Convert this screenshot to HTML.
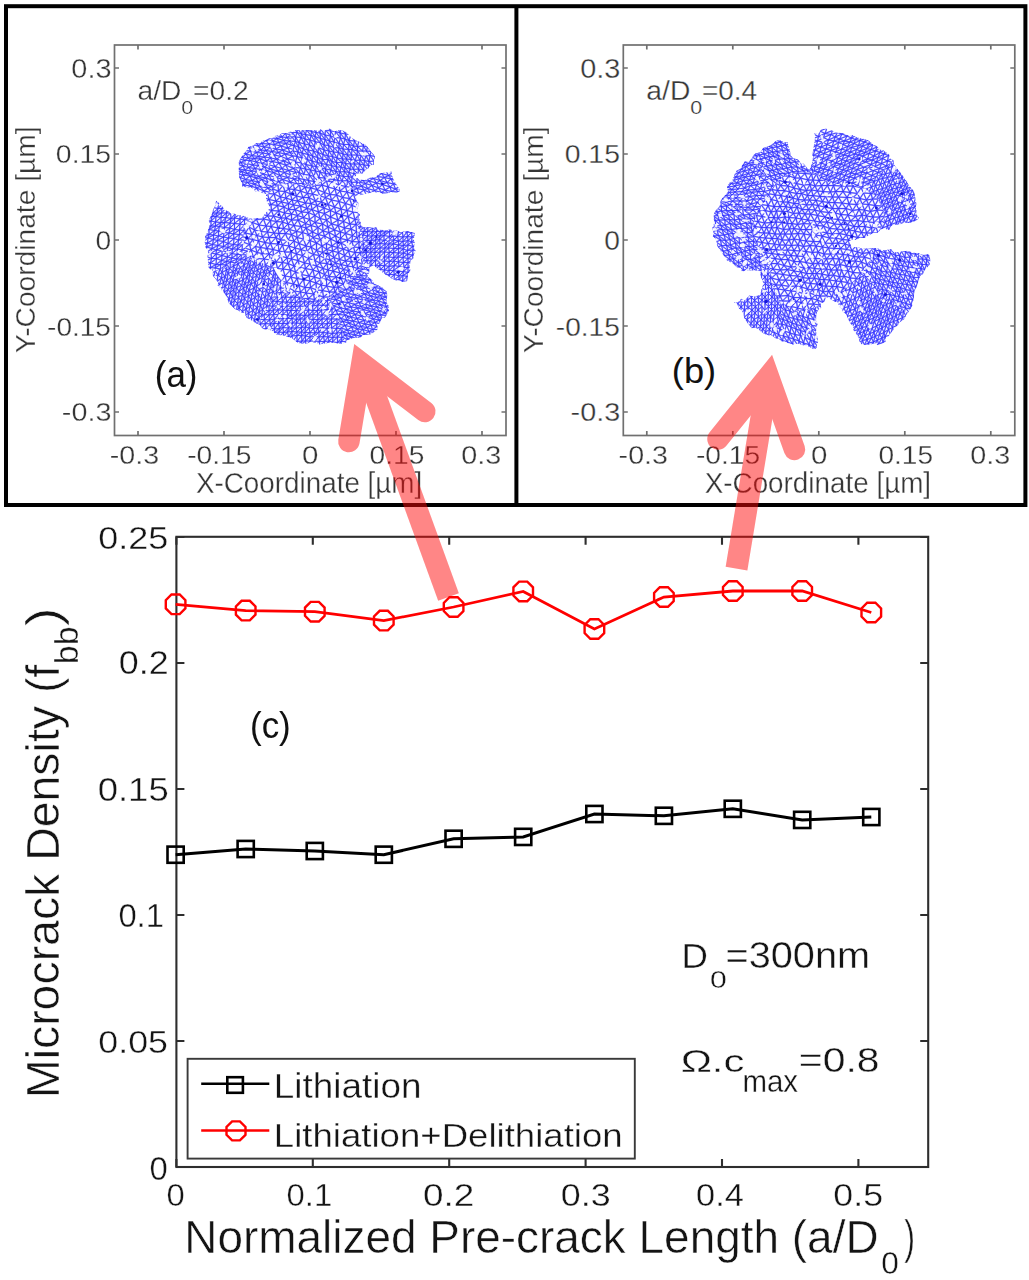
<!DOCTYPE html>
<html><head><meta charset="utf-8"><style>html,body{margin:0;padding:0;background:#fff;width:1029px;height:1280px;overflow:hidden}svg{display:block}</style></head>
<body><svg width="1029" height="1280" viewBox="0 0 1029 1280" font-family='"Liberation Sans", sans-serif'><rect x="0" y="0" width="1029" height="1280" fill="#fff"/>
<clipPath id="clip11"><polygon points="300.0,130.0 303.5,130.2 308.6,129.9 310.9,130.3 313.5,130.0 318.6,130.9 320.5,129.4 324.1,131.0 329.7,128.5 334.3,131.5 336.9,130.4 340.0,130.0 342.0,130.3 346.3,132.2 348.4,134.6 351.0,137.2 355.4,140.2 358.8,141.4 361.9,143.3 365.0,144.6 367.4,147.0 371.6,152.4 373.6,154.6 375.0,157.0 373.9,160.0 374.0,164.7 370.1,165.2 368.4,168.2 365.5,170.0 362.6,173.4 356.3,173.3 356.0,176.0 351.5,178.0 357.5,178.3 359.1,179.7 365.0,180.0 369.2,178.2 370.4,177.3 376.5,177.6 377.1,174.9 380.4,173.2 386.0,172.5 388.6,172.3 391.7,171.4 392.0,175.5 393.1,178.6 394.4,181.2 396.0,184.1 399.7,189.1 399.5,191.5 395.0,193.0 390.9,191.7 389.1,192.7 382.9,194.1 379.4,192.0 377.4,192.5 372.0,191.9 367.5,193.8 365.0,193.8 359.7,195.2 356.0,196.0 356.1,199.5 358.6,203.2 357.9,208.0 357.2,209.4 360.1,215.1 358.5,216.8 360.6,222.8 360.4,225.0 363.7,227.6 369.0,227.3 373.8,228.1 375.8,226.9 378.1,230.1 382.3,229.7 385.9,230.5 390.5,229.3 392.7,231.1 395.9,229.9 401.0,232.4 404.8,231.0 409.3,231.2 409.9,231.8 415.0,233.0 414.7,235.1 413.6,239.6 414.7,242.3 413.9,248.3 415.7,251.0 414.0,254.0 413.6,258.1 410.8,260.2 409.5,266.9 410.6,270.9 407.5,273.7 407.9,277.9 407.0,281.0 402.7,282.0 398.1,280.0 396.5,280.6 392.0,278.7 389.8,277.1 386.9,275.5 382.5,272.4 381.3,270.8 376.7,268.2 374.0,265.0 369.3,267.5 369.3,272.2 367.0,276.5 370.3,278.3 373.0,281.3 374.2,283.6 380.0,286.6 382.0,287.2 384.9,290.0 387.0,292.0 387.2,296.7 386.5,300.0 386.7,303.1 388.5,305.5 389.0,310.0 387.5,313.1 385.1,317.6 381.8,317.9 379.8,323.1 377.3,324.7 377.4,329.4 374.0,332.0 370.2,334.4 366.2,334.8 362.2,335.2 360.6,337.9 357.2,337.4 352.7,338.3 347.6,340.0 346.3,342.3 342.3,343.8 338.0,343.5 333.7,342.4 330.6,342.8 326.3,343.2 324.0,343.5 319.4,344.6 317.9,343.3 311.4,342.0 310.4,342.0 306.3,343.7 302.0,343.5 298.1,343.1 293.8,339.8 291.9,338.1 289.7,337.5 284.2,335.6 282.4,335.6 279.1,335.0 276.3,334.6 272.6,330.9 268.6,329.6 263.8,329.2 262.0,328.0 259.6,324.7 255.2,323.0 253.5,321.2 250.2,319.7 246.4,317.6 245.0,313.0 242.1,312.8 236.5,309.7 235.0,308.9 231.2,305.5 228.5,303.0 228.0,300.8 226.6,296.6 224.0,292.6 222.5,291.4 220.6,287.9 217.5,285.3 218.3,282.4 215.2,278.6 212.9,275.8 212.9,270.8 208.7,268.0 208.4,265.0 208.1,262.2 207.5,256.2 208.1,252.7 207.7,249.5 205.7,247.8 204.7,242.1 205.5,240.3 205.0,236.0 207.2,232.8 208.7,228.4 209.9,223.3 208.7,220.9 210.0,217.7 212.3,213.3 213.0,209.4 215.6,205.1 216.0,200.5 218.4,202.8 223.0,207.2 223.9,209.7 229.3,211.4 230.8,214.0 234.6,213.8 238.0,215.6 241.8,214.9 246.5,217.3 248.6,218.0 252.7,219.0 257.7,218.0 262.0,218.0 264.9,213.7 266.7,212.0 268.8,209.4 269.7,206.9 266.9,201.5 265.9,197.5 266.5,193.8 264.0,194.1 259.4,191.3 255.0,191.3 253.9,188.7 249.9,187.4 244.5,187.1 242.0,187.0 242.1,182.9 240.6,180.4 239.3,177.2 238.9,173.0 238.8,168.5 239.2,165.8 238.6,162.5 240.2,159.1 242.7,155.1 243.7,153.5 247.0,150.0 248.6,146.8 253.1,145.7 256.5,143.0 259.5,143.4 263.4,140.3 264.8,140.8 268.8,138.0 271.4,138.7 277.0,135.1 278.4,136.1 281.9,133.2 287.2,133.3 290.5,131.5 292.8,132.4 295.0,129.9"/></clipPath>
<clipPath id="clip11i"><polygon points="357.8,237.0 361.1,244.0 362.2,251.5 363.4,259.9 360.0,267.0 355.9,273.8 350.8,279.8 344.6,284.7 339.3,291.1 332.2,295.5 324.7,299.5 316.3,300.2 308.0,300.2 300.1,297.3 292.7,294.2 287.0,287.7 282.9,280.4 281.2,272.0 277.0,268.0 268.4,267.4 262.6,263.2 253.8,259.5 248.8,252.9 244.2,245.4 243.0,237.0 245.0,228.7 247.9,220.9 254.3,214.7 256.0,207.0 259.9,200.1 266.7,195.7 271.6,189.6 277.8,184.7 286.0,184.0 293.9,184.5 301.2,185.2 308.0,184.2 314.7,185.7 323.0,181.2 331.3,180.7 340.0,181.7 348.4,184.3 354.0,191.0 356.8,199.5 358.4,207.9 357.3,216.6 358.2,223.5 357.6,230.5"/></clipPath>
<clipPath id="clip11o"><path clip-rule="evenodd" d="M58.0 -13.0h500v500h-500zM357.8 237.0L361.1 244.0L362.2 251.5L363.4 259.9L360.0 267.0L355.9 273.8L350.8 279.8L344.6 284.7L339.3 291.1L332.2 295.5L324.7 299.5L316.3 300.2L308.0 300.2L300.1 297.3L292.7 294.2L287.0 287.7L282.9 280.4L281.2 272.0L277.0 268.0L268.4 267.4L262.6 263.2L253.8 259.5L248.8 252.9L244.2 245.4L243.0 237.0L245.0 228.7L247.9 220.9L254.3 214.7L256.0 207.0L259.9 200.1L266.7 195.7L271.6 189.6L277.8 184.7L286.0 184.0L293.9 184.5L301.2 185.2L308.0 184.2L314.7 185.7L323.0 181.2L331.3 180.7L340.0 181.7L348.4 184.3L354.0 191.0L356.8 199.5L358.4 207.9L357.3 216.6L358.2 223.5L357.6 230.5z"/></clipPath>
<clipPath id="clip11w0"><polygon points="308.0,237.0 403.5,134.6 418.3,150.8 430.4,169.1 439.6,189.1"/></clipPath>
<clipPath id="clip11w1"><polygon points="308.0,237.0 439.6,189.1 445.5,210.8 447.9,233.1 446.8,255.5 442.0,277.5 433.8,298.4"/></clipPath>
<clipPath id="clip11w2"><polygon points="308.0,237.0 433.8,298.4 419.8,321.3 401.7,341.0 380.1,357.0 355.9,368.6"/></clipPath>
<clipPath id="clip11w3"><polygon points="308.0,237.0 355.9,368.6 332.3,374.9 308.0,377.0 283.7,374.9 260.1,368.6 238.0,358.2"/></clipPath>
<clipPath id="clip11w4"><polygon points="308.0,237.0 238.0,358.2 218.0,344.2 200.8,327.0 186.8,307.0 176.4,284.9"/></clipPath>
<clipPath id="clip11w5"><polygon points="308.0,237.0 176.4,284.9 169.9,260.1 168.0,234.6 170.8,209.1 178.2,184.6"/></clipPath>
<clipPath id="clip11w6"><polygon points="308.0,237.0 178.2,184.6 188.8,163.5 202.9,144.5 219.9,128.2 239.4,115.0 260.9,105.2 283.7,99.1"/></clipPath>
<clipPath id="clip11w7"><polygon points="308.0,237.0 283.7,99.1 309.5,97.0 335.2,99.7 360.0,107.0 383.0,118.8 403.5,134.6"/></clipPath>
<filter id="clip11f" x="-5%" y="-5%" width="110%" height="110%"><feGaussianBlur stdDeviation="0.4"/></filter>
<g filter="url(#clip11f)"><g clip-path="url(#clip11)">
<defs><path id="clip11pa" d="M348.5 158l5.5 2.5l7.5 1l5.5 2l6.5 2.5l6.5 3l5.5 1.5M320 157.5l5 2l6.5 0.5l6 1.5l6.5 1l6 1.5l6 1.5l7 3l6 1.5l7 2l6 1.5l5.5 3M297.5 157.5l5 2l6 2l6.5 1l5.5 0.5l7 1.5l6 1.5l5 1l6.5 2l7 0l5.5 3l6.5 1.5l7 2.5l7 2l5.5 1.5M282 157.5l5 2.5l5.5 3l6.5 1l5 1l7.5 2l5.5 1.5l4.5 0.5l7 1l6.5 1.5l5.5 1.5l7.5 2l5.5 1.5l7.5 1l5 3l6.5 2l6.5 1.5l5.5 2M272.5 159.5l5.5 1.5l5.5 3l4.5 2.5l6.5 2l6 1.5l6 2l5 1.5l7.5 1.5l5 1l7.5 0l5.5 2l6.5 1.5l6 2l6 0.5l7 2.5l6.5 2l6.5 1l5.5 3l6.5 0.5M249.5 157l5.5 1.5l7.5 2l5.5 2.5l5.5 2l6 4l5 1l5.5 2l5.5 2.5l7 1l5.5 2.5l5.5 1l6.5 0l6.5 2l5.5 1l7 3l6.5 1.5l6 1l7 1.5l6.5 2l6.5 1l5.5 1.5l5 2M233.5 157.5l6 3l5 0.5l6 1.5l6.5 2l6 2.5l5.5 2l6 2.5l5.5 2.5l5.5 3l6 1l6.5 3l5 0.5l6.5 2.5l5.5 1.5l7-0.5l6 2l7 2l5 2l7 1l6.5 2l7.5 2l5 0.5l6.5 2.5l5.5 1l6 1.5M234.5 164l5 1l7.5 2l5.5 3l6 2l5.5 1.5l5.5 3l6 1.5l6.5 3l5.5 1.5l6 1.5l6 1l5.5 2.5l5.5 0.5l6.5 1.5l7.5 3l5.5 2l6.5 0.5l6 2.5l7 1l6 2l6 2l7 0l6.5 1.5l5 2l6 0M229.5 167.5l6 2l5 2l7 1l5.5 2.5l6.5 2.5l6.5 2.5l4.5 2l7.5 2.5l5 1l6 3.5l5.5 0.5l6 1.5l7 2.5l5 0.5l7.5 2l5.5 1.5l6 2.5l7.5 1.5l6.5 2l6.5 2l5.5 2l6 1.5l7 0l6.5 2l5 1l5.5 0.5M230.5 173l5.5 3.5l6.5 1l5.5 3.5l6 2l7 2l6 2l5.5 2l6 2l6.5 0.5l5.5 2.5l6 2l6.5 1.5l6 0l6.5 3.5l6 1l6.5 2.5l6.5 2.5l6.5 2l6 1.5l6 1.5l7 1l5.5 2l5.5 0.5l7 0.5l6 0.5M231.5 180l6 1.5l5.5 3.5l5.5 1.5l6.5 2.5l7 2l5.5 2.5l6.5 0.5l6.5 3l5.5 1l6 2l5.5 1l8 2l5.5 0.5l6 2l7 2.5l6.5 2.5l5.5 2.5l6 2l6 1.5l7 3l4.5 0l6.5 0.5l7 2l5.5 1l5-1M232.5 186l5.5 2l7.5 2.5l6 3l5 2l7 2l5.5 2l7 1.5l5.5 1l7 1.5l5 1.5l7 1l6.5 2.5l5 1l6.5 2.5l6 1.5l6 3.5l7.5 3l5.5 1.5l6.5 2.5l6 0.5l5 2l7-0.5l6 2l6 0l5 1M233.5 192l6 3l6.5 2.5l6.5 2l5.5 2.5l6 1l7 1.5l6.5 1l6.5 1.5l4.5 2.5l6.5 0l6.5 2.5l7 0.5l6.5 3l5 3l6.5 1.5l5 4l6.5 1.5l6.5 2.5l6.5 1l5.5 2.5l6.5 0l5 0l6.5 0.5l6 2.5l5.5 0M228.5 197.5l6.5 2.5l5.5 1l7.5 4l6 1.5l6.5 2l5 0l6 2l7 0.5l6 2l7 1l6 1.5l6 2l6 2l5.5 3l7.5 1.5l5.5 3l6.5 3l6 2l5 1.5l7 2l4.5 2l6 0.5l5.5 0l7 0l5.5 1.5l6 0.5M230 204l7 1.5l5 2l7 3.5l7 2l6 1l5.5 2l6 0l7.5 2l5 0l5.5 2l6.5 0l7.5 3.5l5.5 2l7 2l5 3.5l6 1.5l6.5 3.5l5 2.5l7 1.5l4.5 1.5l7 0.5l5.5 1.5l6 0l4 0l7.5 1l4 1.5M232.5 209.5l6.5 2.5l6 2l6 3.5l5.5 2l7-0.5l7 1.5l6 1l6 0.5l5.5 2l6 1.5l7 1l5 1.5l6.5 4l5.5 2.5l6.5 1.5l6 3l6.5 3l4 1l6.5 3.5l6 0.5l5.5 0.5l6 1.5l5 1l5 0.5l6.5 0.5l5 0.5M228.5 215l5.5 1.5l6.5 3l6.5 2l5.5 1l6.5 2.5l7 1l5 0.5l7 1.5l5.5 0.5l6 1l7 2l6 1l6 2l4.5 3l7.5 2l6 4l5.5 2.5l5.5 1.5l5.5 1.5l5.5 2l6.5 1.5l5.5 0l5 1.5l5 1l6 0l5.5 2.5l5.5 0M230.5 221.5l6.5 1.5l6.5 2.5l5.5 1.5l5.5 3l6.5 1.5l6.5 0.5l6.5 1l5 0.5l6.5 0l6 1l5.5 3l6.5 1.5l6.5 1.5l6.5 2.5l5.5 3l4.5 3.5l6 1.5l6 1.5l6 3l6 2l5.5 0l5 0l5.5 2.5l5.5 1l5 1l5.5 1M232.5 227.5l6 3l7 2.5l6.5 1.5l5 1l5.5 1.5l6.5 0.5l7 0l4.5 2.5l7.5 0l6 1l5 2.5l7 2.5l5 1l5.5 3.5l6 2l6 1.5l5.5 3.5l5.5 2l6 1.5l6 0.5l5.5 0.5l5.5 2l6 1.5l4 0.5l6.5 2l5.5 1M229.5 231.5l6 2.5l5.5 2l7 2.5l4.5 1l6 1.5l6.5 1.5l5.5 1l7.5 0.5l4.5 1l6.5 1l6 2l6 1.5l6 2l6.5 3l6 1l5.5 3l5 1.5l5.5 3l5.5 1.5l6.5 1.5l5.5 1l4.5 1.5l6 0l6 1l5 3l5 0.5l7.5 2M231.5 238.5l6.5 1.5l5 2l6.5 2.5l6 2l5 1l6.5 1l6 1l6 1.5l5.5 1l6.5 0l5.5 2l6 1.5l6 3l6.5 2l5 2.5l7 0.5l5.5 2l5.5 2l5.5 2l5 1l5 2l6.5 1.5l4.5 0.5l6 2.5l5.5 1.5l6 1M233 244l6 2l5.5 2l6.5 2l6 2.5l5 1l7 0.5l4.5 1.5l7.5 0.5l6 2l4.5 1l6.5 1.5l6.5 2.5l5.5 1l6.5 2l6.5 2.5l5 1.5l5 1l7 2l5 1l4.5 2l7 1.5l4.5 1l7 2l5 1.5l5 2l6 1.5M228.5 249l6.5 1l6.5 2.5l6 2.5l6 2l4.5 1.5l6 0.5l6.5 1l5.5 2l6.5 0.5l5.5 1l6 2.5l6 1.5l5.5 1l7.5 1.5l6 2l5.5 2.5l4.5 2l7 0.5l5 1.5l5 0.5l7 3l5 0.5l5 2l7 1l5 3.5l7 1l5.5 2M231 254.5l6 2.5l5.5 1.5l6.5 3l5 1.5l5.5 0.5l6 1.5l5.5 2.5l6.5 1l5.5 0.5l7.5 1l5 2l6 2.5l7.5 1.5l5.5 1l6.5 2l5.5 0l4.5 2l6.5 1.5l6 1.5l5 1.5l4.5 0.5l7 1.5l4.5 2.5l6.5 1.5l6.5 4l6 2M233.5 260.5l5 2l5.5 2l5.5 2.5l5 0.5l7 3l5 0l6 1.5l6 2l6.5 2l6 1l6 1.5l6.5 1l6.5 1.5l6 2l5 2l5.5 1l7.5 1.5l4-0.5l6.5 2l6.5 1.5l4.5 2l7 1.5l5.5 1.5l6.5 2.5l5 3.5l7 0.5M228.5 265.5l5.5 2l6 1l5.5 3.5l6 0l5 2l6.5 2l4.5 2l6.5 1.5l7.5 1.5l5 1.5l7 1.5l5.5 1.5l6 2l5.5 0l6 2.5l6 0.5l7 1.5l5.5 0l5 1l6.5 2l6 2l5 0.5l7 2.5l5 3l6.5 2l5.5 1.5M229 270.5l6 2l6.5 2l5.5 3l5.5 1.5l5 2l6 1.5l6 0.5l6 2.5l6.5 2l7 0.5l5.5 3l6 1l5.5 1l7.5 1l5.5 1.5l4.5 1.5l6 0l7 0.5l4.5 2l6 0.5l6 3l6.5 1.5l6.5 1l7 2.5l6 2.5l5.5 3M231.5 277l5 1.5l5 2l5.5 2l7 2.5l4.5 0.5l7 3l5.5 1l6.5 2l7 1.5l5 2l7.5 0.5l4.5 3l7 0l6 1l4 2l6.5 1l5.5-0.5l6.5 2.5l5.5 0.5l6 2.5l6.5 2l7 1l5.5 3l6 1M231.5 284l6.5 2l5.5 1.5l4.5 1.5l6.5 1.5l6 2l7 1l6.5 2l4.5 1.5l7.5 1.5l5.5 1.5l6 2.5l5 2l6.5 0l5.5 1.5l5 0l5.5 2l7.5 0.5l4.5 0.5l7 2l6.5 3l6.5 0.5M233.5 289l4 2l7.5 1l5 2l5.5 2l6.5 1.5l6.5 3l7 1.5l5 1.5l7.5 2l4 2l6 0.5l6 1.5l5.5 1.5l6.5 0l5 1.5l5 0l7 2l6 2M229 294l4.5 1l7 2l5.5 1.5l5 1.5l7 1.5l6.5 2.5l5.5 1.5l6.5 3l6 0l5.5 3.5l6 0.5l5 2l6 1.5l5.5 0M230 299.5l6 2.5l6.5 1l5 2.5l6 1l6.5 1.5l6 2l5.5 2l6.5 1l6 2M231 306l5.5 2l6.5 1l6 1.5l8 2.5l5.5 1l6 2M229 294l1 5.5l1 6.5M228.5 265.5l0.5 5l2.5 6.5l0 7l2 5l0 6l2.5 7l0.5 6M228.5 249l2.5 5.5l2.5 6l0.5 7l1 5l1.5 6l1.5 7.5l-0.5 5l3 6l2 6l0.5 6M229.5 231.5l2 7l1.5 5.5l2 6l2 7l1.5 5.5l1.5 6l1.5 6l0 6l2 7l1.5 4.5l1 6.5l1.5 7l1.5 5M228.5 215l2 6.5l2 6l3 6.5l2.5 6l1 6l2.5 6.5l1 6l1.5 6l1.5 7.5l1.5 5.5l0 5l1 6.5l2 5l1 6l2.5 6.5l3.5 6.5M228.5 197.5l1.5 6.5l2.5 5.5l1.5 7l3 6.5l1.5 7.5l2.5 5.5l2 6l1.5 6l3 7l1.5 6.5l0.5 5.5l2 5l1 7l1.5 6l0.5 5.5l1 5.5l2.5 5.5l2 6.5l2.5 6M229.5 167.5l1 5.5l1 7l1 6l1 6l1.5 8l2 5.5l2 6.5l1.5 7.5l3 6l2 7.5l2.5 5.5l1.5 6l1.5 5.5l2.5 7l0.5 6l0.5 4.5l2 6.5l1 7l1 4.5l2 7l1.5 5l2.5 6.5l1.5 6l2.5 6M233.5 157.5l1 6.5l1 5.5l0.5 7l1.5 5l0.5 6.5l1.5 7l1 6l1.5 6.5l3 6.5l2 7.5l2 5.5l3 7.5l0.5 5l3 7l1.5 6l1 6l1.5 5l2 7l1.5 5.5l0.5 6.5l2 6l2 5l1 7l1.5 5l1.5 6.5M239.5 160.5l0 4.5l1 6.5l2 6l0.5 7.5l2.5 5.5l0.5 7l2 7.5l1 6l2 6.5l1.5 5l2 7.5l2.5 5.5l1.5 5.5l2 6.5l1.5 6l2 5.5l1.5 6l1 5.5l1 7.5l2 5l1.5 6.5l3 6l1.5 6.5l1 6.5l1.5 4.5M244.5 161l2.5 6l0.5 5.5l0.5 8.5l0.5 5.5l3 7l1 6l1.5 7l2 6.5l0.5 6.5l2.5 5.5l2 6.5l1.5 5.5l2.5 5.5l2 6l2 5.5l1.5 6l0.5 7.5l1.5 4.5l1.5 7.5l1.5 6l2 6l1 5.5l2 6.5l2 5l1.5 6.5M249.5 157l1 5.5l2 7.5l0.5 5l1 8l1 6l1.5 6.5l1.5 6.5l2.5 6.5l1.5 5.5l1.5 5l2.5 7l1.5 6l1.5 5.5l1.5 6l2.5 6l0.5 6l2.5 6.5l1.5 6.5l1 5.5l3 7l0.5 6.5l2.5 5.5l1.5 5.5l2 7l0 6.5M255 158.5l2 6l1.5 7.5l1 5.5l1.5 7.5l1 6l1.5 6.5l0.5 5.5l1.5 5.5l2 7.5l3 4.5l0.5 6l3 6.5l2 4.5l2 6.5l1 7l2 5l1.5 6.5l0.5 6.5l2 7l1.5 6.5l2.5 5.5l0.5 7l2 5l0.5 7.5l2 5M262.5 160.5l0.5 6.5l1 6.5l2 6.5l1 7l0.5 6.5l1.5 6l2 5l0.5 6l2 5.5l3 5.5l1.5 6.5l1 5.5l1.5 6.5l2 5l2 7l2.5 6l1 5.5l2.5 6.5l0.5 7l2.5 7l1 7l2.5 4.5l0.5 7l0.5 5.5l1 6.5M268 163l0.5 6l1 7.5l1 5.5l2 7l1.5 5l2 7l1.5 4.5l1 5.5l2.5 7l1.5 4l1 6.5l2 5l2.5 6.5l1 6l2 6l0.5 7l2.5 7l1.5 6l1.5 6.5l2 7l1.5 6.5l1 6.5l1 6l1.5 5l1 6.5M272.5 159.5l1 5.5l1 6.5l1 6.5l2.5 6.5l0.5 6.5l2 6l1 5l2.5 5l0.5 6l1.5 5l2 6l1.5 5.5l2 5l2.5 6.5l1 7l1.5 6l1.5 6.5l2 7l1.5 7l2 5l1.5 8l1 5.5l2.5 5.5l0.5 6l0.5 6.5l1 5M278 161l1.5 8l0.5 5l2 7l1 4.5l2 6l1 6.5l2.5 5.5l0 6l3 4.5l0 6l2.5 5.5l2.5 6l0.5 6l2 6l2 6l1.5 6l2 7.5l1 5.5l3.5 7.5l1 5l0.5 6.5l3 6.5l1 5.5l0 6.5l1.5 5M282 157.5l1.5 6.5l1 6l1 7l2 5.5l1.5 6.5l1.5 5l1.5 6l1.5 5l1.5 4.5l2.5 6l0.5 4.5l3 6.5l1.5 6l1 6.5l2.5 7l1 5.5l1.5 7l1.5 5.5l3 6l1.5 7l1.5 6l0.5 7l2.5 5.5l-0.5 6l1 4.5l1.5 6.5M287 160l1 6.5l2 5.5l1.5 6l2 6l1 5.5l2 6.5l1 5l3 5l1 6l2 5.5l2 6l0.5 4.5l2.5 6.5l1.5 6l1 6.5l2.5 7.5l1.5 6l1.5 5.5l2.5 6l2 7l0 6l1.5 5.5l1 6.5l1.5 5.5l0 5.5l1 4.5M292.5 163l2 5.5l1 6l2.5 6.5l1.5 4l1 6l2.5 6.5l2.5 5.5l1.5 5.5l1.5 4l1 7l1.5 6l1.5 6.5l0.5 5.5l3.5 5.5l0 7.5l3 5l0.5 7.5l3 5.5l1.5 6l2 4.5l0 7l3 6l0 5l1 5l2 6.5l0.5 6M297.5 157.5l1.5 6.5l1.5 6l2 5.5l0.5 6l2 6l2.5 6l1.5 4l2 6l1 6l3 6l0 7l3 5l0 7l2.5 5l1.5 6.5l0.5 6.5l2.5 6l2 5l1 6.5l1 6.5l2 4.5l3 6.5l1 4.5l1.5 5.5l0.5 7l0 4.5l2 7.5M302.5 159.5l1.5 5.5l2.5 7l1.5 6l1.5 6l1 4l2 6l3 7l1.5 4.5l1.5 6.5l1.5 6.5l2.5 5.5l0.5 7l1.5 5l2 7.5l0 6l2 4.5l1.5 6l2.5 5.5l0.5 5.5l3 6l1.5 5.5l0.5 4.5l2 6l1 6.5l1.5 5.5l1.5 6M308.5 161.5l3 5.5l0 6.5l2 5.5l1.5 6.5l2 4l3 6.5l1.5 6l2.5 6l0.5 5.5l2 6.5l1.5 7l1 5.5l1.5 6.5l1.5 7l0.5 5l1.5 6.5l1.5 5.5l2.5 4.5l2 5.5l1 5.5l2.5 5.5l1 5l2 6l0.5 5l1.5 7.5l2 6.5M315 162.5l2 6l2 6.5l1 4l2 6l2.5 7.5l1 5l2.5 7l2.5 6l0 6.5l1 7l3 6l1 6l1.5 6l0.5 5.5l1 5l1 7l1.5 5l2.5 5l1.5 4.5l1 5l2.5 6.5l2.5 5l1.5 6.5l0.5 6l2 6.5l2 5M320 157.5l0.5 5.5l1 6l2.5 7l2.5 5l1.5 6l2 7.5l1.5 5.5l3 7l1.5 6l2 7l0 5.5l2.5 6.5l0 6.5l0.5 4.5l2 6l1.5 6.5l1 5.5l2 5l1 4.5l1 5.5l3.5 6l0 4l2.5 6.5l2 5l2 7l2.5 6M325 159.5l2.5 5l1 5.5l3 6l0.5 6l3 7l1.5 6l2.5 6.5l2 7.5l1 6l1.5 6.5l1 6.5l1 5.5l2 6.5l0 6.5l1 4.5l2 6.5l1 4l1.5 5.5l0.5 5.5l3 5l1.5 5l2 5l2.5 6.5l2 6l1.5 5.5l1.5 8M331.5 160l2 6l1.5 5.5l2 6.5l2 7l1 6l2.5 6.5l3 6l1.5 7l1 6l2 7.5l1 5l1.5 6.5l-0.5 6l1.5 5.5l1.5 5.5l1 5l1 4.5l0.5 6.5l2.5 5.5l1 4.5l2 6l1.5 5.5l3.5 5.5l1.5 7.5l3.5 5l0.5 6.5M337.5 161.5l1 5.5l2 6l3 6.5l2 7l1.5 5.5l2.5 6.5l2.5 7l1 6.5l2 7.5l1 5l0.5 7l0.5 6l2 4.5l0 5.5l1.5 5l0.5 5l1.5 6.5l1 4.5l1 6l3.5 6l2 5l1 6l3.5 6.5l1.5 7l3 5.5M344 162.5l1 6.5l3 6l1.5 6.5l2 6l2 6.5l2 6.5l2 7l2.5 5.5l-0.5 6.5l1.5 7l2 5l0 6.5l1.5 5.5l0.5 5.5l0.5 5l1 6l2 5.5l1 4l1 7.5l2.5 5l2 7l2.5 6.5l2 6l2 5l3 7M348.5 158l1.5 6l2 5l1.5 7.5l2 5.5l3 7l2.5 7l0.5 6.5l2 6.5l2 6l0.5 5l2 6l0 5.5l0.5 6.5l2 5.5l-0.5 6.5l0.5 5l1.5 6l0.5 5l2 6.5l1.5 6l2 5.5l4 6l1.5 7.5l3 4.5M354 160.5l2 5l1.5 6.5l3.5 5.5l1.5 7l2.5 6.5l1 5.5l2.5 6l2 6.5l0.5 6.5l2 6.5l1 6l0.5 4l1 6l-1 5.5l0.5 7l1.5 4.5l0.5 7l2 6l0.5 5l2.5 6.5l2 6l3.5 6.5M361.5 161.5l1.5 7l1 5l2 7l3 6l2.5 5.5l1 7l2.5 5l2 7l1 5l0.5 7l1.5 5l0.5 6.5l0.5 5l1 5l-0.5 6.5l0.5 6.5l0.5 5.5l2 6l2.5 6M367 163.5l2 6.5l2 6l1.5 6.5l3 5l1.5 6l1 6.5l2 6l2 6l2 4.5l-0.5 5.5l1.5 7l1 5.5l1 5.5l-1 6l0.5 5.5l1 6M373.5 166l2.5 6l2 6l1 6l2 6.5l1 5l2 6l2 4.5l1.5 6.5M380 169l2 4.5l1.5 6l1 6.5l3 5M385.5 170.5l2 6M239.5 160.5l-5 3.5l-5 3.5M249.5 157l-5 4l-5 4l-4 4.5l-5 3.5M255 158.5l-4.5 4l-3.5 4.5l-6.5 4.5l-4.5 5l-4.5 3.5M262.5 160.5l-5.5 4l-4.5 5.5l-5 2.5l-5 5l-5 4l-5 4.5M272.5 159.5l-4.5 3.5l-5 4l-4.5 5l-5.5 3l-5 6l-5 4l-5 3l-4.5 4l-5 5.5M282 157.5l-4 3.5l-4.5 4l-5 4l-4.5 4.5l-4.5 4l-5.5 5.5l-5.5 3.5l-3 4l-6 4.5l-4.5 5l-5 4M287 160l-3.5 4l-4 5l-5 2.5l-5 5l-3.5 3.5l-5 5l-6 4l-3.5 4.5l-5.5 4l-5.5 3.5l-3.5 4.5l-4.5 4l-4 5.5M297.5 157.5l-5 5.5l-4.5 3.5l-3.5 3.5l-4.5 4l-4.5 4l-5 4l-3.5 5l-5 4l-5.5 4.5l-4 4l-4.5 5.5l-6 2.5l-3 4.5l-5 4.5l-3.5 5M302.5 159.5l-3.5 4.5l-4.5 4.5l-4.5 3.5l-4.5 5l-3.5 4l-4 3.5l-5.5 4.5l-5 4.5l-4 4l-5.5 4.5l-4 4.5l-5 4.5l-4 3l-4.5 5.5l-3.5 3.5l-4.5 4.5l-3 4M308.5 161.5l-4.5 3.5l-3.5 5l-5 4.5l-4 3.5l-4 4.5l-4.5 3l-4.5 5.5l-4.5 3l-5 5.5l-5 3.5l-3.5 5.5l-4.5 4.5l-5 4.5l-4 4l-3.5 4l-5 5l-3 3.5l-4 4.5M320 157.5l-5 5l-3.5 4.5l-5 5l-4 3.5l-4.5 5.5l-4.5 3l-4.5 5l-4 2.5l-4.5 5.5l-4.5 4l-5 3.5l-5.5 4l-3.5 5.5l-5.5 5.5l-4 3l-3.5 4.5l-3.5 6l-4.5 3l-3 4l-5 4l-4.5 5M325 159.5l-4.5 3.5l-3.5 5.5l-5.5 5l-3.5 4.5l-5 3.5l-3.5 3.5l-5 4.5l-4 4.5l-4.5 4l-4.5 4l-4 3.5l-6 5l-4 5.5l-4 3l-4.5 6l-4.5 5l-2.5 4.5l-4 4l-5 3.5l-4 4l-4 4l-4 4.5M331.5 160l-4 4.5l-6 4.5l-2.5 6l-5.5 4l-4 5l-4.5 3.5l-4.5 3.5l-4 5l-4.5 4l-3.5 3.5l-4.5 3.5l-5.5 4l-5 5l-3 4.5l-4.5 5.5l-5 5.5l-4 4l-4.5 4l-3 5l-5 3.5l-3 4.5l-4.5 4.5l-3.5 3.5l-5 5M337.5 161.5l-4 4.5l-5 4l-4.5 6l-4 3l-5 6.5l-4.5 2.5l-3 5.5l-4.5 4l-5.5 3.5l-4 4l-5 4.5l-4 3.5l-3.5 5l-4.5 3.5l-5.5 5l-3.5 5.5l-5 5l-4 4l-3 5.5l-4.5 3.5l-3.5 5l-5 3.5l-4 4l-4.5 5l-5 3M348.5 158l-4.5 4.5l-5.5 4.5l-3.5 4.5l-3.5 4.5l-5 5l-4.5 4l-5 4.5l-4.5 4.5l-3.5 3.5l-3.5 5.5l-5 3l-5.5 3.5l-3.5 4.5l-5.5 4l-3.5 4l-4.5 6l-4 5l-5 4.5l-4 5l-4.5 5l-3.5 5l-3.5 4.5l-4.5 4.5l-5 3l-4 4l-5 4l-3.5 4.5M354 160.5l-4 3.5l-5 5l-4.5 4l-3.5 5l-5 4l-4 5l-3.5 5.5l-4.5 3.5l-4.5 5l-4.5 2.5l-4 5l-5.5 3.5l-4 3.5l-6 4.5l-3.5 4l-4.5 4.5l-4.5 5l-3 4l-5.5 6l-3.5 5l-5 5l-4 5l-4 4.5l-4.5 4l-4 5l-4 2.5l-5 4l-5 5.5M361.5 161.5l-5.5 4l-4 3.5l-4 6l-4.5 4.5l-4.5 5.5l-4 4l-5 5.5l-4.5 3l-4 4.5l-4.5 3.5l-5 4l-3.5 3l-5 5l-5.5 2.5l-4 5.5l-4.5 4l-4 4l-5 6.5l-2.5 4l-5 5.5l-4 4.5l-5 5l-4.5 4.5l-5 4l-3 4.5l-4.5 5.5l-5.5 3l-3.5 5.5l-4.5 3l-4.5 5M367 163.5l-4 5l-5.5 3.5l-4 4.5l-4 5l-4 5l-5.5 4.5l-3.5 4l-5 5l-3.5 4.5l-4 3.5l-5.5 4l-3.5 3.5l-5.5 4l-4 4l-4.5 3l-4.5 5l-5 3l-3.5 5.5l-5.5 5l-3.5 6l-5.5 4.5l-3 4.5l-5 5l-4 5.5l-5 3.5l-4 5l-5.5 3.5l-3.5 5l-6 3.5l-4 4l-3.5 4.5M373.5 166l-4.5 4l-5 3.5l-3 4l-5.5 4.5l-4 5.5l-4.5 4.5l-4.5 5.5l-3.5 4l-4.5 5.5l-4 3.5l-6 3l-4.5 5l-5 4l-4 3l-5 2.5l-3.5 4.5l-5.5 5l-3 3.5l-5 5l-4.5 6l-3.5 4l-5 6l-5 5.5l-4.5 3l-3.5 5.5l-5.5 5l-3.5 4l-6 4l-3 3l-4.5 5l-4.5 5l-5 4M380 169l-4 3l-5 4l-5 4.5l-3.5 4l-4 4.5l-5 5l-4 4.5l-4 5l-4.5 5.5l-5 4l-5.5 4l-4 3l-4 4l-4.5 3.5l-5.5 4.5l-4 2.5l-5 4.5l-4.5 4.5l-4 4.5l-4 4l-4 6l-4.5 4.5l-5 6l-5 3.5l-5 6l-4 4.5l-5 3l-4 5l-4.5 3.5l-4 4.5l-3.5 4.5l-6 5M385.5 170.5l-3.5 3l-4 4.5l-5.5 4.5l-3.5 4l-4 4.5l-4 5l-5.5 4.5l-3.5 5l-5 5l-5 4.5l-4 5l-6.5 4l-3.5 3l-5 4l-5 3.5l-5 3l-3 3l-4 5.5l-5 3.5l-4.5 4.5l-5 5l-3.5 4.5l-5 5.5l-4.5 5l-4.5 5.5l-4.5 3.5l-4 5.5l-5 4l-5 3.5l-4.5 4l-3.5 5.5l-4.5 3.5M387.5 176.5l-4 3l-4.5 4.5l-3.5 3.5l-4 4.5l-5.5 4.5l-4.5 6l-4 5l-4.5 4.5l-5 4.5l-4.5 5l-5.5 4l-3.5 4.5l-5.5 2.5l-4.5 3.5l-4 3.5l-4 3.5l-5.5 4l-4 4.5l-4.5 4l-4.5 5l-4 5.5l-3.5 4l-5.5 6l-3.5 5l-6 4.5l-4.5 4l-3.5 4l-5.5 4l-4 4l-4.5 5l-4.5 4M384.5 186l-3.5 4.5l-4 3l-4.5 5.5l-4 3.5l-5 6.5l-3.5 4l-5 6.5l-5 4.5l-5.5 4l-4 4l-5 4l-5 3l-4 4.5l-4.5 2.5l-5.5 4.5l-3 4l-5 4l-4 4.5l-4.5 4.5l-4.5 4.5l-4.5 5l-4.5 5.5l-4.5 5l-4.5 4l-3.5 4l-5.5 5l-4 3.5l-4.5 4l-3 5M387.5 191l-5.5 4.5l-4 4.5l-3 4l-4.5 5l-5 6l-6 4.5l-3.5 5l-5 4.5l-5.5 4.5l-5 5l-3.5 3.5l-5 4l-5.5 3.5l-4 3l-3 3l-4.5 5l-5 3.5l-4.5 4.5l-4 6l-4.5 4l-3.5 5.5l-4.5 4l-4.5 5l-6 4l-3 5l-5.5 3.5l-4 4.5l-3.5 4M384 201.5l-4 4.5l-3 5l-6 4.5l-5 4.5l-5 6.5l-4.5 5l-4 4l-5 4.5l-6.5 3l-3.5 4.5l-5 3.5l-4 3l-3.5 4.5l-5 4.5l-3.5 3l-3.5 4l-4 6l-5.5 3.5l-4.5 6l-4.5 5.5l-5 4l-3.5 3.5l-5.5 5l-4 5l-5 3.5l-3 4M386 206l-4 6l-4 4l-5 6l-5 4l-5 5.5l-6 6l-5 4l-4.5 5l-4.5 2.5l-4.5 3.5l-4.5 5l-4 2.5l-3 3.5l-4 5l-4 3.5l-4.5 5l-4.5 4l-5 6.5l-4.5 4.5l-3.5 3.5l-5.5 4.5l-3.5 5.5l-5.5 3l-4.5 4.5M387.5 212.5l-3.5 4l-5.5 6.5l-4.5 5l-6 3.5l-5 6.5l-4 4l-5.5 5l-5 4l-4 4.5l-5 4l-4 3.5l-3 2.5l-4.5 4.5l-3.5 4.5l-3.5 4.5l-5 4l-5.5 4.5l-4.5 5.5l-4.5 5.5l-4 4l-5.5 5l-4 4.5l-4 3M383.5 222l-3.5 6l-5.5 4l-6 6l-4 5.5l-5.5 4l-4 5l-4.5 5l-5 3.5l-4.5 3.5l-3 3l-5 3.5l-4 5.5l-2.5 2.5l-5.5 6l-4.5 5l-3 4l-5 4.5l-6 6l-4.5 3.5l-4 4.5M385 229l-4.5 5.5l-5 3.5l-5 5.5l-5.5 5.5l-4.5 3.5l-4.5 5l-4.5 4l-4 4.5l-4 3.5l-3.5 3.5l-4 4l-5 4l-4.5 5l-4 4.5l-3.5 5l-4.5 4l-5.5 5l-5 5l-5 5M386 234.5l-5 5l-6.5 4l-4.5 6.5l-4.5 4l-4.5 3.5l-4 4.5l-4 5l-4.5 3.5l-3.5 3.5l-4 4.5l-3.5 4l-3.5 5l-4.5 4.5l-6 5l-5 4.5l-4 4.5l-5 5l-4.5 5M387 240l-5 4.5l-7 6l-4.5 4.5l-4 5l-4 4l-5 4.5l-4 4l-4 3.5l-3.5 3l-2.5 5l-5.5 3l-3 5l-5.5 5l-4.5 5.5l-5.5 3.5l-3.5 5l-5.5 5M386 246l-4.5 5l-5 4l-4.5 6l-3.5 4.5l-5 3l-3.5 5.5l-3.5 3.5l-3.5 4.5l-4.5 3.5l-4 3.5l-4.5 4l-3.5 4.5l-6 4.5l-5.5 6l-4 4.5M386.5 251.5l-4.5 6l-5 4.5l-4.5 4l-3 3.5l-5 5l-3.5 4l-3 4l-5 3.5l-2 4.5l-4.5 4.5l-5.5 4.5l-4 5l-4.5 4l-6.5 4M387.5 257.5l-5 5.5l-3.5 5l-4.5 4.5l-4 4.5l-2.5 3.5l-5 4l-3 3l-4.5 5l-3 4.5l-5.5 3l-4.5 5l-5.5 4l-4 5.5M384.5 269l-5 4l-3.5 5.5l-3 3.5l-3 3.5l-5.5 4.5l-2 4l-5 3.5l-4.5 5.5l-4.5 4.5l-4.5 3.5l-5 5.5M387 275l-5 4.5l-4 4.5l-3 5l-4 2.5l-3 4l-3.5 4.5l-5 4.5l-4.5 5l-4.5 4.5M384 285.5l-2 4.5l-4.5 5.5l-3 2.5l-5 5l-3.5 2.5l-4 5l-5 4M387.5 292l-4 5.5l-4 4l-3.5 3.5l-3 3l-5.5 5.5M386.5 302l-5 4.5l-2.5 4l-5.5 4"/></defs><g clip-path="url(#clip11i)" fill="none"><use href="#clip11pa" stroke="#b0b0ff" stroke-width="1.75"/><use href="#clip11pa" stroke="#3030ff" stroke-width="0.85"/></g>
<defs><path id="clip11w0p" d="M378 142l4-3.5l4-3M372.5 151l4.5-3.5l3.5-2l4-3l4.5-3M362.5 163.5l4-3.5l4-2.5l4-3.5l5.5-2l4-3.5l3.5-2l3.5-3.5M357 172.5l4-3l4-3l4-2.5l4-2.5l5-3l4-3l4.5-2.5l4-2.5l4-3.5l4-2M348.5 183.5l4-2l4-2l3-3l4-3.5l4-2l5-3l4-2.5l4-3l4-3.5l4-2.5l4.5-2l4-2.5l4-3M342.5 191.5l4-2.5l4-2l4.5-1.5l3.5-3.5l4.5-1.5l4-2.5l3.5-3.5l4.5-2.5l4-2.5l4-3l4-3l5-2.5l4-3l4-3l4.5-1.5M335.5 200.5l4.5-3l5-2l4-2l4-3l4-2l4.5-2.5l4-2.5l3.5-2.5l4.5-2.5l4-2l4-3l4.5-2.5l4.5-3.5l4-2.5l4-2.5l4.5-2l3.5-3M343 202l4-2l4-3l4-1.5l4-2l5-3.5l3.5-1.5l4.5-3l4.5-2.5l3.5-2.5l4.5-3l4-2l4.5-3.5l4.5-3l3.5-1.5l4.5-3.5l4-2.5M344.5 206l4.5-2l5.5-2l4-2l4-2l4-2.5l4-2.5l4-2.5l4-2.5l4-3.5l4.5-2l4-3.5l4.5-2l4.5-3l4-3l4-2l4.5-3.5M347.5 210.5l4.5-2l5-2.5l4-2.5l3.5-2l5-2l3.5-3l4.5-2l4-2l3.5-2.5l5-3l3.5-3l4.5-3l4-2.5l4-2.5l4.5-2.5l4-3M350.5 215l4.5-2l4.5-3l3.5-2.5l4.5-1l4-3l3.5-2l4.5-3l4.5-2l4-3l3.5-2l4-2.5l5-3.5l3.5-3l4-2.5l4-2.5l4-2.5M352 219.5l4.5-3l5-1.5l4-3l4.5-1.5l3.5-2l5-2.5l3.5-3l4.5-2l3.5-3l3.5-3l4.5-3l4-2.5l4.5-2l3.5-4l4-2.5l4-2.5M351.5 225.5l3-2l5-2.5l4-2.5l5-1.5l4-3l3.5-2l4-2.5l4.5-2l3.5-3l4-2.5l4-2l4-3.5l4.5-3.5l4-2.5l3.5-2.5l4.5-3l3.5-2.5M365.5 222.5l5-2l4-2.5l3.5-2l3.5-2l5-3l3.5-2l4.5-3.5l4-2.5l3-2l5-3.5l4.5-3.5l3.5-2.5l4-3M380 219.5l4.5-1.5l4.5-2.5l3-2.5l4-3l4.5-2l3-3.5l4.5-3.5l4-2l4.5-3.5l4.5-3M395 216.5l3-3l4.5-2l3.5-3.5l4-3l4-3.5l5-2M409 211l3.5-2l4-3l4.5-2.5M340 197.5l3 4.5l1.5 4l3 4.5l3 4.5l1.5 4.5l2.5 4M342.5 191.5l2.5 4l2 4.5l2 4l3 4.5l3 4.5l1.5 3.5l3 4.5M346.5 189l2.5 4.5l2 3.5l3.5 5l2.5 4l2.5 4l2 5l2 3.5l2 4M348.5 183.5l2 3.5l2.5 3.5l2 5l3.5 4.5l2.5 3.5l2 4l2.5 4.5l3 5l2 3.5M352.5 181.5l2.5 4l2 3l2 5l3.5 4.5l2 3.5l3 5l2.5 4l2.5 3.5l2 4M356.5 179.5l2 2.5l3 4l2.5 4l2.5 5.5l3 4l2 4l2 5l2.5 3.5l2 4l2 3.5M357 172.5l2.5 4l3.5 4l2.5 3l2 5l3 4.5l2.5 3.5l2 5l3.5 4.5l1.5 3.5l1.5 4.5l3 4M361 169.5l2.5 3.5l3.5 5l2 3l3 4.5l2.5 5l3 4l2 4l2.5 4.5l2.5 4.5l2 3.5l2.5 4.5M362.5 163.5l2.5 3l2.5 4.5l3 3.5l3 4l3 4.5l2 5l3 4.5l2.5 4l2.5 4.5l1.5 3.5l2 4.5l2 4l3 3.5M366.5 160l2.5 4l3.5 4l2.5 4l2.5 4.5l2.5 4l2.5 4l2.5 5.5l3 3.5l2 4.5l2 4l2.5 3.5l1.5 4.5l2 3.5M370.5 157.5l2.5 4l3.5 4l2.5 4l2.5 4l3 4l2.5 5l3 4.5l1.5 4.5l2 3.5l2.5 5l2.5 3l2 5l2 3.5M372.5 151l2 3l3.5 4.5l2.5 4l2.5 4l3 4.5l2.5 4.5l2.5 3.5l2.5 5l2 5l2.5 3l2 4.5l1.5 4.5l2 3.5l2.5 3.5l3 3M377 147.5l3 4.5l2 3.5l2.5 3.5l2.5 4.5l3.5 4l2.5 4.5l2.5 5l2.5 4l2.5 4.5l1.5 4l2.5 3.5l2 4.5l1.5 3.5l2 4l2.5 4M378 142l2.5 3.5l3.5 3l2.5 4.5l2 3.5l3.5 4.5l2.5 4l3 4l2.5 5l2 4.5l2 4l2.5 5l2 3l2.5 3.5l1 5l2 2.5l2.5 4.5l3.5 3M382 138.5l2.5 4l3 4l3 4l2.5 4l3 3.5l2.5 4.5l2.5 5l3 3.5l2 5l2 4l2 3.5l2 4.5l2.5 3.5l2 4l2.5 4l2 4M386 135.5l3 4l2 3.5l3.5 4l2.5 5l3 3l3 5.5l2.5 3.5l2.5 5l2.5 4.5l1.5 4l2 3.5l2.5 4l2 3.5l2.5 4M398.5 145l2.5 4l3.5 4.5l2 4l3 4l3 4l2 5l1.5 4.5l2 3.5l2 4M352 219.5l7.5 1.5l6 1.5M350.5 215l6 1.5l7 2l7 2M347.5 210.5l7.5 2.5l6.5 2l7 2l6 1l5.5 1.5M344.5 206l7.5 2.5l7.5 1.5l6 2l7 2l5.5 2l6.5 2M335.5 200.5l7.5 1.5l6 2l8 2l6 1.5l7 3l6 1.5l5.5 2l7.5 1.5l6 1M340 197.5l7 2.5l7.5 2l6.5 1.5l6.5 3l6 2l6.5 1l6.5 1.5l5.5 2l6 0.5M345 195.5l6 1.5l7.5 3l6 1.5l7 2l7 2.5l6 1.5l5.5 1.5l6 1l6.5 1.5l6.5-0.5M342.5 191.5l6.5 2l6 2l7.5 2.5l7 1.5l5.5 2l7 1.5l6 1.5l6.5 1l6 2.5l5.5 0l6.5 1l7.5 0M346.5 189l6.5 1.5l6 3l7.5 2l6.5 1l6.5 2l7 2.5l5.5 1l6.5 1l5 1.5l6.5 0.5l6.5 1M350.5 187l6.5 1.5l7 1.5l6.5 3l7 1.5l6.5 2l6 1.5l6 2l5.5 1l6.5 0l6 0.5l7 2M348.5 183.5l6.5 2l6.5 0.5l6 2.5l7 2l7 2l6.5 1l5.5 1.5l6.5 1.5l6.5 1l5.5 1.5l7 0.5M352.5 181.5l6 0.5l7 1.5l6.5 2l6.5 2.5l6.5 2l6.5 1.5l6.5 0.5l6.5 1l6.5 1l5.5 1.5M356.5 179.5l6.5 1l6 0.5l7.5 2l6 1.5l7.5 2.5l5.5 2l6.5 0.5l6.5 1l6 1l6.5 1M359.5 176.5l7.5 1.5l6.5 0.5l6.5 2l7 2l6.5 1.5l7 1.5l6 2l5.5 0.5l6.5 0.5M357 172.5l6.5 0.5l7 1.5l7 2l7 1l6.5 1.5l7 2l6 1.5l6 1l6.5 1.5M361 169.5l6.5 1.5l7.5 1l6.5 1.5l7 2l7 1.5l6.5 1.5l6 1.5l6 1l6 1.5M365 166.5l7.5 1.5l6.5 1.5l7 1.5l7 1l7 2l6 2l6 1.5l6 1M362.5 163.5l6.5 0.5l7.5 1.5l6.5 1l7.5 1l7 1.5l6.5 2l6.5 2.5l5.5 1.5M366.5 160l6.5 1.5l7.5 1l6.5 1l7.5 1.5l6.5 2.5l7 1.5l6.5 1.5M370.5 157.5l7.5 1l6.5 0.5l7.5 2l6.5 1.5l7 1.5l7 1.5M374.5 154l7.5 1.5l6.5 1l7.5 1.5l7 2.5l6.5 1M372.5 151l7.5 1l6.5 1l6.5 1.5l7 0.5l6.5 2.5M377 147.5l7 1l6.5 2l6.5 1.5l7.5 1.5M380.5 145.5l7 1l7 0.5l6.5 2M378 142l6.5 0.5l6.5 0.5l7.5 2M382 138.5l7 1"/><path id="clip11w1p" d="M406.5 189.5l4 0.5l4.5-0.5l4.5 0.5M397 195l5 0l3-0.5l4.5 0l5-1l3.5 0.5M388.5 199l4.5 0.5l4-0.5l4-0.5l4 0.5l4 0l5-1l3.5 0.5M379.5 203l4.5 0.5l4.5 0l4 0l4.5 0l3.5 0l3.5 0l4-1l4.5 0l5-0.5l3.5 0M375.5 206.5l4 1l4 0l4 0.5l4.5 0.5l4-0.5l4.5 0l3.5-0.5l3.5 0l5-1l4.5 0l4.5 0M366.5 210l3.5 0.5l5 0.5l4.5 0.5l4-0.5l3.5 1l4 0l4.5 0l4 0.5l3.5-1l5.5 0.5l4-1l3.5 0l5 0.5M357.5 213l4.5 0.5l4 1l3.5 0l4.5 1l5 0.5l3-0.5l4 0.5l5-0.5l3.5 1l4.5-0.5l4 0l4.5-0.5l4-0.5l4.5 0.5l5.5-0.5M351.5 216.5l4.5 1l5.5 1l4 0l4 1l4-0.5l5 0.5l3.5 0l4 1l4.5-0.5l4.5 0.5l4 0l4 0l4.5-0.5l4 0.5l4.5-0.5l5.5-0.5M352 221.5l4 0l5 1l4 0l4 1l4-0.5l4.5 0.5l4 0l4.5 0.5l4 0.5l3.5 0l5 0.5l4-0.5l5 0l4-0.5l5 0.5l4.5 0M351.5 225.5l4.5 0.5l4 1l4.5 0l3.5 0l5 1l4-0.5l3.5 0.5l5.5 0l4 0l3.5 0.5l4.5 0.5l4.5-0.5l4.5-0.5l5 1l5 0l4 0M355 231.5l4-0.5l5 0.5l3.5 0l4.5 0.5l4.5-0.5l4.5 0l4 0.5l4.5-0.5l4.5 1l4.5-0.5l4 0.5l4.5-0.5l4.5 0.5l5.5 1l5 0.5M355 235l4.5 0.5l3.5-0.5l4.5 1l4.5 0l4.5-0.5l3.5 0.5l4-0.5l5.5 1l3.5-0.5l4.5 0.5l5.5 0.5l4.5-0.5l4.5 0.5l5 1M354.5 240.5l4.5-0.5l3.5 0l4.5 0.5l4 0l4.5-0.5l4-0.5l4.5 1l5-0.5l5 0l4.5 1l4.5 0.5l5-1l3.5 1.5l5.5 0.5l5 0.5M354.5 244.5l4 0l5-0.5l3.5 0.5l4 0l5-0.5l4-0.5l5 0.5l4 0l4 0l5.5 1l5 0.5l4.5-0.5l5 1.5l4 0M354 248.5l4 0l5 0.5l4-1l3.5 1l4.5-0.5l5-0.5l5 0l3.5 0l5.5 0.5l4.5 0l4.5 0.5l4.5 1.5l5.5-0.5l5 1l3.5 0M350.5 252.5l3.5 0.5l4.5 0.5l4.5-1l3.5 0l4.5-0.5l4 0.5l5-0.5l4.5 0l5 0.5l4 0l5 0.5l5 0l4 1.5l5 0.5l4.5 0.5l4.5 0.5M350 257l4.5 0.5l3.5-0.5l4 0.5l4.5 0l4.5-1l4 0.5l4.5 0l5 0l4 0l5.5 0.5l4-0.5l5 0.5l5 1l5 1l4 0.5l5 0.5M349.5 262l5-0.5l4 0l3.5-0.5l5-0.5l4 0.5l4.5-0.5l4.5 1l4.5-0.5l5 0.5l4.5-0.5l4.5 1l5 0.5l4.5 0l4.5 1l4.5 0l4 1M354.5 265.5l4 0.5l4.5-0.5l4.5 0l3.5-0.5l4.5 1l4-0.5l5 0l4.5 1l5.5-1l4.5 1l5 1l4 0l4 0l4.5 1.5l5 0.5M363 270l4 0l4-0.5l4.5 0l5 0l4 0.5l4.5 0.5l4.5 0l4.5 1l5.5 0l4.5 1l3.5 0l5 0.5l4 0.5M367.5 274.5l4 0l4.5 0l4 0.5l5-0.5l4.5 0l5 0l4.5 1.5l4-0.5l4 1l4.5 1l4.5-0.5l5 0.5M377 278l4.5 1.5l3.5-0.5l4.5 0l4.5 1l5-0.5l3.5 1.5l4.5 0.5l5-0.5l4 1.5l4 0M385.5 283.5l4 0l5 0.5l3.5 0.5l4.5 0l4.5 0.5l4.5 1l3 0l4 1M390 289l3.5 0.5l4.5 0l5 0l3.5-0.5l3.5 1l4.5 0.5l4.5 0.5M397.5 293l5 1l3.5-0.5l4 0.5l4 0.5l4 0.5M405 298.5l4 0l5 1l4-1M351.5 216.5l0.5 5l-0.5 4M350.5 252.5l-0.5 4.5l-0.5 5M357.5 213l-1.5 4.5l0 4l0 4.5l-1 5.5l0 3.5l-0.5 5.5l0 4l-0.5 4l0 4.5l0.5 4.5l0 4l0 4M362 213.5l-0.5 5l-0.5 4l-1 4.5l-1 4l0.5 4.5l-0.5 4.5l-0.5 4.5l-0.5 4l0.5 5l-0.5 3.5l0.5 4.5l0 4.5M366.5 210l-0.5 4.5l-0.5 4l-0.5 4l-0.5 4.5l-0.5 4.5l-1 3.5l-0.5 5l1 4l-0.5 5l0 3.5l-1 5l0 3.5l1 4.5l0 4.5M370 210.5l-0.5 4l0 5l-0.5 4l-1 3.5l-0.5 4.5l0 4.5l-0.5 4.5l0 4l0 3.5l-0.5 4.5l0 5l0.5 3l0.5 5l-0.5 4.5l0.5 4.5M375.5 206.5l-0.5 4.5l-1 4.5l-0.5 3.5l-0.5 4l0 5l-1 4l0 4l-1 4.5l0 4l-0.5 4.5l0.5 3l0 4.5l0 4.5l0 4l0 4.5l0.5 5M379.5 203l0 4.5l0 4l-0.5 4.5l-0.5 3.5l-1 4l-0.5 4l-0.5 4l0 4l-1 4.5l0.5 4l-1 4.5l0 4l0 4.5l0.5 3.5l0 5.5l0 3.5l0.5 5l1 3.5M384 203.5l-0.5 4l0 3.5l-1.5 4.5l0 4l-0.5 4l-1 4.5l0.5 3.5l-1 4.5l-0.5 3.5l0.5 4l0 4.5l0 4l-0.5 5l0.5 4.5l-0.5 4l1 4l-0.5 5.5l1.5 4.5M388.5 199l0 4.5l-1 4.5l-0.5 4l-1 4l0 4.5l0 3.5l0 4l-1 4l-1 3.5l0 5l1 3.5l0 4l-0.5 4l0 5l0 4l0 4.5l0 4.5l0.5 4.5l0 4.5l0.5 4.5M393 199.5l-0.5 4l-0.5 5l-1 3.5l0 3.5l-0.5 4.5l-0.5 4.5l0 3.5l-0.5 3.5l0 5l-0.5 3.5l0 4l-0.5 4l1 4.5l-1 4.5l1 4.5l-0.5 5l0 4l0.5 4l0 4.5l0 4.5l0.5 5.5M397 195l0 4l0 4.5l-1 4.5l-0.5 4l-1 4.5l0.5 4l-1.5 4l0 4l0.5 4l-1 3.5l1 4l-1 4l1 4.5l-0.5 4l0.5 5l0 3.5l0.5 4.5l-1 5l1 4l-0.5 5.5l0.5 4l-1 5.5M402 195l-1 3.5l-0.5 5l0 4.5l-1 4.5l-0.5 3.5l0 4.5l-0.5 4.5l-0.5 4l0.5 3l-1 4.5l1 4.5l0 4l0 3.5l0 4.5l-0.5 4l0.5 5l0.5 4.5l-1 5l1 4.5l0 3.5l-1 5l0 5l-0.5 3.5M406.5 189.5l-1.5 5l0 4.5l-1 4.5l0 4l-1 4l0 4.5l0 4.5l-0.5 4l0 4l0 4l0.5 4.5l0 4.5l0.5 4l-0.5 3.5l0.5 4l-0.5 4.5l0.5 5l0.5 5l-0.5 4l-0.5 4l-0.5 5.5l0 3.5l0.5 5l-0.5 4.5M410.5 190l-1 4.5l-0.5 4.5l-1 3.5l-0.5 5l1 4.5l-1 3.5l0 4.5l0 4.5l-0.5 3.5l0 4l0.5 4.5l0.5 4l0 4.5l-0.5 5.5l0 4l0.5 4l0 4l0 5l0 5l-1 4l0 5l0 3.5l-0.5 4l-0.5 4.5l-1 5M415 189.5l-0.5 4l-0.5 4.5l-1.5 4.5l0 4l0 4.5l-1 4l0 5.5l0 3.5l0.5 5l-0.5 3.5l0.5 4.5l-0.5 5l1.5 4.5l0 3.5l-0.5 5l0.5 4.5l-0.5 4l-0.5 4l-0.5 5l0 5l0.5 3.5l-0.5 5l-1.5 4l0 4l-1 4.5M419.5 190l-1.5 4l-0.5 4.5l0 3.5l-0.5 4.5l-1 4.5l0 4.5l0 4.5l0.5 4.5l0.5 4.5l0 4.5l0 4.5l0 4.5l0 4l1 4.5l-1 4.5l0 4.5l0 3.5l-0.5 5.5l0 4l-0.5 4l0 5.5l-1.5 3.5l0 4.5l-0.5 4l0 5M421 202l0.5 4.5l-0.5 5l0.5 3.5l0 4.5l-0.5 5l0 4.5l1 5M421.5 251l0 5l0.5 4.5l-1 4l0.5 5l-1 4l0.5 4l-1 5l-1.5 4.5l0.5 4l-1 4l0 3.5M357.5 213l-6 3.5M366.5 210l-4.5 3.5l-6 4l-4 4M379.5 203l-4 3.5l-5.5 4l-4 4l-4.5 4l-5.5 3l-4.5 4M388.5 199l-4.5 4.5l-4.5 4l-4.5 3.5l-5.5 3.5l-4 4l-4.5 4l-5 3.5M397 195l-4 4.5l-4.5 4l-5 4l-4 4l-5.5 4l-4.5 4l-4.5 3l-5 4.5l-5 4.5M406.5 189.5l-4.5 5.5l-5 4l-4.5 4.5l-5 4.5l-4 3l-4.5 5l-5.5 3l-4.5 4.5l-4.5 3.5l-5.5 4l-4 4M410.5 190l-5.5 4.5l-4 4l-4 5l-5 5l-5 3.5l-5 3.5l-3.5 4l-5.5 3.5l-5 4l-4 4.5l-4.5 4l-5 5M415 189.5l-5.5 5l-4.5 4.5l-4.5 4.5l-4.5 4.5l-5 4l-5 4l-4 3.5l-4.5 4l-4.5 4.5l-5.5 3.5l-4.5 3.5l-4 5l-4.5 4.5M419.5 190l-5 3.5l-5.5 5.5l-5 4.5l-3.5 4.5l-5 4l-4.5 3.5l-5 5l-4.5 3l-4.5 4l-5 4.5l-4.5 4l-5 4l-4 4.5l-4.5 4l-3.5 4M418 194l-4 4l-6 4.5l-4 5l-4.5 5l-5 4l-4 3.5l-4.5 4l-5.5 4l-4 3.5l-4.5 4.5l-5 4.5l-3.5 3.5l-5.5 4.5l-4 4.5l-4 4M417.5 198.5l-5 4l-5 5l-4.5 4l-4 4.5l-4 4.5l-5 4l-4 3.5l-5 3.5l-4.5 4l-5.5 5l-4 4l-4 4.5l-4.5 4.5l-4 4l-5 4.5M417.5 202l-5 4.5l-4 5.5l-5.5 4l-4 4.5l-5.5 4l-3.5 3.5l-5 4l-5 4l-4.5 4l-4.5 4.5l-4 3.5l-4 4.5l-5 4.5l-3.5 4.5M421 202l-4 4.5l-4.5 4.5l-5 4.5l-4.5 5l-4.5 4.5l-5 3.5l-4 3l-5.5 4l-4.5 4l-3.5 4.5l-5.5 5l-4 3.5l-4.5 5l-3.5 4l-4 4M421.5 206.5l-5.5 4.5l-4.5 4l-4 5l-5 4.5l-4.5 4.5l-4 3.5l-4.5 4l-5.5 4l-4 3l-5 5l-4 3.5l-4.5 5.5l-4.5 3.5l-3.5 5M421 211.5l-5 4l-4.5 5l-4 4l-5 4l-4 3.5l-5.5 4l-4 4l-4 4l-5 4l-5 4.5l-4 4l-4 4l-4 5M421.5 215l-5.5 5l-4.5 4l-4.5 4l-4.5 4.5l-5 4l-3.5 3.5l-5 4l-4 4l-5 4l-5 5l-4 4l-3.5 4.5l-4.5 4.5M421.5 219.5l-5 5l-4.5 4.5l-5 3l-4 5l-4.5 4l-5.5 3l-4.5 4l-4 4l-5 5l-4 3.5l-4.5 4.5l-4 5M421 224.5l-4 4.5l-5.5 3.5l-4 4l-4.5 5l-4.5 3.5l-4.5 3.5l-4.5 4l-5 4.5l-4.5 4.5l-4.5 4.5l-4.5 3.5l-3.5 5M421 229l-4 4.5l-5 3.5l-4 3.5l-4.5 5l-5 3l-5 4l-5 4.5l-4 4l-5 4.5l-4 4l-4 5M422 234l-5 4l-5.5 4l-3.5 3l-5 4l-4.5 4l-4.5 4.5l-4.5 4l-5 4l-4 4l-4.5 5M417 242.5l-4 4l-5.5 4l-4 2.5l-5.5 4l-4 4l-5 5.5l-4.5 3.5l-4.5 5l-3 3M422 243l-5 3.5l-4 3.5l-5.5 4.5l-4.5 3l-4.5 4.5l-4 3.5l-5.5 5l-4 4l-3.5 5M418 251l-5.5 4l-4.5 3.5l-4.5 4l-4.5 4l-5.5 4l-4 4l-4.5 4.5M421.5 251l-4.5 4.5l-4 4l-5 3l-4 5l-6 4l-3.5 3l-5 4.5l-4 4.5M421.5 256l-4.5 4l-4.5 3.5l-4.5 4l-4.5 4l-4.5 4.5l-5 4l-4.5 3.5M422 260.5l-5 3l-5 4l-4 5l-5 3l-4 4l-4.5 4.5l-4.5 5M421 264.5l-4.5 4.5l-5 3.5l-4.5 4l-4.5 4.5l-4.5 3.5l-4.5 5M421.5 269.5l-5 3.5l-5 4.5l-4.5 4l-4.5 3l-4.5 5M420.5 273.5l-4.5 3.5l-4 4l-5 4l-4 4.5l-5.5 3.5M421 277.5l-5 5l-4.5 3.5l-5 3l-4 5M420 282.5l-5.5 3.5l-4.5 4l-4 3.5M418.5 287l-4 3.5l-4.5 3.5l-5 4.5M419 291l-5 3.5l-5 4M418 295l-4 4.5"/><path id="clip11w2p" d="M418 278l2.5 3l1 4M412.5 276l2 4l2.5 3.5l1 4l2 3.5l1.5 4M404.5 270l1.5 3.5l2 4l2 4.5l3 3.5l1.5 4l1.5 3.5l1.5 3M398.5 267.5l1.5 4l2.5 4l2.5 4l1.5 4.5l2.5 3l1.5 4l2 4l2 3.5l1.5 3.5M391.5 266l2.5 4.5l2 3.5l3 3.5l2.5 5l2.5 3l1.5 4l1.5 4l1.5 3.5l2 3.5l2 4M384.5 265l3.5 3.5l2.5 4l3 3.5l1.5 4l3 4.5l2 3.5l2 4l2 3.5l1.5 3.5l2.5 4l1.5 4l2.5 3M379 263.5l3 3l2.5 4.5l2 3.5l3 3.5l3 5l1 3l2.5 4.5l2 3.5l3 4l1.5 4l1.5 3l2.5 3.5l1 4M370 258l2.5 4.5l3 3l3 4.5l2.5 3.5l1.5 3l3 4.5l3.5 3.5l1.5 4.5l2.5 4l1.5 4l2 3.5l2.5 3.5l2 3l1.5 4l1 3.5l2 4M364.5 258l1.5 3.5l3.5 3l2.5 3l2 4.5l3.5 3.5l2 4l2.5 4l2.5 4l3 4l1.5 3l2.5 4l2 3.5l2 4l2 3l1.5 4.5l1.5 3.5l2.5 3.5M359 257l1.5 3l3 4l2 3.5l2.5 2.5l3 4l2 3.5l3 3.5l3 4.5l1.5 3l3.5 4.5l1.5 4l3 4l2 3l1.5 4l1.5 3.5l2 4l2 3l2 4M352.5 255.5l2.5 3.5l2 3.5l2.5 3l3.5 4l1.5 3l3 3.5l2.5 3.5l2.5 4.5l2 3.5l3.5 4.5l2.5 3.5l1.5 3l3 4.5l1 3.5l2 4l2.5 3l1 4l3 3.5l1 4M350 257.5l1.5 4l2.5 3l2.5 3.5l2 3l2.5 4.5l3.5 3.5l2.5 3l2 3.5l3.5 4l2 4.5l2 3.5l2 3.5l2 4l3 4l1.5 4l2 2.5l1.5 4.5l1 2.5l2.5 4.5l1.5 3.5M348 263.5l2.5 3.5l3 4l2 3l3 3l2.5 3l1.5 4l3 3.5l2.5 5l2.5 3.5l3 4l2 3.5l1 3.5l3 4l1 4l2 4l2 3l1.5 3.5l2 4l2 3M345.5 266l2.5 3l2.5 3l2 4.5l1.5 2.5l3 4l2.5 3.5l2 3l3 4.5l3 4.5l1 2.5l2.5 5l2.5 3.5l2 3.5l1.5 3.5l2 3.5l2 4l2 3.5l1.5 4l1.5 3M344.5 271.5l1.5 3l3 3.5l2.5 3.5l1.5 3l3 4.5l2.5 4l2 3.5l3 4l2 3.5l1.5 4l3 3.5l1 4l2.5 3.5l1.5 3.5l2 4l2 3l1 4l2 3.5M341 273.5l2 3l2.5 4l1.5 3l3 4l2 3l2.5 4l2 3.5l2.5 4.5l2 4l2.5 3l1.5 4l3 4l1 4l2 3.5l1.5 4.5l2 3l2.5 4l1.5 3M337 276l2 2.5l2 3.5l2.5 3.5l2.5 4l1.5 4l3 4l2 3l2 4l3 3.5l1.5 4l2.5 4l2.5 4.5l1 3.5l2 3.5l2 4l1.5 4l1.5 3l3 3.5M333 278l3 3l2 4l1.5 3.5l2 3.5l2.5 3.5l2 3.5l2.5 3.5l2.5 4.5l1.5 4l2.5 3.5l2 4l2 4l2 4l2 3l1.5 4.5l2 4l2 3l1.5 4M329 280l2.5 3l2.5 4.5l2 3l1 4l3 3l2.5 4.5l1.5 3.5l2 3.5l3 3.5l2 4.5l2 4l2 4.5l2.5 3.5l1.5 3.5l1.5 3.5l2.5 4l1.5 4l2 3.5M325.5 282l2.5 3.5l1 4.5l3 2.5l2 4l2 3l2 4.5l2.5 4l2.5 4l2 3l2 5l2 3l2.5 4l2 4.5l1.5 3.5l2 3.5l2 3.5l2 4l1.5 4M321.5 284l2 4l2 4l2.5 3l2 4l1.5 4l2 3l2.5 4.5l2 4l3 4l2 3l2 4l2.5 4.5l1.5 3.5l2 3.5l2 4l2.5 4l1.5 3.5M321.5 294l2.5 4l2 3l1.5 4l2 3.5l2 4l3 3.5l1.5 4.5l2.5 3.5l2.5 4l2 4l2 3l3 4l1.5 4.5l1.5 3l3 4M323.5 307l2.5 4.5l1.5 3.5l3 4l2 4l3 3.5l2 4.5l2 3.5l2 3.5l2 3.5l3 3.5l1.5 3.5M326 321.5l2.5 3l3 4.5l2.5 3.5l2 4l2 4l2.5 3l2 3.5M330 334l3 4.5l1.5 3.5l3 3.5l1.5 3.5M352.5 255.5l-2.5 2M359 257l-4 2l-3.5 2.5l-3.5 2l-2.5 2.5M364.5 258l-4 2l-3.5 2.5l-3 2l-3.5 2.5l-2.5 2l-3.5 2.5l-3.5 2l-4 2.5l-4 2l-4 2l-3.5 2l-4 2M370 258l-4 3.5l-2.5 2.5l-4 1.5l-3 2.5l-3 3l-3 1l-4.5 2.5l-3 2l-4 2l-3 2.5l-4.5 2l-3.5 2.5l-4.5 2.5M372.5 262.5l-3 2l-4 3l-2.5 2l-4.5 1.5l-3 3l-3 2.5l-3.5 1.5l-3.5 2.5l-4.5 1.5l-3 3l-4 2.5l-5 2.5l-3.5 2l-4 2M379 263.5l-3.5 2l-3.5 2l-4 2.5l-3.5 2.5l-3.5 3l-2.5 1.5l-4.5 2l-2.5 2.5l-4.5 2l-3.5 2l-4 3l-3.5 2l-4 2l-4 2.5l-4 3M384.5 265l-2.5 1.5l-3.5 3.5l-4.5 2l-3 2l-3.5 2l-3 3l-3.5 1l-4 3l-4 1.5l-3 3l-4 2l-4.5 2.5l-4.5 2.5l-3 2l-4 2.5l-4 2M391.5 266l-3.5 2.5l-3.5 2.5l-3.5 2.5l-3.5 2l-4.5 2l-3 2l-3 2.5l-4.5 2l-3 2.5l-3.5 2.5l-4 1.5l-4.5 3l-3.5 2l-4 2l-4 2l-4.5 3.5l-4 2l-4 2M398.5 267.5l-4.5 3l-3.5 2l-4 2l-4 2l-3 3l-3.5 1.5l-3.5 3l-3.5 1.5l-3.5 2l-4 2l-3 3.5l-4 1.5l-4 3l-4.5 1.5l-3.5 3l-4.5 2l-4.5 2l-4 2.5l-3.5 3M404.5 270l-4.5 1.5l-4 2.5l-2.5 2l-4 2l-4 3l-3.5 2.5l-3 2l-4.5 2l-2 2l-4.5 3l-3.5 1.5l-4 2.5l-4 1.5l-4 2.5l-4 2l-4.5 3l-3.5 2.5l-4.5 2.5l-4.5 2l-4 2.5M406 273.5l-3.5 2l-3.5 2l-4 2.5l-2.5 3l-3.5 1.5l-4.5 3l-4 1l-2.5 3.5l-3.5 2l-4 2l-3 2.5l-4 2l-4.5 2l-4.5 2l-3.5 2.5l-5 2l-3 3l-5 2.5l-3.5 1.5l-4 3l-4.5 2.5M412.5 276l-4.5 1.5l-3 2l-3.5 3l-3.5 2l-4.5 1.5l-3 3l-3 2.5l-3.5 1.5l-3.5 2.5l-4 2l-3 2.5l-5 1l-3 3l-4.5 2.5l-3.5 1.5l-5 3l-3.5 1.5l-4 2.5l-4 3.5l-5 2l-3.5 2.5l-4 1.5M418 278l-3.5 2l-4.5 2l-3.5 2l-2.5 1.5l-4 2.5l-4 2.5l-3 2.5l-4 1.5l-3.5 2.5l-3.5 1.5l-3.5 2.5l-3 2.5l-4.5 2.5l-4 2l-3.5 1.5l-4.5 2.5l-4 2.5l-4 2.5l-4 3l-4 1.5l-4.5 2.5l-3 2.5l-4 2.5M420.5 281l-3.5 2.5l-4 2l-4 1.5l-3.5 2.5l-3.5 2.5l-4 2l-3.5 3l-3 1.5l-3 2.5l-3.5 2l-4.5 2l-4 2l-3 2.5l-3.5 2l-5 2l-3.5 2.5l-4.5 2.5l-4 2.5l-4 2l-4 2.5l-4 2.5l-3.5 3l-3.5 1.5l-4 1.5M421.5 285l-3.5 2.5l-3.5 2l-4 1.5l-3.5 2.5l-3 2l-3 2.5l-4.5 2.5l-3 1.5l-3 2l-4.5 2.5l-2.5 2.5l-4 2l-4 2l-4.5 2.5l-3 2l-4 3l-5 2l-4 3l-3.5 1.5l-4 3l-4.5 2l-3.5 2.5l-3.5 2l-3 2M420 291l-4 2l-3.5 2l-4 2l-3 2l-3 3l-3.5 2l-3.5 2l-3.5 2l-4 2.5l-3 2.5l-4.5 2l-3.5 1.5l-3.5 2.5l-4.5 2.5l-4 2.5l-4 2.5l-3.5 2.5l-4 2.5l-4.5 2l-4 1.5l-3.5 3l-3.5 2.5l-3.5 1.5M421.5 295l-4 1l-3 2.5l-4 2l-2.5 2.5l-4 2l-3 2l-3.5 2l-4 2.5l-3 2l-3.5 2l-4.5 3.5l-3.5 1l-4 2.5l-4 2.5l-4 2.5l-4 2l-4 3l-4 2.5l-4 2l-3 2l-4.5 2.5l-3 2l-3 2l-4 2M416 302l-3.5 2.5l-3 2.5l-3 1.5l-4 2.5l-3.5 2.5l-3.5 2l-4 2l-3 2.5l-4 2l-3.5 2l-4 2.5l-4.5 3l-3.5 2l-4.5 2.5l-4 2l-3.5 2.5l-4 2.5l-3.5 2.5l-3 1.5l-4 2l-3.5 2M412 310l-4.5 2.5l-4 2l-3 2.5l-3 1.5l-3 2.5l-5 1.5l-3.5 3l-3 2l-4 2l-4.5 3l-4 3l-4 2.5l-3.5 2l-4 2l-3.5 3l-4.5 1.5l-3 2M405.5 318.5l-2.5 2l-3.5 2l-4 2.5l-3.5 2l-4 2.5l-3.5 2l-4.5 2l-3 3l-5 2l-3.5 2.5l-4 3l-3.5 2l-4 2.5l-3 2M393.5 330.5l-3.5 2l-4 2l-4 2.5l-3.5 2.5l-3.5 2.5l-5 3l-3.5 2.5l-4 2.5M370 258l-5.5 0l-5.5-1l-6.5-1.5M404.5 270l-6-2.5l-7-1.5l-7-1l-5.5-1.5l-6.5-1l-6.5-1l-5.5-1.5l-5.5-1l-5-1.5M418 278l-5.5-2l-6.5-2.5l-6-2l-6-1l-6-2l-6-2l-6.5-1l-6-1l-6-0.5l-6.5-1.5l-5.5-1M420.5 281l-6-1l-6.5-2.5l-5.5-2l-6.5-1.5l-5.5-1.5l-6-1.5l-6-1l-6.5-2.5l-6.5 0l-6-2l-5.5-1l-6-1M421.5 285l-4.5-1.5l-7-1.5l-5-2.5l-6-2l-5.5-1.5l-7-1.5l-5.5-1l-7-1.5l-6-2l-5-0.5l-6.5-1.5l-6-1l-5-1M418 287.5l-5-2l-6.5-1.5l-5-1.5l-6.5-2.5l-5.5-2l-7-1.5l-5-1l-6.5-1.5l-6.5-1.5l-6-1.5l-5 0l-5.5-2M420 291l-5.5-1.5l-5.5-2.5l-5-1.5l-6-1l-5.5-1.5l-7-2l-6-1.5l-6.5-2l-5.5-1.5l-6.5-0.5l-5.5-1.5l-5-2l-6-0.5M421.5 295l-5.5-2l-5.5-2l-5-1.5l-5.5-1.5l-6.5-2l-4.5-1.5l-7-1l-6-2.5l-6-1.5l-5.5-0.5l-6-2l-6-0.5l-6.5-2l-5-1M417.5 296l-5-1l-5.5-1.5l-5-1.5l-6-1.5l-5.5-1.5l-6-1.5l-5.5-2l-6.5-1.5l-5.5-2l-6-2l-7-1l-5-1l-6-1.5l-6-0.5M414.5 298.5l-6-1.5l-4.5-1.5l-6-1.5l-5-1l-5.5-1.5l-7-3l-6-1l-5.5-2l-6.5-1.5l-5.5-1l-5.5-1.5l-6-1l-6.5-2l-6-0.5M416 302l-5.5-1.5l-5-1.5l-4.5-1l-6.5-1l-5.5-2.5l-5-1.5l-6-1l-5.5-2.5l-7-2l-6-1l-6.5-2l-6-1l-6-1.5l-5-1l-7-1M412.5 304.5l-4.5-1.5l-5.5-1l-6-1.5l-5-2l-6-1.5l-5-1.5l-6-1.5l-6.5-1.5l-6.5-3l-5.5-0.5l-6-1.5l-6.5-2l-5.5-0.5l-6.5-2l-6-1M409.5 307l-5.5-2l-5-1l-5.5-2l-5-1l-6.5-2.5l-5.5-1l-6-1.5l-6-2l-6-1l-6.5-2.5l-6-1l-6.5-1l-5.5-1l-6-2l-6.5-1.5M412 310l-5.5-1.5l-5.5-1.5l-5.5-1l-5-2l-5.5-1l-6.5-2l-5-1l-6-1.5l-7-2l-6-2l-7-1l-6-1.5l-5.5-1.5l-7-0.5l-5.5-2M407.5 312.5l-5-1.5l-5-2l-5.5-1l-6-1.5l-5.5-1.5l-5-1.5l-7-2.5l-5-0.5l-7-2.5l-6-0.5l-6.5-2l-7-1l-5-2l-6.5-0.5M403.5 314.5l-4.5-1l-5.5-2l-5.5-1l-4.5-1.5l-7-2l-5.5-1l-5.5-2l-6.5-1.5l-6.5-2l-6.5-1.5l-6-1.5l-6-1l-6-1.5l-6.5-1M405.5 318.5l-5-1.5l-5-1.5l-5-2l-5.5-0.5l-5.5-2l-6-1.5l-6.5-1.5l-6-1.5l-6.5-2l-6-2l-6-0.5l-6.5-2.5l-6-0.5l-6-1M403 320.5l-5.5-2l-6-1l-4.5-2l-6.5-0.5l-5-2l-5.5-1.5l-6.5-2l-6-1.5l-6.5-1l-7-1.5l-6-1.5l-6.5-1l-5.5-2M399.5 322.5l-5-1.5l-6-1l-6-1l-5.5-2.5l-6-1l-6-2l-6-1.5l-6.5-1l-6.5-2l-5.5-1l-7-2l-6-1M395.5 325l-6-2.5l-5-0.5l-5.5-2l-5.5-1l-5.5-1.5l-6.5-1.5l-6.5-1.5l-6-2l-6-0.5l-7-1.5l-6.5-2l-6-1.5M392 327l-6-1.5l-5-1.5l-6-1.5l-6-1l-5-1l-7-2l-6-1.5l-6-2l-7-0.5l-6.5-2l-5.5-1M393.5 330.5l-5.5-1l-5-2l-6-1l-6-1.5l-6-1l-6-1.5l-6-1.5l-6-1l-6-1.5l-6.5-2.5l-7-1M390 332.5l-5.5-1l-5.5-2l-6.5 0l-5.5-2l-6-1l-6-1l-6-2.5l-6-1.5l-7-1l-5.5-1.5M386 334.5l-6-1l-5.5-1l-5.5-1l-6-2l-5.5-0.5l-6-2l-6.5-1.5l-6.5-1.5l-6-1l-6.5-1.5M382 337l-5-0.5l-6.5-1l-6-1.5l-5.5-1.5l-5.5-1l-6-1.5l-6.5-2l-5.5-1.5l-7-2M378.5 339.5l-6.5-1l-5.5-0.5l-6-2l-5.5-1l-6-1.5l-6-1.5l-5.5-1l-6-2M375 342l-6.5-1l-5.5-1l-6-1.5l-6-1.5l-6-2l-5.5-0.5l-5.5-2M370 345l-5.5-1l-5.5-2l-6-1l-5-2l-6.5-1l-5.5-1.5l-6-2.5M366.5 347.5l-5.5-1.5l-5.5-1l-6-1.5l-6-2l-5.5-1l-5-2M362.5 350l-5.5-1.5l-6-2l-4.5-1.5l-6-1.5l-6-1.5M354 350.5l-6-2l-5.5-1.5l-5-1.5M339 349l-5.5-1.5"/><path id="clip11w3p" d="M355 336.5l-0.5 5l1 5M351 323.5l-0.5 4.5l0.5 4.5l0 5l0 5l-1 3.5M346.5 314l-0.5 4.5l0.5 5.5l-0.5 3.5l0.5 5.5l-0.5 4l0.5 4.5l0 5.5M342 304l0 5.5l-0.5 4.5l0.5 5l0 5l-1 4.5l0.5 4l0.5 5l-1 4l0.5 5M337 295l-0.5 4.5l0 4.5l0 4.5l0 6l0.5 4.5l0 5l-0.5 4.5l0.5 4.5l0.5 4l0 5.5l0.5 4.5l0.5 3.5M333 286l-0.5 4.5l0 5l0 4.5l-1 5l0.5 4l0 5.5l-0.5 4.5l0 4l0 5l1 5.5l0.5 4l-0.5 4.5l0.5 4l0.5 4M328.5 283l-1 4l0.5 4l-0.5 4.5l0 5l0 4.5l-0.5 4.5l0 5.5l0 4l0.5 4.5l-0.5 5l0.5 4.5l0.5 4l1 4l-0.5 5.5M323.5 282.5l0 4l0 5l-1 4l-0.5 5.5l0.5 4.5l-1 4.5l0.5 5l0 4l0 5l1 3.5l0 5l0.5 4l1 5l0 4.5l1 3.5M319.5 283l-1 4l0 5.5l-1 3.5l0.5 5l0 4l-0.5 5.5l0 4.5l0.5 4.5l-0.5 4l0.5 4.5l1 4l0 5l0.5 4.5l0 4.5l0.5 4M314 283l0 4.5l-1 5l0 4l1 4.5l-1.5 5l0.5 4.5l0 4l0 5l1 3.5l-0.5 5.5l1.5 4.5l-0.5 3.5l0.5 4.5l0 4.5l1 4.5M309.5 283l-1 4.5l0.5 4.5l-0.5 5.5l0.5 4.5l-1 4l0.5 4l0.5 5l-0.5 4l1 4l-0.5 5l1 4.5l0 4.5l0 4l1 5l0.5 4.5M304.5 283l-0.5 5.5l1 4l-1 5.5l0.5 4l0 4.5l-0.5 4l1 5l-0.5 3.5l1 4l0 4l-0.5 5.5l0.5 3.5l0 5l0.5 4.5M299.5 282.5l0.5 6l0 4l-0.5 5.5l0.5 3.5l0 4.5l0.5 5l-0.5 4l0 4l1 4.5l0.5 4l0 4.5l0 3.5l0.5 5.5l-1 4l1 5M295 284l-0.5 4.5l1 5l-0.5 3.5l0.5 5.5l-0.5 4l1.5 4l-0.5 4.5l0.5 4.5l0 3.5l-0.5 5l1 4l0 3.5l0 6l0.5 3.5l-1 5M290.5 284l-0.5 4.5l0.5 4l0.5 5l0 5l0.5 4l-0.5 4l0.5 5l0.5 3l0.5 4.5l-1 5l0.5 3.5l0 4.5l1 5l0 5l-1 4M285.5 278.5l0 4.5l0.5 5.5l0 4.5l-0.5 4l1.5 5l0 4l0 4.5l1 4.5l-1 3.5l0.5 5l1 4.5l-1 4l1 4.5l-1 4l0 5.5l0.5 4.5M280.5 274l0 5l0 5l0 4l0.5 4.5l1 5l0.5 4.5l-0.5 4.5l1 3.5l0 4.5l0 4l0 5l0 4l0.5 5l0 4l0.5 4.5l-0.5 6M276 278.5l-0.5 5.5l1 3.5l-0.5 5.5l1.5 4l-0.5 4.5l0.5 4l0.5 4.5l0.5 4.5l0 4.5l0 4.5l1 5l-0.5 3.5l0 4.5l-0.5 5.5l0.5 4.5M271.5 288.5l0.5 4.5l0.5 4l0.5 4l-0.5 5.5l1 3.5l0 4.5l1 4.5l-0.5 4.5l0.5 5.5l0 3.5l0 5l1 4.5l-0.5 4.5M267.5 292l0 4.5l0.5 5l1 4l0 5.5l0 4l0.5 5l1 4l0 4l-0.5 5l0 4.5l0 4.5l1 5M262.5 297l0 4.5l1 4l1 4.5l-0.5 4.5l0.5 5l1 4l0.5 5l0 4.5l-0.5 5.5l0 4.5l0.5 5M258 301l1.5 5l0.5 4l0.5 5l-1 4.5l1 4.5l0.5 5l0 5l0.5 4.5l0 4.5l0.5 4.5M254 310.5l0.5 4.5l1.5 5l0 4.5l0 5l1 4.5l0.5 5.5l0.5 5l0 4.5M250 315.5l0.5 5l0.5 4l0.5 6l1 4l0.5 4.5l0.5 4.5l0 5M246 320.5l1 5l0 5l1.5 5l0.5 4.5l0 3.5l0.5 5.5M242 325l0.5 6l1 3.5l0 5l1 4.5M239 335l1 4.5l-0.5 5M285.5 278.5l-5 0.5l-4.5-0.5M328.5 283l-5-0.5l-4 0.5l-5.5 0l-4.5 0l-5 0l-5-0.5l-4.5 1.5l-4.5 0l-5-1l-5 1l-5 0M333 286l-5.5 1l-4-0.5l-5 0.5l-4.5 0.5l-5.5 0l-4.5 1l-4 0l-5.5 0l-4.5 0l-4 0l-5.5-0.5l-4-0.5l-5 1M332.5 290.5l-4.5 0.5l-4.5 0.5l-5 1l-5.5 0l-4-0.5l-4 0.5l-5 0l-4.5 1l-5-1l-4.5 0.5l-5-0.5l-5 0.5l-4 0l-4.5-1M337 295l-4.5 0.5l-5 0l-5 0l-5 0.5l-4.5 0.5l-4.5 1l-4.5 0.5l-4.5 0l-4.5-1l-4 0.5l-5.5-0.5l-3.5 0.5l-4.5-0.5l-5 0l-5-0.5l-5 0.5M336.5 299.5l-4 0.5l-5 0.5l-5.5 0.5l-4 0l-4 0l-5 1l-4.5 0l-4.5-0.5l-4.5 1l-4.5 0l-4-0.5l-4.5 0l-5.5-0.5l-4-0.5l-5 0.5l-5.5 0l-4.5-0.5M342 304l-5.5 0l-5 1l-4 0l-5 0.5l-4.5-0.5l-5.5 1l-4.5 0l-3.5 0.5l-4.5-0.5l-5 0.5l-3.5 0l-4.5-0.5l-5 0.5l-4.5-1l-5 1l-3.5-1l-5.5 0l-4 0.5M342 309.5l-5.5-1l-4.5 0.5l-5 0.5l-5.5 0.5l-4 0.5l-4.5 0l-4.5-0.5l-4.5 0.5l-3.5 0.5l-4-0.5l-5.5 0l-4 0l-4-0.5l-5 0l-4.5 0l-4.5 1l-4.5-1l-4.5 0l-6 0.5M346.5 314l-5 0l-5 0.5l-4.5 0l-5 0.5l-5 0l-4.5 0l-4.5-0.5l-4 0.5l-4 0.5l-5-0.5l-4 0l-4.5 0.5l-3.5-0.5l-5-0.5l-4.5 0l-5 0l-4.5 0.5l-5-0.5l-3.5 0.5l-6 0l-4.5 0.5M346 318.5l-4 0.5l-5 0l-5.5 0l-4.5 0l-5 0l-4 0.5l-5 0l-4.5-0.5l-4 0l-4.5 0l-3.5 0.5l-4.5-1l-5 0l-4 0l-4.5 0.5l-4 0l-5 1l-5-0.5l-5 0l-3.5 0.5l-5.5 0.5l-4.5 0M351 323.5l-4.5 0.5l-4.5 0l-5 0l-5.5-1l-4 0.5l-5.5 0.5l-4.5-0.5l-3.5-0.5l-4.5 0l-4 0l-4.5 0.5l-4.5-0.5l-4 0l-5 0.5l-4.5 0l-4.5 0l-4.5 0l-3.5 0.5l-5-0.5l-5 0.5l-4.5 0.5l-5 0l-4 1l-5-0.5M350.5 328l-4.5-0.5l-5 1l-4.5 0l-5-0.5l-4.5 0.5l-4-1l-5 0.5l-4.5 0.5l-4.5-0.5l-3.5-1l-4 0.5l-5.5 0.5l-4.5 0l-3 0l-5.5-0.5l-3.5 1l-5 0.5l-4-1l-4.5 0.5l-5 0.5l-5 0.5l-4.5 1l-4.5 0l-4.5 0.5M351 332.5l-4.5 0.5l-5-0.5l-4.5 0.5l-4.5 0.5l-5-0.5l-4.5-0.5l-4-0.5l-4 1l-5-0.5l-5 0l-3.5-0.5l-4.5 0l-5-0.5l-4.5 0.5l-4 0.5l-4.5-0.5l-4.5 0.5l-4.5 0.5l-4 0l-5 1l-4 0l-4.5 0.5l-4 1l-5-1l-4.5 0.5M355 336.5l-4 1l-5-0.5l-4 0.5l-4.5-0.5l-4.5 0.5l-5-0.5l-4.5-0.5l-4.5 0.5l-4.5-0.5l-4.5 0.5l-4.5-1l-4-0.5l-4.5 0l-5 0.5l-3.5 0.5l-5 0l-4.5 0l-4.5 1l-4.5 0l-4.5 1l-4 0l-4 1l-4.5-0.5l-4 1l-5.5-0.5l-3.5 0M354.5 341.5l-3.5 1l-4.5-1l-5.5 0l-3.5 1l-5-0.5l-3.5-1l-4.5 0.5l-5 0l-4.5-0.5l-5 0l-4.5 0l-3.5 0l-5 0.5l-4-0.5l-5.5-0.5l-3.5 0.5l-5.5 1l-3 0l-5.5 0l-4.5 1l-4 0l-3.5 1.5l-4.5-1l-4.5 0l-4.5 0.5l-5 0.5M355.5 346.5l-5.5-0.5l-3.5 1l-5-0.5l-3.5 0.5l-5-1l-4.5 0.5l-4-0.5l-5 0l-4.5-0.5l-4 0.5l-5-0.5l-5-0.5l-3.5 0l-4.5 1l-5.5 0l-4 1l-4.5-0.5l-4 0l-4 0.5l-5 1l-4-0.5l-4 1.5l-4.5-0.5l-4 0.5M338.5 350.5l-5-0.5M325.5 349.5l-5.5 0.5l-4 0l-4.5 0.5M302 350l-5.5 0l-4.5 0l-4 0.5M280.5 274l-4.5 4.5M280.5 279l-5 5l-4 4.5l-4 3.5l-5 5l-4.5 4M285.5 278.5l-5 5.5l-4 3.5l-4.5 5.5l-4.5 3.5l-5 5l-3 4.5l-5.5 4.5l-4 5l-4 5l-4 4.5M285.5 283l-5 5l-4.5 5l-3.5 4l-4.5 4.5l-4.5 4l-3.5 4.5l-5.5 5l-4 5.5l-3.5 5l-4.5 5.5l-3.5 4M290.5 284l-4.5 4.5l-5 4l-3.5 4.5l-4.5 4l-4 4.5l-4.5 4.5l-4 5l-4.5 5l-5 4.5l-4 6l-3.5 4l-3.5 5M295 284l-5 4.5l-4 4.5l-4 4.5l-5 4l-4.5 5l-3.5 4.5l-5 3.5l-4.5 5l-3.5 5l-4.5 6l-3 5l-5 4l-4 5M299.5 282.5l-5 6l-4 4l-5 4.5l-3 5l-5 3.5l-4 4.5l-4.5 5l-4.5 4.5l-4 4.5l-4.5 5.5l-3.5 5l-3.5 5.5l-4.5 4M304.5 283l-4.5 5.5l-4.5 5l-4.5 4l-4 4.5l-5 4.5l-4 3.5l-4.5 4.5l-4 5.5l-4 3.5l-4.5 5.5l-4 5l-4 5l-4 4.5M309.5 283l-5.5 5.5l-4 4l-5 4.5l-4 5.5l-4 3.5l-4 4l-4.5 4.5l-4 4.5l-4 5l-4.5 4.5l-5 5.5l-3.5 5.5l-4 4l-4 5.5M314 283l-5.5 4.5l-3.5 5l-5.5 5.5l-4 4.5l-4 4l-4.5 4l-4 4l-4.5 4.5l-4.5 4.5l-3.5 4.5l-4.5 5l-4.5 5.5l-3.5 6l-4.5 4M319.5 283l-5.5 4.5l-5 4.5l-5 6l-4 3.5l-5 5l-4 4l-3 4.5l-5 3.5l-4.5 5l-4 5.5l-4.5 4l-4.5 5.5l-4 4.5l-3.5 6M323.5 282.5l-5 4.5l-5.5 5.5l-4.5 5l-4 4.5l-4.5 4l-3.5 4.5l-5 5l-4.5 3l-4 5l-3.5 5l-5 4l-4.5 5l-4.5 5.5l-3.5 4.5M328.5 283l-5 3.5l-5 6l-5.5 4l-4 5.5l-4.5 4.5l-4 4.5l-4.5 4l-4 3.5l-4.5 5l-4.5 4l-4 4.5l-4.5 5.5l-4.5 4.5l-4 6M327.5 287l-4 4.5l-6 4.5l-3.5 5l-6 5l-4 4.5l-4 4.5l-3.5 4.5l-4 3.5l-4 5l-5 4.5l-4.5 4l-3.5 5.5l-4.5 5M333 286l-5 5l-5.5 4.5l-4.5 5.5l-5.5 5l-4 4l-3.5 5.5l-5 3.5l-3.5 4l-5 5l-4 4l-4 4.5l-5 5.5l-3.5 4.5M332.5 290.5l-5 5l-5.5 5.5l-4 4l-5 5.5l-4 4.5l-4.5 4l-3.5 4.5l-5 4.5l-4 3.5l-3.5 5l-4.5 4.5l-5 5.5M332.5 295.5l-5 5l-5 5l-5 5l-4.5 4l-4.5 4.5l-3 4l-4 4.5l-4.5 4.5l-5 4l-4.5 4.5l-4 6.5M337 295l-4.5 5l-5 5l-6 5l-4 5l-4.5 4.5l-3.5 3.5l-4 4l-4 5l-4.5 3.5l-4 5.5l-5.5 5M336.5 299.5l-5 5.5l-4.5 4.5l-5 5.5l-4 4.5l-4 3.5l-5 5l-4 4.5l-3.5 3l-4.5 6l-4 4.5l-5 4.5M336.5 304l-4.5 5l-5 6l-5 4l-4.5 4.5l-4 5l-3.5 4l-4.5 3.5l-3.5 5l-4.5 4l-5.5 5M342 304l-5.5 4.5l-4.5 6l-5 4.5l-5 5l-4 4l-3 5l-5 4l-4.5 4l-4.5 4l-4.5 5M342 309.5l-5.5 5l-5 4.5l-4 4.5l-4.5 4l-4 4.5l-4.5 4.5l-4.5 4.5l-4 4.5l-4 4.5M341.5 314l-4.5 5l-5.5 4l-4.5 5.5l-4 4l-4 4.5l-4 4l-4 5M346.5 314l-4.5 5l-5 5l-5.5 4l-4 5l-4 3.5l-4 5l-4.5 4l-3.5 5M346 318.5l-4 5.5l-5.5 4.5l-4 5l-4.5 3.5l-3.5 4.5l-5 4.5l-3.5 4M346.5 324l-5.5 4.5l-4 4.5l-4 4.5l-4 3.5l-4.5 5l-4.5 4M351 323.5l-5 4l-4.5 5l-4 4.5l-5 5l-4 4.5l-3 3M350.5 328l-4 5l-4.5 4.5l-4.5 5l-4.5 3.5M351 332.5l-5 4.5l-5 4.5l-3 5.5l-4.5 3M351 337.5l-4.5 4l-5 5l-3 4M355 336.5l-4 6l-4.5 4.5M354.5 341.5l-4.5 4.5"/><path id="clip11w4p" d="M261 346l-4 2.5l-3 2M265.5 336.5l-3.5 2.5l-3.5 2.5l-4 3.5l-3 2l-3.5 2M267.5 330l-5 2.5l-3 3.5l-4 1.5l-3.5 3l-3.5 3l-3 2M271.5 320.5l-3.5 2.5l-4.5 3.5l-3 2l-4 2.5l-3 3.5l-3.5 3l-3.5 2l-4 2.5M272 314.5l-3 2l-4 3l-3.5 3l-4 2.5l-4 3l-3.5 2.5l-2.5 3l-4 2l-4 2.5l-3 2M277 306l-3.5 2l-3.5 2.5l-4 3l-4 1.5l-3 2.5l-4.5 2.5l-3 3.5l-4 3l-3.5 2.5l-4 2.5l-3.5 2.5l-3.5 2.5M277.5 300.5l-3 1l-3.5 3.5l-4 1l-4.5 3.5l-3.5 2.5l-3.5 2l-4 2.5l-3.5 3l-3.5 2.5l-3.5 3l-3 3l-4 2l-3 3l-4.5 1.5M283.5 291l-4.5 3l-3 2l-5 2.5l-3.5 2l-3 2.5l-4 2.5l-3.5 2l-4 3l-4.5 2.5l-3 2.5l-4.5 3l-2.5 2.5l-4 3l-3.5 2l-3.5 3l-3.5 3M284 285l-3.5 3l-4 2.5l-3.5 1l-4.5 2.5l-3.5 3l-4 2l-3 2.5l-4.5 3l-3.5 2l-4 2.5l-3.5 2.5l-3.5 3l-4 3l-2.5 2.5l-4.5 3l-3.5 2.5l-3 2M285 278l-4 3l-3.5 2.5l-4 3l-3 2l-4 2l-4.5 2l-3.5 2.5l-3.5 2.5l-4 2.5l-3.5 2.5l-4 2.5l-4.5 3l-2.5 2.5l-3.5 3l-4 2.5l-3.5 2.5l-3 3l-3.5 1.5M278 277l-3 2.5l-3.5 3l-3.5 2l-4.5 2.5l-4 2.5l-3.5 2l-4 2.5l-3.5 2l-4 2.5l-3.5 2.5l-3.5 2.5l-4.5 3.5l-2.5 2.5l-4 2l-3.5 3.5l-3 2.5l-3.5 3M275.5 273l-2.5 3.5l-4 1.5l-4.5 2.5l-3.5 3l-4.5 2.5l-2.5 2l-5 2.5l-3.5 2.5l-3 1.5l-4 3l-4 3l-3.5 3l-4 2l-2.5 2.5l-4 2.5l-2.5 3l-3.5 2.5l-4 3M274 270l-4.5 2l-4 2.5l-3 3l-3.5 1.5l-4 3.5l-4 1l-4 3l-3.5 1.5l-4.5 3.5l-3.5 2.5l-3 3l-3.5 1.5l-4 3.5l-3 3l-3.5 3l-2.5 2l-3.5 3l-4 2.5M272 266l-4.5 3l-3.5 2.5l-4 2l-3.5 2l-4 3l-3.5 3l-4 2l-3.5 2l-5 2l-3 2l-3 3l-4.5 2.5l-2.5 3l-4 3.5l-2.5 2l-3.5 2.5l-3 3.5l-3.5 2.5M269.5 262l-3.5 3l-4.5 3l-4 2l-4 2.5l-4 2l-2.5 2.5l-4 3l-4.5 2l-3.5 2l-3.5 3l-3.5 2.5l-3.5 2.5l-4.5 3l-3 2l-2.5 2.5l-3.5 3l-3 3l-3 2M267.5 258l-4 3l-3.5 2.5l-4.5 3l-4 2.5l-3 2.5l-4.5 2l-3 2.5l-4.5 3l-3.5 1.5l-3.5 2.5l-4.5 3.5l-3 1.5l-3 3l-4 3l-2.5 3l-4 2.5l-3 2l-3 2.5M265 254.5l-3.5 4l-4.5 3l-3 2.5l-4.5 2.5l-3.5 2.5l-3.5 2l-4.5 1.5l-3.5 2l-3.5 2.5l-4 3.5l-3.5 2l-4 2l-3.5 2.5l-3 3.5l-4 2.5l-3.5 2l-2 2.5l-3.5 3.5M263.5 252l-4 2.5l-4 3l-4 2l-3 3l-4.5 2.5l-3.5 2.5l-4.5 2l-3 2l-5 2l-3 3l-3.5 1.5l-4.5 3.5l-3.5 2l-3 2.5l-4 3l-3 2.5l-2.5 2.5M257.5 250.5l-3.5 3l-4 3.5l-4 2.5l-4 1.5l-4 3l-4.5 2l-4 2.5l-3 1.5l-4.5 2.5l-4 2.5l-4 1.5l-3 3.5l-3 1.5l-4 3.5l-3 2.5M243.5 255l-3.5 2.5l-4.5 3l-3.5 1.5l-5 2.5l-3.5 1.5l-3.5 3l-5 1.5l-3 3l-4 2l-3.5 2.5l-3.5 2.5l-3 3M229.5 258l-4.5 2l-4 2l-4.5 3l-3.5 2l-3.5 2.5l-4.5 2.5l-4 1.5M218.5 258l-4.5 2.5l-4.5 2l-3.5 1.5l-4 3.5l-3 2.5M202.5 260.5l-3 1.5M284 285l-3-4l-3-4l-2.5-4l-1.5-3l-2-4l-2.5-4l-2-4l-2.5-3.5l-1.5-2.5M283.5 291l-3-3l-3-4.5l-2.5-4l-2-3l-3.5-4.5l-2-3l-1.5-4l-2.5-4l-2-2.5l-2-4l-2-4M279 294l-2.5-3.5l-3-4l-2-4l-2.5-4.5l-3.5-3.5l-1.5-3l-2.5-3.5l-1.5-4.5l-3-2l-1.5-4l-1.5-4M277.5 300.5l-1.5-4.5l-3-4.5l-2.5-3l-2.5-4l-3.5-4l-2-3l-2.5-4l-2.5-3.5l-2-3.5l-1.5-2.5l-2.5-4.5l-1.5-2.5M277 306l-2.5-4.5l-3.5-3l-2.5-4.5l-2-3.5l-3-3.5l-2.5-3.5l-2-4.5l-2.5-3.5l-3-3l-2-3.5l-2-2.5l-1-4l-2.5-3l-2.5-4.5M273.5 308l-2.5-3l-3.5-4.5l-2.5-3.5l-3-4.5l-2.5-3l-3-3.5l-1.5-3.5l-2.5-4l-3-4l-1-3l-2.5-2.5l-2-4l-2-4l-2-3.5M272 314.5l-2-4l-3-4.5l-2.5-3l-3.5-4l-2.5-4l-2.5-3.5l-2-3.5l-3-4.5l-2-2l-2-4.5l-3-3.5l-1.5-2.5l-2-3.5l-2.5-3.5l-2.5-3.5M271.5 320.5l-2.5-4l-3-3l-3.5-4l-2-4l-2.5-4l-3-4l-3-3.5l-3-3.5l-2-4l-2-3l-2-3.5l-2-4l-3-3.5l-2-3l-2.5-3.5l-1.5-4l-2.5-4M268 323l-3-3.5l-3-4.5l-3-3l-2-4.5l-3.5-3l-2.5-4.5l-2.5-4l-3-3l-2-5l-2-2.5l-3-3.5l-2-3l-2-4.5l-1.5-3l-3.5-3l-2.5-4l-2-4.5M267.5 330l-4-3.5l-2-4l-2.5-5l-3.5-3.5l-2.5-3.5l-3-4l-2.5-4l-3-4l-2-4l-3.5-3l-2.5-4l-1.5-3.5l-2-3.5l-2-3.5l-3-3.5l-1.5-3.5l-3-4l-2.5-4l-2.5-4M265.5 336.5l-3-4l-2-4l-3-3.5l-3-5l-3-3.5l-3-3.5l-2.5-4l-2.5-4l-2.5-4l-2.5-3.5l-3-3.5l-2-4.5l-2-2.5l-2-4l-2.5-2.5l-2-4l-3-4l-2-3.5l-3.5-4l-2.5-4.5M262 339l-2.5-3l-3-5l-3-3l-2-4.5l-3.5-4l-2.5-4l-3-4l-3.5-3.5l-1.5-4.5l-3-3l-2-3.5l-2-4.5l-2.5-3l-3-3l-1.5-4l-2-4.5l-3.5-3l-3-4.5l-2-3.5l-3.5-4.5M261 346l-2.5-4.5l-3-4l-2-3l-3.5-4l-2.5-4l-3-4.5l-3.5-3.5l-2-4l-2.5-4l-3.5-3.5l-2-3.5l-2-5l-3-3.5l-1.5-3l-2.5-4l-2.5-3.5l-2.5-3l-3-5l-2-3l-2.5-4l-3.5-5.5l-3.5-3.5M257 348.5l-2.5-3.5l-2.5-4.5l-2-3l-2.5-4l-3.5-4.5l-3-4l-2.5-4l-3.5-3.5l-2-4l-2.5-4l-3.5-4l-2-3.5l-1.5-4l-3.5-3l-1-4l-3-4l-2.5-3.5l-2.5-3.5l-3-4.5l-3-3.5l-3-4.5l-2.5-5.5M254 350.5l-2.5-3.5l-3-3.5l-2-4l-3-4l-3.5-4l-2-3.5l-3.5-4l-2-4l-3.5-4l-2.5-4.5l-2-3.5l-2.5-3l-2.5-3.5l-2.5-4.5l-2-3l-2-3.5l-2.5-4.5l-2.5-4.5l-3.5-3.5l-3.5-4.5l-2-3.5M248 349l-2.5-3.5l-3-3.5l-3-4l-3-4l-2.5-4l-3-4l-3-3l-2.5-4.5l-2.5-3.5l-2.5-4.5l-2-2.5l-1.5-4.5l-2.5-4l-2-2.5l-3.5-4l-2.5-4l-2.5-4l-3-4.5M236.5 340l-3.5-3.5l-2-3.5l-3.5-4l-3-3.5l-2-4l-2.5-4l-2-4l-2-3.5l-2.5-4l-2.5-3.5l-2.5-3l-3-4.5l-2-3.5l-2.5-4l-3-4M226.5 334.5l-2.5-2.5l-2.5-4.5l-2.5-4.5l-2.5-2.5l-2-4.5l-2-3l-2-3.5l-2.5-4l-2.5-4l-2-4l-2.5-3.5M210.5 319l-2-3.5l-1.5-3.5l-2-4.5l-2.5-3.5l-2.5-3M283.5 291l0.5-6l1-7M277 306l0.5-5.5l1.5-6.5l1.5-6l0.5-7M271.5 320.5l0.5-6l1.5-6.5l1-6.5l1.5-5.5l0.5-5.5l1-7l0.5-6.5M265.5 336.5l2-6.5l0.5-7l1-6.5l1-6l1-5.5l0-6.5l2-7l0.5-5l1.5-7l0.5-6.5M261 346l1-7l0.5-6.5l1-6l1.5-7l1-6l1-7.5l0.5-5.5l1-6.5l2-5.5l1-6l1.5-6l1-6.5M257 348.5l1.5-7l1-5.5l1-7.5l1-6l0.5-7.5l0.5-5.5l2-6.5l0.5-6l1.5-6.5l1.5-6l1-6.5l0.5-6l2.5-6M254 350.5l0.5-5.5l1-7.5l1-6.5l1-6l1.5-7.5l0-5.5l1.5-6.5l0.5-6.5l1-6.5l1.5-5.5l1-6.5l1-6l2-5.5l2-7M251.5 347l0.5-6.5l1.5-6l0-6.5l1-8l1-6l1.5-6.5l1-6l0.5-6.5l1-5.5l1.5-6l1.5-6l1.5-6l2-6.5l1.5-7M248 349l0.5-5.5l1.5-6l0-7l1.5-7l0-7l1.5-6l0.5-6l1.5-7l1-6l0.5-5.5l2.5-7l1-5.5l1.5-5.5l2-7l1.5-6.5M245.5 345.5l1-6l1-6l0-7l0.5-7l0.5-6.5l1.5-6.5l1-6.5l1-6l2-6l1-5.5l1.5-7l1-5.5l2.5-6.5l1.5-5l2-6.5M242.5 342l1-6.5l0.5-6.5l0.5-7l1-6.5l0.5-6.5l1.5-6.5l1-6.5l0.5-5.5l2-7l1.5-5l1-6l2-6l1.5-5l2.5-7M239.5 338l0.5-6.5l1-6.5l0-6.5l1.5-7l1-6.5l1-6.5l1-5.5l1.5-6.5l2-5l0.5-7l2-5.5l2.5-5l1.5-6.5l2-7M236.5 340l0-6l1.5-6l0.5-7l0.5-6.5l0-6.5l2-7l1.5-6.5l1-6.5l1.5-4.5l2-6.5l1.5-5.5l1-5l2-7l2.5-6M233 336.5l1-6.5l0.5-6l0.5-6.5l1.5-7l1-7l1-6l0.5-6l2.5-6l1.5-5.5l1-6.5l2-4.5l2.5-6.5l1.5-5.5M231 333l0-7l1.5-6l0.5-6.5l0-6.5l1.5-6.5l1-6.5l1-6.5l2-5.5l2.5-6l1.5-5l1.5-6l2-5.5M226.5 334.5l1-5.5l0.5-6l1-7l1.5-6.5l0.5-6l1.5-6.5l1-7.5l1.5-5.5l1.5-5l1.5-6.5l2.5-5l1.5-6.5l1.5-6M224 332l0.5-6.5l1-7l1-7l0.5-6l2-7l1.5-6l1-5.5l1.5-6.5l1.5-6l1.5-5l2-5.5l2-6.5M221.5 327.5l1-6l0.5-6.5l1.5-7l0.5-6l1-7l2-5.5l1.5-6.5l1.5-6l2-5.5l0.5-5.5l2-5.5M219 323l1-5.5l0.5-7l1.5-5.5l1.5-7l1-6l0.5-5.5l2-6l1-7l1.5-5l2.5-6.5M216.5 320.5l1.5-7l0.5-5.5l1-6.5l0.5-6.5l2-7l1.5-5.5l1.5-6l1.5-6.5l0.5-5.5l2.5-6.5M214.5 316l1.5-6l1-6.5l0-6.5l2-6l0.5-6.5l2-6.5l0.5-5.5l1.5-6.5l1.5-6M210.5 319l2-6l1-7l1-6.5l0.5-5.5l1-7l1-5.5l1-6.5l2-6l1-7M208.5 315.5l2-6l0.5-7l1.5-5.5l0.5-6.5l0.5-7l0.5-7l1-6l1.5-5.5l2-7M207 312l1-6.5l0.5-6l0.5-6.5l1.5-7l0.5-6l1-6.5l1-6.5l1-6.5M205 307.5l0.5-6l0-6.5l1-6l1.5-7.5l0-6l1.5-6l0-7M202.5 304l1-6.5l0-6l0.5-6.5l0.5-7l0.5-6l1-8M200 301l1-7l0-6.5l0-7l0-7l1-6l0.5-7M199 270l0.5-8"/><path id="clip11w5p" d="M209.5 287l-4.5-0.5l-4.5-1M213.5 282.5l-4.5-1l-3.5-0.5l-4.5-1M223.5 279.5l-4-1.5l-4.5-1l-5-0.5l-5-0.5l-4-1M228.5 275l-4 0l-5-1.5l-5 0l-4-1.5l-6-1l-4 0M239.5 272l-5-0.5l-4.5-1l-5-0.5l-4.5-1l-5.5-1l-4.5-0.5l-5-1l-5-0.5M243.5 268l-4-0.5l-4.5 0l-5-0.5l-4-2l-5.5-0.5l-4.5 0l-5.5-1.5l-5.5-2l-4.5-0.5M254 265l-4-0.5l-5-0.5l-4.5-1l-5 0l-5-1l-4-0.5l-5-1l-5-2l-5 0l-5-2l-6-0.5M259.5 260l-5 0l-4.5 0.5l-5-1l-4-0.5l-4 0l-5-1l-4.5-1l-5.5-1.5l-6-1.5l-5-1l-4.5-0.5l-5-1M263.5 256l-4.5-0.5l-4 0.5l-4.5 0l-3.5-1l-5.5-0.5l-4.5 0l-5-1l-5-1.5l-5-1.5l-5.5-0.5l-4.5-1.5l-5.5-1.5l-4.5-1M265.5 251l-4.5 0l-4 1l-4.5-0.5l-5-0.5l-5.5-1l-4.5-1l-5 0l-4.5-1.5l-4.5-1l-5.5-1l-5.5-1l-5-1.5l-5-0.5M262 246.5l-5.5 0.5l-4.5-0.5l-4 0l-5.5-1.5l-4.5 0l-4.5-0.5l-5.5-1l-4.5-2l-6-1l-4-1l-5.5-1.5l-4.5-0.5l-5.5-1M262 242.5l-4.5-1l-4 0.5l-4.5-1.5l-5-0.5l-5.5 0l-4.5-1.5l-5.5-0.5l-5-1l-5-1l-5-1l-4.5-0.5l-5-1.5l-5-1M263 237l-5 0.5l-4-1.5l-5 0.5l-4.5-1l-5-1l-6-0.5l-4.5-1l-5-0.5l-5.5-1.5l-4-0.5l-5.5-1l-3.5 0l-5-1M263.5 232l-4.5 0l-4.5-0.5l-5.5-1l-5 0l-4.5-0.5l-5-0.5l-4.5-1.5l-5.5-0.5l-5-1l-4-0.5l-4.5 0l-5.5-0.5l-4-1.5M264.5 227.5l-5.5 0l-4.5-1l-5-0.5l-5-1l-4.5-1l-5.5-0.5l-4.5-0.5l-5.5-0.5l-3.5 0l-5.5-0.5l-4.5-1l-4.5 0l-4 0l-4-0.5M265 222l-5.5 0.5l-5-1.5l-4.5-0.5l-5.5-1l-4.5-0.5l-5.5-1l-3.5 0.5l-5-1l-5 0l-5-1l-4 0l-4 0.5l-4.5-1l-4 0.5M265 218l-5-1.5l-4.5 0l-5-0.5l-4.5-1.5l-6-0.5l-4.5-0.5l-5-0.5l-4 0l-5 0l-4.5 0l-4 0l-3.5-0.5l-5.5-0.5l-3.5 0M265.5 213l-5.5-1l-4-0.5l-5.5-1l-5-1l-4-1l-6 0.5l-4.5-1l-4.5-0.5l-4.5 1l-4 0l-5-1l-3.5 0.5l-3.5-0.5l-4.5 0M251 205l-5.5-1l-4 0.5l-5.5-1l-4 0l-4-1l-4.5 0.5l-5 0l-4 0.5l-4.5-0.5l-3.5 1l-5-0.5M241.5 199l-4 0l-5.5-0.5l-3.5 0l-4.5 0.5l-4.5-0.5l-4.5 0.5l-3.5 0.5l-4-0.5l-4.5 0.5l-5-1M228.5 194l-4 0.5l-4.5-1l-4 0l-3.5 0.5l-5 0l-3.5 0.5l-5-1M221 189.5l-3.5-0.5l-5 0l-4 0.5l-5 0l-4.5-0.5M209 184.5l-5 0.5l-4-0.5M263.5 256l2-5M259.5 260l-0.5-4.5l2-4.5l1-4.5l0-4l1-5.5l0.5-5l1-4.5l0.5-5.5l0-4l0.5-5M254 265l0.5-5l0.5-4l2-4l-0.5-5l1-5.5l0.5-4l1-5.5l0-4.5l0.5-5l0.5-6l0-4.5M250 264.5l0-4l0.5-4.5l2-4.5l-0.5-5l1.5-4.5l0.5-6l0.5-4.5l0-5l0-5.5l1-4.5l0.5-5M243.5 268l1.5-4l0-4.5l2-4.5l0.5-4l0.5-4.5l1-6l0-4l0-6l0.5-4.5l0.5-5.5l0.5-4.5l0-5.5l0.5-5.5M239.5 272l0-4.5l1-4.5l0.5-4l0.5-4.5l0.5-4.5l0.5-5l1.5-5l0.5-4.5l-0.5-5l0.5-5.5l0-5.5l1.5-5l-0.5-5l0-5.5M234.5 271.5l0.5-4l0.5-4.5l1.5-4l0-4.5l0.5-5.5l0.5-4l0.5-5l1-5.5l0-4.5l0.5-6l0-5l0-5l1.5-5.5l0-4l0-5.5M228.5 275l1.5-4.5l0-3.5l0.5-5l1.5-4l0-4.5l0.5-4.5l1-4.5l0.5-6l-0.5-4.5l1-4.5l0-6l0-5.5l1-4.5l0-4.5l0.5-5.5l1.5-4.5M223.5 279.5l1-4.5l0.5-5l1-5l0.5-3.5l1-4.5l-0.5-5l1-4.5l0-4l0.5-5.5l0.5-5l1-5l0-5l1-4.5l-0.5-5.5l0.5-5l1-4.5l0-5M219.5 278l0-4.5l1-4.5l0-4.5l1-4l0.5-5l0-5l1.5-4l0-5l0-4.5l0.5-4.5l0.5-5l0-5l1.5-5l0.5-4.5l0-5.5l1.5-5l0.5-4l0-4.5M213.5 282.5l1.5-5.5l-0.5-3.5l0.5-5.5l1-3.5l0.5-6l-0.5-4.5l0.5-4l1.5-4.5l-0.5-5l1-4.5l0-5l1-4.5l1.5-4l0-5l0.5-4.5l0.5-4.5l1.5-5.5l0.5-4l0.5-4.5M209.5 287l-0.5-5.5l1-5l0.5-4.5l0-4.5l0-4.5l1-4.5l-0.5-5.5l1-4.5l0.5-4l1-5l0-4.5l1-4.5l1-4.5l0-4l0.5-5.5l1-3.5l1-4.5l0.5-5.5l1-4.5l0.5-5l1-4M205 286.5l0.5-5.5l-0.5-5l-0.5-5l1-4.5l-0.5-5.5l1.5-4.5l0-4l0-5.5l1-4l0.5-5l1-3.5l0-5l2-3.5l0-5l1-4.5l1-3.5l0-5.5l1.5-4l0.5-4.5l1-5.5l1.5-4.5M200.5 285.5l0.5-5.5l0-5l-0.5-4l0-5l0-5.5l0-4.5l1-4.5l0.5-5.5l0.5-3.5l1-5l0.5-4.5l1.5-3.5l0-4l1-4.5l1.5-4l1.5-4.5l0-4.5l0.5-5l1.5-3.5l1-5.5l0-5M198 236.5l1-4.5l1.5-3.5l1-4.5l1-3l1-5l0.5-4l2-4.5l0.5-3.5l1-5l0-5l1-4.5l0.5-5M198.5 220.5l1-4l1-4.5l1-4.5l0-4l1.5-4l1-5l-0.5-5l0.5-4.5M198 198.5l1-5l0-4.5l1-4.5M254 265l5.5-5l4-4M239.5 272l4-4l6.5-3.5l4.5-4.5l4.5-4.5l6.5-4.5M223.5 279.5l5-4.5l6-3.5l5-4l5.5-3.5l5-3.5l5-4.5l6-5M209.5 287l4-4.5l6-4.5l5-3l5.5-4.5l5-3l5.5-4.5l4.5-3.5l5.5-3.5l6.5-4l5-5.5M205 286.5l4-5l6-4.5l4.5-3.5l5.5-3.5l5-3l5.5-4l5.5-4l6-4l5.5-3.5l4-4.5l5.5-4.5M200.5 285.5l5-4.5l4.5-4.5l4.5-3l6-4.5l5.5-4l4.5-3l6.5-3l4.5-4.5l6-3.5l4.5-4.5l5.5-5l5.5-4.5M201 280l4-4l5.5-4l4.5-4l5.5-3.5l6-3l5.5-3.5l5-3.5l5-4.5l6-3.5l5.5-4.5l4.5-4.5l5.5-5.5M201 275l3.5-4l6-3.5l5.5-3l5.5-4l6-3.5l4.5-3.5l5.5-4.5l5-4l6.5-4.5l5-4.5l5-4l5.5-4.5M200.5 271l5-4.5l5-3.5l6-4.5l5.5-3l5-3.5l5.5-3l5.5-4l6-5l5-3.5l5.5-5l4.5-4l6-5.5M200.5 266l4.5-5l6.5-2.5l4.5-4.5l6-3.5l6-3l5.5-3l5-4.5l6-4.5l4.5-5l5.5-4l5-4l5.5-4.5M200.5 260.5l6-4l4.5-3.5l5.5-3l7-3.5l4.5-3l6-5l5.5-4l4.5-4l5.5-4.5l5-5l5.5-4.5l5.5-3.5M200.5 256l6-3.5l5.5-4l6-3l5.5-4l5-3.5l5-4l6-4l5-5l5.5-4.5l5.5-4l4.5-4.5M201.5 251.5l5-4.5l6-2.5l5-4l6-3.5l5.5-4l5.5-3.5l5.5-5.5l4.5-4.5l6-3.5l5.5-4.5M202 246l5.5-3l6-3.5l5-3.5l5.5-3.5l6-4.5l4.5-4.5l5.5-4.5l6-4.5l4.5-4M202.5 242.5l5.5-4.5l5.5-3l5-4l6-3.5l5.5-4.5l4.5-5l5.5-4l5.5-4.5l5.5-4.5M203.5 237.5l5.5-3l5.5-4l5-4l5-4l6.5-4l4.5-5l6-5l4-4.5M198 236.5l6-3.5l5-3.5l6.5-3.5l5.5-3.5l5-5l4.5-4.5l5-4l6-4.5M199 232l6.5-2.5l5.5-3.5l4.5-4l5.5-4.5l5.5-4.5l4.5-5l5-4.5l5.5-4.5M200.5 228.5l5-3l5.5-4.5l5-4.5l5.5-3.5l5-5.5l5.5-4l5.5-4.5M201.5 224l5-3l5.5-4.5l5-3.5l5-4.5l6-6l4-4M202.5 221l5.5-4l5-4l5-4.5l5.5-5.5l5-4.5M198.5 220.5l5-4.5l6-3.5l3.5-5l5.5-4.5l5.5-4l4.5-5M199.5 216.5l4.5-4.5l5.5-4l5-4.5l5-5l5-4M200.5 212l5.5-4.5l4-4.5l5-4l5-5.5M201.5 207.5l5-3.5l5-4.5l4.5-6l5-4M201.5 203.5l6-4.5l5-5l5-5M203 199.5l4.5-5.5l5-5M198 198.5l6-4l4.5-5M199 193.5l4.5-4l5.5-5M199 189l5-4"/><path id="clip11w6p" d="M203 209l-1.5-3.5l-2.5-4M209 210.5l-2.5-4.5l-1.5-3l-1.5-3.5l-2.5-3.5l-2-5M215 211l-1.5-4l-2-3l-2.5-4.5l-1.5-2.5l-2.5-4l-2-5l-2.5-3.5M221.5 212l-2.5-4l-1.5-3.5l-2-4l-2.5-3.5l-2-3.5l-2.5-4l-1.5-4l-3.5-3.5l-2.5-4.5M227.5 213l-2.5-4.5l-2.5-3l-1.5-3.5l-2.5-3.5l-1.5-4.5l-2-3.5l-2.5-3.5l-2.5-4l-2.5-4l-2-4.5l-3.5-4M233.5 214.5l-1.5-5l-3-4l-2-3l-2.5-4.5l-2.5-3.5l-1-3.5l-3-3.5l-2-4l-2-3l-2.5-4.5l-2.5-3.5l-3-4.5M241 216l-2.5-5l-3-3l-2-4.5l-3-4.5l-2-3.5l-2-3.5l-2.5-4l-2-3l-1.5-4.5l-2.5-3l-2-3.5l-3-4.5l-2.5-4l-3-4.5M247.5 218l-2.5-4.5l-3-5l-2.5-4l-2.5-4.5l-2.5-4l-2-4l-2-2.5l-2-4.5l-2-3l-2-4l-2-3.5l-3.5-4l-1.5-3.5l-3-4.5l-3-3.5M255.5 220.5l-4-4.5l-2.5-5l-3-4l-2.5-5l-2.5-4.5l-2.5-4l-2-3l-1.5-4l-2.5-3.5l-3-4l-2-3l-1.5-4.5l-2.5-3.5l-3-3.5l-2-4l-3.5-4l-2.5-4.5M262.5 222l-3.5-4.5l-2-5l-3.5-4.5l-2.5-4.5l-3-4l-2.5-4.5l-2.5-4l-3-4l-1.5-3l-2-3.5l-3-3.5l-1-4l-3-4l-2-3.5l-2.5-3l-3-4.5l-2.5-3.5l-2.5-4M266.5 219l-3.5-4.5l-2.5-3.5l-3.5-5l-3-5l-2-3.5l-3-4.5l-2.5-4.5l-2.5-3.5l-2.5-3.5l-1.5-4l-2-3.5l-3-3l-1.5-4l-2.5-4l-1.5-2.5l-4-4.5l-2-4.5l-2.5-3.5M267.5 212.5l-2.5-4l-3-4.5l-3-5l-3.5-4.5l-2-3.5l-2.5-5l-3.5-3.5l-2-3l-2.5-4.5l-1-3.5l-3-2.5l-1-4.5l-3-3.5l-2-3.5l-3-4l-3-4l-2.5-4M271 211l-2.5-5l-2.5-3.5l-3.5-5.5l-2.5-3.5l-3.5-5.5l-2-4l-2.5-3.5l-2-4.5l-3-2.5l-2-3.5l-2-4l-2-3.5l-2.5-4l-1.5-3l-2.5-3.5l-2.5-4.5l-2.5-4.5M272 203.5l-2-3.5l-3.5-4.5l-2.5-4.5l-4-4.5l-2-4.5l-2-4l-2.5-3.5l-2-3.5l-3-3.5l-2-4l-2-3l-2-3.5l-2-4.5l-3-4l-2.5-3l-2.5-4.5l-3-3.5M276.5 201.5l-2.5-4l-3-5l-3-4.5l-3.5-4l-2.5-4.5l-3.5-3l-1.5-5l-2-3l-2-3.5l-2.5-4.5l-2-2.5l-2.5-4l-2-3.5l-2-3.5l-3-3.5l-2.5-5l-2.5-4.5M280.5 200l-3.5-5l-3-3.5l-2.5-5l-3.5-4l-2-4.5l-2.5-4l-2.5-4.5l-2.5-4l-2-3.5l-2-3.5l-2.5-3l-1.5-4.5l-1.5-3.5l-3.5-3l-1.5-4l-2.5-4.5l-3-4M283.5 198l-3-5l-2-4l-3.5-4.5l-3.5-4.5l-2.5-4.5l-2-4.5l-2.5-4l-3-3.5l-1.5-4.5l-1.5-2.5l-2-4l-2-3.5l-2-4l-2.5-3.5l-2.5-4.5l-1.5-3.5l-3-3.5M288 196l-3.5-5l-3-5l-2.5-4.5l-2.5-4l-3-5l-3-3.5l-2.5-4.5l-1.5-3.5l-2-4l-2-4l-1.5-3l-3-4.5l-1.5-2.5l-3-4.5l-1.5-4l-2.5-4l-3-3M291.5 193.5l-3.5-5l-2.5-4l-3-5l-2.5-4l-2-4.5l-3-4.5l-2.5-5l-2-3.5l-2-4l-2.5-3.5l-2-3.5l-2-3.5l-1-4l-3-3l-1.5-4l-2.5-5l-2.5-3M295.5 191l-3-4.5l-2-4.5l-3-4.5l-3-5l-2.5-4l-3-5.5l-2.5-4l-2.5-4l-2-3.5l-1.5-4l-1.5-3.5l-3-3.5l-1-4l-1.5-3l-2.5-4l-2.5-4M302 193l-2.5-5l-2.5-4l-3-5l-3-4l-2.5-4.5l-3-5.5l-1.5-4l-3-4.5l-2.5-4l-2.5-3.5l-1.5-4.5l-1.5-3.5l-2-3l-1.5-4l-2.5-3l-2-5M303.5 185.5l-2-3.5l-3-4.5l-2.5-5l-2.5-4l-3.5-5l-2.5-4.5l-2.5-5l-2.5-4l-1.5-4l-2.5-3.5l-1-4l-2.5-3.5l-2-3l-2.5-3.5l-2-4.5M302.5 174.5l-3-4l-2-5l-2.5-5l-2.5-4.5l-2.5-3.5l-2-4.5l-2-4.5l-2.5-3l-1.5-3.5l-2.5-4l-2-4l-2.5-3.5M301 163l-1.5-4l-3-4.5l-2-5l-3-4.5l-2-4l-2.5-3.5l-1.5-4l-2.5-3.5l-2-3M301 151.5l-3-3.5l-2-5l-2.5-4l-2.5-4l-1.5-3.5l-2-3.5l-2-3.5M302 145.5l-2-4.5l-2-4l-2-4l-3-3l-1.5-4.5M301.5 135.5l-2-5l-2.5-3.5M262.5 222l4-3M255.5 220.5l3.5-3l4-3l4.5-2l3.5-1.5M247.5 218l4-2l5.5-3.5l3.5-1.5l4.5-2.5l3.5-2.5l3.5-2.5l4.5-2l4-1.5l3-2l4.5-2l3.5-2.5l4-2.5l4-3l4-2.5M241 216l4-2.5l4-2.5l4.5-3l3.5-2l5-2l4-1.5l4-2.5l4-2.5l3-2.5l3.5-2l4-2l3.5-2.5l4.5-2l4.5-2.5l4.5-2M233.5 214.5l5-3.5l3.5-2.5l4-1.5l5-3.5l3-2.5l5-2l3.5-2l4-1.5l4.5-3l3-1l4.5-2.5l3-3l4-1.5l5-2.5l3.5-3l4.5-1.5l4-3M227.5 213l4.5-3.5l3.5-1.5l4-3.5l4-2.5l4.5-2.5l4-2l3.5-3l4.5-1l4-2.5l4-3l3.5-1.5l3.5-2l4-3l3.5-2l5-2l3.5-2.5l5-2.5l3.5-2M221.5 212l3.5-3.5l4-3l4.5-2l3.5-3.5l4-2.5l4.5-2.5l3.5-2l4.5-2l3-3l3.5-1.5l4.5-2.5l3.5-1.5l3.5-2.5l5-2.5l3.5-2l4.5-3l4-2l5-2l4-3l3.5-2.5M215 211l4-3l3.5-2.5l4.5-3l3.5-3.5l4-3l4-2.5l4.5-2.5l3.5-2.5l4.5-2.5l3.5-2l3.5-2l4-2.5l4-1.5l3-2.5l4.5-3l4.5-1.5l4-2.5l3.5-3.5l4.5-1.5l5-3l4.5-1.5M209 210.5l4.5-3.5l4-2.5l3.5-2.5l3.5-4l4-2.5l4-3.5l4-1.5l3.5-3.5l4-2l3.5-2.5l4.5-2l4-2.5l2.5-1.5l5-2.5l3.5-3l3.5-2l4.5-2.5l4-3.5l5-2l3.5-2l5-3l4-1.5l4.5-3M203 209l3.5-3l5-2l4-3.5l3-2l3.5-4l4.5-2.5l4-2.5l4.5-3l3.5-2.5l3-2.5l4-2l4.5-3.5l3.5-1.5l3.5-3l4-2l3.5-2.5l3.5-2.5l4.5-3l4-2.5l4.5-2.5l4-2.5l5-1.5l4.5-3l3.5-1.5l4-2.5M201.5 205.5l3.5-2.5l4-3.5l4-2.5l4-3l4-3l3-3l4.5-3l4-2l4-2.5l3.5-3l3-2.5l4-1.5l4.5-2.5l3.5-2.5l3.5-3l3-2l5-2.5l4-3l3.5-3l4.5-2.5l4-2.5l5.5-2l3.5-3l4.5-2l4-2M199 201.5l4.5-2l4-2.5l3.5-3.5l4-3l3-3l4-2.5l4.5-3l3-3l4-2l4.5-3l4-2.5l3-1.5l3.5-2.5l4.5-2.5l3.5-3l3.5-3l4.5-2l4-3l3.5-2.5l4-2.5l5-3l5-2.5l3.5-2.5l4-2l4.5-2l3.5-1.5M201 196l4-3l3.5-3.5l4-2.5l3.5-3.5l4.5-3l4-2.5l3-2l5-3l2.5-2l4-2l4-3l3.5-2.5l4-3l4-2l4-2l4-3.5l3.5-2.5l4.5-3l4-3l4-2l5-2l3.5-3l4-2.5l5-2l3.5-2.5M199 191l4-3l4-2.5l3-2.5l4-2.5l4-3l4.5-3l3.5-3l3.5-2.5l4-2l4.5-2.5l3-2l3.5-2l4-2.5l3.5-2.5l4.5-3l4.5-2.5l3-3l5-3l4-3l4.5-2.5l4.5-1.5l3.5-3.5l4-2l3.5-1.5l4-3l3.5-2M200.5 184.5l3-2.5l4-3l4-3l4.5-2l3-3.5l4.5-2.5l4-2.5l3.5-2.5l4-2l3.5-2.5l4-1.5l3.5-3l4.5-3l4-2l3.5-3.5l4-2l4-3l5-2.5l4-3l4.5-2l3.5-3l4.5-2l4-2.5M201 177.5l4.5-3l3.5-2l4-3l4.5-2.5l3-2.5l4.5-2l4.5-2l3.5-3l4-2l3.5-3l3.5-2l5-3l3.5-2.5l4-2l4.5-3.5l4-3l4.5-2.5l3.5-2l4.5-3l3.5-2l4.5-2.5M202 170.5l4-2.5l4.5-2.5l4-3l4-2l3.5-2.5l3.5-2l4.5-2.5l4.5-1.5l3-3.5l4.5-1.5l3.5-2.5l4.5-3l3.5-3l4.5-2l5.5-3l3.5-2.5l3.5-2.5l4.5-3M207.5 161l4-2l3.5-2.5l4.5-2l4-3l3.5-2l5-2l3-2l4-2l5-3l3.5-3.5l4.5-2.5l4.5-2l4.5-3l4-3.5l3.5-2M212.5 152l4.5-1.5l4-2.5l3.5-2.5l5-2.5l3-2l4-2.5l5-2.5l4.5-2.5l3.5-3l4.5-3l4.5-2M229.5 137.5l4.5-3.5l4.5-2l4.5-2l3.5-2.5l5-3M203 209l6 1.5l6 0.5l6.5 1l6 1l6 1.5l7.5 1.5l6.5 2l8 2.5l7 1.5M201.5 205.5l5 0.5l7 1l5.5 1l6 0.5l7 1l6.5 1.5l6.5 2.5l6.5 2.5l7.5 1.5l7.5 1.5M199 201.5l6 1.5l6.5 1l6 0.5l5 1l6.5 0l6.5 2.5l6.5 0.5l7 2.5l8 1.5l6 2M203.5 199.5l5.5 0l6.5 1l5.5 1.5l6 0.5l6.5 1l6 1l6.5 2.5l7.5 1l7 3l7 1.5M201 196l6.5 1l5.5 0l5.5 1.5l6-0.5l6 1l6.5 1l6.5 2l7.5 1.5l6 2.5l8 2.5l6 2.5M199 191l6 2l6 0.5l6 0.5l5 0.5l6.5 1l6 0.5l6.5 1.5l7 2l6 1.5l8 3l6.5 2M203 188l5.5 1.5l6.5 1l6 0.5l5.5 1l6 0l6 1.5l7 1.5l6.5 2.5l7 1.5l7 3.5l6 1M200.5 184.5l6.5 1l5.5 1.5l5.5 0.5l6 0.5l6.5 1.5l6 1l6.5 0.5l6 2l6.5 1.5l7 2.5l7.5 3l6.5 1.5M203.5 182l6.5 1l6 0.5l6 1.5l6.5 0l6.5 1.5l5 0.5l6.5 1.5l7 2.5l6.5 2.5l6.5 2l7.5 2l6.5 2.5M201 177.5l6.5 1.5l6.5 1.5l6.5 0l6 1.5l6 1l6 1l5.5 1l7 1l5.5 2l7.5 3l7 1.5l6 2.5l6.5 3M205.5 174.5l6 1.5l6.5 1.5l6.5 0.5l5 1l7 1.5l5 1l6 1l7 1.5l5.5 2.5l8 1.5l6 3.5l6.5 1.5l7.5 3M202 170.5l7 2l7 1.5l6.5 0.5l5 1.5l6 1l6.5 0.5l5.5 2l6.5 1l6 1.5l6.5 2l7 2.5l7 2.5l6 2l7 2.5M206 168l7 1.5l6 1l7 1l6.5 1.5l5.5 1l5 1l7 1l6 2l6 1.5l6 3l7 2l6.5 1.5l6.5 2.5l7.5 2.5l6.5 2M210.5 165.5l7 1.5l6 1l6 1l5.5 2l7 0.5l5 2l6.5 1l5 2l7.5 1.5l5.5 2l7.5 1.5l6.5 3l7 2l7 1.5M207.5 161l7 1.5l6 2l7 1l6 1.5l5.5 2l6 1l6.5 1l5.5 0.5l6.5 2.5l5.5 1.5l7.5 2l6 2l8 2.5l6.5 2l6.5 1.5M211.5 159l7 1.5l6.5 2l6 0.5l7 1.5l5 1.5l5.5 1.5l6.5 1l6 1l6 1.5l6.5 1.5l6.5 3l7.5 2l6.5 1.5l7.5 3M215 156.5l7 1.5l7.5 2.5l5.5 0.5l6 1.5l5.5 1l6.5 1.5l5.5 0.5l6 1.5l6 2l7.5 2l6.5 1.5l6.5 2.5l7.5 2.5M212.5 152l7 2.5l6 1.5l7.5 1.5l5.5 1l6 2l6 0l6 1.5l5 1.5l6.5 1l7 2l7 2l6.5 2l7.5 2l6.5 2M217 150.5l6.5 1l6.5 2l7 2l5.5 1.5l6 1l6 0.5l5.5 0.5l6.5 2l6 0.5l6.5 1.5l6.5 2l8 3.5l6 2M221 148l6 1.5l7.5 2.5l6 0.5l5.5 1.5l6 1.5l6.5 1l6 0.5l6 1l6 1l7.5 2l6 2.5l7.5 2M224.5 145.5l7.5 2l5.5 1l6.5 2l6.5 0.5l6 1.5l6 0.5l6 1l5.5 1l7 1.5l6.5 2.5l7.5 1.5l6 2.5M229.5 143l5.5 2.5l7 1.5l7 0.5l5.5 1.5l6.5 1l5 0.5l6 1l6.5 1l6.5 1.5l7.5 2l7 3M232.5 141l6.5 2.5l6.5 1l7 0.5l5.5 0.5l6 1.5l6.5 0.5l5.5 1.5l6.5 1l7.5 2.5l6.5 2M229.5 137.5l7 1l7.5 2l6 1l6.5 1.5l5.5 0.5l7 0.5l5.5 0.5l6.5 1.5l7 2l6.5 1.5l6.5 2M234 134l7.5 2l6 1l6 1.5l7.5 1l5 1l7 0.5l5.5 1.5l7.5 1l5.5 1.5l6.5 3M238.5 132l7.5 1.5l6 1l6 2l7 0l6 1.5l6.5 0.5l6 2l6 0.5l6.5 2l6 2.5M243 130l6.5 0.5l7 2l7 1l6 0.5l5.5 1l7 2l5 0.5l6.5 1.5l6.5 2M246.5 127.5l7.5 0l7 2l6 1.5l6 1l6.5 1l6 0.5l5.5 1.5l7 2M251.5 124.5l7 1l6.5 0.5l5.5 2.5l7 0.5l5.5 1l6.5 1.5l6.5 1.5l5.5 2.5M268.5 124l6.5 1.5l6 1.5l6.5 1l5.5 2l6.5 0.5M285.5 124.5l6 1l5.5 1.5"/><path id="clip11w7p" d="M281.5 139l0.5-5l2-4l1-4M282 154.5l1.5-5l1.5-5.5l1-3.5l0.5-5l1-4l1.5-4.5M285 164l0.5-4.5l1-4.5l1.5-5.5l1-4l1-4.5l1.5-4.5l1-4l1.5-5M288.5 175.5l0.5-4.5l0.5-5l1-5l1-5.5l1.5-4.5l1-5.5l1.5-4l0-4.5l1.5-4.5l0.5-4l1-4.5M292 186.5l1-4.5l0.5-4.5l0-6l1-4l1-5.5l1.5-5.5l1-4.5l0.5-5l0.5-4.5l2-5l0.5-3.5l1-4.5l1-4.5M296.5 192.5l0.5-5l1-4l1-5l0-6l1.5-4.5l1-5l0.5-5l0-5l1.5-4l1-5l0.5-5l0.5-4.5l1-4.5l0.5-4.5M302 189.5l1-6l1-4l0-5l1.5-5.5l0.5-4.5l1.5-5l0.5-5l0-4.5l1.5-5l0.5-5l1-4.5l0.5-4l1-4.5M306.5 190l1.5-4.5l0.5-5l1-5.5l1-5l1.5-4l0-5l0.5-5l1-5l1-4l0.5-5.5l0-5l1-4l0.5-5.5M311.5 190.5l0.5-4.5l2-4.5l0-5l1.5-5.5l0.5-4.5l1.5-4l0-5l0.5-5l0.5-5l1.5-4.5l0.5-4.5l-0.5-5.5l0.5-4l1.5-5.5M316 191l1-4l1.5-5l0.5-4.5l1-5.5l1.5-4l0-4.5l1-4l0.5-5l1-4.5l0-5l1-5.5l0-4.5l0.5-5l1-5.5M321 191l1-3.5l1.5-4.5l1-5l1-4.5l0-4.5l1-4.5l1.5-5l0-3.5l1-5l-0.5-5.5l1-4.5l1-5l0-5l1.5-5.5M325 191.5l1-4.5l2-3.5l0.5-4.5l1-5l1.5-4l0.5-4.5l0.5-4l0.5-5l1-4.5l0.5-4.5l0-5.5l1-4.5l0.5-6l1.5-5M329.5 192l1.5-4.5l1-4l2-4l1-4.5l1-3.5l0.5-4.5l0-4.5l0.5-4.5l1.5-5.5l0.5-4.5l0-4.5l1.5-5.5l-0.5-5l1.5-5M333.5 197.5l1-4.5l1-4l1.5-5.5l1-3l1-5l1-3.5l1-5l1-4.5l0.5-3.5l0.5-5l0-5l0.5-4.5l1.5-5.5l0.5-5l1-5l0.5-5.5M338 197.5l1.5-3.5l1.5-5.5l0.5-3l0.5-4.5l1.5-4.5l1-5l0.5-3.5l0.5-4.5l1-4.5l1-4l1-5.5l0.5-5l0-4l2-6l0.5-4.5l1-5.5M342 203l1-5l1.5-3.5l0.5-4.5l2-4.5l0.5-5l1-4l0.5-4l1-3.5l0.5-5l0.5-4.5l0.5-4.5l0.5-5.5l1.5-3.5l1-5l0.5-5l1.5-5.5l0-4M348 200l1.5-5l0.5-5l1-4l0.5-3.5l0.5-5l2-4l-0.5-4l1-5.5l0.5-3.5l2-5.5l0.5-4l0-4.5l1.5-6l0.5-4.5l1-4l1.5-5.5M353.5 196.5l2-5.5l0-3.5l1.5-5.5l0-4.5l1-3.5l0.5-5l1-5l0.5-4l1-4.5l1.5-4.5l1-5l0-4l1-5l0.5-5l1-4.5M359 193l1-5l1.5-4l0-5l0.5-4.5l1.5-4.5l0.5-5l0.5-4.5l1.5-4.5l0.5-5l1-4l0.5-5l1.5-4.5l0.5-5l0.5-4.5M365.5 189l0.5-4l0.5-5.5l1-4l1-5l0-5l0.5-4l1-6l1-4l1-4.5l1-4.5l0.5-5l1-5l1-3M371.5 180l0-4.5l1.5-4.5l0.5-4.5l0.5-5.5l1-4.5l1.5-5.5l1-4.5l-0.5-3.5l1-5.5l1.5-4M377 176.5l1-5l1-5l0-5l1.5-4l0.5-5.5l0.5-4.5l0.5-4.5l2-4l0.5-4.5M382.5 172.5l1-5l0.5-6l1-4.5l1-4l1-5.5l1-4.5l0.5-4M388 168l1.5-5l0.5-4.5l1-5.5l0.5-5l0-3.5l1.5-5M394.5 163.5l0-4.5l1.5-5.5l0.5-4l1-4.5M400.5 154.5l1.5-3.5M333.5 197.5l4.5 0l5 0.5l5 2M292 186.5l5 1l5 2l4.5 0.5l5 0.5l4.5 0.5l5 0l4 0.5l4.5 0.5l5 1l5 1l5 0.5l5 0.5l4 1.5M293 182l5 1.5l5 0l5 2l4 0.5l5 1l5 0.5l4-0.5l5 0.5l4.5 1.5l5.5-0.5l4 1.5l5 0l5.5 1l3.5 2M288.5 175.5l5 2l5.5 1l5 1l4.5 1l5.5 1l4.5 0.5l5 1l4.5 0.5l4 0l5 0l4.5 2l5.5 0l4 0.5l4.5 1.5l4.5 0.5l5.5 1M289 171l4.5 0.5l5.5 1l5 2l5.5 0.5l4.5 1.5l5 1l5.5 0.5l4 1l5.5 0.5l4 1l4 0.5l5.5-0.5l4 2l5.5-0.5l4.5 2l4.5 1M285 164l4.5 2l5 1.5l6 0.5l5 1l5 1l5 1l4.5 1l5.5 1.5l4 0.5l5.5 1l4 0.5l4.5 1l5 0l3.5 1l5 0l4.5 1.5l5 0.5l5 0.5M285.5 159.5l5 1.5l5 1l6 1l4.5 1.5l6 1.5l4 0.5l5.5 1.5l4 1l5.5 1l5 1.5l4 0.5l4.5-0.5l4.5 1l5 1l4 0.5l4 0.5l5.5 1l4 0l5.5 1M282 154.5l4.5 0.5l5 0.5l5.5 1l5 1.5l5.5 1.5l4.5 1.5l5.5 1.5l4 1l5 1l5 1l5 1.5l4.5 0l4 1l5 1l3.5 0.5l5-0.5l5 1l5 0.5l4.5 0.5l5 0.5l4.5 1M283.5 149.5l4.5 0l5 1.5l5 1l4 1l6 1.5l4.5 1.5l5 1.5l5 2l5.5 0l4 2l4.5 1l5.5 0l3.5 1l5 0.5l4 0l5 0l4.5 1l4.5 0.5l5 1l5.5 0l4.5 1l4.5 0.5M285 144l4 1.5l5 0l4.5 1.5l5 2l4.5 1l5.5 1l4.5 1.5l5 2l5 1.5l4.5 0.5l4.5 1.5l5.5 1l4 0l4.5 0.5l4 1l5-0.5l4.5 0.5l4.5 1l5-0.5l5 0.5l5 0l5.5 1.5l5 0.5M281.5 139l4.5 1.5l4 0.5l5.5 0.5l3.5 1l5.5 1.5l5 1l5 2l4 0.5l5.5 2.5l5 1l4.5 1l5 0.5l4.5 1.5l4.5 1l4 0l5.5 0l4 0.5l5 0.5l4-0.5l5 1l5.5 1l4.5-0.5l5 1.5l4.5 0.5M282 134l4.5 1.5l5 1l4 0.5l5.5 0.5l4 1.5l5 1l5 1.5l5 1.5l4 2l4.5 0.5l5.5 2l5 0.5l4 1l5.5 0.5l3.5 0l5.5 1.5l5 0l4 0l4.5 0.5l5.5-0.5l4.5 1l5 1l5 0l5 0.5l4.5 1M284 130l3.5 1.5l5 1l4.5 0l4.5 1.5l4 0.5l5.5 1l4 1l5.5 2l4.5 1l4.5 1.5l4.5 1l5 1.5l4.5 1l5.5 0l4.5 1.5l4 0.5l6-0.5l4 1l4.5 0l5.5-0.5l4 1l5.5 0l4.5 0.5l5 1.5l5.5 1.5M281 125.5l4 0.5l4 1l5 0.5l3.5 1l5 1l4 0.5l5 1.5l4.5 1l4 0.5l5 2l5.5 1l4.5 1.5l5.5 0.5l4.5 1l4 1.5l5.5 0.5l4.5-0.5l4.5 1.5l4.5 0l5 0.5l4 0.5l5 0l6 0l3.5 1.5l6 0.5M298.5 124l5 1l3.5 0.5l5.5 1.5l4 0l4 2l5 1l5 1l5 0.5l4.5 1.5l5.5 1l5.5 0.5l4 1.5l4.5 0l5 1l5 0.5l4 0l4.5 0l6 1.5l4.5 0l4.5 0.5M322 123.5l4.5 1l5.5 1l5 1l4.5 1.5l5 1l5 1l5 0.5l4 1.5l4.5 0l5 0.5l4.5 0l5 1l5 1M347 123.5l5.5 1l4 2l5.5 0l4 1l4.5 0.5l5 1.5M292 186.5l4.5 6M288.5 175.5l4.5 6.5l4 5.5M285 164l4 7l4.5 6.5l4.5 6l4 6M282 154.5l3.5 5l4 6.5l4 5.5l5.5 7l4 5l3.5 6.5M283.5 149.5l3 5.5l4 6l4 6.5l4.5 5l5 7l4 6l3.5 5M281.5 139l3.5 5l3 5.5l3.5 6l4 6.5l5 6l3.5 6.5l4.5 6l3.5 5.5l4 5M282 134l4 6.5l3 5l4 5.5l4 5.5l4.5 6.5l4 6l4 6l4.5 6.5l3 5.5l4 4M281 125.5l3 4.5l2.5 5.5l3.5 5.5l4 4.5l4 6.5l4 6l4 6.5l4.5 5.5l3.5 6.5l4.5 5.5l3.5 5.5l3 4M285 126l2.5 5.5l4 5l4 5l3 5.5l3.5 6l5.5 6.5l4.5 6.5l3.5 5l3.5 6.5l4.5 5.5l2.5 4l3.5 5l4 5.5M289 127l3.5 5.5l3 4.5l3.5 5.5l4.5 6.5l4.5 5.5l4 6.5l4 5.5l4 5.5l4.5 6l3.5 5.5l3 4l3.5 5.5l3.5 4.5l4 5.5M294 127.5l3 5l4 5l3.5 6.5l3.5 6l4.5 6l5 6.5l4 5.5l4 5.5l3 5.5l3.5 4.5l3.5 5.5l4 5l3.5 4M297.5 128.5l4 5.5l3.5 5l4.5 6l4 6l4 6.5l4 6l4 5.5l4 5l4.5 5.5l3 4l4 5l3.5 6l3.5 5.5M298.5 124l4 5.5l3 5l4.5 5.5l4.5 7l3.5 5.5l4.5 7l4 5l4.5 5.5l4 5l3 5.5l3.5 5l3.5 4.5l4.5 5M303.5 125l3 5l4.5 5.5l4 6l3.5 6l4.5 7l5 5l3.5 6l4.5 6l3 4l3 5.5l5 4.5l3 4.5l3.5 6.5M307 125.5l4.5 6l3.5 5l5 6.5l4 7l4 6l4 5.5l4.5 5.5l3.5 5l3.5 4.5l4 4l3.5 5.5l4.5 5M312.5 127l3.5 5.5l4.5 6l3.5 6.5l5 6l3.5 5.5l4 6l4.5 4.5l3.5 4.5l4 5l3 6l4 5l3.5 5.5M316.5 127l3.5 6l5 6.5l3.5 6l5 6.5l3.5 6l5 4.5l3 5.5l4 4.5l3 5l5 4.5l3 6M320.5 129l4.5 6l4.5 6l4.5 6.5l4.5 5l4 6.5l3 4.5l4.5 5.5l4 4.5l3 4l4.5 6.5l4 5M322 123.5l3.5 6.5l5 6l3.5 6l5 6l4 6l3.5 5l4 5l3 5.5l4.5 4.5l3.5 5l4.5 6M326.5 124.5l4 6.5l4.5 6.5l4 6l4 5.5l4.5 6l3.5 4.5l3.5 4.5l4 5l3.5 5.5l4.5 5M332 125.5l3.5 6l5 6.5l3 6.5l5 5l3 5.5l3.5 5.5l4.5 3.5l4 6l4 5.5l4 4.5M337 126.5l3 6.5l5 6l4 5.5l3 5l5 5.5l3 5l4 5l4.5 5.5l3 5M341.5 128l4 6l3.5 6.5l4.5 5.5l4 5l3.5 4.5l3.5 5l4 5l4.5 5.5l4 5.5M346.5 129l4.5 5.5l3.5 6.5l3 5.5l5 4.5l3.5 5l3 5.5l4.5 5l4.5 5M347 123.5l4.5 6.5l3.5 6l4 4.5l4.5 5.5l3 5l3.5 4.5l4 5.5l5 5.5l3.5 6M352.5 124.5l4 6l3 5.5l4 6l4 5l3.5 4.5l4 5l4 5l4.5 6M356.5 126.5l4 5.5l4 5l3.5 5l4 5l4.5 4l4 6.5l3.5 4l4 6.5M362 126.5l3 5.5l4.5 5.5l3.5 5l4.5 4l3.5 5.5l4 5l4.5 6M366 127.5l4 5l3.5 5l3.5 5.5l4.5 4.5l4.5 5.5l4 5.5l4.5 5M370.5 128l4 4.5l3.5 5l4 5.5l5 4.5l4 5.5l3.5 6M375.5 129.5l4 4l4.5 5.5l4 4l3.5 5l4.5 5.5M384.5 134.5l4 4.5l3 5.5l5 5l4 5M393 139.5l4.5 5.5l4.5 6"/></defs>
<g clip-path="url(#clip11o)" fill="none"><g clip-path="url(#clip11w0)"><use href="#clip11w0p" stroke="#aeaeff" stroke-width="1.6"/><use href="#clip11w0p" stroke="#2e2eff" stroke-width="0.8"/></g><g clip-path="url(#clip11w1)"><use href="#clip11w1p" stroke="#aeaeff" stroke-width="1.6"/><use href="#clip11w1p" stroke="#2e2eff" stroke-width="0.8"/></g><g clip-path="url(#clip11w2)"><use href="#clip11w2p" stroke="#aeaeff" stroke-width="1.6"/><use href="#clip11w2p" stroke="#2e2eff" stroke-width="0.8"/></g><g clip-path="url(#clip11w3)"><use href="#clip11w3p" stroke="#aeaeff" stroke-width="1.6"/><use href="#clip11w3p" stroke="#2e2eff" stroke-width="0.8"/></g><g clip-path="url(#clip11w4)"><use href="#clip11w4p" stroke="#aeaeff" stroke-width="1.6"/><use href="#clip11w4p" stroke="#2e2eff" stroke-width="0.8"/></g><g clip-path="url(#clip11w5)"><use href="#clip11w5p" stroke="#aeaeff" stroke-width="1.6"/><use href="#clip11w5p" stroke="#2e2eff" stroke-width="0.8"/></g><g clip-path="url(#clip11w6)"><use href="#clip11w6p" stroke="#aeaeff" stroke-width="1.6"/><use href="#clip11w6p" stroke="#2e2eff" stroke-width="0.8"/></g><g clip-path="url(#clip11w7)"><use href="#clip11w7p" stroke="#aeaeff" stroke-width="1.6"/><use href="#clip11w7p" stroke="#2e2eff" stroke-width="0.8"/></g></g>
<g fill="#fff" opacity="0.9"><ellipse cx="388.0" cy="239.6" rx="1.5" ry="1.0" transform="rotate(-11 388.0 239.6)"/><ellipse cx="368.3" cy="265.1" rx="1.2" ry="1.1" transform="rotate(-10 368.3 265.1)"/><ellipse cx="339.3" cy="186.0" rx="2.1" ry="1.0" transform="rotate(331 339.3 186.0)"/><ellipse cx="318.1" cy="298.1" rx="1.1" ry="1.8" transform="rotate(76 318.1 298.1)"/><ellipse cx="222.6" cy="230.8" rx="3.2" ry="1.9" transform="rotate(208 222.6 230.8)"/><ellipse cx="280.9" cy="158.7" rx="1.6" ry="1.8" transform="rotate(252 280.9 158.7)"/><ellipse cx="282.2" cy="283.8" rx="3.5" ry="1.2" transform="rotate(88 282.2 283.8)"/><ellipse cx="209.8" cy="284.7" rx="2.5" ry="1.3" transform="rotate(135 209.8 284.7)"/><ellipse cx="372.5" cy="208.1" rx="2.3" ry="1.7" transform="rotate(345 372.5 208.1)"/><ellipse cx="363.1" cy="200.2" rx="3.4" ry="1.1" transform="rotate(290 363.1 200.2)"/><ellipse cx="363.0" cy="313.3" rx="3.3" ry="1.4" transform="rotate(55 363.0 313.3)"/><ellipse cx="244.1" cy="213.9" rx="1.8" ry="0.9" transform="rotate(203 244.1 213.9)"/><ellipse cx="256.4" cy="148.3" rx="2.2" ry="1.8" transform="rotate(204 256.4 148.3)"/><ellipse cx="264.5" cy="284.5" rx="1.1" ry="1.0" transform="rotate(156 264.5 284.5)"/><ellipse cx="263.3" cy="171.5" rx="1.5" ry="1.9" transform="rotate(269 263.3 171.5)"/><ellipse cx="330.8" cy="304.9" rx="1.9" ry="1.2" transform="rotate(62 330.8 304.9)"/><ellipse cx="317.5" cy="145.8" rx="3.3" ry="1.6" transform="rotate(302 317.5 145.8)"/><ellipse cx="386.7" cy="279.9" rx="1.4" ry="1.2" transform="rotate(-3 386.7 279.9)"/><ellipse cx="275.5" cy="178.4" rx="2.9" ry="1.4" transform="rotate(245 275.5 178.4)"/><ellipse cx="272.2" cy="155.3" rx="2.1" ry="1.3" transform="rotate(248 272.2 155.3)"/><ellipse cx="364.1" cy="301.8" rx="2.2" ry="1.5" transform="rotate(70 364.1 301.8)"/><ellipse cx="374.3" cy="219.5" rx="2.9" ry="1.6" transform="rotate(345 374.3 219.5)"/><ellipse cx="274.6" cy="289.1" rx="1.8" ry="1.4" transform="rotate(89 274.6 289.1)"/><ellipse cx="361.2" cy="236.1" rx="1.0" ry="1.2" transform="rotate(351 361.2 236.1)"/><ellipse cx="248.7" cy="328.8" rx="1.8" ry="1.4" transform="rotate(133 248.7 328.8)"/><ellipse cx="269.7" cy="141.6" rx="1.2" ry="1.9" transform="rotate(281 269.7 141.6)"/><ellipse cx="332.7" cy="184.5" rx="3.4" ry="1.8" transform="rotate(330 332.7 184.5)"/><ellipse cx="262.3" cy="184.2" rx="3.0" ry="1.8" transform="rotate(237 262.3 184.2)"/><ellipse cx="252.8" cy="149.7" rx="2.0" ry="1.9" transform="rotate(231 252.8 149.7)"/><ellipse cx="357.6" cy="206.8" rx="2.0" ry="1.8" transform="rotate(360 357.6 206.8)"/><ellipse cx="271.8" cy="146.7" rx="1.8" ry="1.5" transform="rotate(240 271.8 146.7)"/><ellipse cx="269.4" cy="328.0" rx="2.1" ry="1.8" transform="rotate(82 269.4 328.0)"/><ellipse cx="215.9" cy="204.6" rx="2.8" ry="1.6" transform="rotate(179 215.9 204.6)"/><ellipse cx="232.6" cy="166.0" rx="1.9" ry="1.0" transform="rotate(200 232.6 166.0)"/><ellipse cx="294.3" cy="289.3" rx="1.4" ry="0.9" transform="rotate(69 294.3 289.3)"/><ellipse cx="319.7" cy="293.7" rx="1.2" ry="1.2" transform="rotate(47 319.7 293.7)"/><ellipse cx="254.6" cy="207.2" rx="2.0" ry="1.7" transform="rotate(188 254.6 207.2)"/><ellipse cx="290.5" cy="325.0" rx="2.1" ry="1.2" transform="rotate(69 290.5 325.0)"/><ellipse cx="302.3" cy="346.7" rx="1.0" ry="1.6" transform="rotate(57 302.3 346.7)"/><ellipse cx="316.2" cy="294.4" rx="1.5" ry="1.3" transform="rotate(69 316.2 294.4)"/><ellipse cx="320.1" cy="168.2" rx="2.0" ry="1.9" transform="rotate(296 320.1 168.2)"/><ellipse cx="214.0" cy="279.8" rx="1.9" ry="1.5" transform="rotate(195 214.0 279.8)"/><ellipse cx="284.4" cy="185.6" rx="3.1" ry="1.5" transform="rotate(215 284.4 185.6)"/><ellipse cx="256.8" cy="334.2" rx="3.4" ry="1.4" transform="rotate(87 256.8 334.2)"/><ellipse cx="284.8" cy="316.6" rx="1.8" ry="1.9" transform="rotate(138 284.8 316.6)"/><ellipse cx="260.5" cy="166.0" rx="2.7" ry="1.4" transform="rotate(258 260.5 166.0)"/><ellipse cx="395.1" cy="232.9" rx="3.1" ry="1.9" transform="rotate(320 395.1 232.9)"/><ellipse cx="353.8" cy="301.5" rx="1.8" ry="1.0" transform="rotate(84 353.8 301.5)"/><ellipse cx="234.5" cy="209.5" rx="3.1" ry="1.7" transform="rotate(230 234.5 209.5)"/><ellipse cx="351.5" cy="269.1" rx="2.2" ry="1.5" transform="rotate(75 351.5 269.1)"/><ellipse cx="354.8" cy="292.2" rx="1.6" ry="1.0" transform="rotate(69 354.8 292.2)"/><ellipse cx="308.1" cy="320.6" rx="3.0" ry="1.3" transform="rotate(66 308.1 320.6)"/><ellipse cx="317.7" cy="181.7" rx="3.2" ry="1.7" transform="rotate(317 317.7 181.7)"/><ellipse cx="415.8" cy="240.6" rx="1.3" ry="1.5" transform="rotate(3 415.8 240.6)"/><ellipse cx="323.2" cy="307.9" rx="1.7" ry="2.0" transform="rotate(77 323.2 307.9)"/><ellipse cx="303.3" cy="160.7" rx="2.9" ry="1.8" transform="rotate(289 303.3 160.7)"/><ellipse cx="310.3" cy="306.8" rx="2.3" ry="1.7" transform="rotate(70 310.3 306.8)"/><ellipse cx="383.7" cy="309.2" rx="1.6" ry="1.3" transform="rotate(18 383.7 309.2)"/><ellipse cx="285.4" cy="292.2" rx="1.0" ry="1.6" transform="rotate(116 285.4 292.2)"/><ellipse cx="304.5" cy="176.8" rx="2.1" ry="1.5" transform="rotate(297 304.5 176.8)"/><ellipse cx="370.8" cy="288.2" rx="1.9" ry="1.1" transform="rotate(70 370.8 288.2)"/><ellipse cx="367.3" cy="265.5" rx="2.2" ry="1.3" transform="rotate(48 367.3 265.5)"/><ellipse cx="317.0" cy="289.5" rx="1.8" ry="1.0" transform="rotate(81 317.0 289.5)"/><ellipse cx="399.9" cy="188.5" rx="2.5" ry="0.9" transform="rotate(343 399.9 188.5)"/><ellipse cx="248.9" cy="223.5" rx="2.6" ry="1.9" transform="rotate(198 248.9 223.5)"/><ellipse cx="365.2" cy="271.3" rx="3.0" ry="1.3" transform="rotate(16 365.2 271.3)"/><ellipse cx="268.5" cy="163.5" rx="2.6" ry="0.9" transform="rotate(269 268.5 163.5)"/><ellipse cx="369.7" cy="170.9" rx="2.7" ry="1.6" transform="rotate(295 369.7 170.9)"/><ellipse cx="373.9" cy="207.8" rx="1.8" ry="1.9" transform="rotate(317 373.9 207.8)"/><ellipse cx="384.5" cy="219.6" rx="2.7" ry="1.5" transform="rotate(308 384.5 219.6)"/><ellipse cx="358.9" cy="292.0" rx="2.5" ry="2.0" transform="rotate(28 358.9 292.0)"/><ellipse cx="402.2" cy="188.6" rx="1.4" ry="1.9" transform="rotate(350 402.2 188.6)"/><ellipse cx="346.2" cy="285.4" rx="2.6" ry="1.9" transform="rotate(36 346.2 285.4)"/><ellipse cx="246.7" cy="162.3" rx="1.3" ry="1.7" transform="rotate(214 246.7 162.3)"/><ellipse cx="248.3" cy="253.2" rx="1.1" ry="1.9" transform="rotate(128 248.3 253.2)"/><ellipse cx="416.7" cy="227.7" rx="3.3" ry="1.6" transform="rotate(394 416.7 227.7)"/><ellipse cx="270.4" cy="276.6" rx="2.2" ry="1.1" transform="rotate(148 270.4 276.6)"/><ellipse cx="214.1" cy="269.8" rx="1.1" ry="1.3" transform="rotate(189 214.1 269.8)"/><ellipse cx="226.3" cy="309.6" rx="1.0" ry="1.9" transform="rotate(155 226.3 309.6)"/><ellipse cx="253.6" cy="236.7" rx="1.9" ry="2.0" transform="rotate(186 253.6 236.7)"/><ellipse cx="216.1" cy="289.6" rx="1.9" ry="1.5" transform="rotate(117 216.1 289.6)"/><ellipse cx="278.2" cy="306.4" rx="1.5" ry="1.8" transform="rotate(119 278.2 306.4)"/><ellipse cx="234.0" cy="179.5" rx="1.6" ry="1.2" transform="rotate(193 234.0 179.5)"/><ellipse cx="277.4" cy="320.0" rx="1.3" ry="1.8" transform="rotate(81 277.4 320.0)"/><ellipse cx="256.7" cy="332.8" rx="2.8" ry="2.0" transform="rotate(98 256.7 332.8)"/><ellipse cx="257.3" cy="326.6" rx="2.4" ry="1.4" transform="rotate(123 257.3 326.6)"/><ellipse cx="317.9" cy="145.9" rx="2.0" ry="1.7" transform="rotate(306 317.9 145.9)"/><ellipse cx="227.9" cy="252.2" rx="2.2" ry="1.1" transform="rotate(178 227.9 252.2)"/><ellipse cx="261.1" cy="285.2" rx="3.4" ry="1.2" transform="rotate(121 261.1 285.2)"/><ellipse cx="236.3" cy="182.4" rx="3.2" ry="1.0" transform="rotate(198 236.3 182.4)"/><ellipse cx="347.0" cy="285.4" rx="2.0" ry="1.7" transform="rotate(78 347.0 285.4)"/><ellipse cx="291.9" cy="175.6" rx="1.5" ry="1.4" transform="rotate(226 291.9 175.6)"/><ellipse cx="333.9" cy="176.5" rx="2.9" ry="1.4" transform="rotate(324 333.9 176.5)"/><ellipse cx="291.2" cy="293.0" rx="2.8" ry="1.0" transform="rotate(102 291.2 293.0)"/><ellipse cx="342.4" cy="305.6" rx="1.7" ry="1.2" transform="rotate(67 342.4 305.6)"/><ellipse cx="242.9" cy="207.0" rx="1.9" ry="1.7" transform="rotate(235 242.9 207.0)"/><ellipse cx="352.4" cy="161.4" rx="2.2" ry="1.0" transform="rotate(332 352.4 161.4)"/><ellipse cx="364.7" cy="265.6" rx="2.9" ry="1.0" transform="rotate(28 364.7 265.6)"/><ellipse cx="380.8" cy="261.5" rx="2.2" ry="1.0" transform="rotate(35 380.8 261.5)"/><ellipse cx="220.1" cy="286.4" rx="2.5" ry="1.3" transform="rotate(158 220.1 286.4)"/><ellipse cx="317.5" cy="344.8" rx="2.5" ry="0.9" transform="rotate(118 317.5 344.8)"/><ellipse cx="258.4" cy="261.3" rx="2.0" ry="1.5" transform="rotate(134 258.4 261.3)"/><ellipse cx="246.4" cy="226.4" rx="3.1" ry="2.0" transform="rotate(183 246.4 226.4)"/><ellipse cx="279.2" cy="296.5" rx="1.3" ry="1.9" transform="rotate(140 279.2 296.5)"/><ellipse cx="359.0" cy="205.3" rx="2.3" ry="1.6" transform="rotate(339 359.0 205.3)"/><ellipse cx="330.2" cy="329.8" rx="1.9" ry="1.5" transform="rotate(87 330.2 329.8)"/><ellipse cx="322.5" cy="329.8" rx="1.5" ry="1.6" transform="rotate(75 322.5 329.8)"/><ellipse cx="412.5" cy="207.7" rx="3.5" ry="2.0" transform="rotate(375 412.5 207.7)"/><ellipse cx="400.9" cy="268.7" rx="3.1" ry="1.8" transform="rotate(-8 400.9 268.7)"/><ellipse cx="355.8" cy="203.5" rx="1.5" ry="1.0" transform="rotate(313 355.8 203.5)"/><ellipse cx="284.5" cy="305.3" rx="1.5" ry="1.4" transform="rotate(136 284.5 305.3)"/><ellipse cx="254.4" cy="244.0" rx="3.4" ry="1.8" transform="rotate(135 254.4 244.0)"/><ellipse cx="337.2" cy="316.8" rx="1.4" ry="1.9" transform="rotate(103 337.2 316.8)"/><ellipse cx="417.3" cy="247.7" rx="1.0" ry="1.3" transform="rotate(-4 417.3 247.7)"/><ellipse cx="358.0" cy="207.0" rx="2.2" ry="2.0" transform="rotate(293 358.0 207.0)"/><ellipse cx="370.6" cy="285.4" rx="3.5" ry="1.9" transform="rotate(7 370.6 285.4)"/><ellipse cx="379.4" cy="224.5" rx="2.5" ry="1.3" transform="rotate(359 379.4 224.5)"/><ellipse cx="352.4" cy="171.3" rx="1.2" ry="1.5" transform="rotate(337 352.4 171.3)"/><ellipse cx="288.2" cy="286.9" rx="2.1" ry="1.6" transform="rotate(138 288.2 286.9)"/><ellipse cx="379.8" cy="279.5" rx="3.5" ry="1.1" transform="rotate(55 379.8 279.5)"/><ellipse cx="354.2" cy="272.8" rx="2.7" ry="1.3" transform="rotate(66 354.2 272.8)"/><ellipse cx="351.7" cy="271.3" rx="1.2" ry="1.4" transform="rotate(12 351.7 271.3)"/><ellipse cx="249.1" cy="254.5" rx="3.0" ry="1.8" transform="rotate(155 249.1 254.5)"/><ellipse cx="303.6" cy="309.0" rx="2.8" ry="1.3" transform="rotate(110 303.6 309.0)"/><ellipse cx="317.8" cy="294.9" rx="2.4" ry="0.9" transform="rotate(112 317.8 294.9)"/><ellipse cx="215.4" cy="276.6" rx="1.3" ry="1.3" transform="rotate(145 215.4 276.6)"/><ellipse cx="241.1" cy="265.1" rx="1.4" ry="1.0" transform="rotate(123 241.1 265.1)"/><ellipse cx="328.0" cy="293.8" rx="2.1" ry="1.1" transform="rotate(42 328.0 293.8)"/><ellipse cx="229.6" cy="202.4" rx="1.7" ry="1.7" transform="rotate(206 229.6 202.4)"/><ellipse cx="349.6" cy="188.3" rx="2.5" ry="1.1" transform="rotate(310 349.6 188.3)"/><ellipse cx="288.5" cy="288.2" rx="3.3" ry="1.3" transform="rotate(111 288.5 288.2)"/><ellipse cx="257.8" cy="256.5" rx="3.3" ry="1.9" transform="rotate(156 257.8 256.5)"/><ellipse cx="416.0" cy="221.6" rx="1.3" ry="1.8" transform="rotate(332 416.0 221.6)"/><ellipse cx="221.9" cy="249.6" rx="1.6" ry="1.1" transform="rotate(211 221.9 249.6)"/><ellipse cx="220.8" cy="290.8" rx="3.1" ry="1.7" transform="rotate(138 220.8 290.8)"/><ellipse cx="362.3" cy="153.8" rx="1.9" ry="1.9" transform="rotate(292 362.3 153.8)"/><ellipse cx="357.8" cy="195.8" rx="3.1" ry="1.1" transform="rotate(323 357.8 195.8)"/><ellipse cx="315.9" cy="176.4" rx="1.3" ry="2.0" transform="rotate(310 315.9 176.4)"/><ellipse cx="370.0" cy="198.4" rx="2.2" ry="1.6" transform="rotate(361 370.0 198.4)"/><ellipse cx="361.2" cy="239.4" rx="1.8" ry="1.5" transform="rotate(21 361.2 239.4)"/><ellipse cx="365.5" cy="264.2" rx="1.0" ry="0.9" transform="rotate(2 365.5 264.2)"/><ellipse cx="214.5" cy="288.6" rx="1.7" ry="1.1" transform="rotate(146 214.5 288.6)"/><ellipse cx="323.5" cy="301.3" rx="2.2" ry="1.4" transform="rotate(114 323.5 301.3)"/><ellipse cx="381.7" cy="257.5" rx="1.2" ry="1.7" transform="rotate(18 381.7 257.5)"/><ellipse cx="391.4" cy="214.5" rx="1.8" ry="1.1" transform="rotate(338 391.4 214.5)"/><ellipse cx="391.9" cy="170.0" rx="2.5" ry="1.7" transform="rotate(306 391.9 170.0)"/><ellipse cx="327.0" cy="313.2" rx="2.6" ry="1.8" transform="rotate(81 327.0 313.2)"/><ellipse cx="314.7" cy="338.5" rx="3.1" ry="1.7" transform="rotate(115 314.7 338.5)"/><ellipse cx="279.6" cy="316.0" rx="2.0" ry="1.7" transform="rotate(93 279.6 316.0)"/><ellipse cx="275.4" cy="133.5" rx="3.6" ry="1.4" transform="rotate(253 275.4 133.5)"/><ellipse cx="403.2" cy="219.2" rx="1.3" ry="1.9" transform="rotate(384 403.2 219.2)"/><ellipse cx="260.2" cy="292.9" rx="1.3" ry="1.6" transform="rotate(125 260.2 292.9)"/><ellipse cx="330.1" cy="307.2" rx="3.2" ry="0.9" transform="rotate(107 330.1 307.2)"/><ellipse cx="252.5" cy="259.4" rx="1.7" ry="1.0" transform="rotate(124 252.5 259.4)"/><ellipse cx="366.2" cy="243.7" rx="1.6" ry="1.2" transform="rotate(11 366.2 243.7)"/><ellipse cx="203.6" cy="229.9" rx="3.2" ry="1.4" transform="rotate(211 203.6 229.9)"/><ellipse cx="259.5" cy="281.4" rx="1.6" ry="1.3" transform="rotate(137 259.5 281.4)"/><ellipse cx="310.6" cy="128.0" rx="2.1" ry="1.2" transform="rotate(290 310.6 128.0)"/><ellipse cx="395.4" cy="220.9" rx="3.4" ry="1.0" transform="rotate(381 395.4 220.9)"/><ellipse cx="284.6" cy="289.2" rx="1.8" ry="1.2" transform="rotate(105 284.6 289.2)"/><ellipse cx="244.3" cy="245.7" rx="1.7" ry="1.5" transform="rotate(211 244.3 245.7)"/><ellipse cx="352.1" cy="269.9" rx="1.4" ry="1.1" transform="rotate(74 352.1 269.9)"/><ellipse cx="210.0" cy="253.1" rx="3.6" ry="0.9" transform="rotate(134 210.0 253.1)"/><ellipse cx="328.3" cy="178.0" rx="3.1" ry="1.3" transform="rotate(321 328.3 178.0)"/><ellipse cx="246.0" cy="194.5" rx="3.0" ry="1.7" transform="rotate(219 246.0 194.5)"/><ellipse cx="343.8" cy="298.9" rx="2.1" ry="2.0" transform="rotate(99 343.8 298.9)"/><ellipse cx="291.7" cy="135.4" rx="1.0" ry="1.4" transform="rotate(300 291.7 135.4)"/><ellipse cx="258.4" cy="172.2" rx="2.6" ry="1.5" transform="rotate(245 258.4 172.2)"/><ellipse cx="238.0" cy="277.1" rx="3.5" ry="1.3" transform="rotate(160 238.0 277.1)"/><ellipse cx="279.3" cy="340.4" rx="1.3" ry="0.9" transform="rotate(74 279.3 340.4)"/><ellipse cx="242.9" cy="242.3" rx="1.1" ry="1.9" transform="rotate(181 242.9 242.3)"/><ellipse cx="394.7" cy="215.8" rx="1.8" ry="1.4" transform="rotate(383 394.7 215.8)"/><ellipse cx="335.7" cy="136.2" rx="1.7" ry="1.9" transform="rotate(247 335.7 136.2)"/><ellipse cx="251.7" cy="220.6" rx="1.1" ry="1.0" transform="rotate(234 251.7 220.6)"/><ellipse cx="355.9" cy="291.0" rx="3.2" ry="1.1" transform="rotate(76 355.9 291.0)"/><ellipse cx="301.8" cy="310.7" rx="3.1" ry="1.2" transform="rotate(132 301.8 310.7)"/><ellipse cx="360.4" cy="257.7" rx="1.4" ry="1.9" transform="rotate(3 360.4 257.7)"/><ellipse cx="264.3" cy="286.4" rx="1.1" ry="1.6" transform="rotate(125 264.3 286.4)"/><ellipse cx="365.4" cy="154.0" rx="2.3" ry="1.6" transform="rotate(340 365.4 154.0)"/><ellipse cx="375.6" cy="209.4" rx="2.4" ry="1.0" transform="rotate(312 375.6 209.4)"/><ellipse cx="404.1" cy="232.5" rx="1.1" ry="1.1" transform="rotate(379 404.1 232.5)"/><ellipse cx="367.3" cy="318.6" rx="2.0" ry="1.6" transform="rotate(60 367.3 318.6)"/><ellipse cx="241.6" cy="200.8" rx="3.4" ry="1.9" transform="rotate(192 241.6 200.8)"/><ellipse cx="284.8" cy="343.4" rx="1.8" ry="1.4" transform="rotate(130 284.8 343.4)"/><ellipse cx="355.4" cy="209.5" rx="3.1" ry="1.4" transform="rotate(325 355.4 209.5)"/><ellipse cx="335.0" cy="145.3" rx="2.6" ry="1.0" transform="rotate(283 335.0 145.3)"/><ellipse cx="239.9" cy="252.8" rx="3.3" ry="1.1" transform="rotate(203 239.9 252.8)"/><ellipse cx="292.9" cy="163.7" rx="2.8" ry="1.7" transform="rotate(279 292.9 163.7)"/><ellipse cx="269.9" cy="183.0" rx="1.9" ry="2.0" transform="rotate(205 269.9 183.0)"/><ellipse cx="347.0" cy="278.7" rx="1.1" ry="1.0" transform="rotate(40 347.0 278.7)"/><ellipse cx="276.6" cy="247.2" rx="1.6" ry="1.1" transform="rotate(5 276.6 247.2)"/><ellipse cx="300.6" cy="269.8" rx="2.6" ry="1.3" transform="rotate(156 300.6 269.8)"/><ellipse cx="312.4" cy="262.2" rx="3.1" ry="1.5" transform="rotate(110 312.4 262.2)"/><ellipse cx="353.4" cy="259.6" rx="2.2" ry="1.3" transform="rotate(53 353.4 259.6)"/><ellipse cx="306.5" cy="238.7" rx="3.0" ry="2.0" transform="rotate(154 306.5 238.7)"/><ellipse cx="324.4" cy="282.0" rx="1.6" ry="1.6" transform="rotate(175 324.4 282.0)"/><ellipse cx="306.1" cy="237.5" rx="2.2" ry="1.8" transform="rotate(143 306.1 237.5)"/><ellipse cx="319.2" cy="196.5" rx="1.5" ry="1.7" transform="rotate(153 319.2 196.5)"/><ellipse cx="325.0" cy="240.9" rx="3.2" ry="1.9" transform="rotate(3 325.0 240.9)"/><ellipse cx="298.4" cy="266.2" rx="2.9" ry="1.5" transform="rotate(154 298.4 266.2)"/><ellipse cx="322.8" cy="279.8" rx="2.7" ry="1.2" transform="rotate(20 322.8 279.8)"/><ellipse cx="275.3" cy="256.3" rx="3.3" ry="1.9" transform="rotate(147 275.3 256.3)"/><ellipse cx="325.0" cy="256.7" rx="2.2" ry="1.0" transform="rotate(92 325.0 256.7)"/><ellipse cx="350.7" cy="246.8" rx="3.4" ry="1.0" transform="rotate(175 350.7 246.8)"/><ellipse cx="306.9" cy="254.1" rx="3.4" ry="1.5" transform="rotate(85 306.9 254.1)"/><ellipse cx="358.5" cy="230.3" rx="1.6" ry="1.7" transform="rotate(17 358.5 230.3)"/><ellipse cx="282.2" cy="254.7" rx="3.0" ry="1.7" transform="rotate(117 282.2 254.7)"/><ellipse cx="264.8" cy="251.7" rx="2.1" ry="1.1" transform="rotate(75 264.8 251.7)"/><ellipse cx="347.8" cy="245.0" rx="2.1" ry="2.0" transform="rotate(65 347.8 245.0)"/><ellipse cx="295.9" cy="185.5" rx="1.9" ry="1.3" transform="rotate(145 295.9 185.5)"/><ellipse cx="299.6" cy="274.6" rx="2.5" ry="1.7" transform="rotate(120 299.6 274.6)"/><ellipse cx="269.8" cy="261.7" rx="3.4" ry="1.6" transform="rotate(103 269.8 261.7)"/><ellipse cx="263.0" cy="208.6" rx="2.5" ry="1.0" transform="rotate(10 263.0 208.6)"/><ellipse cx="259.3" cy="232.2" rx="2.3" ry="1.2" transform="rotate(30 259.3 232.2)"/><ellipse cx="286.8" cy="240.1" rx="2.8" ry="1.1" transform="rotate(39 286.8 240.1)"/></g>
<g fill="#1818d8"><circle cx="354.9" cy="259.1" r="1.4"/><circle cx="382.4" cy="183.8" r="1.4"/><circle cx="341.2" cy="216.3" r="1.4"/><circle cx="347.9" cy="317.0" r="0.9"/><circle cx="338.5" cy="242.6" r="1.3"/><circle cx="352.1" cy="191.0" r="1.4"/><circle cx="370.4" cy="243.0" r="1.7"/><circle cx="365.5" cy="250.4" r="1.4"/><circle cx="398.3" cy="272.3" r="1.5"/><circle cx="376.4" cy="237.0" r="1.1"/><circle cx="278.5" cy="242.4" r="1.3"/><circle cx="292.8" cy="193.8" r="1.6"/><circle cx="291.5" cy="251.0" r="1.0"/><circle cx="263.7" cy="283.9" r="1.5"/><circle cx="336.6" cy="282.3" r="1.6"/><circle cx="273.3" cy="263.1" r="1.6"/><circle cx="339.8" cy="277.8" r="1.2"/><circle cx="279.4" cy="228.1" r="0.8"/><circle cx="322.1" cy="205.1" r="1.4"/><circle cx="353.6" cy="200.9" r="0.9"/><circle cx="303.9" cy="279.0" r="1.6"/><circle cx="359.6" cy="248.1" r="1.1"/><circle cx="326.4" cy="253.6" r="1.2"/><circle cx="257.3" cy="319.6" r="1.4"/><circle cx="246.7" cy="237.7" r="1.6"/><circle cx="330.8" cy="264.2" r="1.0"/><circle cx="296.7" cy="285.9" r="1.0"/><circle cx="278.6" cy="214.8" r="1.2"/><circle cx="339.3" cy="303.5" r="1.1"/><circle cx="325.2" cy="204.6" r="1.1"/></g>
</g></g>
<rect x="114.5" y="45.0" width="391.5" height="390.5" fill="none" stroke="#707070" stroke-width="1.7"/>
<path d="M138.0 435.5v-4.5M138.0 45.0v4.5M114.5 412.0h4.5M506.0 412.0h-4.5M224.0 435.5v-4.5M224.0 45.0v4.5M114.5 326.0h4.5M506.0 326.0h-4.5M310.0 435.5v-4.5M310.0 45.0v4.5M114.5 240.0h4.5M506.0 240.0h-4.5M396.0 435.5v-4.5M396.0 45.0v4.5M114.5 154.0h4.5M506.0 154.0h-4.5M482.0 435.5v-4.5M482.0 45.0v4.5M114.5 68.0h4.5M506.0 68.0h-4.5" stroke="#707070" stroke-width="1.7" fill="none"/>
<text transform="translate(71.34,78.13) scale(1.0683,1)" font-size="27.04" fill="#363636" stroke="#fff" stroke-width="0.30">0.3</text>
<text transform="translate(55.86,163.04) scale(1.0732,1)" font-size="26.48" fill="#363636" stroke="#fff" stroke-width="0.29">0.15</text>
<text transform="translate(95.47,249.63) scale(1.0487,1)" font-size="26.90" fill="#363636" stroke="#fff" stroke-width="0.30">0</text>
<text transform="translate(47.04,335.74) scale(1.0599,1)" font-size="26.48" fill="#363636" stroke="#fff" stroke-width="0.29">-0.15</text>
<text transform="translate(61.81,421.44) scale(1.0925,1)" font-size="26.34" fill="#363636" stroke="#fff" stroke-width="0.29">-0.3</text>
<text transform="translate(109.81,463.84) scale(1.0820,1)" font-size="26.48" fill="#363636" stroke="#fff" stroke-width="0.29">-0.3</text>
<text transform="translate(187.13,463.84) scale(1.0667,1)" font-size="26.48" fill="#363636" stroke="#fff" stroke-width="0.29">-0.15</text>
<text transform="translate(302.12,463.84) scale(1.1131,1)" font-size="26.48" fill="#363636" stroke="#fff" stroke-width="0.29">0</text>
<text transform="translate(369.58,463.84) scale(1.0611,1)" font-size="26.48" fill="#363636" stroke="#fff" stroke-width="0.29">0.15</text>
<text transform="translate(461.35,463.84) scale(1.0881,1)" font-size="26.48" fill="#363636" stroke="#fff" stroke-width="0.29">0.3</text>
<text transform="translate(195.90,493.21) scale(0.9293,1)" font-size="29.95" fill="#363636" stroke="#fff" stroke-width="0.33">X-Coordinate [µm]</text>
<text transform="translate(34.50,353.00) rotate(-90) scale(0.9864,1)" font-size="28.56" fill="#363636" stroke="#fff" stroke-width="0.31">Y-Coordinate [µm]</text>
<text transform="translate(137.57,100.43) scale(1.0480,1)" font-size="26.94" fill="#363636" stroke="#fff" stroke-width="0.30">a/D</text>
<text transform="translate(181.34,113.91) scale(1.1211,1)" font-size="19.15" fill="#363636" stroke="#fff" stroke-width="0.21">0</text>
<text transform="translate(193.09,100.43) scale(1.0433,1)" font-size="27.04" fill="#363636" stroke="#fff" stroke-width="0.30">=0.2</text>
<clipPath id="clip23"><polygon points="814.3,134.0 819.2,133.1 821.3,129.3 826.1,128.8 828.6,130.6 831.9,130.5 834.3,132.3 837.9,133.1 840.8,132.7 846.5,134.5 849.3,136.3 852.3,134.9 857.2,137.4 860.3,138.3 863.3,138.7 868.1,140.3 870.8,142.3 873.5,145.2 876.0,145.4 879.9,149.4 883.6,150.5 886.6,152.7 889.1,154.6 889.7,158.0 893.8,160.5 893.6,163.1 895.4,166.5 899.1,171.2 900.4,172.7 903.0,176.0 904.3,178.5 907.8,182.4 908.0,184.0 911.6,189.1 913.7,190.7 914.6,194.6 915.5,199.8 916.4,203.8 915.7,207.8 916.1,209.9 916.7,215.1 919.0,218.0 916.1,220.7 913.1,221.7 908.8,223.0 905.2,222.6 902.5,223.3 899.7,224.5 893.7,224.7 891.0,226.3 889.0,229.9 883.2,228.3 880.7,229.7 877.2,233.0 872.8,232.9 871.4,234.1 866.1,236.7 864.1,237.9 860.1,237.5 856.6,240.0 853.0,239.3 849.0,241.3 851.6,247.0 854.4,247.0 859.5,247.8 862.3,249.0 864.3,248.7 868.6,248.8 873.7,248.1 877.5,247.9 879.8,249.7 882.3,250.1 886.5,250.0 890.8,248.9 893.2,251.7 896.0,252.3 899.7,252.0 903.1,251.6 907.4,250.8 911.7,252.3 915.2,252.9 918.3,253.1 921.0,254.6 923.8,254.9 928.6,254.0 930.1,257.5 930.2,261.6 929.7,264.6 927.9,266.7 924.8,269.7 922.6,274.5 920.6,275.4 919.0,278.6 917.9,283.1 917.2,285.8 915.6,288.4 914.2,291.7 913.9,297.2 913.8,298.4 912.8,301.9 912.0,306.6 909.9,309.5 908.5,312.0 906.1,315.0 904.2,319.3 898.9,322.9 898.0,325.0 895.0,327.3 892.3,331.5 889.8,333.9 888.5,336.4 885.9,337.2 885.6,341.8 882.0,344.0 877.4,345.5 876.3,343.0 870.0,344.4 866.8,344.7 864.4,344.7 861.0,344.0 859.5,341.5 858.6,337.6 856.1,333.4 853.0,329.3 853.6,326.3 850.5,323.4 849.0,320.6 847.5,317.6 846.3,314.2 842.9,311.8 842.2,309.6 838.9,306.3 837.6,302.0 835.3,301.9 828.7,298.3 826.0,297.0 825.0,301.4 820.8,303.3 821.1,307.8 818.6,309.4 816.6,313.6 816.3,315.7 816.0,320.4 817.6,324.4 816.3,326.8 816.0,331.6 816.4,333.6 817.6,338.3 818.1,341.7 817.0,344.9 816.6,348.6 813.4,349.2 811.1,347.7 805.9,345.1 803.7,345.5 798.7,343.7 794.1,344.0 793.6,344.5 789.3,343.5 784.4,341.2 781.6,341.6 778.7,338.5 775.4,338.3 772.0,335.4 767.2,334.9 764.2,333.8 761.4,332.0 759.6,330.3 755.6,327.4 751.8,328.2 749.0,325.0 746.1,321.0 744.6,318.6 743.4,314.5 741.8,310.3 739.1,308.8 737.3,304.2 733.8,302.0 737.8,302.4 741.0,298.7 745.2,300.4 746.0,298.9 749.2,295.5 754.8,296.6 758.7,295.2 760.6,293.8 761.4,289.5 762.4,288.2 763.0,283.0 762.7,280.4 760.4,276.2 760.6,271.6 757.6,270.2 754.2,270.6 748.5,270.2 746.2,270.5 742.0,271.6 740.8,267.7 737.5,267.8 734.0,264.8 732.0,262.7 727.2,260.9 725.6,257.6 723.3,254.9 722.0,252.9 719.8,249.7 716.9,245.0 717.0,243.0 715.7,238.7 712.8,236.6 714.0,233.7 712.1,227.7 713.7,226.5 714.0,220.8 713.8,218.2 714.0,213.3 715.9,210.2 718.0,208.2 720.5,204.6 720.7,200.6 723.3,197.0 726.0,194.4 728.1,191.6 727.1,187.0 729.5,182.7 731.7,181.8 734.2,175.7 735.0,173.6 736.8,170.5 741.5,168.2 741.9,165.8 744.8,161.5 748.6,161.9 751.8,158.4 753.6,155.0 755.7,153.3 760.5,152.0 763.1,147.9 767.8,146.6 770.4,145.4 773.8,143.1 774.8,141.5 779.3,139.8 783.3,141.9 787.5,142.2 788.6,146.8 790.0,151.1 790.8,155.6 793.3,158.5 798.0,159.2 801.0,163.7 803.7,163.8 807.1,168.1 809.6,169.4 810.7,166.9 812.4,161.9 813.1,156.4 811.8,153.7 813.2,151.1 813.8,145.7 814.6,141.8 814.9,138.5 814.8,132.8"/></clipPath>
<clipPath id="clip23i"><polygon points="877.9,237.0 874.6,244.6 871.9,251.8 870.9,259.4 867.6,266.3 862.6,272.1 858.2,278.4 851.6,282.4 846.4,288.3 839.6,292.1 832.8,296.9 825.5,303.4 816.8,306.4 807.3,309.2 796.9,311.3 788.2,306.1 779.5,301.7 775.6,290.7 771.3,282.5 770.9,272.2 769.0,264.6 763.8,259.0 759.5,252.3 757.5,244.8 752.4,237.0 751.9,228.5 754.7,220.4 756.9,212.2 761.0,204.8 767.9,199.5 770.6,190.8 775.8,183.5 782.3,177.3 790.8,174.3 799.3,171.8 808.3,172.6 816.8,174.4 824.2,181.0 831.4,182.4 838.7,184.0 848.0,183.0 855.8,186.1 865.1,188.7 873.5,193.5 879.3,200.9 883.2,209.5 884.7,218.8 880.7,228.6"/></clipPath>
<clipPath id="clip23o"><path clip-rule="evenodd" d="M566.8 -13.0h500v500h-500zM877.9 237.0L874.6 244.6L871.9 251.8L870.9 259.4L867.6 266.3L862.6 272.1L858.2 278.4L851.6 282.4L846.4 288.3L839.6 292.1L832.8 296.9L825.5 303.4L816.8 306.4L807.3 309.2L796.9 311.3L788.2 306.1L779.5 301.7L775.6 290.7L771.3 282.5L770.9 272.2L769.0 264.6L763.8 259.0L759.5 252.3L757.5 244.8L752.4 237.0L751.9 228.5L754.7 220.4L756.9 212.2L761.0 204.8L767.9 199.5L770.6 190.8L775.8 183.5L782.3 177.3L790.8 174.3L799.3 171.8L808.3 172.6L816.8 174.4L824.2 181.0L831.4 182.4L838.7 184.0L848.0 183.0L855.8 186.1L865.1 188.7L873.5 193.5L879.3 200.9L883.2 209.5L884.7 218.8L880.7 228.6z"/></clipPath>
<clipPath id="clip23w0"><polygon points="816.8,237.0 809.5,97.2 832.9,97.9 855.9,102.6 877.7,111.0 897.9,122.9 915.8,138.0"/></clipPath>
<clipPath id="clip23w1"><polygon points="816.8,237.0 915.8,138.0 931.5,156.7 943.7,177.8 952.0,200.8 956.3,224.8 956.3,249.2"/></clipPath>
<clipPath id="clip23w2"><polygon points="816.8,237.0 956.3,249.2 952.8,270.3 946.1,290.6 936.5,309.6 924.0,327.0"/></clipPath>
<clipPath id="clip23w3"><polygon points="816.8,237.0 924.0,327.0 907.3,343.9 887.9,357.6 866.4,367.9 843.5,374.4"/></clipPath>
<clipPath id="clip23w4"><polygon points="816.8,237.0 843.5,374.4 821.7,376.9 799.7,376.0 778.2,371.6 757.6,363.9"/></clipPath>
<clipPath id="clip23w5"><polygon points="816.8,237.0 757.6,363.9 734.5,350.3 714.4,332.5 698.1,311.2"/></clipPath>
<clipPath id="clip23w6"><polygon points="816.8,237.0 698.1,311.2 686.6,288.5 679.5,264.2 676.8,239.0 678.8,213.7 685.2,189.1"/></clipPath>
<clipPath id="clip23w7"><polygon points="816.8,237.0 685.2,189.1 695.6,167.0 709.6,147.0 726.8,129.8"/></clipPath>
<clipPath id="clip23w8"><polygon points="816.8,237.0 726.8,129.8 745.2,116.7 765.5,106.7 787.1,100.2 809.5,97.2"/></clipPath>
<filter id="clip23f" x="-5%" y="-5%" width="110%" height="110%"><feGaussianBlur stdDeviation="0.4"/></filter>
<g filter="url(#clip23f)"><g clip-path="url(#clip23)">
<defs><path id="clip23pa" d="M875.5 157.5l6.5 0l7 1.5l6.5 2M830.5 157.5l6-0.5l4.5 0.5l7 0.5l4.5 1.5l6.5 0.5l7 1l5.5-0.5l7.5 1.5l5.5 2.5l7.5 1M772.5 157.5l6 2.5l7.5 0.5l6 1l7.5 0.5l6 1l8-1l5.5 0.5l7 1.5l6-1l6-0.5l6.5 2l4.5-1.5l7.5 0.5l6 2l5-0.5l7.5 2.5l7.5 0l6 1.5l7 1M741.5 157l4.5 1l5.5 1l6 1l6 1l6 1l7 1l5 2l8 1l7 1.5l5.5 0l6.5 0.5l7.5 1l6 0.5l6.5 0.5l5.5-0.5l6-1l6 0.5l7 0.5l5 0l7.5 2l5.5 0.5l8 0.5l6 0.5l7 2.5M743 163l5 1l5 0.5l7 0.5l5.5 2.5l7.5 0l6 1.5l6 1.5l6.5 2.5l6 0l7.5 0.5l6.5 0.5l5 0l6.5 0.5l7 1l5-0.5l7.5-1l5.5 1.5l7-0.5l7 0.5l6.5 0.5l6.5 1.5l7 1l5.5 1.5l5.5 0.5M740 167.5l5.5 1l4 0.5l7 0.5l5 1l7 3l5.5 1.5l8 1l7 0l6 2l5.5 0l7.5 2l5 0l6 0.5l7.5-0.5l5.5 0.5l6.5 1l5.5-1l6.5 0.5l6.5 0l7 1.5l8-0.5l5 0.5l7 2.5l6.5 0.5M741.5 174.5l6 0l6 1.5l5 1l6 1l7 0.5l7 1.5l5.5 2l6.5 0l6 1.5l7 1.5l6.5-0.5l5 1.5l6.5-0.5l6 0l6 0l8 0.5l5 0l6.5 0l8 1.5l6 1l7 0.5l6-0.5l6.5 1.5l5.5 1M738.5 179.5l5 0.5l7 1.5l5.5 0l5.5 1.5l6.5 1l7.5-0.5l5 2l7.5 0.5l6 2l6 1.5l6.5 1l5-0.5l6 1l5.5 0.5l7.5 0.5l5-0.5l7.5 0l7 1l7.5 1l6-0.5l7.5 0.5l6.5 0.5l5 1.5l5.5 0l7 0.5M741 185.5l6 1.5l5 0l6.5 0l6.5 1.5l7 1l5.5 1l7 0l5 1.5l7 1.5l5 0l6 2l5.5 0l7 1l5.5 0l7 0.5l6 0l8.5 0.5l6 0l7 1l6.5 1.5l6-1l6 0l7.5 0l5 2l5.5-1M737.5 192l5 1l7-0.5l7 1l5.5 0.5l6-0.5l7 1.5l6 0.5l6 1.5l6 1l5 1.5l6.5 0.5l5 0l6.5 0.5l6.5 1l6 1l6 0l7.5 0.5l7 1l7.5 0.5l5.5-0.5l6.5 0.5l6.5 1l7 0.5l5.5-0.5l4-1M741 197.5l5 0.5l5.5 0l7 1l7 0l6 0.5l6 1.5l5.5 1l5 0l6 1.5l5.5 0l7 1.5l6-0.5l5.5 1l6.5 1.5l8 1.5l6 0l7.5 0l6.5 2l6.5-1l5.5 0.5l6 1.5l6.5-1.5l7 0.5l5 0l5.5-0.5M743 203.5l6.5 0.5l6 0l5.5 0.5l7 1l6 1l6 0l6 0l5 1.5l6-1l5 2.5l6.5 0l6.5 0.5l5.5 1.5l8 1l7 0.5l5.5 1.5l7 0.5l7.5 1.5l6.5-1.5l4.5 1l6.5 1l6.5 0l5.5-1l4.5 1l5.5-1M739.5 209l6.5 0l6 1.5l7 0.5l6.5-0.5l5.5 1.5l5.5-1l6 0.5l5 0l6 2l5.5-0.5l6 1l5.5 0l7 1.5l7.5 1.5l6 1.5l7 1l6 1l6.5 0.5l7.5-0.5l5.5 1l5 0.5l5.5 0.5l6-0.5l6.5-1l5 0.5M742.5 214.5l7 1.5l7-0.5l5.5 1l6 1l6 0l4 0.5l7-1l4 0.5l7 0.5l5.5 1l6.5 1l6.5 1l5.5 1l7 0l7.5 2l6.5 0.5l6.5 0l6.5 2l4.5 0l6.5 0l6.5 1.5l4.5-1l6 0l6.5 0l5 0.5M740 219.5l5.5 0.5l6.5 1l6 0.5l6.5 1.5l6.5-0.5l5-0.5l6 0.5l5.5 1l4.5 0l5.5 1l6-1l7 0.5l6.5 1.5l6.5 0.5l6 2.5l7.5 0.5l7 1l5.5 0l5.5 1l6.5 1.5l5 0.5l5.5 0l6 0l6-0.5l7 0.5l4.5 1M743 224.5l6.5 1l5.5 1l6.5 1l5 0l5 0.5l5.5-0.5l6.5 2l6-0.5l4.5-0.5l6.5 1l5.5 0l6.5 0l7.5 2l7 1.5l5 1l7.5-0.5l7 1.5l5 1l6 1.5l6.5 0l4.5 0l6.5 1.5l6 0.5l6 0l6-0.5M738.5 229.5l6.5 1l7.5 0l6 2l5.5 0.5l5 0l6 1l5.5 0l4.5 0l6.5 0l6.5-0.5l6 0.5l6.5 1l5 0l6.5 1l7.5 2l6.5 0l6.5 1.5l6 0.5l4.5 2l6.5-0.5l5.5 0.5l6.5 1l5.5 1.5l6 0.5l6 1l6.5 1M741.5 235l7 1l4.5 0l6.5 1.5l6 0.5l6.5 0.5l5.5 0l4.5 1.5l7 0l5-1l6 1l6 1l7.5 0.5l6.5 0l5 1.5l7.5 0.5l5.5-0.5l7 1l4.5 1.5l6.5 0.5l5.5 2l5 0.5l7-0.5l6 1l6.5 1.5l6 0M737 239.5l7 0l5 1.5l7.5 0.5l5.5 1l6 1l6.5 0.5l5 1l6 0l6 0.5l6.5-0.5l5.5 1.5l6.5-1l6 0.5l6.5 1l6 1l6 0.5l6 0l6 1l5.5 1l5.5 1.5l5 1.5l6.5-1l6 2l7 2l5.5-0.5l6.5 1M739.5 244l6.5 1.5l6.5 1.5l5.5 0.5l5.5 0.5l7 1.5l5.5 0l5.5 1l6-0.5l6.5 0.5l6 0.5l6 0.5l6.5 1l5.5-0.5l6 2l6.5 0l5.5-0.5l7 1l5 0.5l6 1.5l4.5 0.5l6 0l7.5 2.5l5 0.5l8 2l6 1.5l6-0.5M741.5 249l7 1.5l6.5 0.5l5.5 0.5l5.5 1.5l6 0.5l6 1l7.5 0.5l5.5 0.5l6 0.5l7 0.5l5.5 1.5l6 0.5l6.5 0l4.5 0.5l6.5-0.5l6 0.5l5 1.5l6 0.5l5.5 0l6 1l5.5 2.5l7.5 0.5l6.5 1.5l6.5 1l5.5 1.5M738 255l6-1l5.5 1.5l6.5 0.5l7 1l5 1l7 0.5l6 1l7 0l6 2l6 0l6 1l7 1.5l5-1l5 1l5.5 0l7 1.5l4.5-1l6.5 1.5l4.5 1l6.5-0.5l6 2l6.5 2l6.5 1.5l6.5 0l7.5 1.5M740 259.5l5.5 0l6.5 1l5.5 2l7-0.5l6.5 1.5l6.5 0l6.5 2l7 1.5l6.5-0.5l6.5 1.5l5-0.5l5.5 1l6.5 0.5l5.5 0l4.5 1l6 0l4.5 0l6.5 1l5 1.5l7.5 0.5l6.5 2l6.5 0l6.5 2l6 1l7 2M740.5 265l6.5 1l6.5-0.5l7.5 2l6.5 0.5l5.5 1l7.5 1l7-0.5l6.5 1.5l7 1l5.5 1.5l6 0l4 0l5.5 0.5l6.5 1.5l5-0.5l6 2l4.5-1l6 2l6.5 0.5l6.5 1l5.5 0.5l8.5 1l6 1l6.5 1.5l7 1M738 271l6 0l6-0.5l5.5 0.5l7 2l7-0.5l7 1l6.5 1l7 1l7.5 0.5l5.5 1.5l6 1l5.5-0.5l5 1.5l4.5 0l5.5 0.5l6.5 1l5 0.5l6.5 1l4.5 2l7.5-0.5l6 2l7-0.5l7 2.5l5.5 0l8 1.5M740 276.5l6 0l6 1l6-0.5l6.5 1l7 0l7.5 2l6.5 0l7 0.5l6.5 1l5.5 1l6 1l6.5 0.5l5 2l4 0l6.5 0.5l4.5 0l6.5 1.5l6.5 1l5.5 1.5l7 0.5l5.5 0.5l6 0l7.5 0.5l7.5 0.5l6 1.5M741.5 282.5l6 1l7-1l8 0.5l5.5 0l8 2l5.5 0l8 1.5l6.5-0.5l5.5 1l6 2l5 1l6-0.5l4.5 2.5l5.5-1l5 1l6 1.5l5.5 0.5l7.5 1l5 1l7.5 1.5l6.5-1l5.5 0.5l6.5 0.5l8 1.5M739.5 289l5-1l6.5 0.5l6.5 1l7.5-0.5l7-0.5l6 0.5l6.5 1l6.5 1l6 0.5l6 2l6.5-0.5l6 2l4.5 1l6.5 0l5.5 1l5.5 2l5 1.5l6 0l5 0l7.5 1l6.5 1.5l6.5-1l5.5 1l6.5 1l7 0M740.5 293.5l8 0.5l5.5 1l7-0.5l7 0.5l7 0.5l5 0.5l8-0.5l5 2l7.5 0l5.5 1l5.5 0l6 1.5l5.5 2.5l5.5-0.5l6 1l4.5 2.5l7 0l5.5 2l5-1l7 1l6 1.5l6-1l6.5 0.5l6.5 0l7.5 1M737.5 299l7 0.5l6 0.5l6.5 0.5l7-0.5l7 1l6.5-0.5l5 0.5l6.5 0l7.5 0.5l4.5 1l6 1.5l6.5 0l6 1l5 3l5.5 1l6.5 0l5.5 1.5l6 1l6.5 1l5 0l6.5 0l6.5 1l6.5 0.5l6-1l5.5 1.5l6 0.5M741.5 305.5l6 0.5l5.5 0.5l7.5-1l7 0.5l4.5 0l8 1l4.5 0l7-0.5l6 1.5l6 1.5l5.5 0l7 1.5l6 1l6.5 1l4.5 1.5l6.5 1l5.5 1.5M737.5 310.5l6 2l7-1l6.5 0l6.5 1l5.5 0l7.5 0l5 0.5l6 1l5.5 0l6 0.5l6 0l7 2l6.5 0M740 316.5l7.5 0M737.5 310.5l2.5 6M737.5 299l4 6.5l2 7l4 4M739.5 289l1 4.5l4 6l3 6.5l3 5.5M738 271l2 5.5l1.5 6l3 5.5l4 6l2 6l2.5 6.5l4 5M738 255l2 4.5l0.5 5.5l3.5 6l2 5.5l1.5 7l3.5 5l3 6.5l3 5.5l3.5 5l3 7M737 239.5l2.5 4.5l2 5l2.5 5l1.5 5.5l1.5 6.5l3 4.5l2 7l2.5 5l3 7l3.5 5l3 5.5l3.5 6l1.5 6.5M738.5 229.5l3 5.5l2.5 4.5l2 6l2.5 5l1 5l2.5 5l1.5 5l2 5.5l2.5 6l4.5 6l2.5 6l3 6l3 6l1 5l4.5 6.5M740 219.5l3 5l2 6l3.5 5.5l0.5 5l3.5 6l2.5 4l1 5l1.5 6.5l3.5 5l1.5 5.5l2 5l3.5 5l4 5.5l3 7l2.5 5l2.5 6.5l1.5 6M739.5 209l3 5.5l3 5.5l4 5.5l3 5l0.5 5.5l3.5 5.5l1.5 6l2.5 4l2.5 5.5l1.5 5l3 6l2 4.5l2 5.5l4.5 7l2 4l2 7l2.5 5l2 6l3 7M737.5 192l3.5 5.5l2 6l3 5.5l3.5 7l2.5 5l3 5.5l3.5 6l1 5l2.5 5l1.5 5.5l2.5 5l2 5l3 5.5l2 5.5l3.5 4.5l2.5 6.5l2.5 5l3 5l3.5 5.5l1 5.5l2.5 5.5l1.5 7.5M738.5 179.5l2.5 6l1.5 7.5l3.5 5l3.5 6l2.5 6.5l4.5 5l1.5 6l3.5 6l2.5 5.5l1.5 5l2.5 5.5l2.5 6l1.5 4l3 5l2.5 5l3 6.5l2.5 4.5l2.5 5.5l4 6.5l1.5 4.5l2 6.5l3.5 4l1 6.5l1.5 6.5M740 167.5l1.5 7l2 5.5l3.5 7l2.5 5.5l2 5.5l4 6l3.5 7l3 5.5l2.5 6.5l2 4.5l2.5 5.5l3 5.5l2.5 5.5l1.5 5.5l2 5l3 5l3 6l3.5 4l2.5 6l2.5 5l3.5 5.5l1 5.5l3.5 6l0.5 5l2.5 7l1.5 5M741.5 157l1.5 6l2.5 5.5l2 6l3 7l1.5 5.5l4.5 6.5l2 5.5l2.5 5.5l4.5 6l2.5 7l3 5l0.5 5.5l3.5 6l2.5 4.5l2 6.5l2 5.5l4 4.5l2.5 4.5l3 7.5l3 4l3.5 5l1.5 5.5l2.5 5.5l1.5 6.5l3 5l1 5.5l2 5.5l3 7M746 158l2 6l1.5 5l4 7l2.5 5.5l2.5 5.5l3.5 7l3.5 5l2.5 6.5l3 6.5l3 5.5l2 4.5l1 5.5l3.5 6.5l1.5 6l3.5 5l2 5l3.5 5.5l3 6l3.5 5l3.5 5.5l2 5.5l1.5 5l3 6.5l2 4l2 5.5l2 5.5l2.5 7l2.5 5.5M751.5 159l1.5 5.5l3.5 5l2 7.5l3 6l3.5 5.5l3 5l3.5 6l2.5 7l2.5 4.5l1.5 7l4 4.5l1.5 7l1.5 4.5l4 6l2.5 5.5l2.5 5l3 5.5l3 5.5l4 6.5l2.5 5.5l2.5 5l1.5 5l2 6.5l3 5l2 5l2 5l2.5 7M757.5 160l2.5 5l1.5 5.5l3 7.5l3.5 6l4 5.5l3 5.5l2.5 6l2.5 5.5l2.5 5l2.5 5.5l2.5 6.5l2 5.5l2 5l2.5 5l4 6l2 6l4 5.5l2 6l3 5l3.5 6l2 4.5l2.5 6l1.5 5.5l1.5 6.5l3 6.5l1.5 5.5l4 5M763.5 161l2 6.5l3 6l3 5l4 5l2 7l3.5 5l2 6.5l3 4.5l1.5 5l1.5 6l3 6l2 5l4 5l2 6.5l3.5 6.5l2.5 5l3.5 6.5l3.5 6l1.5 4.5l2 5l3 6l2.5 6.5l1 6l3.5 4l2 6l1.5 7l3 5.5M769.5 162l3.5 5.5l1 7.5l4.5 5l2 5.5l4 5l2.5 6.5l1 5l3 6l2.5 5.5l2.5 4.5l1.5 6.5l3 5l3.5 4.5l2 7l4 4.5l2.5 7l3 6l2.5 4.5l3 6l1 5l2 5.5l2 6.5l2.5 5l3.5 6l2.5 6l2 6l3 6.5M772.5 157.5l4 5.5l2.5 6l3 7l2 6l4 4l1.5 6l3.5 6l1 5.5l3 3.5l2 6l2.5 6l2 4.5l2.5 6l4.5 5.5l3 6.5l2.5 4.5l2 6l4 6.5l1 5.5l3.5 5l2 6.5l1 4.5l3 6.5l1 5.5l4 7l1.5 6.5l3 5l3 6.5M778.5 160l3 5l3.5 5.5l4 5.5l1.5 6l3.5 6l2.5 5.5l1.5 6l1.5 4l2.5 6l3 4.5l3 6l2.5 4l2 5.5l3 5.5l4.5 6.5l2.5 5.5l1.5 7l2.5 5l2 5l2.5 6l2.5 5l2.5 6l1 5.5l2.5 7l3 7l3.5 5l2 6M786 160.5l3.5 5.5l2 7l3.5 5l1.5 5.5l3.5 6l1.5 4l3 6.5l2 5l2 4.5l2 4.5l4 7l2.5 4.5l3 6l2 4.5l3 7l3.5 5l2 6l2.5 4.5l2.5 7l1.5 4.5l2.5 7l1.5 4.5l2.5 6.5l1.5 6l3.5 6.5l3 7l3 5M792 161.5l4.5 6l1 5.5l3 5l3 7l3 5.5l1 5l2 4.5l3 4.5l2.5 5.5l2.5 5.5l2.5 6.5l3.5 4l3.5 7l2.5 5l3 5.5l2 5l1.5 5l3 5.5l1 5.5l1.5 5.5l2.5 6l3.5 6.5l2.5 6.5l2.5 6l1 5.5l3 6l3 6M799.5 162l2.5 5.5l3 6l3 6.5l2 4.5l1.5 5.5l1.5 5.5l3 5l2 5l2.5 6l4.5 5.5l2 5l2.5 6.5l2.5 5.5l4 4l2 5l2.5 5.5l2.5 6l1 6l2.5 5.5l1.5 5l2 7l2 6.5l3.5 6l2 5.5l3.5 5.5l2.5 6l2.5 5M805.5 163l3 5l3 6l1.5 6l2 6l2.5 5l2.5 5.5l2.5 5l2 5.5l4 5.5l2.5 6l3.5 5.5l2.5 5l2.5 4.5l3 6l2.5 4.5l1.5 5.5l1.5 5.5l2 6l1 6l2 5.5l3.5 6l3 5.5l3 7l2.5 6.5l2.5 5.5l2 6l3 4.5M813.5 162l2.5 7l0.5 5l2.5 6.5l2.5 5l1.5 6l2.5 5l3 6l4 6l3 4.5l2.5 6.5l3 5l3 5.5l2.5 5l2 5l1 5.5l2.5 5l2 6l1.5 4.5l2 5.5l3 6.5l2.5 6.5l2.5 6.5l2.5 5.5l3.5 5l2.5 5.5l1.5 6l3.5 6M819 162.5l3 7l1 5l3.5 5.5l1 5.5l3 6.5l2 5l2 5.5l4 6l2.5 6l3 6l3.5 4l2 5.5l2 6l1.5 6l3 4l1.5 6l1 5l3 5l2 6.5l3.5 6.5l1.5 5l4 5.5l1.5 6l3 5.5l2.5 6l2.5 5.5l3 4.5M826 164l2.5 6l1.5 5.5l2 5l1.5 5l2 6l3 5.5l3.5 6l4 5.5l2 6.5l2.5 6l3.5 5.5l1 4.5l2.5 6.5l2 4l2 6.5l1 5.5l2 3.5l2.5 7.5l3 6l3.5 4.5l3.5 6l2.5 7l2 4l2 5.5l2.5 6.5l2.5 4.5l2 6M830.5 157.5l1.5 5.5l2 6.5l1 5.5l3.5 6.5l3 4.5l1.5 5.5l4 6l2 6.5l3.5 6.5l3 6l2.5 4l0.5 6l3 6l2.5 5l1 4.5l1.5 6.5l2.5 4l3 7l2.5 5.5l2 7l3.5 5l3 5l2 6l4 4.5l2.5 6.5l1.5 5l3 5.5l0.5 5.5M836.5 157l1.5 5.5l2 6l2.5 5.5l1.5 6.5l2.5 5.5l3.5 6.5l3 5l3.5 7l2.5 5l3 5.5l1.5 6.5l1.5 5l1.5 6.5l2 4.5l3 5.5l2 5l1.5 6.5l2 5.5l4 6.5l2 5.5l3 6l3.5 5.5l3.5 6l2 4.5M841 157.5l3.5 7l1.5 4.5l2 6.5l2.5 5.5l2.5 5l4.5 7.5l2.5 5l2 5.5l2.5 6l2 6l2 6l3 6l0.5 5l3 6l2 5.5l2.5 4.5l2.5 7.5l3 5.5l2.5 5.5l3 6l2.5 6.5l3.5 4.5M848 158l1 5l4 6.5l2 5.5l2 6l4 6.5l2.5 5.5l3 7l2 4.5l2 7l2.5 5.5l1 5.5l2 4.5l2 6l3 6.5l2 5.5l3 5.5l1.5 5.5l3.5 7.5l2 5.5M852.5 159.5l4 4l1.5 6l4 6l2 7l3 6l4 5l1.5 5.5l2.5 6.5l2 4.5l2.5 7l0.5 5l2 5l2 5.5l3 7l2 6.5l3 4.5l2 6.5l3 6M859 160l3.5 5.5l3 6l3 4.5l3.5 6l2 7l3.5 5l1 5l3.5 7l2 4.5l1 5.5l1.5 5l2 6l2.5 6l2 6l2.5 8M866 161l1.5 4l3.5 7l4 5.5l2 5l3 6l2.5 7l3.5 3.5l1.5 6.5l1.5 5l0.5 6.5l2 4.5l2 6l2 6.5M871.5 160.5l3.5 7l4 5l3 6l2 6.5l2.5 5l1.5 5.5l3 5.5l0.5 3.5l3 5.5l0.5 6M875.5 157.5l3.5 4.5l3.5 5.5l2.5 5.5l2.5 7l3 5.5l1.5 5.5l3 5l1.5 4M882 157.5l2.5 7l4 4.5l3.5 6.5l1 5M889 159l3 6.5l3.5 4.5M746 158l-3 5l-3 4.5M751.5 159l-3.5 5l-2.5 4.5l-4 6l-3 5M757.5 160l-4.5 4.5l-3.5 4.5l-2 5.5l-4 5.5l-2.5 5.5l-3.5 6.5M763.5 161l-3.5 4l-3.5 4.5l-3 6.5l-3 5.5l-3.5 5.5l-4.5 6l-1.5 4.5M772.5 157.5l-3 4.5l-4 5.5l-4 3l-3 6.5l-2.5 4.5l-4 5.5l-2.5 5.5l-3.5 5.5l-3 5.5l-3.5 5.5M778.5 160l-2 3l-3.5 4.5l-4.5 6l-4 4.5l-3 5l-3 4l-2 6.5l-5 4.5l-2 6l-3.5 5l-3.5 5.5l-2.5 5M786 160.5l-4.5 4.5l-2.5 4l-5 6l-2.5 3.5l-3.5 5.5l-3 4.5l-3 5.5l-3.5 5l-3 5l-3.5 6.5l-2.5 5.5l-4 4l-2.5 4.5l-4.5 5M792 161.5l-2.5 4.5l-4.5 4.5l-3 5.5l-3.5 4l-3 3.5l-3.5 6l-4 4l-2.5 5.5l-4.5 5.5l-2 6.5l-2.5 4.5l-4.5 5.5l-2.5 4.5l-4.5 5l-3.5 4.5l-4.5 4.5M799.5 162l-3 5.5l-5 5.5l-2.5 3l-5 6l-3.5 3.5l-3 5l-2.5 4.5l-3.5 4.5l-3.5 6l-2.5 5l-3.5 6l-4 5l-3 5l-2.5 4l-4 5.5l-4.5 3.5l-4.5 4.5M805.5 163l-3.5 4.5l-4.5 5.5l-2.5 5l-4.5 4l-2.5 4l-3.5 4.5l-3.5 5l-3.5 5.5l-3.5 5.5l-3 5.5l-3 5.5l-3.5 5.5l-3 4.5l-3 5l-5.5 3.5l-4 5l-3 4.5l-4.5 3.5l-3.5 6M813.5 162l-5 6l-3.5 5.5l-4.5 4.5l-4 5.5l-2.5 4.5l-4.5 4l-2.5 5l-4 5l-3 4.5l-3.5 4.5l-2.5 6.5l-3 5l-4.5 5l-2.5 5.5l-4.5 4.5l-3 4l-4 5.5l-4 3.5l-4.5 3.5l-4 5.5M819 162.5l-3 6.5l-4.5 5l-3.5 6l-4.5 5l-3.5 4.5l-3.5 4l-3.5 4.5l-5 4l-2 4.5l-3.5 5l-4.5 6.5l-2 4l-4.5 6l-2.5 5l-3.5 5l-3.5 4.5l-4 5l-3 3.5l-5.5 4.5l-4 4l-5 5.5l-2.5 6M830.5 157.5l-4.5 6.5l-4 5.5l-5.5 4.5l-3.5 6l-3 4.5l-3.5 6l-5 3l-3.5 6l-4 4l-3 4.5l-3.5 3.5l-2.5 5.5l-3 5.5l-5 5l-2 6.5l-3 4.5l-4 5l-4.5 4.5l-3 3.5l-4.5 4.5l-4 4.5l-5 5.5l-3 5l-4 5.5M836.5 157l-4.5 6l-3.5 7l-5.5 4.5l-4 6l-4 5.5l-3.5 4l-4 5.5l-3 4.5l-5 3.5l-2.5 3.5l-3.5 6.5l-4.5 4l-1.5 6l-4 6l-3 4.5l-3 4.5l-3 5.5l-4 5.5l-4.5 3.5l-3 4l-5.5 5.5l-4 3l-3.5 5l-4 6l-4.5 6l-2 6.5M841 157.5l-3 5l-4 7l-4 6l-3.5 4.5l-5 5.5l-4 5.5l-4.5 4.5l-3.5 4.5l-3 5l-4.5 4.5l-3 3.5l-3 5l-4 5.5l-2.5 5.5l-4.5 5l-3 6l-2.5 5l-3.5 4.5l-4 4l-4 4.5l-3.5 4l-3.5 5.5l-5.5 3.5l-3.5 6.5l-4.5 6l-3 4.5l-4 5.5l-3 5.5M848 158l-3.5 6.5l-4.5 4l-5 6.5l-3 5.5l-4.5 5l-4.5 6l-3 5l-4 4l-3.5 4l-4 5l-3.5 4.5l-3.5 5l-4 5.5l-3.5 4l-2.5 5.5l-2.5 6l-3.5 5l-4 5.5l-3.5 4l-3 4l-4 5l-3.5 4.5l-5 5l-4.5 4l-3.5 5.5l-3.5 6l-2.5 5.5l-4 5.5l-3 6l-4 5M852.5 159.5l-3.5 3.5l-3 6l-3.5 5l-4 7.5l-5 4l-3 6.5l-5 4.5l-3 5l-4.5 4l-3 4.5l-4.5 4l-2.5 6l-4.5 3.5l-3 6l-2.5 4l-4 5.5l-2.5 6.5l-4 4.5l-2 5l-4.5 4.5l-3.5 4l-4.5 5.5l-3.5 3.5l-5 5.5l-2 5l-5 6.5l-3.5 5.5l-3.5 5l-3 6l-4 6.5l-3.5 4M859 160l-2.5 3.5l-3.5 6l-5 6l-4 5l-2.5 5.5l-6 5.5l-3 5.5l-4 5.5l-4 4.5l-4 4.5l-3 4l-3 5.5l-4 3l-4.5 5.5l-2 4.5l-4 6l-2 5l-4 5.5l-3 5l-3 4l-4 6l-3.5 4.5l-4 3.5l-5 4.5l-3.5 5l-3 6l-4 5.5l-4 6l-4 6l-2.5 5l-3 5M866 161l-3.5 4.5l-4.5 4l-3 5.5l-4.5 6l-4 5l-3.5 5.5l-4.5 5.5l-4 5.5l-2 6l-4 4l-3.5 4.5l-5 5l-3 3.5l-4.5 4l-2 5.5l-4.5 6l-2.5 5.5l-3.5 4.5l-3 5l-3 5.5l-3 5.5l-3.5 2.5l-4.5 5l-4 5.5l-3 5l-4 3.5l-4 6.5l-4 5l-3.5 5.5l-3.5 6M875.5 157.5l-4 3l-4 4.5l-2 6.5l-3.5 4l-5 5.5l-4 5l-3 6.5l-3 5l-5 5.5l-3.5 5.5l-3 4.5l-4.5 5.5l-4 3.5l-3.5 4l-3.5 5.5l-4.5 3.5l-2 6.5l-3.5 4l-4 6l-2 5l-4 5l-2.5 5l-3.5 4.5l-4 4.5l-4.5 4.5l-4 5l-3.5 4l-3 6.5l-4 5.5l-3.5 5l-4 6.5M882 157.5l-3 4.5l-4 5.5l-4 4.5l-2.5 4l-4.5 6.5l-3 5l-3.5 6l-4.5 4l-4 6.5l-3 4.5l-5 6l-3 5l-3.5 4.5l-5 4.5l-2.5 4.5l-5 3l-2 5.5l-4 4.5l-3.5 6.5l-3 5.5l-3.5 4.5l-2 5.5l-3 4l-3.5 4l-5 4.5l-3 6l-5 3.5l-4.5 6l-2.5 4.5l-5.5 5.5l-3 6.5M889 159l-4.5 5.5l-2 3l-3.5 5l-4 5l-3 4.5l-5 6.5l-3.5 4.5l-3.5 5.5l-3.5 6l-4 6l-4.5 4.5l-4 5.5l-3 4l-4 4.5l-5 5l-2.5 4l-4.5 5l-2.5 4l-4.5 5l-2.5 6.5l-2.5 5.5l-4 3.5l-2.5 6l-3.5 4l-4 4l-3 4.5l-5 5l-3 4.5l-5.5 5.5l-2.5 6l-3.5 5.5M895.5 161l-3.5 4.5l-3.5 3.5l-3.5 4l-3 5.5l-5 4l-3 6.5l-3 4.5l-4.5 6.5l-4.5 4l-3 5.5l-3.5 7l-5 4.5l-3 3.5l-3.5 5.5l-4.5 3.5l-3.5 4.5l-3.5 5.5l-4 4.5l-4.5 6l-2 4.5l-4 4.5l-3.5 5.5l-2 5l-3.5 5l-4.5 4l-3 4.5l-4.5 4.5l-4 6l-4 3.5l-4.5 6l-3 6M895.5 170l-3.5 5.5l-4.5 4.5l-3.5 5l-4 3.5l-2.5 5.5l-5 5l-4 5.5l-4 5.5l-2.5 5l-4 5.5l-4 6l-4.5 3.5l-3 5l-4 4.5l-4.5 3.5l-3.5 5.5l-4 5.5l-4 5l-3.5 5l-2 5l-4.5 4.5l-2 4.5l-4 5.5l-3 5.5l-4.5 4.5l-2.5 4l-4 4l-5 5l-4 7.5M893 180.5l-2.5 5l-4 4.5l-4 5.5l-4 3.5l-3.5 6.5l-4.5 6l-4 4.5l-3 5.5l-5 5l-3.5 4.5l-3.5 5l-3 4l-3.5 4l-4.5 4.5l-4.5 5l-3 5l-4.5 5.5l-2 5l-4.5 5l-2.5 5.5l-2.5 4.5l-4.5 6l-3 3l-3.5 5.5l-5 4l-3.5 5.5l-4.5 6M892 191l-4 4.5l-2 3.5l-4 7l-5 4l-4 7l-4.5 5l-3.5 4.5l-3.5 6l-4 5l-4.5 4.5l-3.5 3.5l-3 4l-3.5 5l-4 4.5l-3.5 6.5l-4.5 4.5l-2.5 5.5l-4.5 4l-2 6.5l-3.5 3.5l-3 5.5l-4 3.5l-4.5 5.5l-3.5 5.5l-4.5 5M895 196l-4 5l-3.5 4.5l-3.5 5l-4.5 6.5l-5.5 5.5l-2.5 5.5l-5 5l-2.5 4.5l-4.5 4l-3.5 4.5l-4 4.5l-4 4.5l-4 5.5l-4 4l-3 5.5l-3.5 5l-4 5l-3.5 6l-3 6l-3 4l-2.5 4l-4 4l-4.5 5.5l-4 5M896.5 200l-5 4.5l-2.5 6l-4 5.5l-5 6l-4 5l-4 6l-3.5 4.5l-3.5 4.5l-3.5 6l-4 4l-3.5 4.5l-4 4.5l-3.5 5l-5 4l-2 7l-3.5 4l-3.5 5.5l-4 4.5l-2 5l-3.5 6.5l-3.5 2.5l-3.5 6l-4 5.5M894.5 210l-5 7l-3 4l-4.5 6l-4 6l-3 6l-3.5 4l-5 5.5l-4 5l-4 3.5l-3 4l-4.5 6l-3 4l-4 5l-3 5.5l-4 5l-3.5 5.5l-1.5 5l-3.5 5l-4 6l-2.5 4l-3.5 4.5M895 216l-3.5 5.5l-3 5.5l-4.5 5.5l-3 7l-4 5l-3.5 3.5l-4.5 4.5l-4.5 4.5l-3 5l-4 4.5l-4.5 6l-3 5.5l-2.5 4.5l-4 5.5l-4 5.5l-2 5.5l-3 4l-4.5 6l-1.5 4M893.5 227.5l-2.5 5.5l-4 6.5l-4 5.5l-3.5 4l-4.5 5.5l-3 5l-5 5l-3.5 4l-3 4.5l-4 5.5l-4.5 6l-2 4.5l-5 5l-2.5 6.5l-3.5 5l-2.5 3.5l-3.5 5.5M895.5 234l-2.5 5l-4 7l-3 4.5l-4 6l-5 3.5l-2.5 5l-4.5 5.5l-3 4.5l-4 4.5l-3.5 4.5l-4 6.5l-3 4.5l-4 5.5l-2.5 5l-4 5l-2.5 5M895.5 247l-3.5 3.5l-4.5 5.5l-2.5 6l-4 4.5l-4.5 5.5l-3 3l-5 5l-3 6l-3 5l-5 5l-4 4.5l-2 7l-3.5 4l-3 5.5M894 257l-3 6.5l-3.5 4l-4.5 4.5l-3 5l-3 4l-4.5 4.5l-4.5 6l-3 6l-4 4l-4.5 5l-2 6M897 263l-4 6l-2.5 4.5l-4.5 4.5l-3 4l-3.5 6l-5.5 3.5l-2.5 5l-4 6.5l-4 4.5l-4 5M893 280l-3.5 3.5l-4.5 4.5l-3.5 4l-4.5 5l-3 5l-4.5 7l-3.5 3.5M896.5 284.5l-3.5 5l-4 3l-5.5 5l-4 5.5l-4 5l-3 5.5M895 294l-3.5 5l-5.5 5l-4 4.5l-3 5.5M893 304l-4.5 4.5l-3.5 4.5M896 309.5l-5.5 5"/></defs><g clip-path="url(#clip23i)" fill="none"><use href="#clip23pa" stroke="#b0b0ff" stroke-width="1.75"/><use href="#clip23pa" stroke="#3030ff" stroke-width="0.85"/></g>
<defs><path id="clip23w0p" d="M807 137.5l1.5-5l1.5-4.5l1.5-4.5M807 158l2-5l0.5-4l1-5l1.5-5l1.5-5l1.5-5l1.5-3.5M808 174l1.5-5l1.5-4l1.5-5l0.5-4.5l2-5.5l1.5-4.5l1-4.5l1-4.5l1.5-5.5l1.5-4.5l1-4M809 184l1.5-4.5l2-4.5l1.5-4l1-4.5l2-5l1-5.5l2-4l1-5l2-5l0.5-4.5l1.5-4l2-5.5l1.5-3.5M811 189l1.5-4l2-4l2.5-3.5l1.5-5.5l1.5-4l1.5-5l1.5-4.5l1-5l2-4.5l1-4.5l1.5-4.5l2.5-5.5l1.5-4l1.5-4.5M815.5 191.5l1.5-4.5l1.5-4.5l2.5-5l1.5-4l1.5-4.5l2-4l1-5.5l2.5-4l1.5-5l1-4l2-5.5l1-4l2.5-4.5l1-5l1.5-3.5M821.5 188l1.5-4.5l2.5-4l1.5-4l1.5-5.5l1.5-4.5l2-4.5l1.5-5l2-4l2-4l1-5.5l1-3.5l2.5-5l2-4l1.5-5M825.5 189.5l2-4l1.5-5.5l1.5-3.5l2.5-5l1-5l2-3.5l2-5.5l2.5-4l1-4.5l1.5-4.5l1.5-3.5l2.5-5l2-4.5l1.5-4.5l1-4.5M830 191l2-4.5l1-4l2.5-5l1.5-4l1.5-5l2.5-4.5l1-4.5l2-4.5l2.5-4.5l1-4l2.5-4.5l1.5-4l1.5-4l1.5-4.5l1.5-5.5M834 193l2.5-4.5l1-5l2-4l1-5.5l2.5-4l1-4.5l2-4.5l2.5-5l2-4l1-4.5l2.5-4l1.5-4l2-5l2-4.5l0.5-4.5M839 195l1.5-5l2-5l1-5l1.5-4.5l2.5-5l1.5-4l1-4l2.5-4l2.5-4.5l1.5-4.5l2-4l1.5-5l1.5-4.5l2-5l1-4.5M841.5 201l1.5-5l2-4l2-5.5l1-5l1.5-4.5l1.5-4l1.5-4.5l2-5l2-4.5l2-4l2-4l2-5l2-4l2-4l1-5l1.5-4.5l0.5-6M846.5 202l1.5-4.5l1.5-4l1-5.5l2-5l2-5l1-4l2-4.5l2-4.5l2-4l1.5-5l2-3.5l1.5-4l2.5-4.5l0.5-4.5l2.5-5l1-5.5l1.5-5M850 208l2-3.5l1.5-5l0.5-5l2.5-5.5l1-3.5l2-4.5l1-5.5l1.5-3.5l2-5l1.5-5l2-3l1.5-5.5l2-4l2-5l0.5-3.5l2-5l0.5-5l2-5.5M856.5 205.5l1-5l2-4.5l0.5-5l2.5-4l1-4.5l1-4.5l2-5l1.5-4.5l3-4l1.5-4.5l1.5-4l1.5-5l1.5-4l1.5-5.5l1.5-5l0.5-4l1.5-5.5M864.5 198l0.5-5l2-4l1.5-5.5l2-3.5l1.5-4.5l1.5-5l1.5-4l1.5-4.5l1.5-4.5l2-5l1-4.5l1-5l1-5.5l1.5-4.5M870.5 194.5l1-4.5l1.5-4l1.5-5l2-4l1.5-4.5l1.5-4l2-5l1-5l1.5-4.5l1.5-4.5l1.5-4.5l0-5l1-6M878.5 187.5l1-4.5l2.5-5l1.5-4l1-4l2-4l1-5l1-5.5l1-4.5l1-5l1.5-5.5l0.5-5M885.5 185l1-5l1.5-3.5l2.5-5l1-4l1-5l1-5l1-4.5l1-5.5l1-5M893.5 177.5l1.5-3.5l1.5-5l0-4.5l1-5l1-5l0.5-5l2-5M899 175l1.5-4l1.5-5l0-5l1-5.5l0.5-4.5M907 166.5l0-4.5l1-4.5l0.5-5.5M912 163.5l0.5-5M811 189l4.5 2.5M841.5 201l5 1l5.5 2.5l4.5 1M809 184l3.5 1l4.5 2l4.5 1l4 1.5l4.5 1.5l4 2l5 2l4 1l5 1.5l5.5 2l4 1M810.5 179.5l4 1.5l4 1.5l4.5 1l4.5 2l4.5 1l4.5 2l4 1.5l4.5 2l4.5 1.5l4.5 1l5.5 1.5l5 2M808 174l4.5 1l4.5 2.5l4 0l4.5 2l3.5 0.5l4 2.5l4.5 1l5 1.5l4.5 1.5l3.5 1.5l6 1l3.5 2l5 2l5.5 1.5M809.5 169l4.5 2l4.5 1l4 1.5l4.5 2l3.5 1l5 1l4 2l4 0.5l4.5 1.5l4.5 1.5l5 2.5l5 1.5l4.5 2l4.5 1M811 165l4 1.5l5 1.5l4 1l4.5 1l4.5 1.5l4 2l3.5 0.5l4.5 1.5l4.5 1.5l5 1l5 3l4 1.5l5 1l4.5 2.5l5.5 1.5M807 158l5.5 2l4.5 1.5l4.5 1.5l4.5 2l4 0.5l4 1l4.5 2l4.5 1.5l4.5 0.5l3.5 2.5l4.5 1l5 1.5l4 2.5l6 2l4 1l5 2l6 2M809 153l4 2.5l5 0.5l5 2.5l4 1l5 1.5l4 2l5 1l3 1.5l5 1l3.5 2l5 1l4.5 2.5l4.5 1l5.5 2.5l4.5 1.5l5.5 1l4.5 2M809.5 149l5.5 1l5 2l4 1.5l5.5 2l4 0.5l4.5 1.5l4 2l4 1.5l4 1.5l4.5 1l5 1.5l4.5 2l4 1.5l5.5 2l4.5 2l5.5 1.5l4.5 2.5l5.5 1M810.5 144l6 1.5l4.5 1.5l5 2l5 1.5l4.5 1.5l5 1.5l3.5 1.5l4.5 1l4 2.5l4 0.5l5 2l4 1l5.5 2.5l4 2l4.5 2l5 1.5l6 1.5l4.5 2.5l4 1M807 137.5l5 1.5l5.5 2l5.5 1l4 2.5l5 2l5.5 1.5l4 1l5 1.5l4 1.5l4.5 2l3.5 1l4.5 1l4.5 3l5 1l4 2l5 1.5l5 2.5l5 1.5l5 1.5l4 2M808.5 132.5l5 1.5l5 2.5l5 1l5 2.5l5.5 1l4.5 1.5l4.5 2l4.5 2l4 1l5 2l4 1.5l4.5 1.5l4 1l5 2.5l4 1.5l4.5 1l5 2.5l5 1.5l4 2l5.5 1.5l5 0.5M810 128l5 1l5 2l5 2.5l6 1l4 2.5l4.5 2l5 2l5.5 1l4 1.5l4.5 2l4 0.5l4 2.5l4.5 1l4.5 1.5l4.5 1.5l4 1.5l4.5 1.5l5 2l4 2l4.5 1.5l5 1l5 1.5M811.5 123.5l5 2l5 1l5.5 1.5l5.5 2.5l5 2l4.5 1.5l5 2l4.5 2l4 1.5l4.5 1l4.5 1.5l4.5 2l4 0.5l4 2.5l4 1l4.5 1.5l4 1.5l5 2l4 1.5l4.5 1l5 2l4.5 1M822.5 122.5l6 2l5.5 1.5l4.5 1.5l5.5 2.5l5 1.5l4 2.5l4.5 0.5l4 1.5l5 2l3 1.5l4 1.5l5 0.5l3.5 1.5l5 2l3.5 1l5 1.5l3.5 2l4.5 1.5l5 1M840 124l5.5 1l5 2l4 2.5l5 0.5l4 1l4 2l4.5 1.5l3.5 1.5l4.5 0.5l3 1l4 2.5l5 0.5l4.5 2l4.5 2M851.5 122.5l4.5 1.5l4 1.5l4.5 1l4.5 2l4 0.5l3 2l4.5 1.5l4 0.5l3.5 1l4.5 1.5M869.5 122.5l5 1.5l3.5 1.5l4 1.5M850 208l6.5-2.5M852 204.5l5.5-4l7-2.5l6-3.5M846.5 202l7-2.5l6-3.5l5.5-3l6.5-3l7-2.5l7-2.5M841.5 201l6.5-3.5l6-3l6-3.5l7-2l6-3l6.5-3l7-3l7-2.5l5.5-2.5M843 196l6.5-2.5l7-4.5l6-2l6-3.5l6-2.5l7.5-3l6-1.5l7-2.5l5.5-3l6.5-4.5l5-3M839 195l6-3l5.5-4l7-2.5l6-3l7-2.5l6-3l7-3l7-2.5l6-2.5l5.5-3l5-4l5.5-3.5M834 193l6.5-3l6.5-3.5l5.5-3.5l7-2l5-3l7.5-2.5l6-3l6.5-2.5l7-2.5l5-3l5.5-3.5l6-3.5M830 191l6.5-2.5l6-3.5l5.5-3.5l6.5-3.5l6-2.5l6-2.5l7-2.5l6-2l7-2.5l6-3.5l5-3l5.5-4l5.5-3.5M825.5 189.5l6.5-3l5.5-3l6-3.5l6-3l6-3l6.5-2l6-3.5l7-2l6.5-3l6-2.5l6-3.5l5-3l5-3.5M815.5 191.5l6-3.5l6-2.5l5.5-3l6.5-3l5.5-4l6-2.5l6.5-3.5l6.5-2.5l7-2.5l5.5-2.5l6-3.5l6-3l6-2.5l4.5-3.5M811 189l6-2l6-3.5l6-3.5l6.5-2.5l5-3.5l7-3.5l5-2l7-3.5l6-3l7-2l5.5-2.5l6-3.5l5.5-3l6-3.5l5.5-3M812.5 185l6-2.5l7-3l5-3l6.5-3l6-3.5l6-3.5l5.5-3l7-2.5l6-2l6.5-3l6-3.5l5.5-3l5-3.5l6-3.5M809 184l5.5-3l6.5-3.5l6-2l6-4l5.5-3l5.5-3l6-3l6.5-3.5l6.5-3l6-2.5l6.5-2.5l5.5-3l6-3l5-4.5M810.5 179.5l6.5-2l5.5-4l6-3.5l5.5-3.5l7-2.5l5-3l6.5-2.5l6-3.5l6.5-2.5l6-3l6-2.5l5-4l5-3l5.5-4.5M812.5 175l6-3l5.5-3l6-3.5l6-2.5l6-3.5l6.5-3.5l6.5-2l5.5-3l6-2.5l6.5-4l5.5-3l4.5-4l5-3.5M808 174l6-3l6-3l6-3l6-4l6-3.5l6-2.5l6.5-3l6-2.5l6-3.5l6.5-2l4.5-3l6.5-4.5l4.5-3.5M809.5 169l5.5-2.5l6.5-3.5l5.5-3.5l6.5-3.5l7-2.5l6-3l5-3l7-2l6-3.5l5-2.5l6-3.5l5-3.5M811 165l6-3.5l6-3l6.5-3l6-3.5l6-3l6-2.5l6.5-3l6-3l6.5-2.5l5.5-3.5l4-3.5l6-4M812.5 160l5.5-4l6-2.5l7-3l6.5-2.5l5.5-3.5l7-2.5l5.5-2.5l6-3.5l6-3l5.5-4l5-3.5M807 158l6-2.5l7-3.5l6-3l6-2.5l6.5-4l6-1.5l7-3l6-3.5l6-3.5l5.5-2.5l5.5-4.5M809 153l6-3l6-3l6-2.5l7-3.5l5.5-2l7.5-3l6-2l6.5-4l5-3.5l5-4M809.5 149l7-3.5l6.5-3.5l5.5-2l6.5-3l7-3l7-2.5l5.5-2l5.5-4M810.5 144l7-3l6-3.5l7.5-3l6.5-2l6.5-2.5l6.5-3l5.5-3M812 139l6.5-2.5l6.5-3l7.5-3l6-3l7-2.5l6-2.5M807 137.5l6.5-3.5l6.5-3l7-3l7-2l6-2M808.5 132.5l6.5-3.5l6.5-2.5l7-2M810 128l6.5-2.5l6-3"/><path id="clip23w1p" d="M888 147.5l4-2l3.5-2.5l4-1M887 152.5l3-0.5l3.5-2l4-2.5l4-1M880.5 160.5l4-0.5l4-2.5l4-1l3.5-2.5l3.5-2l4.5-2M873.5 167.5l4-0.5l5-1.5l3.5-2l5-2l3.5-1l4.5-2l3-1.5l3.5-1.5l3.5-3M866.5 174.5l4.5-2l4 0l4-1.5l4.5-1.5l4.5-1.5l4-1.5l4.5-1.5l4-2l3-2l4.5-2l3.5-1.5M863.5 180l4.5-1.5l4-0.5l4.5-2l5-1.5l4-0.5l5-1.5l4-1.5l3.5-1.5l4.5-2.5l3.5-2l4-1.5l4-2l3.5-2M857 187l4-1.5l4.5-1.5l3.5-1l5-1.5l4.5-2l4-1l5-1l5-1.5l3.5-1l4-2l4-1l4.5-2.5l3-1.5l3.5-3l3.5-1M850 195l4.5-2l3.5-1l5-2l4-2l4.5-1l4-1.5l5-1l4-2l4.5-1l4-2l5.5-1l3.5-1l4-1.5l4.5-2.5l3.5-2l2.5-2.5l4.5-1.5M843.5 201.5l3.5-1l5.5-1.5l3-1.5l5-1.5l4-2l4-1l5-1.5l4-1.5l5-1.5l4-1l4-2.5l4.5-1l4.5-1l4-1.5l4.5-2l3.5-2l4.5-2l3-1.5l4-2M850 205l3.5-2.5l4.5-1l4.5-2l3.5-1.5l5-1.5l4-1l4.5-2l4-1l4.5-1.5l4-2l5-1l4-1l4.5-2.5l3.5-1.5l4.5-2l4-2l4-2.5l3.5-1M851.5 209l3.5-2l4-1.5l5-1l4-1.5l3.5-2l5-2l4-1.5l4.5-2l4.5-1.5l4-1.5l4.5-0.5l5-2l3.5-1.5l4.5-1.5l3.5-2.5l4-1l4.5-2l3.5-3M857.5 211l4-1.5l4-1l4-1.5l4-3l5-1l3.5-1.5l5-2.5l4-0.5l4.5-2.5l4.5-1l4-2l4-1.5l4.5-1.5l3.5-1l4-2.5l4.5-1.5l3.5-1.5l3.5-3M858.5 215l4-1l5-1.5l4-3l3.5-1l5-1.5l3.5-2.5l4.5-1.5l4.5-1.5l4.5-2l4.5-1.5l4-0.5l4.5-2.5l4-0.5l4-2.5l5-1l3.5-2.5l4-1.5l2.5-1.5M860.5 219l4.5-1l4-2.5l4-1.5l3.5-2l4.5-1l4.5-3l4-1.5l3.5-1l5-2.5l4-0.5l5.5-2l3.5-2l5-1l3.5-1l4-1.5l5-2l3-2l4-2.5M861.5 222.5l4-1l4.5-2l4-1l4.5-2l3.5-2l4-2.5l5.5-1l3.5-2l4.5-1.5l4.5-1.5l4-1l5.5-1.5l4.5-1.5l4-1.5l3.5-2.5l4-1l4.5-2M863 227l4-2.5l4.5-1l4.5-1.5l4-2.5l3.5-2l4.5-1.5l4-1.5l5-2.5l4-0.5l4-2l5-1l4.5-1.5l4-2l5-1l4-1.5l4.5-1l4.5-2.5M861 232.5l4-2.5l4.5-1l4-1.5l3.5-1.5l4-3l4.5-1l4-2l5-2l4-1l4.5-1.5l4-1.5l4-2l5.5-1.5l4-0.5l4-2l5-0.5l4-1.5M861.5 235.5l5-1l4.5-2l4.5-1.5l3.5-1.5l3.5-1.5l5-2l3.5-1.5l5.5-2l3.5-2l4-1l4.5-2.5l5-1l4-1.5l5-1l4-1.5l4.5-1l4-1.5M859 240.5l4.5-1l5-1l3.5-2l4-1l5-1.5l4.5-1.5l3.5-2.5l4.5-1l3.5-3l5-1l4-1.5l5-2l3.5-1.5l5-0.5l4.5-1.5l4-2l5-1.5M861 244.5l4.5-0.5l4-1.5l4-1.5l5-1.5l5-2l3-1l4-2.5l5.5-1.5l4-1l4.5-2.5l3.5-1l4.5-1.5l4.5-1.5l4-2l5-2l5-1l4-0.5M871.5 246.5l4.5-2l4-1l5-1l4.5-1.5l3.5-2l4-1.5l4.5-2l4.5-1.5l4-1.5l4-3l5.5-0.5l3-2.5l4.5-1l4.5-1l5-1.5M878 249l4.5-1l4-1l4.5-1.5l4-2.5l4-1.5l5-2.5l4-1.5l3.5-1l4-2l5-2.5l4.5-1l4.5-2l4-1M888.5 250l4.5-1l4.5-1.5l3.5-1.5l5-2l4-1.5l3.5-2l5-2.5l4-1.5l4-1.5l5-1l3.5-2.5M899 252l4.5-2l4-2l3.5-2l4.5-1l3.5-2.5l5-2l4-2l4-1l4-2M913 250.5l4.5-2.5l4.5-1l4-2l3.5-2l3.5-1.5M922.5 250.5l4.5-2l3.5-2l4-2M931.5 250l4-1.5M859 240.5l2 4M847 200.5l3 4.5l1.5 4M861 232.5l0.5 3l2 4l2 4.5M850 195l2.5 4l1 3.5l1.5 4.5l2.5 4l1 4l2 4l1 3.5l1.5 4.5l2 3l1.5 4.5l2 4l1 4l2 4M854.5 193l1 4.5l2.5 4l1 4l2.5 4l1 4.5l2.5 4l0.5 3.5l1.5 3l2.5 4.5l1.5 3.5l1 4l1.5 4.5l2.5 3.5l2 4.5M857 187l1 5l2.5 4l2 3.5l1.5 5l1.5 4l2 4l1.5 3l1 4l1.5 4l2 4l2 3.5l0.5 4.5l2.5 4l1.5 4l2.5 4.5M861 185.5l2 4.5l1.5 4l1.5 4l2 5l1.5 4l2 2.5l1.5 4.5l1 4.5l2 3.5l1 4l2 3.5l2 4.5l2.5 3.5l1.5 5l1.5 4.5l2 3M863.5 180l2 4l1.5 4l1.5 5l2.5 3.5l0.5 4.5l2 3l1.5 4.5l1.5 3.5l2 4.5l1.5 3l1 3.5l1.5 5l3 4.5l1 4l3 4.5l1.5 4.5l2 3.5M866.5 174.5l1.5 4l1 4.5l2.5 4l2 4.5l1.5 4l1.5 3.5l2 4l1.5 4l1 4l1 3.5l1.5 3l2 4.5l2 4l1.5 4l1.5 4l2.5 5l2 4l2.5 4.5l1.5 4.5M871 172.5l1 5.5l2 3.5l1.5 4l2 4.5l2 3.5l1 4l1.5 4l1.5 3l2 3.5l0.5 4l2 4l1.5 4l1.5 4.5l2.5 4.5l2.5 3.5l1 5l2 4l2 4.5l2.5 4M873.5 167.5l1.5 5l1.5 3.5l2 3.5l2 5l2 4l1 4l1.5 3l2 3.5l1 4l1.5 3.5l2 4.5l0.5 3.5l2.5 3.5l2 4.5l0.5 3.5l3 5.5l1.5 4l2.5 3.5l2 5l1.5 4M877.5 167l1.5 4l2.5 3.5l1 4l2 4l2 5l1.5 3.5l1.5 3l1.5 4.5l1.5 3l0.5 4l2 3.5l2 3l1.5 5l1.5 3.5l2 4.5l2.5 4l1.5 5l2 3.5l2 5l1 3.5l2 4.5M880.5 160.5l2 5l1 4l2 4.5l2 3.5l1.5 4l1.5 3.5l1.5 4l1.5 3.5l2 3.5l1.5 3.5l1 3.5l1.5 4.5l1.5 4l2 4l1 4l2 4l2 4.5l2 4.5l1.5 4l2 4l2 4.5l2 3M884.5 160l1.5 3.5l2 4.5l2.5 4.5l2 3.5l0.5 3.5l2 4.5l2 4l1 4l2 3l1.5 3l0.5 4.5l2 3.5l1 3.5l2 4.5l1.5 3l2.5 4.5l1.5 5l1.5 3l1.5 5l3 3.5l0.5 4.5l3 4.5l0.5 3.5M887 152.5l1.5 5l2.5 4l1 5l2.5 4.5l1.5 4l2.5 3.5l1 4.5l1.5 4l2 3l1 3l1.5 4.5l2 3l0.5 4.5l2 3.5l1 3.5l2.5 4l1 4l2.5 5l2.5 4l1 3l2 4.5l1.5 4l2 4.5l1 3.5M888 147.5l2 4.5l2.5 4.5l2 4l2 4.5l1.5 4.5l2 3.5l2 4.5l1.5 4l2 3l1 4l1.5 3l2 3.5l1 3.5l2.5 5l1 3.5l2 3.5l1 4l2 5l1.5 3.5l1.5 3.5l2.5 4.5l1.5 4l1.5 3.5l1.5 4.5l1 3.5l1 3.5M892 145.5l1.5 4.5l2.5 4l3 4.5l1.5 4.5l2 4l1.5 5l2 4l2 3.5l1 3.5l2 4l1.5 3l1.5 4.5l2 3l2 4.5l0.5 3l2 5l2 3.5l1.5 4.5l2 3l1 4.5l2.5 3.5l2 5l0.5 3.5l1 4l1.5 3l1 4M894 139l1.5 4l2 4.5l2 4.5l2.5 5l1.5 4l2.5 4l2.5 4.5l2 4l1 4l2 3.5l1 3.5l1.5 4.5l2 3l1.5 4.5l2.5 4l1.5 3.5l1 4l2 4l1.5 4l3 4l0.5 4.5l2 3.5l1.5 3.5l1 4M899.5 142l2 4.5l2.5 3.5l1.5 5.5l2.5 3.5l2 4.5l1.5 4.5l2.5 3.5l2 4l1.5 3.5l1 4.5l1.5 3l3 4.5l0.5 4l2 3l2 4.5l2 5l1.5 3.5l2 3.5l2 5l1.5 3.5M909 152.5l2.5 5l2.5 4l1 3.5l1.5 4l2.5 5l2.5 2.5l1.5 5l1.5 3.5l2 3.5l2 4.5l1 4l2.5 4.5l1.5 4.5l1.5 3.5M917.5 159.5l1 4.5l2.5 3.5l2 4.5l2 3.5l1.5 3l1.5 5l2.5 3.5l1 4l2.5 4l2.5 4M931.5 180.5l1.5 5l2.5 3M850 195l-3 5.5M857 187l-2.5 6l-2 6l-2.5 6M866.5 174.5l-3 5.5l-2.5 5.5l-3 6.5l-2.5 5.5l-2 5l-2 6.5M873.5 167.5l-2.5 5l-3 6l-2.5 5.5l-2.5 6l-2.5 6l-2.5 5.5l-3 5.5M880.5 160.5l-3 6.5l-2.5 5.5l-3 5.5l-3 5l-2 5l-2.5 6l-2 5.5l-3.5 6l-1.5 5.5M888 147.5l-1 5l-2.5 7.5l-2 5.5l-3.5 5.5l-2.5 5l-2.5 5.5l-2.5 5.5l-3 6l-2.5 5l-2 6.5l-2.5 5l-3 5.5M894 139l-2 6.5l-2 6.5l-1.5 5.5l-2.5 6l-2.5 6l-2 5l-3 5l-3 6l-2 6l-2.5 5l-3 6.5l-2.5 5.5l-3 5.5l-2 5M895.5 143l-2 7l-1 6.5l-1.5 5l-3 6.5l-2.5 6l-3 4.5l-2 6l-3 5.5l-2.5 5.5l-3.5 5.5l-2 6l-2 5.5l-2.5 5.5l-3.5 4.5M899.5 142l-2 5.5l-1.5 6.5l-1.5 6.5l-2.5 6l-1.5 6l-3 5l-3 5l-2 6l-3 5l-3 5.5l-3 5l-2 5.5l-2.5 6l-3.5 6l-2.5 5.5l-2 5.5M901.5 146.5l-2 5.5l-0.5 6.5l-2.5 6.5l-2 6l-2 5l-3.5 5.5l-2.5 6l-3 5l-3 5l-2 5.5l-3.5 5.5l-2 5.5l-3 5.5l-3 5l-2 5.5l-3.5 5.5l-2.5 5M904 150l-2 7l-1.5 6l-2.5 6.5l-2 5.5l-3 4.5l-2.5 5.5l-2.5 6l-3 4.5l-3 6l-2 5.5l-3.5 5l-2.5 6.5l-2.5 5l-2 5.5l-3 5.5l-3 5l-2.5 5M905.5 155.5l-2 5.5l-1 6l-2.5 6l-1.5 5.5l-3.5 5.5l-3 5l-2.5 5l-2.5 5l-3.5 5.5l-2.5 6.5l-2.5 5.5l-2.5 5.5l-2.5 5.5l-2.5 5l-2.5 6l-3 5.5M909 152.5l-1 6.5l-2 6l-2 7l-2 5.5l-2.5 5.5l-2.5 5l-3.5 4.5l-2.5 6l-3 4.5l-2.5 5l-3.5 6.5l-2 5l-3 6.5l-1.5 5l-3.5 5.5l-2.5 6M911.5 157.5l-1.5 6l-1.5 6l-2.5 6.5l-2.5 5.5l-2.5 5.5l-3 5l-2.5 4l-3 5.5l-3 5l-3.5 5.5l-2.5 5.5l-2.5 5.5l-2 6.5l-3 6l-2.5 5.5l-2 5.5M914 161.5l-2.5 6.5l-1 5.5l-2.5 6l-2.5 5l-2.5 5.5l-3 5l-3 4.5l-4 6l-1.5 5.5l-3.5 5l-2.5 6l-3 6l-1.5 6l-2.5 5.5l-2.5 5M917.5 159.5l-2.5 5.5l-1 6.5l-2.5 6l-2.5 5.5l-2.5 5.5l-2.5 4.5l-2.5 5l-3.5 5l-3 6l-3 5.5l-2.5 5.5l-2 6l-2 6.5l-2 5l-3.5 6l-2 5.5M918.5 164l-2 5l-0.5 6.5l-2.5 5.5l-2.5 6l-3 4.5l-2.5 6l-3.5 5l-2.5 5l-2.5 4.5l-2.5 6l-3.5 6.5l-2 5.5l-2.5 6.5l-1.5 6l-2.5 5.5M921 167.5l-2 6.5l-1.5 5l-3 5.5l-2 5.5l-2.5 5l-2.5 5.5l-3.5 5.5l-3 5.5l-2.5 5.5l-2 5.5l-3 6.5l-3 5l-1 7l-3 6M923 172l-1.5 4.5l-3 7l-2.5 5.5l-2 5.5l-3 4l-3 6.5l-3 4.5l-2 6l-3 5l-3 5.5l-1 6.5l-3 6.5l-2 6.5l-2.5 4.5M925 175.5l-2 6l-3 5l-2 5.5l-2 5.5l-2.5 6l-3.5 5l-3 5.5l-3 5.5l-2 5.5l-2 6.5l-3 6l-2 5.5l-2 6M926.5 178.5l-2 6.5l-1.5 6l-3.5 5.5l-1.5 5.5l-3.5 5l-3.5 5l-2.5 5l-2.5 6.5l-1.5 5.5l-3 6.5l-2.5 6l-1.5 6M928 183.5l-1.5 5l-3 6.5l-1.5 5.5l-3.5 4.5l-2 5.5l-3 5.5l-2.5 5.5l-3 6.5l-2 6l-2 5l-3 7l-2 6M931.5 180.5l-1 6.5l-2 6l-3 5l-2 6l-3 6l-3 4.5l-3 5.5l-2 6.5l-2.5 6l-2 5l-2 6.5l-2.5 6M933 185.5l-1.5 5.5l-2 6l-2 5.5l-3 5.5l-2 5.5l-3 6l-2.5 5.5l-3 4.5l-2.5 7l-1.5 6l-2.5 5.5M935.5 188.5l-1.5 6.5l-2 6.5l-2.5 6l-3 4.5l-2.5 6l-3 5l-1.5 6l-4 5.5l-2 6l-2.5 5.5M936.5 199l-3 7l-2.5 5l-3 5l-2 5l-3.5 5.5l-2 5.5l-2 6l-3 7l-2.5 5.5M935 209.5l-2 5l-2 5.5l-4 5.5l-2 5.5l-2.5 5.5l-3.5 6l-1.5 5.5M935 219.5l-3.5 5l-2 4.5l-3 6l-2.5 5.5l-2 6.5M936.5 223l-3 5l-2 6l-3.5 4.5l-2 6.5l-3.5 5.5M935 231.5l-3 6l-2.5 5.5l-2.5 5.5M936 235.5l-3 6l-2.5 5M934.5 244.5l-3 5.5"/><path id="clip23w2p" d="M914.5 234l5 1.5l4 0l5.5 1.5l3.5 0.5M899 235.5l4.5 1.5l5.5 0.5l4.5 0.5l4 1l5 1.5l5 0.5l4.5 1l4 0.5M874 235l4 1l4.5 1.5l5 1l6 0.5l4 1l5 1l5.5 2l4 0.5l5.5 1l4.5 1l4 0.5l5 0l4 0.5M862.5 237l5.5 1.5l4.5 0.5l4.5 1.5l5 0.5l5.5 1.5l4.5 2l5 0.5l5.5 1l4.5 2l4 0l5.5 1l4.5 0l4 0.5l4 0.5l4.5 1.5M862 240.5l4.5 2l5.5 1l4.5 2l5 1l5 1.5l4.5 1l5 0.5l5.5 2l4 0l5 2l5 0.5l3.5 0.5l4.5 0l4 1l5 0.5l3.5 1M860.5 245.5l4.5 1l5.5 1l4.5 2.5l5 1l5.5 2l5 0l5 2.5l4 0l5.5 2l5-0.5l4 1.5l4 0.5l4.5 0l4 0.5l5 1.5l4 0.5M859.5 250l4.5 0.5l5 2l5 1.5l5 1l6 2l4 1.5l6 0.5l4.5 1.5l5 1.5l4.5 0l4.5 0.5l4.5 1l4 1l4.5 0l4 1l4 1M858.5 254l4.5 1.5l5 1l5.5 1.5l5 1.5l5.5 2l4 1.5l6 0.5l4.5 2l4 0l5.5 1.5l4.5 0.5l4 0.5l4.5 0.5l3.5 1l4.5 0l5 1M858 259l5 1.5l5 1.5l5 0.5l5 2l4 1l5.5 1.5l5 2l5 0l4.5 1.5l4.5 0.5l4 1l5 0.5l3.5 1.5l4.5 0l5 1.5l4 1M853 262.5l4 0.5l5.5 2l5 0.5l4.5 2.5l5 0.5l4 2.5l5.5 1l4 0l5 1.5l4.5 1l5 0.5l5 1.5l3.5 1l5.5 0l4 1l4.5 2l4.5 1M852.5 267l4 2l5.5 1l5 1l3.5 1.5l5 0.5l5.5 2.5l4.5 0.5l5 1l4 1l5 1l4.5 1l4.5 1l4.5 0.5l4.5 0.5l4 1l5 2l5 1M851.5 273l4.5 0.5l5.5 1l4 2l5.5 0l4.5 2l4 0.5l5 1.5l4.5 1l4 1l4.5 0.5l5 1l4.5 0.5l4.5 1l4.5 2l4.5 0.5l5.5 1.5l4 1M860.5 280l5 0.5l4.5 1.5l5 0.5l4 1l4 1l5 0.5l4 1l5 1.5l3.5 0l5 2l5 1l3.5 1.5l5.5 1.5l5 1l4 1M864.5 286.5l5.5 0.5l3.5 1l5 1l4 0.5l4 1l4 0.5l5.5 0l4 1l3.5 0.5l5.5 2l5 2l4.5 0.5l5 2l4 1.5M873 293l4.5-0.5l4.5 1l4 1l4 0l5 1.5l4 0.5l4.5 1.5l4.5 1l4.5 0.5l4.5 2.5l5 1M877 298l4.5 0.5l4 0l3.5 1l4 0l5 1.5l3.5 1l4.5 1.5l5 1.5l5 1.5l4.5 1.5M879.5 303l4.5 0.5l4 0.5l4.5 0.5l4 0.5l4 1.5l5 1.5l5 1l4 2M887 308.5l4 0.5l4.5 0.5l4.5 2l4 1l6 1l4 2M890.5 314.5l5 0l4.5 1l3.5 1.5l4.5 1.5M899 321l3.5 1.5l5 0.5M853 262.5l-0.5 4.5l-1 6M862.5 237l-0.5 3.5l-1.5 5l-1 4.5l-1 4l-0.5 5l-1 4l-0.5 6l-0.5 4.5M868 238.5l-1.5 4l-1.5 4l-1 4l-1 5l0 5l-0.5 4.5l-0.5 5l-0.5 4.5l-1 5.5M874 235l-1.5 4l-0.5 4.5l-1.5 4l-1.5 5l-1 4l0 5.5l-0.5 3.5l-0.5 5.5l-1.5 5.5l0 4l-1 6M878 236l-1 4.5l-0.5 5l-1.5 4.5l-1 4l-0.5 4l-0.5 4.5l-1 5.5l-1.5 4.5l0.5 4l-1 5.5l0 5M882.5 237.5l-0.5 3.5l-0.5 5.5l-1.5 4.5l-1 4l-0.5 4.5l-0.5 5l-1 4l-1.5 4.5l0 5.5l-0.5 4l-1.5 5.5l-0.5 5M887.5 238.5l0 4l-1 5.5l-1 5l-0.5 4l-1 4.5l-2 4l-1 5.5l0 4.5l-1.5 3.5l-0.5 4.5l-0.5 5.5l-1 3.5l-0.5 5.5M893.5 239l-1.5 5.5l-1 4.5l-0.5 4l-1.5 5.5l-1 4.5l-0.5 4l-1 5l-1 4l-1 4.5l-1.5 4l-0.5 5l-0.5 4l-0.5 5l-2 4.5M899 235.5l-1.5 4.5l-0.5 5l-1 4.5l-0.5 6l-0.5 3.5l-1 4.5l-1.5 5.5l-2 3l0 5l-1.5 4.5l-1 3.5l-1.5 5.5l-0.5 4l-0.5 4l-1.5 5M903.5 237l-1 4l0 5l-1 5.5l-2 4l0 5l-1 5l-1 3.5l-2 4.5l-1 4.5l-1.5 4.5l-1 3.5l-1.5 5l-0.5 3.5l-1 5l-1 4.5l-1 4.5M909 237.5l-1 5.5l-1 5l-1.5 3.5l-0.5 6l-0.5 4.5l-2 3.5l-0.5 5l-2 4l-0.5 4.5l-2 4l-0.5 4.5l-1 3.5l-1 5l-2 3.5l-0.5 5l-1.5 4.5l-0.5 5.5M914.5 234l-1 4l-1.5 5.5l-1 4.5l-0.5 5.5l-0.5 3.5l-1 5l-1 5l-1.5 4l-1.5 4l-1 5l-1.5 4l-2 3.5l-0.5 4.5l-1 4.5l-1 4.5l-1.5 4l-1 4.5l0 5M919.5 235.5l-2 3.5l0 5.5l-1 4.5l-1 5l-1.5 4.5l-0.5 4l-1 5l-2 4.5l-0.5 4.5l-1.5 4.5l-1.5 3.5l-1.5 5l-2 3l0 5.5l-2 4l-1 4.5l-0.5 5l0 4l-1 5.5M923.5 235.5l-1 5l-0.5 5l-1 3.5l-2 5.5l-1 4.5l0 4.5l-1.5 4.5l-1 4.5l-2 5l-0.5 4l-1.5 4l-1 5l-1.5 4l-1 4.5l-2 4.5l-0.5 4.5l-1.5 4.5l-0.5 4.5l-1 5.5l0 4M929 237l-1.5 4l-1.5 5l-1 3.5l-1.5 5l-1 4.5l-0.5 5.5l-1 4l-2 5.5l0 3.5l-1.5 4.5l-1.5 5.5l-2 4.5l0 4.5l-1.5 3l-1.5 5.5l-0.5 4l-0.5 4.5l-2 5l-0.5 4.5M932.5 237.5l-0.5 4.5l-1 4l-2 4l-1.5 5.5l-1 4l0 5l-2 5l-1 4.5l-0.5 4.5l-1.5 4.5l-1 5l-1 5.5l-1 3.5l-1.5 5l-1 4.5l-1.5 4.5l-0.5 4.5M936 242.5l-1 4l-1.5 5l-1 4.5l-1 5l-1 4.5l-1.5 4l-0.5 6l-1 5l-1 4.5l-0.5 4.5l-1.5 5l-1 4.5l-1.5 4l-1.5 5M936 257l-0.5 4.5l-1 5l-0.5 4l-1.5 6l-0.5 5l-0.5 4.5l-1.5 4.5l-1.5 5l-1 5M852.5 267l3.5 6.5l4.5 6.5l4 6.5M853 262.5l3.5 6.5l5 5.5l4 6l4.5 6.5l3 6l4 5l2.5 5M857 263l5 7l3.5 6.5l4.5 5.5l3.5 6l4 4.5l4 6l2.5 5l3 5l3.5 6M858 259l4.5 6l4.5 6l4 5.5l4 6l3.5 6.5l3.5 4.5l3.5 5l2.5 5.5l3 5l4.5 5.5l3.5 6.5l3.5 5.5M858.5 254l4.5 6.5l4.5 5l3 7l5 6l3.5 5l3.5 6l3.5 5l3 5l3.5 5l3 5l4.5 6l2.5 7M859.5 250l3.5 5.5l5 6.5l4 6l3.5 5l4 6l3.5 5.5l3.5 6l3.5 4l3 5l3.5 5.5l3.5 6.5l3.5 5.5l4 6M860.5 245.5l3.5 5l4 6l5 6l4 6l4 7l3.5 5l3.5 4.5l2.5 6l4.5 5l3 5l2.5 5.5l3.5 6l4 6M862 240.5l3 6l4 6l4.5 5.5l4.5 6.5l3 6.5l4.5 5l3.5 5.5l3 4.5l4 5l3 5.5l2.5 5.5l4 6l4.5 5.5M862.5 237l4 5.5l4 5l3.5 6.5l4.5 5.5l3.5 6l4.5 6.5l4 5l2.5 5.5l4 5l3 4.5l3.5 6l2.5 5.5l4.5 5.5l3.5 6.5M868 238.5l4 5l3 6.5l4 5l5 6.5l3.5 5.5l3 5l4 6l3 5l3 4.5l3 5l4.5 6.5l3 6l3.5 6M872.5 239l4 6.5l3.5 5.5l5 6l3 6l4.5 6l3 4.5l4 5.5l3 5l3 5.5l3.5 5l3.5 5l3.5 7M874 235l3 5.5l4.5 6l4 6.5l3.5 5.5l5 5l3.5 5.5l2.5 5.5l4 5.5l3 4.5l3.5 6l3.5 6l3 5.5l3.5 6M878 236l4 5l4.5 7l4 5l4.5 6l3.5 6.5l3.5 5l3 4.5l3.5 6l3 4.5l2.5 6.5l4.5 5l3.5 6M882.5 237.5l5 5l3.5 6.5l4.5 6.5l4 5l3 5l4 5.5l3.5 5.5l3 5l3 6l3.5 6l4 5.5M887.5 238.5l4.5 6l4 5l3.5 6l5 6.5l3.5 5l2.5 5l3 5.5l4 4.5l3 6l4 6.5l3 6M893.5 239l3.5 6l4.5 6.5l3.5 6l4 4.5l3.5 5.5l3 5l3.5 5l2.5 5.5l4.5 6.5l2.5 6M897.5 240l5 6l3 5.5l4.5 5.5l3.5 5.5l3 5.5l2.5 6l4 4.5l3.5 6.5l3.5 5.5M899 235.5l3.5 5.5l4.5 7l3.5 5.5l3.5 5l4 5l3 5l2.5 5.5l4 6.5l4 5.5M903.5 237l4.5 6l3 5l4.5 6l2.5 5l4 5.5l2.5 5l4 6l3.5 6M909 237.5l3 6l4.5 5.5l2.5 5.5l3.5 4.5l4 5.5l2.5 5l3.5 7M913.5 238l4 6.5l3.5 4.5l2.5 5.5l3 5l4 6l3.5 5M914.5 234l3 5l4.5 6.5l3 4l2.5 6l4 5.5l3 5.5M919.5 235.5l3 5l3.5 5.5l3 4l3.5 6l3 5.5M923.5 235.5l4 5.5l3.5 5l2.5 5.5l2.5 5.5M929 237l3 5l3 4.5M932.5 237.5l3.5 5"/><path id="clip23w3p" d="M915.5 302.5l1 5l2.5 4M906.5 295.5l1.5 4l2.5 5l2 4l2 4M901.5 293l1.5 4l1.5 4l2 4l1.5 4.5l2.5 5l1.5 4M893.5 287l2 3.5l2 4.5l1 4l2 4l2 4.5l1 4l2.5 4.5l1.5 4.5M888 285l1.5 4.5l2.5 4l1 3l1.5 4.5l2.5 4l1 4l2 4.5l2.5 4l1.5 5l2.5 4M880 278.5l2.5 5l2 3l1 4l2.5 3.5l1.5 4.5l1.5 4l1.5 4l1.5 4.5l2 4.5l1.5 4.5l2 4.5l3 4M874.5 276l2 4.5l1.5 4l2 5l2.5 3.5l1 4l1.5 4.5l1.5 3l2 4.5l2 4.5l2 4l1 4l3 4l2 5.5M865.5 269l2 4.5l3 4.5l1.5 5l3 4l2 4l0.5 4l2 4.5l1.5 3.5l2 3.5l2.5 5l1.5 3.5l1 4.5l1.5 3.5l3 4.5l1.5 5.5l2.5 4.5M859.5 266.5l2 4.5l2.5 4.5l2.5 5l2 4l2 5l1.5 3.5l3 4.5l1.5 3.5l1 4l2 4l1.5 4l1.5 5l2 3.5l1.5 4l2.5 4l2 5.5l1.5 3.5M853.5 263.5l1 4.5l3 5.5l2 4.5l2.5 4.5l2.5 4.5l2 4l2 5l2.5 3.5l1.5 5l2 3.5l1.5 4.5l1.5 3.5l2 3l1 5l1.5 4l2 4.5l1 4l2 4M849 265.5l2.5 5.5l1.5 4l2.5 5l3 4l2.5 5l1.5 4.5l2.5 5l2.5 3.5l1.5 4.5l1 4l2 3l1.5 4.5l1 3.5l2 4.5l2 3.5l1 5l2.5 3.5l1 4.5M847 272.5l3 5l2 4.5l2.5 5l2.5 4l2.5 5l2 4l1 5l2.5 3.5l1.5 4l1.5 4l1 3.5l1.5 4.5l1.5 3.5l2 4l1 4.5l2.5 3.5l1 4M843.5 275l2.5 4l2 5.5l2 5l2.5 3.5l2.5 5.5l1.5 4.5l2 3.5l2.5 4l1 4l1 4l2 3l1.5 5l1.5 3l2 4l1.5 4.5l2 4l0.5 4M840 277l2 5l2.5 4l1 4.5l2 5.5l3 4.5l2 4l2.5 4.5l1.5 4.5l1 3l2 4l1 4l1.5 3l2 4l1 4l2 4l1.5 3.5l1 4.5M835 279l2.5 4l2.5 5l1.5 4.5l2.5 4.5l2.5 5l2 4.5l1.5 4l2 4.5l2 3.5l1 3.5l1 4.5l2.5 3l1.5 3.5l1.5 3.5l1 4l2 4.5l2 4M831 281l2 4.5l2.5 5l1.5 4.5l2 4l2.5 4.5l2.5 4.5l2 4.5l1 4l1.5 4.5l2.5 3.5l0.5 3.5l1.5 3l2.5 4l1 3.5l1.5 4.5l2.5 4l1.5 3.5M827 282.5l2 4l1.5 4.5l2 4.5l3 5l1 4.5l2.5 4.5l1.5 4.5l2.5 3.5l1.5 4.5l2 4l1 3l2 5l1 3.5l2 2.5l2 4.5l1 3l2.5 4.5M822.5 284.5l1.5 4l2 4l2 5l2 4l2 5l2.5 4l2 4l2 5l2 4.5l2 3.5l1 4l2 3.5l1 4l2 3l1 4.5l2.5 3l2 5M821 294.5l2.5 4l1.5 5l3 4l1.5 4.5l1.5 5l3 4.5l1.5 3.5l2.5 4.5l1 3.5l2.5 4.5l1 3l1.5 3.5l1.5 4.5l2.5 3M823 309l2 4.5l2 4.5l1.5 4l2.5 4.5l2.5 4l1.5 4.5l1.5 4l2 4l2 2.5l1.5 4.5l1.5 4M823 319.5l2 5l2 4.5l2.5 3.5l1.5 4.5l1.5 3.5l2 4.5l2.5 3l1 4M824.5 334.5l2.5 5l2 3.5l2.5 3.5l1 4.5l2 3.5M827 349l1.5 4M853.5 263.5l-4.5 2M859.5 266.5l-5 1.5l-3 3l-4.5 1.5l-3.5 2.5l-3.5 2l-5 2l-4 2l-4 1.5l-4.5 2M865.5 269l-4 2l-4 2.5l-4.5 1.5l-3 2.5l-4 1.5l-4 3l-4.5 1l-4.5 2.5l-4 1l-5 2M867.5 273.5l-3.5 2l-4.5 2.5l-4 2l-3.5 2l-4 2.5l-3.5 1.5l-4.5 2l-4.5 2.5l-5 0.5l-4.5 1.5l-5 2M874.5 276l-4 2l-4 2.5l-4.5 2l-3.5 1.5l-4 3l-4.5 2.5l-4.5 1l-4 2l-4.5 2.5l-4.5 0.5l-4.5 2l-4.5 1M880 278.5l-3.5 2l-4.5 2.5l-3.5 1.5l-4 2.5l-3.5 2l-4 2l-4.5 2l-5 3l-3.5 1l-5 2l-3.5 1.5l-5.5 1l-5 2M882.5 283.5l-4.5 1l-3 2.5l-4.5 2.5l-4 1.5l-4 2.5l-3 2.5l-4.5 2.5l-4.5 2l-4 1.5l-5 1.5l-5 1.5l-4.5 1.5l-4 1l-5 1.5M888 285l-3.5 1.5l-4.5 3l-3 1.5l-5 2l-3.5 3l-3.5 2.5l-3.5 1.5l-5 3l-4 1.5l-4 2l-4.5 1.5l-5 1.5l-4.5 1l-5 1.5l-4.5 1.5M893.5 287l-4 2.5l-4 1l-3 2.5l-5 2l-2.5 2.5l-4 2l-3.5 2.5l-5 3l-4 1.5l-3.5 2.5l-5 1.5l-4 2l-5.5 1.5l-4 0.5l-5.5 2.5l-4 1l-4 1.5M895.5 290.5l-3.5 3l-4 0.5l-4.5 3l-4 2.5l-3 1.5l-4 3.5l-3.5 2l-4 2l-4 2l-4.5 3l-4.5 1.5l-5 1.5l-4 1l-4.5 2l-4.5 2l-5.5 0.5l-3.5 2.5M901.5 293l-4 2l-4.5 1.5l-3.5 2l-4.5 3l-4 1.5l-3.5 2l-3 3l-4.5 2.5l-3.5 2l-4.5 2l-4.5 2l-3.5 2l-5.5 2.5l-4 1l-4 2l-5 1l-4.5 1.5l-4 2.5M906.5 295.5l-3.5 1.5l-4.5 2l-4 2l-3.5 1.5l-4.5 2l-3.5 2l-3.5 2.5l-3.5 3.5l-4 1l-4 3l-5 2l-3.5 2l-4.5 1.5l-4 2.5l-4.5 1.5l-4 1.5l-4.5 2l-4.5 1l-4 2l-5 2M908 299.5l-3.5 1.5l-4 2l-3.5 2l-4.5 1.5l-4 2.5l-3 2.5l-4.5 1.5l-3.5 3l-4 2l-4.5 2l-4 1.5l-4.5 3l-4.5 2l-4.5 1.5l-4 1l-4 2.5l-4.5 1.5l-4 2l-4 2l-4 2.5M915.5 302.5l-5 2l-4 0.5l-4 2.5l-4.5 1.5l-4 2l-3.5 2.5l-3.5 1.5l-4.5 3l-3 1l-5 2.5l-4 3l-4 2l-4.5 1l-3.5 2l-5.5 1.5l-3.5 3l-4 1l-4 2.5l-5 1.5l-4 1.5l-3.5 2.5M920.5 306l-4 1.5l-4 1l-4.5 1l-4.5 2l-3.5 2l-4 2l-3.5 2l-4.5 2l-3.5 2l-4 2.5l-4 2l-4.5 2l-4 1.5l-4 2l-4 1.5l-4.5 2l-5 2.5l-4 1.5l-4 1.5l-4 2.5l-4 2l-3 1.5l-4.5 2.5M919 311.5l-4.5 1l-4 2l-4.5 1.5l-3.5 1.5l-5 2.5l-4 1.5l-4 1.5l-3.5 2.5l-4 2.5l-3.5 1.5l-4.5 2.5l-4 1.5l-5 2l-3.5 1l-5 2l-4 1.5l-4 2l-4.5 2l-3.5 1.5l-3.5 2.5l-4.5 3l-4 2M912 318.5l-4.5 2l-3.5 2l-4.5 2l-3 1l-4 2l-4 2l-4.5 3l-4.5 2l-4.5 2l-3.5 1.5l-4.5 1.5l-4.5 1l-4.5 2.5l-3.5 1.5l-5 2l-4 2l-3.5 1.5l-4 2l-3.5 2.5M906.5 326.5l-4 2l-4 2.5l-4.5 2l-3.5 2l-5.5 1.5l-3 1.5l-4.5 2l-4 2l-5 1l-4 2l-4 2l-5 0.5l-3.5 2l-4 2l-4.5 2.5M896.5 337.5l-4.5 1l-5 2l-4 2l-4.5 1.5l-4.5 2l-4.5 1.5l-3 1.5l-4.5 1.5l-4 1.5l-4 2.5M827 282.5l-3 6l-3 6M831 281l-2 5.5l-3 6l-2.5 6M835 279l-2 6.5l-2.5 5.5l-2.5 6.5l-3 6l-2 5.5M840 277l-2.5 6l-2 7.5l-3 5l-2.5 6l-2 6l-3 6l-2 6M843.5 275l-1.5 7l-2 6l-3 7l-1.5 5.5l-3.5 6l-2.5 5.5l-2.5 6l-2 6.5M849 265.5l-2 7l-1 6.5l-1.5 7l-3 6.5l-2.5 6.5l-2.5 6l-2 5.5l-3.5 6.5l-2.5 5l-1.5 7l-2.5 5.5M853.5 263.5l-2 7.5l-1.5 6.5l-2 7l-2.5 6l-1.5 6.5l-2.5 6.5l-2.5 6l-2.5 5l-2.5 7l-3 5l-1.5 6l-2.5 7M854.5 268l-1.5 7l-1 7l-2 7.5l-2.5 6.5l-1 6l-2.5 6l-3.5 6l-2 5.5l-3 5.5l-2 5.5l-2.5 6.5l-2 6l-2 6M859.5 266.5l-2 7l-2 6.5l-1 7l-2 6l-2 7.5l-2 6l-2.5 6l-3 5l-2.5 6.5l-2.5 5.5l-3 5.5l-2.5 5.5l-1 6l-3 6.5M861.5 271l-2 7l-1 6l-1.5 7l-2 7.5l-2.5 6l-2.5 6l-3 6l-2.5 5.5l-2 5.5l-3.5 5.5l-2.5 6l-2 6l-2 6M865.5 269l-1.5 6.5l-2 7l-1 6.5l-1.5 7l-3 7l-1.5 6l-3 6l-3.5 6l-2 5l-3 5.5l-2 6l-3 5.5l-1.5 5l-2.5 6.5M867.5 273.5l-1 7l-2 6.5l-2 6.5l-1 6.5l-3 6.5l-2 7l-2.5 5l-3 6l-3.5 4.5l-2 6l-3 5.5l-2 5l-2.5 6.5M870.5 278l-2 6.5l-2 6.5l-1.5 7.5l-2.5 6.5l-1.5 5.5l-3.5 6l-2.5 5.5l-3.5 6l-2 6l-3 5l-2.5 5l-2 6M874.5 276l-2.5 7l-1.5 6.5l-2 6.5l-1 6l-2.5 6.5l-3 6l-2.5 6l-3.5 6l-3 4.5l-2.5 6.5l-2 4.5l-3 6.5l-2 5.5M876.5 280.5l-1.5 6.5l-3 6l-1 6.5l-2 7l-2.5 6l-3.5 6l-2.5 6l-2 5l-3 5.5l-3 5l-3 6.5l-1.5 5M880 278.5l-2 6l-1 6.5l-2 6.5l-2.5 7l-2.5 6l-2 6l-3 5l-3 6l-2 5.5l-3.5 5.5l-2 6l-2.5 5M882.5 283.5l-2.5 6l-2.5 5.5l-1 6l-2 7l-2.5 5.5l-3 6.5l-2.5 6.5l-2.5 5l-2.5 5l-3.5 6.5l-2.5 4.5l-1.5 7M884.5 286.5l-2 6.5l-3 6.5l-2 5.5l-1.5 7.5l-2.5 5.5l-3 6.5l-2.5 5l-3 6l-2.5 5l-2 6.5l-2.5 5M888 285l-2.5 5.5l-2 6.5l-2.5 6l-1.5 6l-2 7l-3 5.5l-2.5 6.5l-2 5.5l-3 6l-2.5 5.5l-2.5 5.5M889.5 289.5l-1.5 4.5l-3 7.5l-2 5l-2 6.5l-1.5 6l-3 7l-2.5 6l-2.5 6l-3 5l-2 6M893.5 287l-1.5 6.5l-2.5 5l-3 6l-1 7l-3 6.5l-2 6l-2 5.5l-3.5 7l-1.5 5.5l-4 5.5M895.5 290.5l-2.5 6l-2 6l-2.5 6.5l-1.5 6l-2.5 6.5l-2.5 6.5l-2.5 6.5l-2 5.5l-3.5 6M897.5 295l-3 6l-2 5.5l-2 7l-2.5 6l-2 6l-2 7l-2 5.5l-3.5 6M901.5 293l-3 6l-1.5 6l-3 6l-1.5 6.5l-3 5.5l-1 6.5l-3.5 7l-2 6M903 297l-2.5 6l-2.5 6l-2 6.5l-2.5 6l-1 6l-2 7.5l-3.5 5.5M906.5 295.5l-2 5.5l-2 6.5l-2.5 6l-2.5 6.5l-1 5.5l-2.5 7.5l-2 5.5M908 299.5l-1.5 5.5l-3 6.5l-1 6l-3 7l-1 6.5l-2 6.5M910.5 304.5l-2.5 5l-2 6.5l-2 6.5l-1.5 6M915.5 302.5l-3 6l-2 6l-3 6l-1 6M916.5 307.5l-2 5l-2.5 6M920.5 306l-1.5 5.5"/><path id="clip23w4p" d="M845.5 347.5l-1 4M845.5 333.5l-1.5 4.5l-1.5 4l-1 4l-1 6M843 325l-1 4l-1.5 3.5l-1 5l-1.5 4l-1.5 4.5l-1 4.5l-0.5 4.5M841.5 314l-1.5 4.5l-1 5l-1 4.5l-2 3.5l-0.5 5l-1.5 4.5l-1.5 4.5l-1 4l-1 4.5M838 308.5l-1 4.5l-2 4l-1.5 5l-0.5 3.5l-2 5l-0.5 4.5l-1.5 4l-1 6l-1 3.5l-1 5M835 297l-0.5 5l-2 4l-0.5 5.5l-1.5 3.5l-1.5 4.5l-1 5.5l-1.5 4.5l-0.5 5l-1.5 4.5l-1 4l0 4.5l-2.5 5.5M832 291.5l-1 5l-2 3.5l-1 4.5l-1.5 4l-2 5l-0.5 5l-1.5 4.5l0 5l-1 4.5l-1 5l-0.5 5.5l-2 4.5l-0.5 3.5M828.5 285.5l-1.5 4.5l-1.5 4.5l-1.5 4.5l-2 4l-0.5 4l-1.5 5l-1.5 5l-0.5 4.5l-0.5 5l-1 4.5l-1 4.5l-1.5 6l-0.5 5l-1.5 4l-0.5 4.5M824 283.5l-2.5 5l-1 4.5l-1 4l-2.5 4l-0.5 4l-1.5 5l-0.5 5l-1 4.5l-1.5 5.5l-0.5 4l-0.5 5l-0.5 6l-1.5 4.5l-1 4l-1 5M819.5 283l-2 3l-2 4.5l-1 4l-2 5l-1.5 4l-0.5 4l-1 5.5l-1.5 5l-0.5 4.5l-1 5.5l-1 4l-0.5 5.5l-1.5 5.5l-1 5l-0.5 4.5M813.5 285.5l-2.5 4.5l-2 3l-1.5 4l-1 4.5l-0.5 4.5l-1.5 4.5l-1.5 6l-0.5 4l-1 5.5l-1 4.5l0 5l-1.5 5.5l-1 4.5l-2.5 5.5M808.5 284l-2 3.5l-2 4l-1 5l-1 4l-1.5 4l-1 5.5l-1.5 5l-1 4.5l-1 5l-0.5 4.5l-1 5.5l-1.5 4.5l-1 5l-2 5.5l-0.5 4M804 282l-2.5 5l-1 3.5l-1.5 5l-2 3.5l-1 4.5l-0.5 5l-0.5 5l-1.5 5l-1.5 4.5l-1 4l-1 6l-1.5 4.5l-1 4.5l-1 5l-1.5 5.5M798.5 281l-1 4.5l-2 4l-0.5 3.5l-1.5 5.5l-2 4l-0.5 4.5l-1 4l-1.5 6l-1 4l-1 4.5l-2 5.5l-1 5l-1 4.5l-1.5 5l-1 4.5l-1.5 5M794.5 280.5l-1.5 4l-2 3.5l-1.5 5l-0.5 4l-1 4.5l-1.5 4.5l-1 4l-1 5.5l-1.5 4l-1 4.5l-2 5l-1.5 5.5l-1.5 4l-0.5 5.5l-1.5 4.5l-2 4.5M788 282.5l-0.5 4.5l-1.5 4.5l-2 4.5l0 5l-1.5 4l-1.5 4.5l-1.5 4.5l0 4.5l-2 5.5l-1.5 3.5l-1.5 5l-1.5 5l-2 5l-1.5 4.5l-1.5 5M780 295l-0.5 5l-2 3.5l-0.5 5.5l-1.5 4.5l-0.5 4l-2.5 4.5l-1 4.5l-2 5.5l-1 4l-2.5 4.5l-1.5 5.5l-0.5 3.5M772.5 307.5l-1 5l-1 4.5l-2.5 5l-0.5 3.5l-3 5l-1.5 4l-1.5 4.5l-1 5l-1 4.5M762 325.5l-1 3.5l-2.5 4l-1 5l-1 4.5l-1 5M828.5 285.5l-4.5-2l-4.5-0.5M832 291.5l-5-1.5l-5.5-1.5l-4-2.5l-4-0.5l-5-1.5l-4.5-2l-5.5-1l-4-0.5M835 297l-4-0.5l-5.5-2l-5-1.5l-5-2.5l-4.5-0.5l-4.5-2.5l-5-0.5l-4-1.5l-4.5-1l-5-2M834.5 302l-5.5-2l-5-1l-4.5-2l-5-2.5l-5.5-1.5l-4.5-1.5l-4-1l-5-1l-4.5-1.5l-3.5-1M838 308.5l-5.5-2.5l-4.5-1.5l-6-1.5l-5-2l-4.5-1.5l-5-2.5l-4-0.5l-4.5-1l-4-2.5l-5.5 0l-3.5-1.5M841.5 314l-4.5-1l-5-1.5l-5.5-3l-5-1.5l-5-2l-5.5-1.5l-4.5-2l-4-1l-5.5-1.5l-3.5-0.5l-4.5-1.5l-5-1l-4-1M840 318.5l-5-1.5l-4.5-2l-6-1.5l-4.5-1.5l-5-2l-4.5-2.5l-4.5-1.5l-5-1.5l-5-1l-4.5-1l-3.5-1l-4-0.5l-4.5-1M843 325l-4-1.5l-5.5-1.5l-4.5-2.5l-5-1l-5.5-1.5l-4-2l-5-2l-5-2.5l-4.5-0.5l-4.5-1.5l-4.5-1.5l-4.5-1l-4-1l-5-1.5M842 329l-4-1l-5-2.5l-5-0.5l-5.5-2l-4.5-1.5l-4.5-2l-5.5-1.5l-5-1.5l-4.5-1.5l-3.5-1.5l-5-2.5l-4.5-1l-4.5-0.5l-4-0.5l-4.5-1.5M845.5 333.5l-5-1l-4.5-1l-5-1l-4.5-1l-4-1.5l-5-1.5l-5.5-1.5l-4.5-2.5l-5-2l-5-1l-4-1l-5-1.5l-4-1.5l-5-1.5l-4-0.5l-4-1M844 338l-4.5-0.5l-4-1l-5-1.5l-4.5-0.5l-4.5-2l-5-1.5l-5-2l-5-1l-5-2l-5-1.5l-4.5-1.5l-4.5-2l-4.5-1.5l-3.5-1l-4.5-1l-4.5-0.5M842.5 342l-4.5-0.5l-4-0.5l-5-2l-4.5 0l-4-1.5l-5-2l-4.5-1.5l-5.5-2l-5-1.5l-4.5-1.5l-5-2l-4.5-1.5l-4.5-1.5l-4.5 0l-5-2l-4.5 0M845.5 347.5l-4-1.5l-5 0l-4-0.5l-4.5-0.5l-4.5-2l-3.5 0l-6-1.5l-3.5-1.5l-5.5-2.5l-4.5-2l-5.5-1l-5-1.5l-5.5-2l-4.5-2l-4-1.5l-4.5-1l-4-1l-5.5 0M844.5 351.5l-4 0.5l-5-1.5l-4-1l-4.5-1l-3.5-1l-5.5 0l-4.5-1l-4.5-2l-5.5-1.5l-4.5-2l-5.5-2l-5-1.5l-5-1.5l-5-1.5l-4-2l-5-0.5l-5-1.5l-3.5-1.5M835 355l-4.5-1l-4.5-0.5l-5-0.5l-3.5-2l-5.5-0.5l-4-2l-5.5-0.5l-4.5-2.5l-5.5-1.5l-5-2l-5-1.5l-5.5-2l-4-1l-4.5-1.5l-5.5-1.5l-4.5-1.5M811.5 355l-4.5-1.5l-5-1l-6.5-1.5l-5-1.5l-4-2.5l-5.5-1.5l-4.5-1.5l-5.5-1.5l-5-2l-4.5-1.5l-4-1M790 353.5l-5-1l-5-2.5l-5-1.5l-5.5-1.5l-5-1l-4-2l-4-1.5M778.5 355l-5.5-2l-5-1l-4-2.5l-4.5-1l-4-1M835 297l-3-5.5l-3.5-6M841.5 314l-3.5-5.5l-3.5-6.5l-3.5-5.5l-4-6.5l-3-6.5M843 325l-3-6.5l-3-5.5l-4.5-7l-3.5-6l-3.5-5.5l-4-6l-2-5.5M845.5 333.5l-3.5-4.5l-3-5.5l-4-6.5l-3-5.5l-4-7l-4-5.5l-3.5-6l-3-7M844 338l-3.5-5.5l-2.5-4.5l-4.5-6l-3-7l-4-6.5l-4.5-5.5l-2.5-6l-4-6.5l-2-5M845.5 347.5l-3-5.5l-3-4.5l-3.5-6l-3-6l-4-6l-4.5-6l-3-6.5l-4.5-6l-2.5-6.5l-3.5-4.5l-2.5-6M844.5 351.5l-3-5.5l-3.5-4.5l-2.5-5l-4.5-6l-3-5.5l-4-6.5l-4-6.5l-3.5-7l-4-5.5l-3.5-6.5l-2.5-5.5l-2.5-5.5M840.5 352l-4-6l-2.5-5l-3.5-6l-4-5.5l-4-6.5l-4-6l-3.5-7l-4-6.5l-3.5-6.5l-3-5.5l-3-4.5l-3-6M835.5 350.5l-3-5l-3.5-6.5l-3-4.5l-3.5-6.5l-4.5-6.5l-3.5-6.5l-4-7.5l-4-6l-3-5l-3-6l-3-5l-3-5M835 355l-3.5-5.5l-3.5-4.5l-3.5-6l-3-6.5l-4-6l-4-7l-4-6.5l-3.5-7l-3.5-5.5l-3.5-5l-3.5-6l-2.5-5M830.5 354l-3.5-5.5l-3.5-5.5l-3-5.5l-4-6.5l-4.5-6l-4-7l-3.5-7.5l-3.5-6l-4-5.5l-2-6l-4-5l-3-5.5M826 353.5l-2.5-6l-3.5-4.5l-4.5-7.5l-4-6.5l-4-6.5l-4.5-6l-3-6.5l-4-6.5l-2.5-5l-4-5.5l-2-6M821 353l-3-5.5l-4-6l-3-7.5l-4.5-6l-4-7.5l-4-5.5l-3-6.5l-4-6l-2.5-5.5l-3-5.5M817.5 351l-4-4.5l-3-6.5l-5-8l-4-6l-4-6.5l-2.5-6l-4-6.5l-3-5.5l-4-5.5M812 350.5l-3-6l-4-7l-4.5-7l-4-6l-3-6l-3.5-7.5l-3.5-5l-2.5-5l-4-6M811.5 355l-3.5-6.5l-4.5-5.5l-3-7.5l-4.5-6.5l-4-6l-3.5-6l-3-7l-3-5l-3-5M807 353.5l-4.5-5.5l-3.5-7l-4-6.5l-4-7.5l-3.5-6l-3-5.5l-3.5-6l-3.5-6M802 352.5l-4-7l-4.5-6.5l-3.5-6l-3.5-7.5l-3.5-6l-3.5-5.5l-2.5-5M795.5 351l-3-7l-4-6.5l-4-6.5l-2.5-7l-2.5-5.5l-4-5l-3-6M790.5 349.5l-3-7.5l-4-6l-3.5-7l-2.5-5l-2.5-6.5l-3.5-5M790 353.5l-3.5-6.5l-4-6.5l-4-6l-2.5-7l-3.5-5.5l-2-5M785 352.5l-4-7l-4-7l-2.5-6l-3-6l-3.5-4.5M780 350l-3.5-6l-3.5-6.5l-3.5-5.5l-2-6.5M778.5 355l-3.5-6.5l-4-6l-2.5-6.5l-4-5.5l-2.5-5M773 353l-3.5-6l-3.5-6.5l-3-6l-2-5.5M768 352l-3.5-6l-3-7l-3-6M764 349.5l-3.5-5.5l-3-6M759.5 348.5l-3-6"/><path id="clip23w5p" d="M778 347.5l-3.5 3l-3.5 2.5M783 337l-4.5 2.5l-3.5 3l-3 3l-4 4.5l-4 2M787 327l-4.5 3.5l-3.5 2.5l-3 3.5l-4 3l-4 3.5l-4 3l-2 2.5M786 320l-2.5 3.5l-4 2.5l-3 3.5l-4 3.5l-4 3l-3.5 2.5l-3.5 3.5l-3 3.5l-4 3M789.5 309l-3.5 3.5l-2.5 3l-3.5 4l-3.5 3.5l-4 3l-3 3.5l-4 2.5l-4 3.5l-3 3l-3 3l-3 4M793 300.5l-3.5 2l-3 3.5l-3 3.5l-3.5 3l-2 4l-4.5 3.5l-3 3l-4 3.5l-3.5 2.5l-4 3.5l-3.5 3.5l-3 3l-3.5 4M797 291l-3 3l-4.5 2.5l-3 3.5l-3 2.5l-2.5 4.5l-4 2l-3 4l-3.5 4l-3.5 2.5l-3 3l-3.5 4l-4.5 2.5l-3.5 3.5l-2.5 2.5l-3 4.5M801.5 282.5l-4.5 2l-2.5 3.5l-4 2l-3 3.5l-4 3.5l-3 3.5l-2.5 3l-3 2.5l-3.5 3.5l-3.5 3.5l-3.5 3l-3.5 4l-4 3l-3 3.5l-3.5 2.5l-3.5 4l-4 2.5l-2.5 3.5M797.5 278.5l-3 3.5l-3.5 3l-3.5 2.5l-3 3.5l-4 3l-3 3l-2.5 2.5l-3.5 4l-3 3l-3.5 4l-3 3l-3.5 3.5l-4.5 2.5l-3 4l-3 3l-4 3.5l-3 3.5l-3 2.5M792 278l-4 3l-4 2.5l-3.5 4l-3.5 3.5l-3 3l-2 3l-4 4l-3 2.5l-3 3l-4 3.5l-3 3l-3.5 3l-4.5 3.5l-2.5 3.5l-4 4l-2.5 3.5l-4 2.5M787.5 276l-2.5 2l-4.5 3.5l-3.5 3l-2 3l-3 2.5l-3.5 3.5l-3.5 3.5l-3 3l-3 3.5l-3.5 3l-3.5 3.5l-3.5 3.5l-4.5 4l-3 3l-4 2.5l-3.5 4.5l-2 3M785 272l-4 2.5l-3 3l-3.5 2.5l-3.5 4l-2.5 2.5l-3 4l-3.5 3.5l-4 3.5l-3.5 3l-3 4l-3.5 3l-3.5 2.5l-3.5 3l-3 3.5l-3.5 3.5l-3.5 4l-3 2.5M782 269l-4.5 2.5l-3.5 2.5l-3.5 3.5l-3 3.5l-2 2.5l-4 4l-3 3.5l-3.5 2.5l-3.5 4l-4 2.5l-3 4l-3.5 3l-3.5 3.5l-3.5 3l-4 3l-3 3.5l-3 4M778.5 265l-4 4l-3 2l-3.5 3l-3 3l-3.5 3.5l-3 4l-3.5 2l-3.5 4.5l-3.5 2.5l-3 4l-3.5 2.5l-3.5 3.5l-3.5 3l-3.5 4l-4 2l-3.5 4.5l-3 3.5M775.5 262l-3.5 3l-4 3l-3.5 2.5l-3 3.5l-3.5 2.5l-2.5 3.5l-3.5 3.5l-3.5 4l-3 3.5l-3.5 3.5l-3.5 2l-4 3.5l-3.5 3l-4 4l-3 3l-3.5 3.5l-3 3M772.5 258.5l-4 2.5l-3 3l-3.5 3l-3.5 3l-3.5 3.5l-3.5 4l-3 2.5l-2.5 3.5l-3.5 3.5l-4 3.5l-3.5 3.5l-4 2.5l-4 3.5l-3 3.5l-3.5 3l-3.5 3l-3 3.5M758 263.5l-3 4l-3 2.5l-3.5 4l-3.5 2.5l-2.5 4l-3 3l-4 3.5l-4 3l-3 4l-3.5 3l-4 2.5l-4 3.5l-3 4l-2.5 2.5M746 271l-3 2.5l-3.5 3.5l-3.5 3.5l-3.5 3l-4 3.5l-2.5 3.5l-3.5 2.5l-4 4l-4.5 3l-3 3.5l-3 2.5M733.5 277.5l-3.5 3.5l-3 3l-4 2.5l-4 4.5l-3.5 2l-3.5 3.5l-4 3.5M715.5 287.5l-3.5 2l-2.5 4M801.5 282.5l-4-4M797 284.5l-2.5-2.5l-2.5-4l-4.5-2l-2.5-4l-3-3l-3.5-4l-3-3l-3-3.5M797 291l-2.5-3l-3.5-3l-3-4l-3-3l-4-3.5l-3.5-3l-3-2.5l-2.5-4l-3.5-4M794 294l-3.5-4l-3-2.5l-3.5-4l-3.5-2l-2.5-4l-4-3.5l-2.5-3l-3.5-3l-2.5-4M793 300.5l-3.5-4l-2-3l-3-2.5l-4-3.5l-3.5-3l-2.5-4.5l-4-2.5l-2.5-3.5l-3.5-3.5l-2.5-3.5l-4-3.5M789.5 302.5l-3-2.5l-3-3l-3-3l-3.5-3l-2-3.5l-4-3.5l-3.5-3l-2.5-4l-3.5-3l-3-4l-3.5-2.5M789.5 309l-3-3l-3-3.5l-3-2l-3-3.5l-3.5-3l-2-4l-3.5-3.5l-3-3l-4-3l-3.5-4l-3-3l-3-3.5M786 312.5l-2.5-3l-2.5-2.5l-3-3.5l-3-4l-3-2.5l-3.5-3.5l-3-3l-4-3l-3-3l-3-4.5l-4-2.5l-3-3.5l-2.5-3M786 320l-2.5-4.5l-3.5-3l-3-3.5l-2-3l-3.5-2.5l-3.5-2.5l-3-4l-3-3l-3.5-3l-3.5-4.5l-3-3l-3.5-3.5l-3.5-3.5l-2-3M787 327l-3.5-3.5l-3.5-4l-2-3l-4-3.5l-2.5-3.5l-3-3l-3.5-3l-3-3.5l-4-2.5l-3-4l-3.5-2.5l-3-3.5l-2.5-4l-3.5-3l-3-3.5M782.5 330.5l-3-4.5l-3-3l-3-3l-3-3l-2.5-4l-3-2.5l-3-4l-3-3l-4.5-3l-3-3l-3.5-4l-2.5-2.5l-3-4l-3-3.5l-3.5-3l-2.5-3M783 337l-4-4l-2.5-3.5l-4-3.5l-2-3l-3.5-3.5l-2.5-3.5l-2.5-2.5l-4-3.5l-2.5-3.5l-4-2l-4-4.5l-2.5-2.5l-3-3l-3.5-4l-3-3.5l-3-3.5l-2.5-2.5M778.5 339.5l-2.5-3l-3.5-3.5l-3-3.5l-3-3l-2.5-4l-3-2.5l-2.5-3l-3.5-4l-3-3l-4-2.5l-3.5-3.5l-3-4l-3-3.5l-3.5-2.5l-3.5-4l-3-3l-1.5-3M778 347.5l-3-5l-3-3l-3.5-3.5l-3-4l-2.5-3l-2.5-2.5l-3.5-3.5l-3-3.5l-2.5-3.5l-3-2.5l-4-3.5l-3.5-3l-3-3.5l-3.5-3.5l-3.5-3.5l-2.5-2.5l-2.5-3.5l-3-4M774.5 350.5l-2.5-5l-4-2.5l-3-4.5l-3.5-3l-2.5-3l-3-3.5l-2-2.5l-3-3l-4-4l-3-2l-3-4.5l-3.5-2.5l-3-4l-3.5-3.5l-4-3l-2-3l-2.5-4l-3.5-2l-3.5-3.5M771 353l-3-3l-4-4l-2.5-4l-3-3.5l-3-2.5l-3-3.5l-2-3.5l-2.5-2.5l-3.5-3.5l-3.5-2.5l-3-4l-4-3l-3-3l-4-3.5l-3-3.5l-3-4l-2.5-2.5l-3-4l-3.5-3.5M764 352l-2-3.5l-3.5-3l-3-4l-3-2.5l-2.5-4l-3-2l-3-3l-3.5-3l-3.5-4l-2.5-3l-4.5-3.5l-3-4l-3-2.5l-3.5-3.5l-3.5-3.5l-3-3l-2-3.5l-2.5-3M754.5 348.5l-2-3l-3.5-2.5l-2-3.5l-4-4l-2-2l-3-3l-4.5-3l-2.5-3.5l-4-4l-3.5-3l-3-3.5l-3.5-4l-3-2.5l-3-3.5l-3-3.5M740.5 339l-2.5-3l-4-3l-2.5-2.5l-3.5-4l-4-2.5l-3.5-3.5l-3-4l-3.5-3.5l-2.5-3.5l-3.5-3.5M797 291l0-6.5l0.5-6M793 300.5l1-6.5l0.5-6l0-6M789.5 309l0-6.5l0-6l1-6.5l0.5-5l1-7M787 327l-1-7l0-7.5l0.5-6.5l0-6l1-6.5l0-6l0.5-6.5l-0.5-5M783 337l-0.5-6.5l1-7l0-8l0-6l0-7l0-5.5l1-6l-0.5-7.5l1-5.5l0-6M778 347.5l0.5-8l0.5-6.5l0.5-7l0.5-6.5l0-7l1-5.5l-0.5-6.5l0-6.5l0-6.5l0-6l0.5-7l1-5.5M774.5 350.5l0.5-8l1-6l0.5-7l0-6.5l1.5-6.5l-1-7.5l1-5.5l-0.5-6.5l-0.5-6l0-6.5l1-7l-0.5-6l1-6.5M771 353l1-7.5l0-6l0.5-6.5l0-7l1-6l0.5-7l1-7l0-6.5l-1-5.5l1-6.5l-0.5-7.5l-0.5-6l0.5-5l1-7M768 350l0-7l0.5-7l1-6.5l1-6.5l0-6l1-7.5l0-6l0.5-6.5l0-7l-1-6l-0.5-6.5l1-6.5l0.5-6l0.5-6.5M764 352l0-6l1-7.5l0.5-6.5l1-5.5l0.5-7l1-6.5l0.5-6.5l-0.5-5.5l0.5-7.5l0-7l-1-5.5l0.5-7l0-6l0.5-7M762 348.5l-0.5-6.5l0-6.5l1.5-6.5l1-6.5l0.5-6.5l0.5-5.5l0-7l0-6.5l0.5-6.5l0-7l-0.5-6.5l-0.5-6.5l1-6.5M758.5 345.5l0-7l0.5-6l1.5-6l0.5-6.5l1-6.5l0-7l0-6.5l0-6l-0.5-6.5l0-7l0-6.5l0.5-7M754.5 348.5l1-7l0-5.5l0.5-7l1-6l1.5-6l-0.5-7l1-6.5l-1-6l0.5-6.5l0-6.5l-0.5-8l0.5-6.5l-0.5-6.5M752.5 345.5l0-6.5l0-6.5l1.5-6l0-7l1-6.5l0.5-6.5l-1-6l0.5-7l0-7l0.5-6.5l-0.5-6.5l0-6M749 343l1-8l0.5-6l0.5-5.5l0.5-7.5l0.5-6l-0.5-5.5l0-7l0-6.5l0.5-7.5l-0.5-6l0.5-7.5M747 339.5l0-6.5l1-6.5l-1-7l1.5-6l-0.5-6l-0.5-7.5l0.5-6.5l0.5-6l0-7.5l0-6M743 335.5l1-5.5l0.5-7l-0.5-5.5l0.5-7.5l0-6l0.5-6.5l0.5-6.5l0.5-7.5l-1-7l1-5.5M740.5 339l0.5-5.5l-0.5-6.5l0.5-6.5l0-7.5l0-6l0.5-7l0.5-5.5l0.5-7.5l0-6.5l0.5-7M738 336l0-5.5l-1-7.5l1-6.5l-0.5-6l0.5-7l0.5-7l0-6l1-7l0-6.5M734 333l-0.5-5.5l1-7.5l-0.5-6.5l0.5-7l0-6.5l0.5-6l0.5-7l0.5-6.5M731.5 330.5l-0.5-6.5l-1-7.5l1-6l0-7.5l0-6.5l0.5-6.5l1-6.5l1-6M728 326.5l-1-6.5l0-7.5l0-5.5l0-7l1.5-6l0-7l1.5-6M724 324l-0.5-7l0.5-7l0-6.5l1-6.5l1-6.5l1-6.5M720.5 320.5l0-7l0-7l0.5-7l1.5-6.5l0.5-6.5M717.5 316.5l-0.5-7l0-6.5l1.5-6l0.5-6M714 313l0-6l0-7l1.5-7l0-5.5M711.5 309.5l-0.5-6l1-7l0-7M708 306l0-6l1.5-6.5"/><path id="clip23w6p" d="M722.5 312l-4.5 0.5l-3.5 1M731 305.5l-4 0.5l-5.5 1.5l-3.5 1.5l-4.5 0.5M740 298.5l-5.5 1.5l-4.5 0.5l-4.5 1.5l-4.5 1l-4.5 0.5l-4.5 2l-3.5 0M743.5 294l-5.5 0.5l-4.5 1.5l-4.5 0.5l-4 0.5l-5 1l-3.5 1.5l-4.5 0.5l-5 1.5M751 287l-4 1.5l-5 1l-3.5 0.5l-5.5 1l-4 0.5l-4.5 1.5l-4.5 0.5l-4.5 2l-4.5 1l-4.5 1M759 280l-4 1l-4.5 1l-5 1l-3.5 2l-5 1l-4.5 1l-4 1l-5 1l-3.5 0.5l-5 1.5l-4.5 1l-4.5 0.5M766.5 273.5l-4.5 0.5l-3.5 2l-5 1l-4.5 1.5l-4 0.5l-4 1l-5 0.5l-4 2l-4 0.5l-5 1.5l-4 0.5l-4 2l-5-0.5l-3.5 1.5M774.5 268l-3.5 0.5l-5 0.5l-4.5 1.5l-5 0.5l-3.5 1l-4.5 1.5l-4 0.5l-3.5 2l-5 1l-4 0.5l-4.5 1l-4 2l-5 0.5l-4 1l-4.5 1M779 263.5l-5.5 0.5l-4 0l-5 0.5l-4.5 1l-4.5 1l-3.5 1l-4.5 1.5l-4 1l-4 1l-4.5 1.5l-4 1.5l-3.5 0l-4.5 1l-5 1.5l-5 1l-4.5 0.5M773 259.5l-4.5 1l-4.5 0.5l-4.5 1l-3.5 0l-4 1.5l-4.5 1.5l-4.5 0l-4 1.5l-3.5 1l-4.5 2l-5 0l-4 1.5l-4.5 1.5l-5-0.5l-4.5 1.5M773 255.5l-5 0.5l-3.5 0.5l-5.5 0.5l-4 1.5l-4.5 1l-4 0l-4 1.5l-4 1.5l-4 1l-4.5 1l-4.5 0.5l-4.5 2l-4.5 0.5l-5 1l-3.5 0.5M772.5 251.5l-5 1l-4 0.5l-4.5 0l-4 1.5l-4.5 0l-5 1.5l-4 0.5l-3 1l-5.5 1l-3 1l-5 1l-4.5 1l-4 1.5l-5 0.5l-5 0.5M772.5 247l-5 0.5l-4 1l-4.5 1l-5 0l-4.5 0.5l-4.5 1l-3 1.5l-4.5 0.5l-5 1l-3.5 1l-4.5 0.5l-5.5 0.5l-4 2l-4.5 0.5l-4.5 0M772.5 243.5l-5.5 0l-4 0.5l-5 1l-4.5 1l-4.5 0.5l-4 0l-5 1.5l-4 0l-4.5 0.5l-3.5 2l-5 0.5l-4.5 0.5l-4 1l-5.5 0.5M772 239.5l-4.5 0l-4.5 1l-5 0l-4.5 1l-4.5 0l-4.5 1l-5 0.5l-4 0l-5 2l-4 0.5l-5 0l-3.5 1.5l-6 1l-4.5 0M772 235.5l-4.5-0.5l-5 0.5l-4.5 1.5l-4.5 0l-5.5 0l-5 0.5l-4 0l-5 1l-4 1l-4.5 1l-5-0.5l-4.5 2l-4.5 0l-5 1M776.5 230l-5 0.5l-5 0.5l-4.5 1l-5 0l-5 0.5l-5 0l-4 0.5l-5.5 0.5l-5 0l-4.5 0.5l-4 1l-5.5 0.5l-4.5 0.5l-4 1.5M775 225.5l-4 0.5l-4.5 1l-4.5 0.5l-5.5 0.5l-5 0l-4 0l-6 0.5l-4.5 0l-5.5 1l-4 0.5l-5.5-0.5l-5 0.5l-4.5 2l-4 1M778.5 219.5l-4 0.5l-4.5 1l-4.5 1.5l-4.5 0l-5.5 0.5l-4.5 0.5l-5-0.5l-5.5 1l-5.5 0.5l-5-1l-5 1.5l-4 0.5l-5.5 0.5l-4 0.5l-4.5 0.5M774 215.5l-5 1.5l-4.5 1l-5 0l-5 0.5l-4.5 0l-4.5 1l-6.5-0.5l-4.5 1l-5-0.5l-4.5 0.5l-6 0l-3.5 0.5l-6 1l-3 1.5M764 212l-5.5 1l-4.5 0.5l-4.5 1l-6 0.5l-5.5 0l-4-0.5l-5.5 0.5l-5.5 0.5l-5 0l-4.5 0.5l-4 1.5M758 208l-4.5 1l-5.5 0l-5.5 0l-4.5 1.5l-6 0l-5.5 0l-5 0.5l-4.5 1l-5-0.5l-4 1.5M752 204l-5.5 1l-5.5-0.5l-4.5 1l-5.5-0.5l-4.5 1l-5 0.5l-5 1l-5 0l-4 1M740 200l-4.5 1l-5 0.5l-5.5 0l-4.5 0.5l-5.5 0.5l-4.5 0.5l-4.5 2M734 197l-4.5 0.5l-4.5-0.5l-4.5 1l-5.5 1l-5 0.5l-4 1.5M729 192.5l-5 1l-4 1l-5.5 0.5l-5 1M723.5 190l-4.5 0.5l-4 0.5l-6 1.5M714.5 187l-6 1.5M776.5 230l-1.5-4.5l-0.5-5.5l-0.5-4.5M774.5 268l-1-4l-0.5-4.5l0-4l-0.5-4l0-4.5l0-3.5l-0.5-4l0-4l-0.5-5l-0.5-4.5l-1-5l-1-4M771 268.5l-1.5-4.5l-1-3.5l-0.5-4.5l-0.5-3.5l0-5l-0.5-4l0.5-4l0-4.5l-1-4l0-4l-1-4.5l-1-4.5l-0.5-6M766.5 273.5l-0.5-4.5l-1.5-4.5l-0.5-3.5l0.5-4.5l-1-3.5l0-4.5l-0.5-4.5l0-3.5l-0.5-5l-0.5-3.5l0-4.5l-1-5l-1.5-4.5l-1-5l-0.5-5M762 274l-0.5-3.5l-1.5-5l-0.5-3.5l-0.5-5l0-4l0-3.5l-1-4.5l0-4.5l0-3.5l-1-5l-0.5-4l-1-5l-1-4.5l-0.5-5l-0.5-4.5l-1.5-5M759 280l-0.5-4l-2-5l-1-4.5l0.5-4.5l-1-3.5l0-4l-1-5l-0.5-3.5l0-4.5l0-4.5l-1.5-4.5l-0.5-4.5l-0.5-4.5l-1-5l-0.5-4l-1.5-5.5l-1.5-4M755 281l-1.5-4l-0.5-5l-1-4.5l0-4l-1.5-4l0-5l-1-4.5l-0.5-3.5l0-5l-1-4.5l-1-4.5l0.5-4.5l-1.5-5l-0.5-3.5l-2-4.5l-1-6l-1.5-4.5l-1-4.5M751 287l-0.5-5l-1.5-3.5l-0.5-5l-1-4.5l0-4l-1-5.5l-1-3.5l-0.5-5l0-4.5l-0.5-4l-1.5-5l0-4.5l-1.5-4.5l-1-4.5l-1.5-5l-1-4l0-4.5l-1.5-5l-1-4.5l-1.5-4M747 288.5l-1.5-5.5l-0.5-4l-0.5-5l-1-4l-0.5-5l-0.5-4l-1-4.5l0.5-4l-2-4.5l-0.5-5l-0.5-5.5l-1.5-4l-0.5-5l-2-4l-0.5-4.5l-0.5-5.5l-2-4l-1-5.5l-0.5-3.5l-1-4l-0.5-5M743.5 294l-1.5-4.5l0-4.5l-1-5l0-4l-1.5-5l-0.5-4.5l-0.5-4l0-5l-1-4.5l-1.5-5l-0.5-5l-1.5-4.5l-1.5-5l-1-4l-1.5-6l-0.5-4l-1-4.5l-2-4.5l0-4.5l-1.5-4.5l0-4.5l-1-3.5l-0.5-3.5M740 298.5l-2-4l0.5-4.5l-1.5-4l-1-5.5l0-3.5l-1-4.5l0.5-5l-1-4l-1.5-5l-0.5-4.5l-1-5.5l-1-3.5l-0.5-5.5l-2-5.5l-0.5-4l-2.5-5l0-5l-2-4.5l-1.5-4.5l0-4.5l-1-4.5l0-4l-0.5-3.5l-1-4M734.5 300l-1-4l-0.5-5l-0.5-4l-0.5-4.5l0-5l-1-3.5l0-4.5l-1-5l0-5l-1-4.5l-1-4.5l-1.5-5l-1-5l-1.5-5.5l-2-5.5l-1-4l-2-5.5l-1-4.5l-1-3.5l-0.5-4.5l-1.5-5l0-3.5l-0.5-4l0.5-4l-0.5-4M731 305.5l-1-5l-1-4l0-5l-0.5-3.5l-0.5-5l-0.5-4.5l0-4.5l-1.5-4.5l-0.5-4.5l-0.5-4.5l-0.5-5l-1.5-4.5l-1.5-5.5l-1-5.5l-2-4.5l-1.5-5.5l-1.5-4l0-5.5l-2-4.5l-1.5-4.5l-0.5-4l-1-4.5l-0.5-3.5l-0.5-3.5l-0.5-3.5l-0.5-4M727 306l-1.5-4l-0.5-5l-0.5-4l-1-4l-0.5-4.5l0.5-4l-0.5-5.5l-1-4l-1-4l-0.5-5.5l-1.5-5.5l-0.5-4.5l-0.5-4.5l-2-5l-2-6l-1.5-4l-1-5.5l-2-5l0-4l-1.5-4.5l-0.5-4.5l-1.5-3.5l0-4M722.5 312l-1-4.5l-0.5-4.5l-1-5l0-4.5l0-4l-1-4.5l-0.5-4l-0.5-4.5l-0.5-4l-1-5l0-4.5l-1.5-5l-0.5-5.5l-2.5-4.5l-0.5-6l-1.5-4.5l-1.5-4.5l-1.5-6l-0.5-4M718 312.5l0-3.5l-1.5-5.5l0-4l-1-4l-0.5-4.5l0-4l-0.5-5l-1.5-4.5l-0.5-5.5l-1-3.5l0-5l-1-5l-1.5-5.5l-1.5-5l-1-5M714.5 313.5l-1-4l-1.5-4l0-5.5l-1-3.5l-0.5-4.5l-0.5-5.5l0-3.5l-1.5-5l-0.5-4.5l0-4.5l-1.5-5l-0.5-5.5M708.5 305.5l-1.5-4l-0.5-4l-0.5-5l0.5-4.5M778.5 219.5l-4.5-4M774.5 220l-5.5-3l-5-5l-6-4l-6-4M775 225.5l-5-4.5l-5.5-3l-6-5l-5-4l-7-4l-6.5-5l-6-3l-5-4.5l-5.5-2.5M776.5 230l-5.5-4l-5.5-3.5l-6-4.5l-5.5-4.5l-6-4.5l-7-4.5l-5.5-3.5l-6-3.5l-5.5-4l-5-3l-4.5-3.5M771.5 230.5l-5-3.5l-5.5-4.5l-6.5-4l-5-4l-7-5.5l-6-3.5l-6-4l-5.5-4.5l-5-2.5l-5-3.5l-6.5-2.5M772 235.5l-5.5-4.5l-4.5-3.5l-6.5-4.5l-5.5-4.5l-6.5-3.5l-5.5-4.5l-7-5.5l-6-3.5l-4.5-3.5l-6-3l-5.5-2.5M772 239.5l-4.5-4.5l-5.5-3l-5.5-4l-5.5-4.5l-5.5-4l-7.5-4.5l-6-4.5l-5.5-4.5l-6-4l-5.5-3l-5.5-3M772.5 243.5l-5-4l-5-4l-5.5-3.5l-5.5-4l-5.5-5l-7-4l-5-4.5l-7.5-4l-5-4l-6.5-4l-5-3M772.5 247l-5.5-3.5l-4-3l-5-3.5l-6-4.5l-4.5-4.5l-7-4l-6-4l-6-5l-7-4l-5-3.5l-6-4.5l-4.5-2M772.5 251.5l-5-4l-4.5-3.5l-5-3.5l-4.5-3.5l-6.5-4.5l-5.5-4l-6.5-4l-5.5-5l-6.5-4l-6-3.5l-5.5-4.5l-5.5-2.5M773 255.5l-5.5-3l-4-4l-5.5-3.5l-4.5-3.5l-5.5-4.5l-5-4l-6-4.5l-7-5l-5-3.5l-7-4.5l-6-4l-4.5-3M779 263.5l-6-4l-5-3.5l-4.5-3l-4.5-3.5l-5.5-3.5l-4.5-4.5l-6-4l-5.5-4l-6-4l-6.5-4.5l-6-5l-5.5-4l-5.5-3M773.5 264l-5-3.5l-4-4l-5.5-3.5l-5-3.5l-5-3l-4.5-4l-5.5-5l-6.5-4l-5-3.5l-6.5-4.5l-5.5-5l-6-3M774.5 268l-5-4l-5.5-3l-5-4l-4-2.5l-5.5-4.5l-4.5-3.5l-5.5-3.5l-5.5-4.5l-6-4.5l-6-4.5l-6.5-3.5l-6-4.5M771 268.5l-6.5-4l-5-2.5l-4.5-3.5l-4.5-4l-5.5-3.5l-5-3l-4.5-5l-5.5-3.5l-6-4.5l-7-5l-5.5-3.5l-5-3.5M766 269l-6-3.5l-4-3.5l-5.5-2.5l-5-3.5l-3.5-3.5l-6-4.5l-5.5-3l-5-4.5l-7-5l-6-3.5l-5.5-5M766.5 273.5l-5-3l-6-4l-3.5-3l-5.5-4l-5-3l-4-3.5l-6-4.5l-5-3l-6-5.5l-6.5-4l-5.5-3M762 274l-5.5-3l-4.5-3.5l-4.5-2.5l-5-4l-4-3.5l-6-3.5l-4.5-3.5l-6.5-5l-5.5-3.5l-6-4.5M758.5 276l-5.5-4l-5.5-3l-4.5-4l-4.5-2.5l-5.5-4l-4-3.5l-6-4l-5-4l-6.5-5M759 280l-5.5-3l-5-3.5l-5-3.5l-4.5-3.5l-4.5-3l-4.5-4l-5.5-4l-6-4l-6.5-3.5l-5.5-5M755 281l-6-2.5l-4.5-4.5l-5-3l-4-3.5l-5.5-3l-5-4l-6-4.5l-4.5-3.5l-7-4.5M750.5 282l-5.5-3l-4-3l-6-3.5l-4-3l-5.5-4.5l-5-3.5l-5.5-3.5l-6-5M751 287l-5.5-4l-4.5-3l-5-3l-5-3l-5-4.5l-5-2.5l-4.5-4l-6-4.5M747 288.5l-5-3.5l-6-4.5l-4-3l-4.5-3.5l-5.5-3l-5.5-3.5l-5-4l-5.5-5M742 289.5l-5-3.5l-5-3.5l-4.5-4l-4.5-3.5l-5.5-2.5l-6-4l-5-4.5M743.5 294l-5-4l-6-3l-4.5-4l-4.5-2.5l-5.5-4l-5.5-4.5l-4.5-3M738 294.5l-5-3.5l-4.5-3l-5.5-3.5l-4.5-3.5l-5.5-3.5l-5-4M740 298.5l-6.5-2.5l-4.5-4.5l-5.5-2.5l-4.5-4l-4.5-3l-6-4M734.5 300l-5.5-3.5l-4.5-3.5l-4.5-3.5l-5-2.5l-5-4M730 300.5l-5-3.5l-5-3.5l-5-2.5l-5-4.5M731 305.5l-5.5-3.5l-5.5-4l-4.5-2.5l-5-3.5l-4-4M727 306l-6-3l-4.5-3.5l-5.5-3l-5-4M721.5 307.5l-5-4l-4.5-3.5l-5.5-2.5M722.5 312l-4.5-3l-6-3.5l-5-4M718 312.5l-4.5-3l-5-4"/><path id="clip23w7p" d="M718 210.5l-4-2l-4-2.5l-2.5-2M728 212.5l-3.5-2l-5-3l-3-2.5l-4-3l-3-2l-3-1M739 216.5l-3.5-3.5l-5-2.5l-3.5-2.5l-3.5-3l-3.5-3l-4-2.5l-4-2l-2.5-2.5l-3.5-1.5M754 223l-3.5-2.5l-4.5-4.5l-3.5-2l-4-4l-4.5-3l-4.5-2.5l-3.5-2.5l-3-3.5l-4.5-2.5l-3-1.5l-3-2l-4-3l-2-2M765.5 226l-4-3.5l-3.5-2.5l-4.5-3.5l-4.5-3l-4-3.5l-4-3l-3.5-2.5l-5-3.5l-3.5-3l-3-2.5l-4-2l-3-2l-4-2l-3-2l-3-2.5l-3-3.5M775 227.5l-4-2.5l-2.5-2.5l-4.5-3l-3.5-3.5l-3.5-2.5l-4-3.5l-5-2.5l-3.5-3.5l-4.5-3l-4-3l-4-3l-2.5-2.5l-4.5-2.5l-3-2l-3-1.5l-3.5-2.5l-4-3l-2.5-2M777.5 224.5l-4-3.5l-3.5-3l-3.5-2l-3-3l-4-4l-4.5-2.5l-4-2.5l-4-3l-4-3.5l-4-2.5l-4-3l-3-2.5l-4-2.5l-3.5-1.5l-2.5-2.5l-3-2l-4-2.5l-3-3l-3-2.5M776.5 218.5l-3.5-3.5l-3.5-2.5l-4.5-3.5l-2.5-2.5l-5.5-4l-3.5-3.5l-4-2.5l-3.5-3l-4-2l-4-2.5l-3-3l-3.5-2.5l-3.5-2l-3.5-1.5l-3.5-3l-2.5-1.5l-3.5-3.5l-4.5-2M779.5 213.5l-4-2l-4-3.5l-3-3.5l-5-3l-3.5-2.5l-3.5-3.5l-4.5-3l-4-2.5l-3.5-2l-3.5-3.5l-4-1.5l-3.5-2.5l-3.5-2.5l-3-2l-3-2.5l-3.5-2l-2.5-2l-3.5-2.5M780.5 209.5l-3-2.5l-4-3.5l-4-2l-3-3.5l-4-2.5l-4.5-4l-3-2l-4.5-4l-3.5-2l-4-3l-3.5-2l-3.5-1.5l-2.5-2l-4-3l-3-2.5l-3.5-2l-2.5-1.5l-3.5-3M783 206l-3-3.5l-4-2.5l-3.5-3.5l-3.5-2l-5-3l-3.5-3l-4-3.5l-3.5-2l-3.5-3l-4-3l-3.5-1.5l-3-3l-4-1.5l-2-2l-4-3l-3.5-2.5l-2.5-2l-4-3M786 201l-4.5-2l-3-3l-4-3l-4-3l-5-3.5l-3.5-3.5l-3-2l-4.5-2.5l-3.5-2.5l-3-2.5l-3.5-2.5l-3-2l-3-1.5l-4-2.5l-2.5-2l-4-2l-3.5-3.5l-2.5-2M790.5 199.5l-3.5-2l-3.5-3l-3.5-2l-4-3.5l-4-3l-4-3.5l-3.5-2.5l-4.5-3.5l-4-1.5l-2.5-3l-4-2.5l-3.5-3l-3-1l-2.5-2l-3-2.5l-4-2l-3-3.5l-2.5-2l-4.5-2M789.5 194l-3.5-3.5l-4.5-3l-3.5-2.5l-4-4l-4.5-2l-3-3.5l-4-2l-3.5-3l-4-3l-3.5-2.5l-3-1.5l-3.5-1.5l-2.5-3l-4-2l-2.5-2l-3.5-3l-2.5-2M781 181l-5-2.5l-3.5-4l-3.5-2.5l-5-2.5l-3.5-3.5l-3-2l-3-2l-3.5-2l-4-2l-3-2.5l-2-2l-3.5-3l-3.5-1.5l-3-2.5M771 168l-3.5-2.5l-4-2.5l-4.5-2.5l-3-2l-2.5-2.5l-3.5-2l-3-2.5l-2.5-2.5l-4.5-1.5l-3-2.5l-3-2.5M762 157.5l-3-2.5l-3.5-2l-2.5-2l-4-3l-3-2l-2.5-2.5l-4-1.5l-3.5-3M758 149l-2.5-2l-4-2l-2.5-2l-3-2.5l-4-3.5l-3-2M751.5 140l-3-2.5l-4-3.5M775 227.5l2.5-3M771 225l2.5-4l3-2.5l3-5l1-4l2.5-3.5l3-5l1-3.5l2.5-3.5M765.5 226l3-3.5l1.5-4.5l3-3l2.5-3.5l2-4.5l2.5-4.5l1.5-3.5l2-4.5l2.5-4M761.5 222.5l2.5-3l2.5-3.5l3-3.5l2-4.5l2-4.5l2.5-3.5l2.5-4l1.5-3.5l1.5-5M754 223l4-3l2.5-4l3-3l1.5-4l3.5-4.5l1-3l3-5l2-3.5l1.5-4l2-4l3-4M750.5 220.5l3-4l3.5-3l2.5-4.5l3-2.5l1-5l3-3.5l2.5-3.5l1.5-4.5l1.5-4l2-5l2-2.5M746 216l3-2.5l4-3.5l2-3.5l2-4l3-3.5l2.5-3.5l1.5-4l1.5-5l2.5-4l1.5-3.5l3-4.5M739 216.5l3.5-2.5l2.5-4l3-2.5l3-3.5l2.5-5l3-3.5l1.5-4l2.5-3l1.5-5.5l2.5-3l2-4.5l2.5-3.5l2-4M735.5 213l3-3l2.5-3l3.5-3l2.5-3l2.5-4.5l2.5-4l3-3l1.5-4.5l2.5-4l1-4.5l2.5-3l1.5-4l3.5-4M728 212.5l2.5-2l3.5-3.5l3.5-2.5l2.5-3.5l3-3.5l3-4l2-3.5l2.5-4.5l2.5-2.5l1.5-4.5l1.5-3.5l3-4.5l1.5-4.5l3-3M724.5 210.5l2.5-2.5l2.5-3.5l3-3.5l3.5-3l3-3l3-3.5l2.5-3.5l2.5-4.5l2.5-3.5l1.5-4l2.5-4l1.5-4.5l2.5-3.5l1.5-3.5l3-3M718 210.5l1.5-3l4-2.5l2.5-3l3-4l3-3l3-3l3-3l3-4.5l2-4l2.5-3.5l2.5-3.5l1.5-4l2-4.5l3-3l1.5-3.5l3-3.5M714 208.5l2.5-3.5l3.5-3l3-3.5l3-3l3.5-3l2.5-3l3-3.5l2-3l2.5-4.5l2.5-3l2.5-4.5l1.5-4.5l2.5-3l2.5-3.5l2.5-4l2-3l2.5-4M708 209l2-3l2.5-4l3.5-2.5l2.5-3.5l3.5-2.5l3-3.5l3-3l3.5-3.5l2-3l2.5-3.5l3-4.5l2.5-3.5l1.5-3.5l2-3.5l2-4l3-4l3-3l2.5-4M707.5 204l2-4l2.5-2.5l3.5-3l3.5-3l3-3.5l2.5-2.5l3.5-4l2-3.5l3.5-3l1.5-4l3.5-3.5l2-4l2-4.5l1.5-3.5l3-4l2-3.5l2.5-3M706.5 199l3-4l3-2.5l2.5-3l4-3l3-3.5l2.5-3l2.5-4l2.5-4l3.5-3l1.5-4l3-4l1-4l3.5-3.5l2.5-4.5l1.5-3l3-3l2.5-3M706 193.5l2.5-4l3.5-2l3.5-3.5l3.5-3l2-4l3-3.5l2.5-4l2.5-3.5l3-3l1.5-4l2.5-4l2.5-4.5l1.5-3l3.5-4l2.5-3l2.5-3M706.5 187.5l2.5-2.5l2.5-4l3.5-2.5l3.5-3l2-4l2.5-4l2.5-4l2.5-2.5l2.5-5.5l2-3.5l2.5-3l2-4l2.5-3l2.5-5l2.5-3M706 181.5l3-2.5l3-3.5l3-3.5l3-2.5l2.5-3.5l2.5-4.5l1.5-4l3.5-4l2-3.5l2-3.5l2-4l2-3.5l3-4M709 173l1.5-3l4-3l2.5-4l2-4.5l3-3l1.5-4M765.5 226l5.5-1l6.5-0.5M754 223l7.5-0.5l7 0l5-1.5M750.5 220.5l7.5-0.5l6-0.5l6-1.5l6.5 0.5M739 216.5l7-0.5l7.5 0.5l7-0.5l6 0l6.5-1l6.5-1.5M728 212.5l7.5 0.5l7 1l6.5-0.5l8 0l6.5-0.5l6-0.5l6-1l5-2M718 210.5l6.5 0l6 0l8-0.5l6.5 0l8 0l6.5-1l5.5 0l6.5-1l6-1l5.5-1M708 209l6-0.5l5.5-1l7.5 0.5l7-1l7 0l7 0.5l7-1l7.5 0l6-2l5-1l6.5-1l6-1.5l4.5-1.5M710 206l6.5-1l7 0l6-0.5l8 0l7-0.5l6.5 0l6-1.5l6.5-1l6 0l6.5-1.5l5.5-1l5.5-1.5M707.5 204l5-2l7.5 0l6 0l6.5-1l7.5 0l7 0l6.5-2l6.5 0l6.5-1l6-1.5l6-0.5l5-1.5l6-0.5M709.5 200l6.5-0.5l7-1l6-0.5l7 0l7-0.5l6.5-1l7-1l6 0l6.5-1l5.5-1.5l5.5-0.5l6-2M706.5 199l5.5-1.5l6.5-1.5l7.5-0.5l6-0.5l7 0l7-1.5l6-1l6-1l6 0l6.5-1.5l5.5-1l5.5-1.5M709.5 195l6-0.5l6.5-1l7.5-1l5.5-0.5l7-0.5l6-1.5l7-0.5l5.5-1l5-2l6.5-0.5l6-1M706 193.5l6.5-1l6.5-1l6-1.5l7-0.5l6-0.5l6.5-1l6-2.5l6-0.5l5.5-2l6-0.5l6-1.5l7 0M708.5 189.5l6.5 0l7-1.5l6-1l7-1l6-1.5l6-1l6-0.5l6-2l5.5-1l5-1l6.5-0.5M706.5 187.5l5.5 0l7-1l5.5-1l7-2l5.5-0.5l6-2.5l6.5-0.5l5-1.5l5.5-2l6.5-1l6-1M709 185l6.5-1l6.5-1l6-1.5l5.5-1l6-2l6-1.5l5.5-1l5-1l6.5-1.5l6.5-1.5M706 181.5l5.5-0.5l7.5 0l5.5-1l5.5-2l6-1l6-1.5l6-2l5.5-1.5l5.5-1.5l5-1l7-1.5M709 179l6-0.5l6-1.5l6-1l6.5-1l5.5-2.5l5.5-1.5l5-1.5l5.5-2l5.5-1.5l7-0.5M712 175.5l6.5 0l5.5-2l5.5-1.5l5.5-1l6.5-2l4.5-2.5l5.5-1.5l6-1l6-1M709 173l6-1l5.5-0.5l6-2l6.5-0.5l5.5-1.5l4.5-2l5.5-2l6-1.5l4.5-1.5M710.5 170l7.5-0.5l5-2l6-1.5l5.5-1l6-1.5l4.5-1.5l6-2l5-1.5l6-1M714.5 167l6-1l5-2.5l6.5-0.5l5.5-2l5-2l4.5-1l6.5-2l5.5-1M717 163l6-1.5l5-0.5l5.5-2l5-2l5.5-1.5l6-1.5l5.5-1M719 158.5l5.5-1l6-2l5.5-0.5l6-1.5l5-2l6-0.5l5-2M722 155.5l6-2l4.5-1.5l6-1.5l6-1.5l4.5-1l6.5-1M723.5 151.5l6.5-1.5l5-1l5-1.5l6-1.5l5.5-1M732 146.5l5-1.5l6.5-1.5l5.5-0.5M734 142.5l5.5-0.5l6.5-1.5l5.5-0.5M736 139l6-2l6.5 0.5M739 135l5.5-1"/><path id="clip23w8p" d="M730.5 156l-1-4.5l-1-4.5M735.5 159l-1-4.5l-1-4l-1.5-5M739.5 161l-0.5-3.5l-1-4.5l-1-5l-1-4l-0.5-4M745.5 168.5l-1.5-4.5l-0.5-4l0-4.5l-2-4l-0.5-4.5l-1-3.5l-0.5-4.5M750.5 170.5l-1-3.5l-1-4.5l-1.5-4l-0.5-4.5l-0.5-3.5l-0.5-5l-1-4l-1-4l-0.5-4M758 179l-2-5l-1.5-5l-1.5-3.5l-1-4.5l-0.5-4.5l-1-4l-1-4l0-3l-1.5-4l0.5-5l-1-4M764 183l-2-5.5l-2-5l-1.5-4.5l-0.5-4.5l-1-3.5l-1-4.5l-1-3.5l-1-4.5l-0.5-3l-1-4.5l0-3.5l-1.5-4.5l0.5-4M771.5 192l-2.5-6l-1-4.5l-1.5-4.5l-2.5-5.5l-1.5-4l-0.5-4.5l-1.5-4l-1.5-4l0-4l-0.5-3.5l-1-4.5l-0.5-4l0-3.5l-1-4.5l-0.5-3.5M777 195.5l-2-5.5l-1.5-4l-2-6l-1-4l-1.5-5.5l-2.5-4.5l0-4l-1.5-4l-1-4l-0.5-5l-0.5-2.5l-1-4l-1-4.5l0-3.5l-1-3.5l0-4.5M784 204l-1-4.5l-2-5.5l-1-4.5l-1.5-4.5l-2.5-5.5l-1-4.5l-2-4.5l-1-5l-2-5l-1-4l-0.5-4l-1-3.5l-0.5-3.5l-0.5-4.5l-1-3.5l-0.5-3.5l0-3.5l-1-4M788 202.5l-1-4.5l-2-4.5l-1-5l-1.5-4.5l-2-6l-1.5-4.5l-2-4.5l-1-4.5l-1-4l-1-4l-1.5-4.5l-0.5-4.5l-0.5-4l-1-3l-0.5-4.5l-0.5-3l0-4.5l-1-3.5M790 196.5l-0.5-5l-2-3.5l-0.5-5.5l-1.5-4.5l-1.5-4.5l-1-4.5l-1.5-4.5l-2.5-5.5l-1-3.5l-1-4l0-4.5l-1-4l-1-3.5l-0.5-4l-0.5-4l0-4l-1.5-3.5M795 195l-2-4.5l-1-3.5l-1.5-4.5l-0.5-5l-1.5-4.5l-1.5-5l-1.5-5l-1-4l-1-4l-1-4.5l-1-4.5l-1-4l-0.5-4.5l-1-3l-0.5-4.5l-0.5-3.5l-1-4M798.5 195l-1-4.5l-0.5-4.5l-2-4.5l-0.5-4.5l-2-5.5l-1-4.5l-1.5-4.5l-1-4l-1-4l-0.5-4.5l-2-5l-0.5-4l-0.5-4l-2-3.5l0-4l0-4.5M802.5 193l-0.5-4l-0.5-4.5l-2-4l-0.5-4.5l-0.5-4l-1.5-5l-1.5-5l-1.5-4l-1.5-4.5l-0.5-4.5l-2-5l0-4l-1-4.5l-1.5-3.5l-0.5-4l-1-4.5M806 189l-1-5l-0.5-4l-0.5-4l-1-5.5l-1.5-3.5l-1-5.5l-1.5-4.5l-1.5-4.5l-1-5l-1.5-4l-0.5-5l-1.5-4l-1-4l-1-3.5l-0.5-4.5M810.5 192l-0.5-4l0-4.5l-1.5-5l0-4l-1.5-4.5l-0.5-4.5l-1.5-4.5l-1-4l-1.5-4.5l-1.5-5l-1.5-4.5l-1.5-4.5l-0.5-4.5l-1-4l-1-5M814.5 190.5l0-3l0-5l-1-4l-0.5-4l-0.5-4.5l-2-5l-0.5-4l-2-5.5l-1-4l-1.5-4.5l-0.5-5l-2-5l-1.5-4.5l-1-4l-1-4.5M818.5 186l0-4.5l-0.5-4.5l0-3.5l-2-4.5l-1-4.5l-0.5-4.5l-1-4.5l-1-5l-2.5-5.5l-0.5-4.5l-1.5-4.5l-2-4.5l-0.5-3.5l-0.5-5M818.5 159l-1-4.5l-1.5-5.5l-1.5-5l0-3.5l-2-5.5l-1.5-5l-0.5-3.5M819.5 143.5l-0.5-4.5l-2-5l-1.5-4l-1-4M784 204l4-1.5M783 199.5l4-1.5l3-1.5l5-1.5l3.5 0l4-2M810.5 192l4-1.5M777 195.5l4-1.5l4-0.5l4.5-2l3.5-1l4.5 0l4.5-1.5l4 0l4-1l4.5-0.5l4-1.5M771.5 192l3.5-2l5-0.5l4-1l3.5-0.5l4.5-1l5-1l4.5-1.5l3.5-0.5l5-0.5l4.5-1l4-1M769 186l4.5 0l5-1l4-1l4.5-1.5l3.5 0l4.5-1l4.5-1l5-0.5l4-1.5l5 0l4.5-1.5M764 183l4-1.5l3.5-1.5l4.5-0.5l4.5-1.5l5 0l4.5-0.5l4.5-0.5l4.5-1l5 0l4.5-1.5l4.5 0l5-1M758 179l4-1.5l4.5-0.5l4-1l4.5-1l4-1.5l5 0l4.5-0.5l4-1.5l6 0.5l4.5-1.5l4-0.5l5.5 0l3.5-1M756 174l4-1.5l4-1l5-1l4 0l4-1.5l6 0l4-1l4.5-1l5.5 0l4.5 0l5-1.5l4-0.5l4.5-0.5M750.5 170.5l4-1.5l4-1l4-0.5l4-1.5l5.5-0.5l4-1l5.5 0l4-1.5l4.5-0.5l5.5-0.5l5-0.5l4.5-0.5l5 0l4.5-1l4-1M745.5 168.5l4-1.5l3.5-1.5l5-2l4-0.5l4.5-1l3.5-1.5l5 0l4-1.5l5.5 0l4.5-0.5l5-0.5l5-1l5 0l4-1.5l5.5 0l4-1M744 164l4.5-1.5l3.5-1.5l5-1l3.5-1l4.5-1l4-1.5l5 0l4-1l5.5-0.5l4.5-0.5l4.5-1l5-1l5 0l4.5-1l5.5-1l3.5-1.5M739.5 161l4-1l3.5-1.5l4.5-2l4.5-1l3-0.5l5-1l4.5-1.5l4-0.5l4.5-0.5l5.5-1l5-0.5l4.5-1l4.5-1.5l4.5 0l4.5-0.5l4.5-2l4.5-1l5-0.5M735.5 159l3.5-1.5l4.5-2l3-1.5l4-1.5l4.5-0.5l4-1l4.5-2l4 0l4.5-1.5l5-0.5l4.5-1l4-1l4.5-1l5-0.5l4.5-0.5l5.5-1l4.5-1.5l5 0l4.5-1.5M730.5 156l4-1.5l3.5-1.5l3.5-1.5l4.5-1l3.5-2l4.5-1l4.5 0l4.5-1l4-1l4.5-2l4.5-0.5l4.5-1l4.5-1l5-1l4.5-1.5l3.5 0l5-1.5l5-1l4.5-1l4.5-1M729.5 151.5l4-1l3.5-2.5l4-1l4.5-1.5l4 0l4-1l4-1.5l4.5-0.5l4.5-1.5l4-0.5l4.5-1l5-2l4.5-0.5l4.5-1.5l4-1l4.5-0.5l4-1.5l4.5-1l5-1.5l4.5 0M728.5 147l3.5-1.5l4-1.5l4-0.5l4.5-2l3.5 0l4.5-1.5l4.5-1l4-1l4.5-0.5l4.5-1.5l4.5-0.5l4.5-1l3.5-1l5-1.5l4.5-1.5l4.5-0.5l4-1.5l5-0.5l5-1.5l4-0.5l4.5-1.5M735.5 140l4-1l4-1.5l5-1l4 0l4.5-1l4-1l4-0.5l4.5-1l4.5-1.5l4.5-1.5l4-0.5l4.5-1.5l4-1l4.5-2l4-1l5.5-1M743 133.5l4.5-1l3.5-0.5l5-1l4 0l5-0.5l4.5-2l4.5-1l4-1l4.5-1.5l3.5-1.5l4.5-1M751.5 128l4-0.5l4.5-1l4 0l4.5-1.5l4-1l4.5-1.5M771.5 192l5.5 3.5l6 4l5 3M758 179l6 4l5 3l6 4l6 4l6 4M745.5 168.5l5 2l5.5 3.5l6 3.5l6 4l5.5 4.5l6.5 3.5l5 4l5 3M730.5 156l5 3l4 2l4.5 3l5.5 3l5 2l5.5 3.5l6.5 4.5l5 3l7 5l5.5 3.5l5.5 3l5.5 3.5M729.5 151.5l5 3l4.5 3l4.5 2.5l5 2.5l4.5 3l5.5 2.5l5.5 3.5l6.5 4.5l5.5 3.5l6.5 4.5l5 4l5.5 2.5l5.5 4.5M728.5 147l5 3.5l4.5 2.5l5.5 2.5l3.5 3l5 2.5l6 2.5l4.5 4l6.5 3l6 4.5l5.5 3l6.5 4.5l5 4.5l5.5 3.5l5 2.5M732 145.5l5 2.5l4.5 3.5l5 2.5l5 2.5l5.5 3.5l5 3l4.5 3l6.5 4.5l6 3l6.5 4.5l5 4.5l6.5 3.5l5 3M736 144l5 3l5 3.5l4.5 2l5.5 3l4.5 3.5l6 3l5.5 3.5l5 3.5l7 4.5l6 4l5 4l6.5 3l4.5 4.5l4.5 3M735.5 140l4.5 3.5l5.5 2l4 3l5.5 3.5l4 3l6 3l5 2.5l6 4l7 4.5l5.5 4l6 4l5 3.5l5.5 3.5l5 4l4.5 2.5M739.5 139l5 2.5l5 4l4.5 2l5 3.5l5 3l5 2.5l6 4l6.5 4l5.5 3.5l5.5 3.5l6.5 4.5l5.5 4l5.5 3.5l4.5 4M743.5 137.5l4.5 4l5.5 3l5 3l5 1.5l5 3.5l5.5 4l5 2.5l6.5 4l6 4l7 5l5.5 4l4.5 2.5l6 4l4 3.5M743 133.5l5.5 3l4 3.5l5 3l5.5 3.5l4.5 2.5l5 3l5.5 3.5l6.5 3.5l5.5 3.5l7 4.5l6 3.5l5.5 4l5 4l5 3M747.5 132.5l5 4l4.5 2.5l5 3.5l5 3l5 2l5 4l6.5 3.5l5.5 3.5l6.5 3.5l6 5l5.5 3l6 4.5l5 2.5M751 132l6 3.5l4 2.5l5.5 3l5 2.5l5.5 3.5l5.5 3.5l5.5 4l6 3.5l6.5 3.5l6 4l6 4.5l5.5 3.5M751.5 128l4.5 3l5 3.5l4.5 3l5 3l5.5 2.5l5.5 3l6 4l5 3.5l6.5 3.5l6 4l5.5 4l5.5 4M755.5 127.5l4.5 3.5l5 3l5 2l5 3.5l5.5 2.5l5 3l6.5 4l5.5 3.5l6.5 4.5l6 4l5 3.5M760 126.5l5 4l4.5 2.5l5 2.5l5.5 2l5 3.5l5 3l6.5 3.5l6 5l5.5 3l6.5 4.5M764 126.5l5.5 2l4.5 3l5 3l5.5 2.5l5.5 3l5 3.5l6 4l6 4l6.5 4l5 3.5M768.5 125l5.5 2.5l4.5 2.5l4 3.5l6.5 2l5.5 3l5 4.5l6 4l7 3.5l5 4M772.5 124l5.5 2.5l4.5 3l5 2.5l5.5 2.5l5 4l7 3.5l5 3l6 4M777 122.5l5.5 2.5l4.5 3l5 2.5l5.5 3.5l5.5 3l6.5 3.5l5 3.5M786 123.5l5 3.5l5.5 3l5 2.5l6.5 3.5l6.5 4.5l5 3M790.5 122.5l5 2.5l5 3.5l5.5 3l6.5 3.5l6.5 4M799.5 124l6 4l5.5 2l6 4M805 123l5.5 3.5l5 3.5"/></defs>
<g clip-path="url(#clip23o)" fill="none"><g clip-path="url(#clip23w0)"><use href="#clip23w0p" stroke="#aeaeff" stroke-width="1.6"/><use href="#clip23w0p" stroke="#2e2eff" stroke-width="0.8"/></g><g clip-path="url(#clip23w1)"><use href="#clip23w1p" stroke="#aeaeff" stroke-width="1.6"/><use href="#clip23w1p" stroke="#2e2eff" stroke-width="0.8"/></g><g clip-path="url(#clip23w2)"><use href="#clip23w2p" stroke="#aeaeff" stroke-width="1.6"/><use href="#clip23w2p" stroke="#2e2eff" stroke-width="0.8"/></g><g clip-path="url(#clip23w3)"><use href="#clip23w3p" stroke="#aeaeff" stroke-width="1.6"/><use href="#clip23w3p" stroke="#2e2eff" stroke-width="0.8"/></g><g clip-path="url(#clip23w4)"><use href="#clip23w4p" stroke="#aeaeff" stroke-width="1.6"/><use href="#clip23w4p" stroke="#2e2eff" stroke-width="0.8"/></g><g clip-path="url(#clip23w5)"><use href="#clip23w5p" stroke="#aeaeff" stroke-width="1.6"/><use href="#clip23w5p" stroke="#2e2eff" stroke-width="0.8"/></g><g clip-path="url(#clip23w6)"><use href="#clip23w6p" stroke="#aeaeff" stroke-width="1.6"/><use href="#clip23w6p" stroke="#2e2eff" stroke-width="0.8"/></g><g clip-path="url(#clip23w7)"><use href="#clip23w7p" stroke="#aeaeff" stroke-width="1.6"/><use href="#clip23w7p" stroke="#2e2eff" stroke-width="0.8"/></g><g clip-path="url(#clip23w8)"><use href="#clip23w8p" stroke="#aeaeff" stroke-width="1.6"/><use href="#clip23w8p" stroke="#2e2eff" stroke-width="0.8"/></g></g>
<g fill="#fff" opacity="0.9"><ellipse cx="876.7" cy="223.2" rx="2.2" ry="1.5" transform="rotate(364 876.7 223.2)"/><ellipse cx="781.8" cy="155.6" rx="2.8" ry="1.5" transform="rotate(221 781.8 155.6)"/><ellipse cx="776.2" cy="291.4" rx="1.7" ry="1.8" transform="rotate(109 776.2 291.4)"/><ellipse cx="805.1" cy="303.0" rx="3.1" ry="1.7" transform="rotate(84 805.1 303.0)"/><ellipse cx="742.5" cy="300.4" rx="1.5" ry="1.2" transform="rotate(171 742.5 300.4)"/><ellipse cx="866.5" cy="186.9" rx="3.2" ry="1.3" transform="rotate(348 866.5 186.9)"/><ellipse cx="828.8" cy="164.7" rx="1.7" ry="1.9" transform="rotate(261 828.8 164.7)"/><ellipse cx="742.8" cy="236.0" rx="3.4" ry="1.1" transform="rotate(160 742.8 236.0)"/><ellipse cx="897.7" cy="180.1" rx="1.5" ry="1.0" transform="rotate(287 897.7 180.1)"/><ellipse cx="861.0" cy="180.2" rx="2.2" ry="1.2" transform="rotate(291 861.0 180.2)"/><ellipse cx="738.5" cy="230.9" rx="2.5" ry="1.8" transform="rotate(155 738.5 230.9)"/><ellipse cx="864.6" cy="190.9" rx="2.3" ry="1.0" transform="rotate(309 864.6 190.9)"/><ellipse cx="812.8" cy="322.6" rx="2.6" ry="1.7" transform="rotate(74 812.8 322.6)"/><ellipse cx="912.2" cy="270.0" rx="3.0" ry="1.7" transform="rotate(9 912.2 270.0)"/><ellipse cx="861.5" cy="309.7" rx="3.2" ry="1.5" transform="rotate(56 861.5 309.7)"/><ellipse cx="815.6" cy="292.7" rx="2.5" ry="1.3" transform="rotate(114 815.6 292.7)"/><ellipse cx="868.4" cy="169.9" rx="2.0" ry="1.2" transform="rotate(276 868.4 169.9)"/><ellipse cx="807.4" cy="331.9" rx="3.5" ry="0.9" transform="rotate(119 807.4 331.9)"/><ellipse cx="915.4" cy="266.8" rx="3.1" ry="1.1" transform="rotate(18 915.4 266.8)"/><ellipse cx="805.9" cy="312.2" rx="3.4" ry="1.1" transform="rotate(106 805.9 312.2)"/><ellipse cx="816.5" cy="336.1" rx="3.3" ry="1.3" transform="rotate(123 816.5 336.1)"/><ellipse cx="768.4" cy="259.8" rx="3.2" ry="1.4" transform="rotate(144 768.4 259.8)"/><ellipse cx="730.3" cy="297.0" rx="2.8" ry="1.4" transform="rotate(127 730.3 297.0)"/><ellipse cx="760.7" cy="202.5" rx="2.4" ry="1.8" transform="rotate(237 760.7 202.5)"/><ellipse cx="801.3" cy="305.2" rx="1.3" ry="1.2" transform="rotate(103 801.3 305.2)"/><ellipse cx="829.6" cy="335.1" rx="1.0" ry="1.6" transform="rotate(116 829.6 335.1)"/><ellipse cx="764.5" cy="291.3" rx="2.4" ry="1.2" transform="rotate(161 764.5 291.3)"/><ellipse cx="860.6" cy="184.6" rx="1.6" ry="1.6" transform="rotate(283 860.6 184.6)"/><ellipse cx="818.5" cy="314.0" rx="1.2" ry="1.6" transform="rotate(99 818.5 314.0)"/><ellipse cx="844.5" cy="184.5" rx="1.6" ry="1.8" transform="rotate(307 844.5 184.5)"/><ellipse cx="770.0" cy="181.5" rx="2.7" ry="1.4" transform="rotate(221 770.0 181.5)"/><ellipse cx="742.5" cy="245.5" rx="2.9" ry="2.0" transform="rotate(176 742.5 245.5)"/><ellipse cx="758.5" cy="248.3" rx="1.3" ry="1.6" transform="rotate(185 758.5 248.3)"/><ellipse cx="918.0" cy="213.5" rx="2.8" ry="1.3" transform="rotate(363 918.0 213.5)"/><ellipse cx="758.7" cy="290.1" rx="2.6" ry="0.9" transform="rotate(159 758.7 290.1)"/><ellipse cx="750.0" cy="280.5" rx="2.0" ry="1.4" transform="rotate(141 750.0 280.5)"/><ellipse cx="858.8" cy="302.6" rx="1.9" ry="1.9" transform="rotate(90 858.8 302.6)"/><ellipse cx="919.0" cy="205.1" rx="1.3" ry="1.7" transform="rotate(338 919.0 205.1)"/><ellipse cx="737.1" cy="214.0" rx="2.7" ry="1.6" transform="rotate(177 737.1 214.0)"/><ellipse cx="725.8" cy="199.8" rx="2.5" ry="1.9" transform="rotate(196 725.8 199.8)"/><ellipse cx="781.4" cy="333.8" rx="1.4" ry="1.7" transform="rotate(112 781.4 333.8)"/><ellipse cx="908.3" cy="177.3" rx="2.7" ry="1.0" transform="rotate(295 908.3 177.3)"/><ellipse cx="875.2" cy="225.8" rx="2.9" ry="1.7" transform="rotate(383 875.2 225.8)"/><ellipse cx="792.8" cy="302.2" rx="1.9" ry="1.9" transform="rotate(83 792.8 302.2)"/><ellipse cx="756.3" cy="162.0" rx="2.4" ry="2.0" transform="rotate(202 756.3 162.0)"/><ellipse cx="782.7" cy="331.4" rx="3.1" ry="1.5" transform="rotate(133 782.7 331.4)"/><ellipse cx="819.8" cy="312.5" rx="2.3" ry="1.7" transform="rotate(90 819.8 312.5)"/><ellipse cx="790.6" cy="303.9" rx="2.7" ry="1.8" transform="rotate(115 790.6 303.9)"/><ellipse cx="839.5" cy="294.1" rx="3.3" ry="1.5" transform="rotate(31 839.5 294.1)"/><ellipse cx="906.4" cy="196.9" rx="1.8" ry="1.5" transform="rotate(345 906.4 196.9)"/><ellipse cx="763.2" cy="304.3" rx="1.9" ry="1.0" transform="rotate(98 763.2 304.3)"/><ellipse cx="803.3" cy="336.6" rx="1.7" ry="1.1" transform="rotate(123 803.3 336.6)"/><ellipse cx="773.7" cy="160.6" rx="3.0" ry="1.2" transform="rotate(271 773.7 160.6)"/><ellipse cx="845.5" cy="335.6" rx="3.5" ry="1.0" transform="rotate(41 845.5 335.6)"/><ellipse cx="822.0" cy="137.3" rx="2.4" ry="1.3" transform="rotate(242 822.0 137.3)"/><ellipse cx="798.0" cy="289.9" rx="3.3" ry="1.7" transform="rotate(96 798.0 289.9)"/><ellipse cx="877.6" cy="240.5" rx="3.6" ry="1.7" transform="rotate(-32 877.6 240.5)"/><ellipse cx="818.3" cy="160.7" rx="2.8" ry="1.7" transform="rotate(286 818.3 160.7)"/><ellipse cx="851.4" cy="293.5" rx="1.2" ry="1.1" transform="rotate(32 851.4 293.5)"/><ellipse cx="753.5" cy="255.5" rx="2.4" ry="1.4" transform="rotate(142 753.5 255.5)"/><ellipse cx="716.0" cy="225.7" rx="1.4" ry="1.8" transform="rotate(158 716.0 225.7)"/><ellipse cx="732.8" cy="196.6" rx="1.5" ry="1.7" transform="rotate(236 732.8 196.6)"/><ellipse cx="879.9" cy="148.4" rx="1.9" ry="1.8" transform="rotate(284 879.9 148.4)"/><ellipse cx="744.3" cy="203.4" rx="2.0" ry="1.7" transform="rotate(193 744.3 203.4)"/><ellipse cx="841.5" cy="333.7" rx="3.4" ry="1.5" transform="rotate(110 841.5 333.7)"/><ellipse cx="898.0" cy="304.1" rx="1.6" ry="1.8" transform="rotate(44 898.0 304.1)"/><ellipse cx="879.2" cy="245.2" rx="2.6" ry="1.2" transform="rotate(26 879.2 245.2)"/><ellipse cx="720.2" cy="215.2" rx="2.0" ry="2.0" transform="rotate(164 720.2 215.2)"/><ellipse cx="914.2" cy="258.4" rx="3.2" ry="1.7" transform="rotate(8 914.2 258.4)"/><ellipse cx="834.5" cy="170.0" rx="2.6" ry="1.2" transform="rotate(274 834.5 170.0)"/><ellipse cx="841.7" cy="307.1" rx="2.1" ry="2.0" transform="rotate(88 841.7 307.1)"/><ellipse cx="711.8" cy="206.6" rx="3.5" ry="1.9" transform="rotate(164 711.8 206.6)"/><ellipse cx="839.0" cy="314.0" rx="2.4" ry="1.3" transform="rotate(45 839.0 314.0)"/><ellipse cx="723.8" cy="261.2" rx="1.6" ry="1.9" transform="rotate(126 723.8 261.2)"/><ellipse cx="815.3" cy="321.5" rx="1.2" ry="1.5" transform="rotate(76 815.3 321.5)"/><ellipse cx="771.9" cy="325.0" rx="2.7" ry="1.9" transform="rotate(83 771.9 325.0)"/><ellipse cx="732.7" cy="251.9" rx="1.5" ry="1.9" transform="rotate(205 732.7 251.9)"/><ellipse cx="858.6" cy="287.3" rx="2.3" ry="0.9" transform="rotate(38 858.6 287.3)"/><ellipse cx="838.8" cy="321.4" rx="3.4" ry="1.7" transform="rotate(68 838.8 321.4)"/><ellipse cx="762.8" cy="168.4" rx="1.5" ry="1.0" transform="rotate(256 762.8 168.4)"/><ellipse cx="840.9" cy="298.4" rx="2.8" ry="1.0" transform="rotate(55 840.9 298.4)"/><ellipse cx="756.9" cy="177.8" rx="1.7" ry="2.0" transform="rotate(212 756.9 177.8)"/><ellipse cx="733.8" cy="204.7" rx="1.1" ry="1.2" transform="rotate(229 733.8 204.7)"/><ellipse cx="740.2" cy="190.0" rx="1.7" ry="0.9" transform="rotate(201 740.2 190.0)"/><ellipse cx="904.3" cy="203.1" rx="1.4" ry="1.0" transform="rotate(302 904.3 203.1)"/><ellipse cx="889.8" cy="211.5" rx="1.9" ry="1.6" transform="rotate(301 889.8 211.5)"/><ellipse cx="795.1" cy="313.7" rx="1.7" ry="1.9" transform="rotate(77 795.1 313.7)"/><ellipse cx="764.6" cy="262.3" rx="3.3" ry="1.9" transform="rotate(159 764.6 262.3)"/><ellipse cx="730.7" cy="207.4" rx="1.6" ry="1.0" transform="rotate(235 730.7 207.4)"/><ellipse cx="765.5" cy="272.2" rx="2.7" ry="1.4" transform="rotate(114 765.5 272.2)"/><ellipse cx="715.2" cy="229.4" rx="2.5" ry="1.4" transform="rotate(189 715.2 229.4)"/><ellipse cx="781.8" cy="161.5" rx="2.1" ry="1.2" transform="rotate(224 781.8 161.5)"/><ellipse cx="873.6" cy="168.1" rx="1.8" ry="1.3" transform="rotate(287 873.6 168.1)"/><ellipse cx="731.5" cy="180.3" rx="2.0" ry="1.5" transform="rotate(217 731.5 180.3)"/><ellipse cx="840.9" cy="146.6" rx="2.6" ry="1.2" transform="rotate(292 840.9 146.6)"/><ellipse cx="878.7" cy="264.7" rx="1.5" ry="1.2" transform="rotate(37 878.7 264.7)"/><ellipse cx="860.1" cy="161.2" rx="1.8" ry="0.9" transform="rotate(313 860.1 161.2)"/><ellipse cx="868.3" cy="268.8" rx="2.9" ry="1.4" transform="rotate(45 868.3 268.8)"/><ellipse cx="895.7" cy="229.0" rx="2.7" ry="1.5" transform="rotate(378 895.7 229.0)"/><ellipse cx="864.8" cy="164.6" rx="2.3" ry="1.0" transform="rotate(310 864.8 164.6)"/><ellipse cx="823.1" cy="140.9" rx="1.8" ry="1.3" transform="rotate(279 823.1 140.9)"/><ellipse cx="785.9" cy="193.5" rx="1.6" ry="1.2" transform="rotate(236 785.9 193.5)"/><ellipse cx="907.2" cy="203.0" rx="1.9" ry="1.8" transform="rotate(313 907.2 203.0)"/><ellipse cx="767.3" cy="198.8" rx="3.0" ry="1.9" transform="rotate(209 767.3 198.8)"/><ellipse cx="799.4" cy="148.2" rx="2.4" ry="1.1" transform="rotate(250 799.4 148.2)"/><ellipse cx="808.1" cy="294.5" rx="3.2" ry="1.2" transform="rotate(103 808.1 294.5)"/><ellipse cx="833.9" cy="155.5" rx="3.3" ry="1.4" transform="rotate(266 833.9 155.5)"/><ellipse cx="719.4" cy="253.3" rx="3.4" ry="1.9" transform="rotate(154 719.4 253.3)"/><ellipse cx="919.7" cy="247.8" rx="3.4" ry="1.7" transform="rotate(-29 919.7 247.8)"/><ellipse cx="799.6" cy="165.5" rx="1.5" ry="1.2" transform="rotate(283 799.6 165.5)"/><ellipse cx="887.5" cy="246.4" rx="1.7" ry="1.0" transform="rotate(42 887.5 246.4)"/><ellipse cx="763.2" cy="258.0" rx="3.4" ry="1.2" transform="rotate(137 763.2 258.0)"/><ellipse cx="908.0" cy="206.1" rx="3.6" ry="1.3" transform="rotate(302 908.0 206.1)"/><ellipse cx="747.6" cy="311.6" rx="3.2" ry="1.4" transform="rotate(139 747.6 311.6)"/><ellipse cx="861.4" cy="159.1" rx="2.3" ry="0.9" transform="rotate(275 861.4 159.1)"/><ellipse cx="758.2" cy="179.8" rx="3.6" ry="1.1" transform="rotate(227 758.2 179.8)"/><ellipse cx="740.5" cy="234.6" rx="3.5" ry="1.9" transform="rotate(148 740.5 234.6)"/><ellipse cx="765.3" cy="186.2" rx="2.6" ry="1.0" transform="rotate(231 765.3 186.2)"/><ellipse cx="870.2" cy="326.3" rx="2.4" ry="1.9" transform="rotate(97 870.2 326.3)"/><ellipse cx="746.9" cy="270.5" rx="3.1" ry="1.3" transform="rotate(133 746.9 270.5)"/><ellipse cx="779.1" cy="200.2" rx="1.7" ry="1.1" transform="rotate(216 779.1 200.2)"/><ellipse cx="851.7" cy="195.6" rx="1.7" ry="1.2" transform="rotate(303 851.7 195.6)"/><ellipse cx="783.1" cy="171.3" rx="1.4" ry="1.0" transform="rotate(232 783.1 171.3)"/><ellipse cx="737.3" cy="234.1" rx="3.5" ry="1.9" transform="rotate(153 737.3 234.1)"/><ellipse cx="766.6" cy="217.1" rx="1.3" ry="1.9" transform="rotate(173 766.6 217.1)"/><ellipse cx="795.5" cy="141.5" rx="2.3" ry="1.8" transform="rotate(255 795.5 141.5)"/><ellipse cx="821.1" cy="334.7" rx="2.8" ry="1.0" transform="rotate(71 821.1 334.7)"/><ellipse cx="769.5" cy="262.9" rx="1.8" ry="1.2" transform="rotate(145 769.5 262.9)"/><ellipse cx="810.1" cy="328.1" rx="2.6" ry="1.0" transform="rotate(61 810.1 328.1)"/><ellipse cx="832.3" cy="158.2" rx="1.4" ry="1.5" transform="rotate(286 832.3 158.2)"/><ellipse cx="858.0" cy="180.7" rx="2.8" ry="1.4" transform="rotate(293 858.0 180.7)"/><ellipse cx="926.7" cy="238.2" rx="2.0" ry="1.0" transform="rotate(40 926.7 238.2)"/><ellipse cx="879.1" cy="240.1" rx="3.1" ry="1.7" transform="rotate(28 879.1 240.1)"/><ellipse cx="760.3" cy="251.4" rx="2.9" ry="1.7" transform="rotate(204 760.3 251.4)"/><ellipse cx="871.9" cy="256.2" rx="1.1" ry="1.9" transform="rotate(-7 871.9 256.2)"/><ellipse cx="826.2" cy="297.6" rx="1.0" ry="1.1" transform="rotate(85 826.2 297.6)"/><ellipse cx="883.7" cy="300.8" rx="1.6" ry="1.7" transform="rotate(82 883.7 300.8)"/><ellipse cx="791.5" cy="180.2" rx="3.5" ry="1.6" transform="rotate(233 791.5 180.2)"/><ellipse cx="893.9" cy="169.1" rx="3.5" ry="1.8" transform="rotate(287 893.9 169.1)"/><ellipse cx="775.5" cy="137.4" rx="1.8" ry="1.2" transform="rotate(260 775.5 137.4)"/><ellipse cx="853.2" cy="198.7" rx="1.2" ry="1.8" transform="rotate(328 853.2 198.7)"/><ellipse cx="746.9" cy="155.1" rx="2.9" ry="1.4" transform="rotate(239 746.9 155.1)"/><ellipse cx="836.0" cy="291.6" rx="2.3" ry="1.2" transform="rotate(99 836.0 291.6)"/><ellipse cx="804.2" cy="182.6" rx="2.2" ry="1.3" transform="rotate(277 804.2 182.6)"/><ellipse cx="756.4" cy="230.5" rx="2.9" ry="1.4" transform="rotate(157 756.4 230.5)"/><ellipse cx="890.1" cy="290.2" rx="3.0" ry="1.0" transform="rotate(37 890.1 290.2)"/><ellipse cx="866.6" cy="274.6" rx="1.3" ry="1.6" transform="rotate(44 866.6 274.6)"/><ellipse cx="744.9" cy="263.0" rx="3.3" ry="2.0" transform="rotate(127 744.9 263.0)"/><ellipse cx="920.0" cy="254.8" rx="1.4" ry="1.0" transform="rotate(14 920.0 254.8)"/><ellipse cx="751.0" cy="292.6" rx="2.4" ry="1.1" transform="rotate(162 751.0 292.6)"/><ellipse cx="739.0" cy="257.3" rx="3.0" ry="1.9" transform="rotate(164 739.0 257.3)"/><ellipse cx="870.0" cy="276.8" rx="1.5" ry="1.3" transform="rotate(65 870.0 276.8)"/><ellipse cx="745.2" cy="220.5" rx="3.5" ry="1.2" transform="rotate(189 745.2 220.5)"/><ellipse cx="789.9" cy="287.4" rx="3.0" ry="1.0" transform="rotate(120 789.9 287.4)"/><ellipse cx="860.2" cy="205.3" rx="2.3" ry="1.7" transform="rotate(331 860.2 205.3)"/><ellipse cx="763.1" cy="212.1" rx="2.3" ry="1.2" transform="rotate(202 763.1 212.1)"/><ellipse cx="863.2" cy="271.8" rx="2.7" ry="0.9" transform="rotate(14 863.2 271.8)"/><ellipse cx="890.0" cy="268.0" rx="1.6" ry="1.4" transform="rotate(-2 890.0 268.0)"/><ellipse cx="762.9" cy="271.3" rx="1.4" ry="1.9" transform="rotate(167 762.9 271.3)"/><ellipse cx="741.9" cy="196.7" rx="3.6" ry="1.3" transform="rotate(200 741.9 196.7)"/><ellipse cx="743.7" cy="239.5" rx="2.3" ry="1.6" transform="rotate(139 743.7 239.5)"/><ellipse cx="758.7" cy="234.7" rx="1.1" ry="1.9" transform="rotate(172 758.7 234.7)"/><ellipse cx="900.0" cy="199.1" rx="2.6" ry="1.9" transform="rotate(308 900.0 199.1)"/><ellipse cx="764.7" cy="311.8" rx="2.8" ry="0.9" transform="rotate(135 764.7 311.8)"/><ellipse cx="864.8" cy="268.8" rx="1.0" ry="1.1" transform="rotate(36 864.8 268.8)"/><ellipse cx="890.1" cy="261.2" rx="2.8" ry="1.9" transform="rotate(57 890.1 261.2)"/><ellipse cx="904.3" cy="293.5" rx="3.3" ry="0.9" transform="rotate(-5 904.3 293.5)"/><ellipse cx="713.6" cy="242.9" rx="3.4" ry="1.9" transform="rotate(202 713.6 242.9)"/><ellipse cx="758.7" cy="229.1" rx="1.6" ry="1.3" transform="rotate(180 758.7 229.1)"/><ellipse cx="758.5" cy="158.1" rx="1.0" ry="1.3" transform="rotate(216 758.5 158.1)"/><ellipse cx="803.7" cy="293.8" rx="3.0" ry="1.6" transform="rotate(110 803.7 293.8)"/><ellipse cx="781.7" cy="302.7" rx="1.1" ry="1.6" transform="rotate(83 781.7 302.7)"/><ellipse cx="766.2" cy="171.9" rx="2.5" ry="1.6" transform="rotate(215 766.2 171.9)"/><ellipse cx="803.9" cy="157.7" rx="2.2" ry="1.2" transform="rotate(257 803.9 157.7)"/><ellipse cx="860.2" cy="193.3" rx="2.8" ry="1.4" transform="rotate(345 860.2 193.3)"/><ellipse cx="875.7" cy="291.6" rx="3.6" ry="1.2" transform="rotate(61 875.7 291.6)"/><ellipse cx="830.0" cy="305.7" rx="1.1" ry="1.5" transform="rotate(48 830.0 305.7)"/><ellipse cx="842.4" cy="332.7" rx="2.3" ry="1.2" transform="rotate(90 842.4 332.7)"/><ellipse cx="829.0" cy="339.0" rx="1.8" ry="1.5" transform="rotate(91 829.0 339.0)"/><ellipse cx="764.8" cy="161.0" rx="1.8" ry="1.4" transform="rotate(247 764.8 161.0)"/><ellipse cx="868.0" cy="223.7" rx="1.5" ry="2.0" transform="rotate(309 868.0 223.7)"/><ellipse cx="740.8" cy="162.3" rx="2.6" ry="1.1" transform="rotate(196 740.8 162.3)"/><ellipse cx="745.1" cy="283.8" rx="2.2" ry="1.1" transform="rotate(122 745.1 283.8)"/><ellipse cx="838.9" cy="329.0" rx="1.6" ry="1.8" transform="rotate(73 838.9 329.0)"/><ellipse cx="921.3" cy="213.4" rx="3.0" ry="1.7" transform="rotate(320 921.3 213.4)"/><ellipse cx="838.9" cy="305.7" rx="1.3" ry="1.7" transform="rotate(93 838.9 305.7)"/><ellipse cx="845.3" cy="293.7" rx="2.7" ry="1.6" transform="rotate(64 845.3 293.7)"/><ellipse cx="737.0" cy="283.6" rx="3.6" ry="1.3" transform="rotate(185 737.0 283.6)"/><ellipse cx="775.3" cy="329.2" rx="2.7" ry="1.7" transform="rotate(96 775.3 329.2)"/><ellipse cx="775.5" cy="320.6" rx="2.2" ry="1.3" transform="rotate(128 775.5 320.6)"/><ellipse cx="814.9" cy="230.7" rx="2.2" ry="1.8" transform="rotate(70 814.9 230.7)"/><ellipse cx="834.4" cy="251.7" rx="3.1" ry="2.0" transform="rotate(153 834.4 251.7)"/><ellipse cx="821.1" cy="257.8" rx="2.6" ry="1.1" transform="rotate(32 821.1 257.8)"/><ellipse cx="821.5" cy="266.9" rx="2.2" ry="1.2" transform="rotate(47 821.5 266.9)"/><ellipse cx="801.2" cy="203.2" rx="1.8" ry="1.0" transform="rotate(165 801.2 203.2)"/><ellipse cx="853.2" cy="214.0" rx="1.5" ry="1.2" transform="rotate(124 853.2 214.0)"/><ellipse cx="847.9" cy="252.0" rx="2.6" ry="1.5" transform="rotate(24 847.9 252.0)"/><ellipse cx="826.1" cy="194.7" rx="2.7" ry="1.7" transform="rotate(13 826.1 194.7)"/><ellipse cx="814.0" cy="229.8" rx="2.2" ry="1.8" transform="rotate(73 814.0 229.8)"/><ellipse cx="800.8" cy="282.6" rx="2.1" ry="1.3" transform="rotate(111 800.8 282.6)"/><ellipse cx="801.1" cy="252.5" rx="2.3" ry="1.3" transform="rotate(115 801.1 252.5)"/><ellipse cx="806.9" cy="257.0" rx="3.0" ry="1.1" transform="rotate(21 806.9 257.0)"/><ellipse cx="805.5" cy="265.8" rx="2.6" ry="1.6" transform="rotate(65 805.5 265.8)"/><ellipse cx="780.5" cy="251.6" rx="3.1" ry="1.1" transform="rotate(165 780.5 251.6)"/><ellipse cx="834.9" cy="235.8" rx="2.3" ry="1.5" transform="rotate(141 834.9 235.8)"/><ellipse cx="819.9" cy="230.8" rx="3.2" ry="1.6" transform="rotate(174 819.9 230.8)"/><ellipse cx="822.8" cy="242.1" rx="3.2" ry="1.3" transform="rotate(68 822.8 242.1)"/><ellipse cx="813.7" cy="234.9" rx="1.8" ry="1.8" transform="rotate(13 813.7 234.9)"/><ellipse cx="811.0" cy="256.2" rx="3.5" ry="1.5" transform="rotate(50 811.0 256.2)"/><ellipse cx="816.8" cy="239.1" rx="3.0" ry="1.3" transform="rotate(17 816.8 239.1)"/><ellipse cx="833.5" cy="215.3" rx="3.4" ry="1.9" transform="rotate(84 833.5 215.3)"/><ellipse cx="797.9" cy="267.1" rx="2.5" ry="1.3" transform="rotate(47 797.9 267.1)"/><ellipse cx="843.6" cy="268.5" rx="2.5" ry="1.8" transform="rotate(29 843.6 268.5)"/><ellipse cx="812.5" cy="223.6" rx="2.7" ry="1.0" transform="rotate(128 812.5 223.6)"/><ellipse cx="786.5" cy="214.2" rx="2.1" ry="1.5" transform="rotate(95 786.5 214.2)"/></g>
<g fill="#1818d8"><circle cx="851.9" cy="236.4" r="1.6"/><circle cx="844.5" cy="223.1" r="1.1"/><circle cx="784.4" cy="213.5" r="1.6"/><circle cx="769.5" cy="145.3" r="1.3"/><circle cx="848.4" cy="228.9" r="0.9"/><circle cx="885.4" cy="294.6" r="1.6"/><circle cx="838.0" cy="252.2" r="0.9"/><circle cx="899.8" cy="259.9" r="1.6"/><circle cx="900.0" cy="240.6" r="1.7"/><circle cx="793.6" cy="299.1" r="0.9"/><circle cx="894.9" cy="230.6" r="1.6"/><circle cx="901.9" cy="193.6" r="1.7"/><circle cx="832.2" cy="217.6" r="0.9"/><circle cx="876.4" cy="207.7" r="1.5"/><circle cx="828.1" cy="218.2" r="0.9"/><circle cx="849.1" cy="183.0" r="1.2"/><circle cx="859.4" cy="159.0" r="1.2"/><circle cx="784.2" cy="222.4" r="1.1"/><circle cx="878.3" cy="255.4" r="1.7"/><circle cx="826.4" cy="206.3" r="1.5"/><circle cx="766.6" cy="249.8" r="1.6"/><circle cx="820.0" cy="284.1" r="1.5"/><circle cx="771.6" cy="222.0" r="1.0"/><circle cx="849.4" cy="262.0" r="1.7"/><circle cx="800.3" cy="280.2" r="1.7"/><circle cx="910.3" cy="213.9" r="1.2"/><circle cx="836.0" cy="246.0" r="1.1"/><circle cx="789.7" cy="196.5" r="0.9"/><circle cx="785.3" cy="182.1" r="1.6"/><circle cx="766.0" cy="301.5" r="1.7"/></g>
</g></g>
<rect x="623.3" y="45.0" width="391.5" height="390.5" fill="none" stroke="#707070" stroke-width="1.7"/>
<path d="M646.8 435.5v-4.5M646.8 45.0v4.5M623.3 412.0h4.5M1014.8 412.0h-4.5M732.8 435.5v-4.5M732.8 45.0v4.5M623.3 326.0h4.5M1014.8 326.0h-4.5M818.8 435.5v-4.5M818.8 45.0v4.5M623.3 240.0h4.5M1014.8 240.0h-4.5M904.8 435.5v-4.5M904.8 45.0v4.5M623.3 154.0h4.5M1014.8 154.0h-4.5M990.8 435.5v-4.5M990.8 45.0v4.5M623.3 68.0h4.5M1014.8 68.0h-4.5" stroke="#707070" stroke-width="1.7" fill="none"/>
<text transform="translate(580.14,78.13) scale(1.0683,1)" font-size="27.04" fill="#363636" stroke="#fff" stroke-width="0.30">0.3</text>
<text transform="translate(564.66,163.04) scale(1.0732,1)" font-size="26.48" fill="#363636" stroke="#fff" stroke-width="0.29">0.15</text>
<text transform="translate(604.27,249.63) scale(1.0487,1)" font-size="26.90" fill="#363636" stroke="#fff" stroke-width="0.30">0</text>
<text transform="translate(555.84,335.74) scale(1.0599,1)" font-size="26.48" fill="#363636" stroke="#fff" stroke-width="0.29">-0.15</text>
<text transform="translate(570.61,421.44) scale(1.0925,1)" font-size="26.34" fill="#363636" stroke="#fff" stroke-width="0.29">-0.3</text>
<text transform="translate(618.61,463.84) scale(1.0820,1)" font-size="26.48" fill="#363636" stroke="#fff" stroke-width="0.29">-0.3</text>
<text transform="translate(695.93,463.84) scale(1.0667,1)" font-size="26.48" fill="#363636" stroke="#fff" stroke-width="0.29">-0.15</text>
<text transform="translate(810.92,463.84) scale(1.1131,1)" font-size="26.48" fill="#363636" stroke="#fff" stroke-width="0.29">0</text>
<text transform="translate(878.38,463.84) scale(1.0611,1)" font-size="26.48" fill="#363636" stroke="#fff" stroke-width="0.29">0.15</text>
<text transform="translate(970.15,463.84) scale(1.0881,1)" font-size="26.48" fill="#363636" stroke="#fff" stroke-width="0.29">0.3</text>
<text transform="translate(704.70,493.21) scale(0.9293,1)" font-size="29.95" fill="#363636" stroke="#fff" stroke-width="0.33">X-Coordinate [µm]</text>
<text transform="translate(543.30,353.00) rotate(-90) scale(0.9864,1)" font-size="28.56" fill="#363636" stroke="#fff" stroke-width="0.31">Y-Coordinate [µm]</text>
<text transform="translate(646.37,100.43) scale(1.0480,1)" font-size="26.94" fill="#363636" stroke="#fff" stroke-width="0.30">a/D</text>
<text transform="translate(690.14,113.91) scale(1.1211,1)" font-size="19.15" fill="#363636" stroke="#fff" stroke-width="0.21">0</text>
<text transform="translate(701.90,100.43) scale(1.0323,1)" font-size="27.04" fill="#363636" stroke="#fff" stroke-width="0.30">=0.4</text>
<text transform="translate(154.81,386.54) scale(0.9572,1)" font-size="36.47" fill="#111" stroke="#111" stroke-width="0.05">(a)</text>
<text transform="translate(671.82,382.75) scale(1.0094,1)" font-size="35.94" fill="#111" stroke="#111" stroke-width="0.05">(b)</text>
<rect x="6" y="6.2" width="1019.4" height="498.8" fill="none" stroke="#000" stroke-width="4"/>
<line x1="516.4" y1="6" x2="516.4" y2="505" stroke="#000" stroke-width="4"/>
<rect x="176.4" y="536.8" width="751.8000000000001" height="630.2" fill="none" stroke="#2e2e2e" stroke-width="2.1"/>
<path d="M176.4 1167.0v-8M176.4 536.8v8M312.8 1167.0v-8M312.8 536.8v8M449.2 1167.0v-8M449.2 536.8v8M585.6 1167.0v-8M585.6 536.8v8M722.0 1167.0v-8M722.0 536.8v8M858.4 1167.0v-8M858.4 536.8v8M176.4 1167.0h8M928.2 1167.0h-8M176.4 1041.0h8M928.2 1041.0h-8M176.4 915.0h8M928.2 915.0h-8M176.4 789.0h8M928.2 789.0h-8M176.4 663.0h8M928.2 663.0h-8M176.4 537.0h8M928.2 537.0h-8" stroke="#2e2e2e" stroke-width="2.1" fill="none"/>
<text transform="translate(98.26,548.78) scale(1.1270,1)" font-size="31.97" fill="#141414" stroke="#fff" stroke-width="0.35">0.25</text>
<text transform="translate(118.76,674.17) scale(1.1041,1)" font-size="32.54" fill="#141414" stroke="#fff" stroke-width="0.36">0.2</text>
<text transform="translate(97.64,801.37) scale(1.0985,1)" font-size="33.24" fill="#141414" stroke="#fff" stroke-width="0.37">0.15</text>
<text transform="translate(118.39,926.87) scale(0.9825,1)" font-size="33.38" fill="#141414" stroke="#fff" stroke-width="0.37">0.1</text>
<text transform="translate(98.27,1053.28) scale(1.1252,1)" font-size="31.83" fill="#141414" stroke="#fff" stroke-width="0.35">0.05</text>
<text transform="translate(149.59,1180.17) scale(1.0051,1)" font-size="32.68" fill="#141414" stroke="#fff" stroke-width="0.36">0</text>
<text transform="translate(166.59,1205.78) scale(1.0227,1)" font-size="32.11" fill="#141414" stroke="#fff" stroke-width="0.35">0</text>
<text transform="translate(286.49,1205.78) scale(1.0237,1)" font-size="32.11" fill="#141414" stroke="#fff" stroke-width="0.35">0.1</text>
<text transform="translate(423.02,1205.78) scale(1.1498,1)" font-size="32.11" fill="#141414" stroke="#fff" stroke-width="0.35">0.2</text>
<text transform="translate(560.76,1205.78) scale(1.1191,1)" font-size="32.11" fill="#141414" stroke="#fff" stroke-width="0.35">0.3</text>
<text transform="translate(696.12,1205.78) scale(1.0710,1)" font-size="32.11" fill="#141414" stroke="#fff" stroke-width="0.35">0.4</text>
<text transform="translate(833.37,1205.78) scale(1.1149,1)" font-size="32.11" fill="#141414" stroke="#fff" stroke-width="0.35">0.5</text>
<polyline points="175.6,854.7 245.7,849 314.8,851 383.8,854.7 453.6,838.8 523.2,836.9 594.4,814 663.9,815.8 732.8,808.8 802.2,819.9 871.3,817" fill="none" stroke="#000" stroke-width="3"/>
<rect x="167.5" y="846.6" width="16.2" height="16.2" fill="none" stroke="#000" stroke-width="2.6"/>
<rect x="237.6" y="840.9" width="16.2" height="16.2" fill="none" stroke="#000" stroke-width="2.6"/>
<rect x="306.7" y="842.9" width="16.2" height="16.2" fill="none" stroke="#000" stroke-width="2.6"/>
<rect x="375.7" y="846.6" width="16.2" height="16.2" fill="none" stroke="#000" stroke-width="2.6"/>
<rect x="445.5" y="830.7" width="16.2" height="16.2" fill="none" stroke="#000" stroke-width="2.6"/>
<rect x="515.1" y="828.8" width="16.2" height="16.2" fill="none" stroke="#000" stroke-width="2.6"/>
<rect x="586.3" y="805.9" width="16.2" height="16.2" fill="none" stroke="#000" stroke-width="2.6"/>
<rect x="655.8" y="807.7" width="16.2" height="16.2" fill="none" stroke="#000" stroke-width="2.6"/>
<rect x="724.7" y="800.7" width="16.2" height="16.2" fill="none" stroke="#000" stroke-width="2.6"/>
<rect x="794.1" y="811.8" width="16.2" height="16.2" fill="none" stroke="#000" stroke-width="2.6"/>
<rect x="863.2" y="808.9" width="16.2" height="16.2" fill="none" stroke="#000" stroke-width="2.6"/>
<polyline points="175.6,604.3 245.7,610.6 314.8,611.7 383.8,620.6 453.6,607 523.2,591.4 594.4,629 663.9,597 732.8,591 802.2,591 871.3,612.5" fill="none" stroke="#f00" stroke-width="2.8"/>
<polygon points="185.4,608.4 179.7,614.1 171.5,614.1 165.8,608.4 165.8,600.2 171.5,594.5 179.7,594.5 185.4,600.2" fill="none" stroke="#f00" stroke-width="2.4"/>
<polygon points="255.5,614.7 249.8,620.4 241.6,620.4 235.9,614.7 235.9,606.5 241.6,600.8 249.8,600.8 255.5,606.5" fill="none" stroke="#f00" stroke-width="2.4"/>
<polygon points="324.6,615.8 318.9,621.5 310.7,621.5 305.0,615.8 305.0,607.6 310.7,601.9 318.9,601.9 324.6,607.6" fill="none" stroke="#f00" stroke-width="2.4"/>
<polygon points="393.6,624.7 387.9,630.4 379.7,630.4 374.0,624.7 374.0,616.5 379.7,610.8 387.9,610.8 393.6,616.5" fill="none" stroke="#f00" stroke-width="2.4"/>
<polygon points="463.4,611.1 457.7,616.8 449.5,616.8 443.8,611.1 443.8,602.9 449.5,597.2 457.7,597.2 463.4,602.9" fill="none" stroke="#f00" stroke-width="2.4"/>
<polygon points="533.0,595.5 527.3,601.2 519.1,601.2 513.4,595.5 513.4,587.3 519.1,581.6 527.3,581.6 533.0,587.3" fill="none" stroke="#f00" stroke-width="2.4"/>
<polygon points="604.2,633.1 598.5,638.8 590.3,638.8 584.6,633.1 584.6,624.9 590.3,619.2 598.5,619.2 604.2,624.9" fill="none" stroke="#f00" stroke-width="2.4"/>
<polygon points="673.7,601.1 668.0,606.8 659.8,606.8 654.1,601.1 654.1,592.9 659.8,587.2 668.0,587.2 673.7,592.9" fill="none" stroke="#f00" stroke-width="2.4"/>
<polygon points="742.6,595.1 736.9,600.8 728.7,600.8 723.0,595.1 723.0,586.9 728.7,581.2 736.9,581.2 742.6,586.9" fill="none" stroke="#f00" stroke-width="2.4"/>
<polygon points="812.0,595.1 806.3,600.8 798.1,600.8 792.4,595.1 792.4,586.9 798.1,581.2 806.3,581.2 812.0,586.9" fill="none" stroke="#f00" stroke-width="2.4"/>
<polygon points="881.1,616.6 875.4,622.3 867.2,622.3 861.5,616.6 861.5,608.4 867.2,602.7 875.4,602.7 881.1,608.4" fill="none" stroke="#f00" stroke-width="2.4"/>
<rect x="187.6" y="1058.8" width="447.2" height="99.8" fill="#fff" stroke="#3a3a3a" stroke-width="1.9"/>
<path d="M201.2 1083.8H269.3" stroke="#000" stroke-width="2.4"/>
<rect x="227.3" y="1077.2" width="15.6" height="15.6" fill="none" stroke="#000" stroke-width="2.6"/>
<path d="M201.2 1130.5H269.3" stroke="#f00" stroke-width="2.4"/>
<polygon points="245.5,1134.8 239.9,1140.4 232.1,1140.4 226.5,1134.8 226.5,1127.0 232.1,1121.4 239.9,1121.4 245.5,1127.0" fill="none" stroke="#f00" stroke-width="2.4"/>
<text transform="translate(273.84,1097.76) scale(1.0731,1)" font-size="34.42" fill="#141414" stroke="#fff" stroke-width="0.38">Lithiation</text>
<text transform="translate(273.87,1146.66) scale(1.0804,1)" font-size="33.88" fill="#141414" stroke="#fff" stroke-width="0.37">Lithiation+Delithiation</text>
<text transform="translate(681.47,968.30) scale(1.0319,1)" font-size="35.51" fill="#141414" stroke="#fff" stroke-width="0.39">D</text>
<text transform="translate(710.10,988.45) scale(1.2284,1)" font-size="24.51" fill="#141414" stroke="#fff" stroke-width="0.27">0</text>
<text transform="translate(725.51,967.94) scale(1.1015,1)" font-size="36.06" fill="#141414" stroke="#fff" stroke-width="0.40">=300nm</text>
<text transform="translate(680.63,1071.78) scale(1.3068,1)" font-size="31.97" fill="#141414" stroke="#fff" stroke-width="0.35">Ω.c</text>
<text transform="translate(742.38,1091.89) scale(0.9481,1)" font-size="31.09" fill="#141414" stroke="#fff" stroke-width="0.34">max</text>
<text transform="translate(798.85,1071.75) scale(1.1710,1)" font-size="34.93" fill="#141414" stroke="#fff" stroke-width="0.38">=0.8</text>
<text transform="translate(250.00,738.31) scale(0.9662,1)" font-size="36.15" fill="#111" stroke="#111" stroke-width="0.05">(c)</text>
<text transform="translate(184.23,1253.11) scale(1.0059,1)" font-size="45.67" fill="#141414" stroke="#fff" stroke-width="0.50">Normalized Pre-crack Length (a/D</text>
<text transform="translate(881.24,1274.10) scale(1.0380,1)" font-size="30.42" fill="#141414" stroke="#fff" stroke-width="0.33">0</text>
<text transform="translate(904.18,1253.11) scale(0.7074,1)" font-size="45.67" fill="#141414" stroke="#fff" stroke-width="0.50">)</text>
<text transform="translate(58.80,1098.02) rotate(-90) scale(1.0051,1)" font-size="46.20" fill="#141414" stroke="#fff" stroke-width="0.51">Microcrack Density (f</text>
<text transform="translate(78.17,664.21) rotate(-90) scale(1.0422,1)" font-size="32.65" fill="#141414" stroke="#fff" stroke-width="0.36">bb</text>
<text transform="translate(58.80,626.06) rotate(-90) scale(1.2070,1)" font-size="46.20" fill="#141414" stroke="#fff" stroke-width="0.51">)</text>
<g opacity="0.49" stroke="#ff0a0a" fill="none"><path d="M448.5 597L364.5 366" stroke-width="22" stroke-linecap="butt"/><path d="M348.9 441.6L361.9 363.5L424.8 411.5" stroke-width="21.5" stroke-linecap="round" stroke-linejoin="miter" stroke-miterlimit="10"/></g>
<g opacity="0.49" stroke="#ff0a0a" fill="none"><path d="M736.5 568.6L768.0 378" stroke-width="22" stroke-linecap="butt"/><path d="M718 439L768.4 376.5L794.5 449.5" stroke-width="21.5" stroke-linecap="round" stroke-linejoin="miter" stroke-miterlimit="10"/></g></svg></body></html>
